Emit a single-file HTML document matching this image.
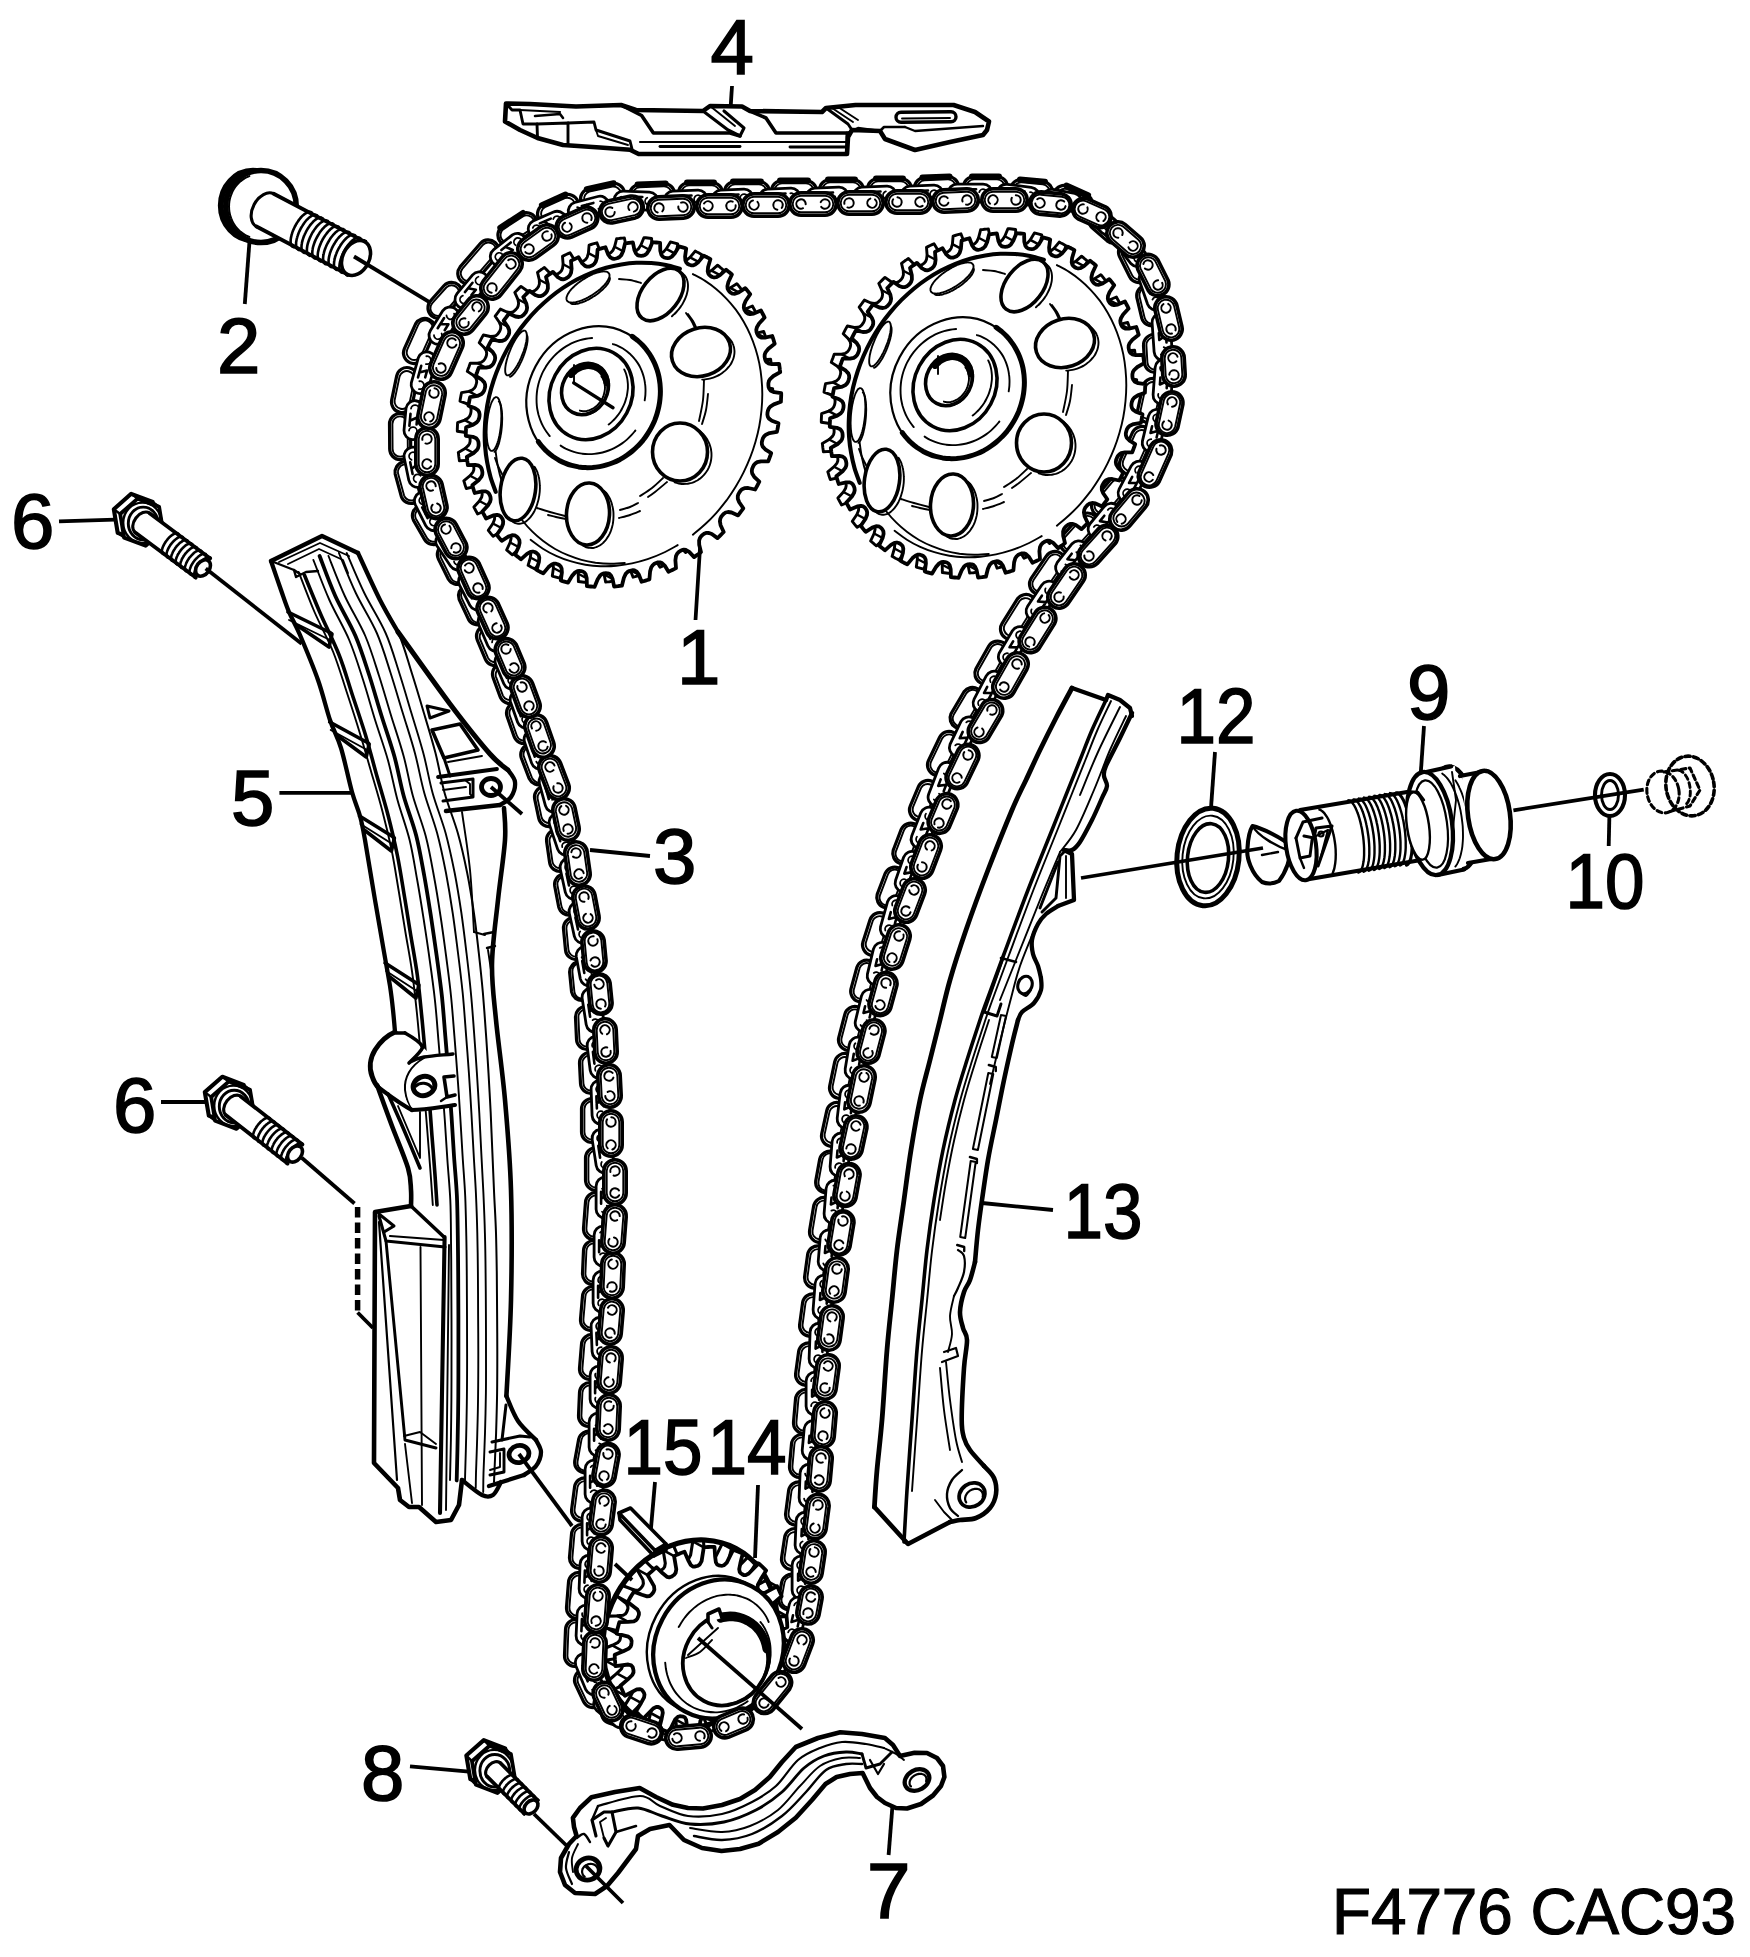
<!DOCTYPE html>
<html lang="en">
<head>
<meta charset="utf-8">
<title>F4776 CAC93</title>
<style>html,body{margin:0;padding:0;background:#fff}body{width:1750px;height:1957px;overflow:hidden}svg{display:block}</style>
</head>
<body>
<svg width="1750" height="1957" viewBox="0 0 1750 1957" fill="none" stroke="#000" stroke-linecap="round" stroke-linejoin="round">
<g id="chain-back">
<path d="M593.2 209.3 L616.2 204.3 A10.5 10.5 0 0 0 611.8 183.7 L588.8 188.7 A10.5 10.5 0 0 0 593.2 209.3Z" fill="#fff" stroke-width="3.2" />
<path d="M592.6 206.4 L615.6 201.4 A7.6 7.6 0 0 0 612.4 186.6 L589.4 191.6 A7.6 7.6 0 0 0 592.6 206.4Z" fill="none" stroke-width="1.9" />
<line x1="586.8" y1="189.2" x2="613.7" y2="183.3" stroke-width="6" />
<path d="M640.4 205.5 L664.4 204.5 A10.5 10.5 0 0 0 663.6 183.5 L639.6 184.5 A10.5 10.5 0 0 0 640.4 205.5Z" fill="#fff" stroke-width="3.2" />
<path d="M640.3 202.6 L664.3 201.6 A7.6 7.6 0 0 0 663.7 186.4 L639.7 187.4 A7.6 7.6 0 0 0 640.3 202.6Z" fill="none" stroke-width="1.9" />
<line x1="637.6" y1="184.6" x2="665.6" y2="183.4" stroke-width="6" />
<path d="M689 203.5 L712 203.5 A10.5 10.5 0 0 0 712 182.5 L689 182.5 A10.5 10.5 0 0 0 689 203.5Z" fill="#fff" stroke-width="3.2" />
<path d="M689 200.6 L712 200.6 A7.6 7.6 0 0 0 712 185.4 L689 185.4 A7.6 7.6 0 0 0 689 200.6Z" fill="none" stroke-width="1.9" />
<line x1="687" y1="182.5" x2="714" y2="182.5" stroke-width="6" />
<path d="M735 202.5 L759 202.5 A10.5 10.5 0 0 0 759 181.5 L735 181.5 A10.5 10.5 0 0 0 735 202.5Z" fill="#fff" stroke-width="3.2" />
<path d="M735 199.6 L759 199.6 A7.6 7.6 0 0 0 759 184.4 L735 184.4 A7.6 7.6 0 0 0 735 199.6Z" fill="none" stroke-width="1.9" />
<line x1="733" y1="181.5" x2="761" y2="181.5" stroke-width="6" />
<path d="M782 201.5 L806 201.5 A10.5 10.5 0 0 0 806 180.5 L782 180.5 A10.5 10.5 0 0 0 782 201.5Z" fill="#fff" stroke-width="3.2" />
<path d="M782 198.6 L806 198.6 A7.6 7.6 0 0 0 806 183.4 L782 183.4 A7.6 7.6 0 0 0 782 198.6Z" fill="none" stroke-width="1.9" />
<line x1="780" y1="180.5" x2="808" y2="180.5" stroke-width="6" />
<path d="M830 200.5 L853 200.5 A10.5 10.5 0 0 0 853 179.5 L830 179.5 A10.5 10.5 0 0 0 830 200.5Z" fill="#fff" stroke-width="3.2" />
<path d="M830 197.6 L853 197.6 A7.6 7.6 0 0 0 853 182.4 L830 182.4 A7.6 7.6 0 0 0 830 197.6Z" fill="none" stroke-width="1.9" />
<line x1="828" y1="179.5" x2="855" y2="179.5" stroke-width="6" />
<path d="M878 199.5 L901 199.5 A10.5 10.5 0 0 0 901 178.5 L878 178.5 A10.5 10.5 0 0 0 878 199.5Z" fill="#fff" stroke-width="3.2" />
<path d="M878 196.6 L901 196.6 A7.6 7.6 0 0 0 901 181.4 L878 181.4 A7.6 7.6 0 0 0 878 196.6Z" fill="none" stroke-width="1.9" />
<line x1="876" y1="178.5" x2="903" y2="178.5" stroke-width="6" />
<path d="M925.5 198.5 L948.5 197.5 A10.5 10.5 0 0 0 947.5 176.5 L924.5 177.5 A10.5 10.5 0 0 0 925.5 198.5Z" fill="#fff" stroke-width="3.2" />
<path d="M925.3 195.6 L948.3 194.6 A7.6 7.6 0 0 0 947.7 179.4 L924.7 180.4 A7.6 7.6 0 0 0 925.3 195.6Z" fill="none" stroke-width="1.9" />
<line x1="922.5" y1="177.6" x2="949.5" y2="176.4" stroke-width="6" />
<path d="M974 197.5 L997 197.5 A10.5 10.5 0 0 0 997 176.5 L974 176.5 A10.5 10.5 0 0 0 974 197.5Z" fill="#fff" stroke-width="3.2" />
<path d="M974 194.6 L997 194.6 A7.6 7.6 0 0 0 997 179.4 L974 179.4 A7.6 7.6 0 0 0 974 194.6Z" fill="none" stroke-width="1.9" />
<line x1="972" y1="176.5" x2="999" y2="176.5" stroke-width="6" />
<path d="M1020 200.5 L1041 202.5 A10.5 10.5 0 0 0 1043 181.5 L1022 179.5 A10.5 10.5 0 0 0 1020 200.5Z" fill="#fff" stroke-width="3.2" />
<path d="M1020.3 197.6 L1041.3 199.6 A7.6 7.6 0 0 0 1042.7 184.4 L1021.7 182.4 A7.6 7.6 0 0 0 1020.3 197.6Z" fill="none" stroke-width="1.9" />
<line x1="1020" y1="179.4" x2="1045" y2="181.7" stroke-width="6" />
<path d="M1059.7 205.6 L1077.7 213.6 A10.5 10.5 0 0 0 1086.3 194.4 L1068.3 186.4 A10.5 10.5 0 0 0 1059.7 205.6Z" fill="#fff" stroke-width="3.2" />
<path d="M1060.9 202.9 L1078.9 210.9 A7.6 7.6 0 0 0 1085.1 197.1 L1067.1 189.1 A7.6 7.6 0 0 0 1060.9 202.9Z" fill="none" stroke-width="1.9" />
<line x1="1066.4" y1="185.6" x2="1088.1" y2="195.2" stroke-width="6" />
<path d="M1092.1 227.9 L1107.1 240.9 A10.5 10.5 0 0 0 1120.9 225.1 L1105.9 212.1 A10.5 10.5 0 0 0 1092.1 227.9Z" fill="#fff" stroke-width="3.2" />
<path d="M1094 225.7 L1109 238.7 A7.6 7.6 0 0 0 1119 227.3 L1104 214.3 A7.6 7.6 0 0 0 1094 225.7Z" fill="none" stroke-width="1.9" />
<path d="M1119.6 256.7 L1129.6 276.7 A10.5 10.5 0 0 0 1148.4 267.3 L1138.4 247.3 A10.5 10.5 0 0 0 1119.6 256.7Z" fill="#fff" stroke-width="3.2" />
<path d="M1122.2 255.4 L1132.2 275.4 A7.6 7.6 0 0 0 1145.8 268.6 L1135.8 248.6 A7.6 7.6 0 0 0 1122.2 255.4Z" fill="none" stroke-width="1.9" />
<path d="M1136.8 297.4 L1141.8 318.4 A10.5 10.5 0 0 0 1162.2 313.6 L1157.2 292.6 A10.5 10.5 0 0 0 1136.8 297.4Z" fill="#fff" stroke-width="3.2" />
<path d="M1139.6 296.8 L1144.6 317.8 A7.6 7.6 0 0 0 1159.4 314.2 L1154.4 293.2 A7.6 7.6 0 0 0 1139.6 296.8Z" fill="none" stroke-width="1.9" />
<path d="M1143.5 345.6 L1144.5 362.6 A10.5 10.5 0 0 0 1165.5 361.4 L1164.5 344.4 A10.5 10.5 0 0 0 1143.5 345.6Z" fill="#fff" stroke-width="3.2" />
<path d="M1146.4 345.4 L1147.4 362.4 A7.6 7.6 0 0 0 1162.6 361.6 L1161.6 344.6 A7.6 7.6 0 0 0 1146.4 345.4Z" fill="none" stroke-width="1.9" />
<path d="M1142.7 386.8 L1137.7 409.8 A10.5 10.5 0 0 0 1158.3 414.2 L1163.3 391.2 A10.5 10.5 0 0 0 1142.7 386.8Z" fill="#fff" stroke-width="3.2" />
<path d="M1145.6 387.4 L1140.6 410.4 A7.6 7.6 0 0 0 1155.4 413.6 L1160.4 390.6 A7.6 7.6 0 0 0 1145.6 387.4Z" fill="none" stroke-width="1.9" />
<path d="M1132.4 432.7 L1120.4 459.7 A10.5 10.5 0 0 0 1139.6 468.3 L1151.6 441.3 A10.5 10.5 0 0 0 1132.4 432.7Z" fill="#fff" stroke-width="3.2" />
<path d="M1135.1 433.9 L1123.1 460.9 A7.6 7.6 0 0 0 1136.9 467.1 L1148.9 440.1 A7.6 7.6 0 0 0 1135.1 433.9Z" fill="none" stroke-width="1.9" />
<path d="M1110 480.2 L1094 499.2 A10.5 10.5 0 0 0 1110 512.8 L1126 493.8 A10.5 10.5 0 0 0 1110 480.2Z" fill="#fff" stroke-width="3.2" />
<path d="M1112.2 482.1 L1096.2 501.1 A7.6 7.6 0 0 0 1107.8 510.9 L1123.8 491.9 A7.6 7.6 0 0 0 1112.2 482.1Z" fill="none" stroke-width="1.9" />
<path d="M1080.2 516 L1062.2 536 A10.5 10.5 0 0 0 1077.8 550 L1095.8 530 A10.5 10.5 0 0 0 1080.2 516Z" fill="#fff" stroke-width="3.2" />
<path d="M1082.4 517.9 L1064.4 537.9 A7.6 7.6 0 0 0 1075.6 548.1 L1093.6 528.1 A7.6 7.6 0 0 0 1082.4 517.9Z" fill="none" stroke-width="1.9" />
<path d="M1046.3 556.1 L1031.3 578.1 A10.5 10.5 0 0 0 1048.7 589.9 L1063.7 567.9 A10.5 10.5 0 0 0 1046.3 556.1Z" fill="#fff" stroke-width="3.2" />
<path d="M1048.7 557.7 L1033.7 579.7 A7.6 7.6 0 0 0 1046.3 588.3 L1061.3 566.3 A7.6 7.6 0 0 0 1048.7 557.7Z" fill="none" stroke-width="1.9" />
<path d="M1017.1 599.4 L1002.1 623.4 A10.5 10.5 0 0 0 1019.9 634.6 L1034.9 610.6 A10.5 10.5 0 0 0 1017.1 599.4Z" fill="#fff" stroke-width="3.2" />
<path d="M1019.6 601 L1004.6 625 A7.6 7.6 0 0 0 1017.4 633 L1032.4 609 A7.6 7.6 0 0 0 1019.6 601Z" fill="none" stroke-width="1.9" />
<path d="M988.9 645.8 L975.9 668.8 A10.5 10.5 0 0 0 994.1 679.2 L1007.1 656.2 A10.5 10.5 0 0 0 988.9 645.8Z" fill="#fff" stroke-width="3.2" />
<path d="M991.4 647.3 L978.4 670.3 A7.6 7.6 0 0 0 991.6 677.7 L1004.6 654.7 A7.6 7.6 0 0 0 991.4 647.3Z" fill="none" stroke-width="1.9" />
<path d="M964 691.7 L951 713.7 A10.5 10.5 0 0 0 969 724.3 L982 702.3 A10.5 10.5 0 0 0 964 691.7Z" fill="#fff" stroke-width="3.2" />
<path d="M966.5 693.1 L953.5 715.1 A7.6 7.6 0 0 0 966.5 722.9 L979.5 700.9 A7.6 7.6 0 0 0 966.5 693.1Z" fill="none" stroke-width="1.9" />
<path d="M939.5 737.5 L928.5 760.5 A10.5 10.5 0 0 0 947.5 769.5 L958.5 746.5 A10.5 10.5 0 0 0 939.5 737.5Z" fill="#fff" stroke-width="3.2" />
<path d="M942.1 738.7 L931.1 761.7 A7.6 7.6 0 0 0 944.9 768.3 L955.9 745.3 A7.6 7.6 0 0 0 942.1 738.7Z" fill="none" stroke-width="1.9" />
<path d="M918.3 786.9 L910.3 805.9 A10.5 10.5 0 0 0 929.7 814.1 L937.7 795.1 A10.5 10.5 0 0 0 918.3 786.9Z" fill="#fff" stroke-width="3.2" />
<path d="M921 788.1 L913 807.1 A7.6 7.6 0 0 0 927 812.9 L935 793.9 A7.6 7.6 0 0 0 921 788.1Z" fill="none" stroke-width="1.9" />
<path d="M901.2 829.3 L893.2 850.3 A10.5 10.5 0 0 0 912.8 857.7 L920.8 836.7 A10.5 10.5 0 0 0 901.2 829.3Z" fill="#fff" stroke-width="3.2" />
<path d="M903.9 830.3 L895.9 851.3 A7.6 7.6 0 0 0 910.1 856.7 L918.1 835.7 A7.6 7.6 0 0 0 903.9 830.3Z" fill="none" stroke-width="1.9" />
<path d="M885.2 873.3 L877.2 894.3 A10.5 10.5 0 0 0 896.8 901.7 L904.8 880.7 A10.5 10.5 0 0 0 885.2 873.3Z" fill="#fff" stroke-width="3.2" />
<path d="M887.9 874.3 L879.9 895.3 A7.6 7.6 0 0 0 894.1 900.7 L902.1 879.7 A7.6 7.6 0 0 0 887.9 874.3Z" fill="none" stroke-width="1.9" />
<path d="M870 919.8 L863 941.8 A10.5 10.5 0 0 0 883 948.2 L890 926.2 A10.5 10.5 0 0 0 870 919.8Z" fill="#fff" stroke-width="3.2" />
<path d="M872.8 920.7 L865.8 942.7 A7.6 7.6 0 0 0 880.2 947.3 L887.2 925.3 A7.6 7.6 0 0 0 872.8 920.7Z" fill="none" stroke-width="1.9" />
<path d="M856.9 967.2 L850.9 989.2 A10.5 10.5 0 0 0 871.1 994.8 L877.1 972.8 A10.5 10.5 0 0 0 856.9 967.2Z" fill="#fff" stroke-width="3.2" />
<path d="M859.7 968 L853.7 990 A7.6 7.6 0 0 0 868.3 994 L874.3 972 A7.6 7.6 0 0 0 859.7 968Z" fill="none" stroke-width="1.9" />
<path d="M844.8 1014.3 L838.8 1037.3 A10.5 10.5 0 0 0 859.2 1042.7 L865.2 1019.7 A10.5 10.5 0 0 0 844.8 1014.3Z" fill="#fff" stroke-width="3.2" />
<path d="M847.6 1015.1 L841.6 1038.1 A7.6 7.6 0 0 0 856.4 1041.9 L862.4 1018.9 A7.6 7.6 0 0 0 847.6 1015.1Z" fill="none" stroke-width="1.9" />
<path d="M834.7 1061.9 L829.7 1085.9 A10.5 10.5 0 0 0 850.3 1090.1 L855.3 1066.1 A10.5 10.5 0 0 0 834.7 1061.9Z" fill="#fff" stroke-width="3.2" />
<path d="M837.6 1062.4 L832.6 1086.4 A7.6 7.6 0 0 0 847.4 1089.6 L852.4 1065.6 A7.6 7.6 0 0 0 837.6 1062.4Z" fill="none" stroke-width="1.9" />
<path d="M826.7 1110.8 L821.7 1133.8 A10.5 10.5 0 0 0 842.3 1138.2 L847.3 1115.2 A10.5 10.5 0 0 0 826.7 1110.8Z" fill="#fff" stroke-width="3.2" />
<path d="M829.6 1111.4 L824.6 1134.4 A7.6 7.6 0 0 0 839.4 1137.6 L844.4 1114.6 A7.6 7.6 0 0 0 829.6 1111.4Z" fill="none" stroke-width="1.9" />
<path d="M819.7 1159.1 L815.7 1181.1 A10.5 10.5 0 0 0 836.3 1184.9 L840.3 1162.9 A10.5 10.5 0 0 0 819.7 1159.1Z" fill="#fff" stroke-width="3.2" />
<path d="M822.5 1159.6 L818.5 1181.6 A7.6 7.6 0 0 0 833.5 1184.4 L837.5 1162.4 A7.6 7.6 0 0 0 822.5 1159.6Z" fill="none" stroke-width="1.9" />
<path d="M813.6 1206.3 L809.6 1230.3 A10.5 10.5 0 0 0 830.4 1233.7 L834.4 1209.7 A10.5 10.5 0 0 0 813.6 1206.3Z" fill="#fff" stroke-width="3.2" />
<path d="M816.5 1206.8 L812.5 1230.8 A7.6 7.6 0 0 0 827.5 1233.2 L831.5 1209.2 A7.6 7.6 0 0 0 816.5 1206.8Z" fill="none" stroke-width="1.9" />
<path d="M807.6 1254.6 L804.6 1276.6 A10.5 10.5 0 0 0 825.4 1279.4 L828.4 1257.4 A10.5 10.5 0 0 0 807.6 1254.6Z" fill="#fff" stroke-width="3.2" />
<path d="M810.5 1255 L807.5 1277 A7.6 7.6 0 0 0 822.5 1279 L825.5 1257 A7.6 7.6 0 0 0 810.5 1255Z" fill="none" stroke-width="1.9" />
<path d="M802.6 1302.6 L799.6 1324.6 A10.5 10.5 0 0 0 820.4 1327.4 L823.4 1305.4 A10.5 10.5 0 0 0 802.6 1302.6Z" fill="#fff" stroke-width="3.2" />
<path d="M805.5 1303 L802.5 1325 A7.6 7.6 0 0 0 817.5 1327 L820.5 1305 A7.6 7.6 0 0 0 805.5 1303Z" fill="none" stroke-width="1.9" />
<path d="M798.6 1351.6 L795.6 1373.6 A10.5 10.5 0 0 0 816.4 1376.4 L819.4 1354.4 A10.5 10.5 0 0 0 798.6 1351.6Z" fill="#fff" stroke-width="3.2" />
<path d="M801.5 1352 L798.5 1374 A7.6 7.6 0 0 0 813.5 1376 L816.5 1354 A7.6 7.6 0 0 0 801.5 1352Z" fill="none" stroke-width="1.9" />
<path d="M795.5 1399.1 L793.5 1422.1 A10.5 10.5 0 0 0 814.5 1423.9 L816.5 1400.9 A10.5 10.5 0 0 0 795.5 1399.1Z" fill="#fff" stroke-width="3.2" />
<path d="M798.4 1399.3 L796.4 1422.3 A7.6 7.6 0 0 0 811.6 1423.7 L813.6 1400.7 A7.6 7.6 0 0 0 798.4 1399.3Z" fill="none" stroke-width="1.9" />
<path d="M791.5 1444 L789.5 1466 A10.5 10.5 0 0 0 810.5 1468 L812.5 1446 A10.5 10.5 0 0 0 791.5 1444Z" fill="#fff" stroke-width="3.2" />
<path d="M794.4 1444.3 L792.4 1466.3 A7.6 7.6 0 0 0 807.6 1467.7 L809.6 1445.7 A7.6 7.6 0 0 0 794.4 1444.3Z" fill="none" stroke-width="1.9" />
<path d="M788.6 1490.6 L785.6 1513.6 A10.5 10.5 0 0 0 806.4 1516.4 L809.4 1493.4 A10.5 10.5 0 0 0 788.6 1490.6Z" fill="#fff" stroke-width="3.2" />
<path d="M791.5 1491 L788.5 1514 A7.6 7.6 0 0 0 803.5 1516 L806.5 1493 A7.6 7.6 0 0 0 791.5 1491Z" fill="none" stroke-width="1.9" />
<path d="M784.6 1537.4 L781.6 1557.4 A10.5 10.5 0 0 0 802.4 1560.6 L805.4 1540.6 A10.5 10.5 0 0 0 784.6 1537.4Z" fill="#fff" stroke-width="3.2" />
<path d="M787.5 1537.9 L784.5 1557.9 A7.6 7.6 0 0 0 799.5 1560.1 L802.5 1540.1 A7.6 7.6 0 0 0 787.5 1537.9Z" fill="none" stroke-width="1.9" />
<path d="M781.7 1582.1 L778.7 1598.1 A10.5 10.5 0 0 0 799.3 1601.9 L802.3 1585.9 A10.5 10.5 0 0 0 781.7 1582.1Z" fill="#fff" stroke-width="3.2" />
<path d="M784.5 1582.6 L781.5 1598.6 A7.6 7.6 0 0 0 796.5 1601.4 L799.5 1585.4 A7.6 7.6 0 0 0 784.5 1582.6Z" fill="none" stroke-width="1.9" />
<path d="M773.2 1623.3 L765.2 1644.3 A10.5 10.5 0 0 0 784.8 1651.7 L792.8 1630.7 A10.5 10.5 0 0 0 773.2 1623.3Z" fill="#fff" stroke-width="3.2" />
<path d="M775.9 1624.3 L767.9 1645.3 A7.6 7.6 0 0 0 782.1 1650.7 L790.1 1629.7 A7.6 7.6 0 0 0 775.9 1624.3Z" fill="none" stroke-width="1.9" />
<path d="M753.8 1662.4 L736.8 1683.4 A10.5 10.5 0 0 0 753.2 1696.6 L770.2 1675.6 A10.5 10.5 0 0 0 753.8 1662.4Z" fill="#fff" stroke-width="3.2" />
<path d="M756.1 1664.2 L739.1 1685.2 A7.6 7.6 0 0 0 750.9 1694.8 L767.9 1673.8 A7.6 7.6 0 0 0 756.1 1664.2Z" fill="none" stroke-width="1.9" />
<path d="M719.9 1696.3 L700.9 1704.3 A10.5 10.5 0 0 0 709.1 1723.7 L728.1 1715.7 A10.5 10.5 0 0 0 719.9 1696.3Z" fill="#fff" stroke-width="3.2" />
<path d="M721.1 1699 L702.1 1707 A7.6 7.6 0 0 0 707.9 1721 L726.9 1713 A7.6 7.6 0 0 0 721.1 1699Z" fill="none" stroke-width="1.9" />
<path d="M680.1 1712.5 L657.1 1714.5 A10.5 10.5 0 0 0 658.9 1735.5 L681.9 1733.5 A10.5 10.5 0 0 0 680.1 1712.5Z" fill="#fff" stroke-width="3.2" />
<path d="M680.3 1715.4 L657.3 1717.4 A7.6 7.6 0 0 0 658.7 1732.6 L681.7 1730.6 A7.6 7.6 0 0 0 680.3 1715.4Z" fill="none" stroke-width="1.9" />
<path d="M636.3 1710 L615.3 1703 A10.5 10.5 0 0 0 608.7 1723 L629.7 1730 A10.5 10.5 0 0 0 636.3 1710Z" fill="#fff" stroke-width="3.2" />
<path d="M635.4 1712.8 L614.4 1705.8 A7.6 7.6 0 0 0 609.6 1720.2 L630.6 1727.2 A7.6 7.6 0 0 0 635.4 1712.8Z" fill="none" stroke-width="1.9" />
<path d="M602.5 1692.5 L594.5 1675.5 A10.5 10.5 0 0 0 575.5 1684.5 L583.5 1701.5 A10.5 10.5 0 0 0 602.5 1692.5Z" fill="#fff" stroke-width="3.2" />
<path d="M599.9 1693.8 L591.9 1676.8 A7.6 7.6 0 0 0 578.1 1683.2 L586.1 1700.2 A7.6 7.6 0 0 0 599.9 1693.8Z" fill="none" stroke-width="1.9" />
<path d="M585.5 1656.4 L586.5 1630.4 A10.5 10.5 0 0 0 565.5 1629.6 L564.5 1655.6 A10.5 10.5 0 0 0 585.5 1656.4Z" fill="#fff" stroke-width="3.2" />
<path d="M582.6 1656.3 L583.6 1630.3 A7.6 7.6 0 0 0 568.4 1629.7 L567.4 1655.7 A7.6 7.6 0 0 0 582.6 1656.3Z" fill="none" stroke-width="1.9" />
<path d="M587.5 1608.8 L589.5 1583.8 A10.5 10.5 0 0 0 568.5 1582.2 L566.5 1607.2 A10.5 10.5 0 0 0 587.5 1608.8Z" fill="#fff" stroke-width="3.2" />
<path d="M584.6 1608.6 L586.6 1583.6 A7.6 7.6 0 0 0 571.4 1582.4 L569.4 1607.4 A7.6 7.6 0 0 0 584.6 1608.6Z" fill="none" stroke-width="1.9" />
<path d="M590.5 1558.9 L592.5 1535.9 A10.5 10.5 0 0 0 571.5 1534.1 L569.5 1557.1 A10.5 10.5 0 0 0 590.5 1558.9Z" fill="#fff" stroke-width="3.2" />
<path d="M587.6 1558.7 L589.6 1535.7 A7.6 7.6 0 0 0 574.4 1534.3 L572.4 1557.3 A7.6 7.6 0 0 0 587.6 1558.7Z" fill="none" stroke-width="1.9" />
<path d="M592.4 1512.4 L595.4 1489.4 A10.5 10.5 0 0 0 574.6 1486.6 L571.6 1509.6 A10.5 10.5 0 0 0 592.4 1512.4Z" fill="#fff" stroke-width="3.2" />
<path d="M589.5 1512 L592.5 1489 A7.6 7.6 0 0 0 577.5 1487 L574.5 1510 A7.6 7.6 0 0 0 589.5 1512Z" fill="none" stroke-width="1.9" />
<path d="M595.3 1464.9 L599.3 1442.9 A10.5 10.5 0 0 0 578.7 1439.1 L574.7 1461.1 A10.5 10.5 0 0 0 595.3 1464.9Z" fill="#fff" stroke-width="3.2" />
<path d="M592.5 1464.4 L596.5 1442.4 A7.6 7.6 0 0 0 581.5 1439.6 L577.5 1461.6 A7.6 7.6 0 0 0 592.5 1464.4Z" fill="none" stroke-width="1.9" />
<path d="M599.5 1416.5 L600.5 1393.5 A10.5 10.5 0 0 0 579.5 1392.5 L578.5 1415.5 A10.5 10.5 0 0 0 599.5 1416.5Z" fill="#fff" stroke-width="3.2" />
<path d="M596.6 1416.3 L597.6 1393.3 A7.6 7.6 0 0 0 582.4 1392.7 L581.4 1415.7 A7.6 7.6 0 0 0 596.6 1416.3Z" fill="none" stroke-width="1.9" />
<path d="M600.5 1369.9 L602.5 1345.9 A10.5 10.5 0 0 0 581.5 1344.1 L579.5 1368.1 A10.5 10.5 0 0 0 600.5 1369.9Z" fill="#fff" stroke-width="3.2" />
<path d="M597.6 1369.6 L599.6 1345.6 A7.6 7.6 0 0 0 584.4 1344.4 L582.4 1368.4 A7.6 7.6 0 0 0 597.6 1369.6Z" fill="none" stroke-width="1.9" />
<path d="M601.5 1320.9 L603.5 1297.9 A10.5 10.5 0 0 0 582.5 1296.1 L580.5 1319.1 A10.5 10.5 0 0 0 601.5 1320.9Z" fill="#fff" stroke-width="3.2" />
<path d="M598.6 1320.7 L600.6 1297.7 A7.6 7.6 0 0 0 585.4 1296.3 L583.4 1319.3 A7.6 7.6 0 0 0 598.6 1320.7Z" fill="none" stroke-width="1.9" />
<path d="M603.5 1274.5 L604.5 1251.5 A10.5 10.5 0 0 0 583.5 1250.5 L582.5 1273.5 A10.5 10.5 0 0 0 603.5 1274.5Z" fill="#fff" stroke-width="3.2" />
<path d="M600.6 1274.3 L601.6 1251.3 A7.6 7.6 0 0 0 586.4 1250.7 L585.4 1273.7 A7.6 7.6 0 0 0 600.6 1274.3Z" fill="none" stroke-width="1.9" />
<path d="M604.5 1229.8 L606.5 1203.8 A10.5 10.5 0 0 0 585.5 1202.2 L583.5 1228.2 A10.5 10.5 0 0 0 604.5 1229.8Z" fill="#fff" stroke-width="3.2" />
<path d="M601.6 1229.6 L603.6 1203.6 A7.6 7.6 0 0 0 588.4 1202.4 L586.4 1228.4 A7.6 7.6 0 0 0 601.6 1229.6Z" fill="none" stroke-width="1.9" />
<path d="M606.5 1180 L606.5 1158 A10.5 10.5 0 0 0 585.5 1158 L585.5 1180 A10.5 10.5 0 0 0 606.5 1180Z" fill="#fff" stroke-width="3.2" />
<path d="M603.6 1180 L603.6 1158 A7.6 7.6 0 0 0 588.4 1158 L588.4 1180 A7.6 7.6 0 0 0 603.6 1180Z" fill="none" stroke-width="1.9" />
<path d="M602.5 1132 L602.5 1109 A10.5 10.5 0 0 0 581.5 1109 L581.5 1132 A10.5 10.5 0 0 0 602.5 1132Z" fill="#fff" stroke-width="3.2" />
<path d="M599.6 1132 L599.6 1109 A7.6 7.6 0 0 0 584.4 1109 L584.4 1132 A7.6 7.6 0 0 0 599.6 1132Z" fill="none" stroke-width="1.9" />
<path d="M601.5 1082.5 L600.5 1062.5 A10.5 10.5 0 0 0 579.5 1063.5 L580.5 1083.5 A10.5 10.5 0 0 0 601.5 1082.5Z" fill="#fff" stroke-width="3.2" />
<path d="M598.6 1082.6 L597.6 1062.6 A7.6 7.6 0 0 0 582.4 1063.4 L583.4 1083.4 A7.6 7.6 0 0 0 598.6 1082.6Z" fill="none" stroke-width="1.9" />
<path d="M597.5 1038.5 L596.5 1016.5 A10.5 10.5 0 0 0 575.5 1017.5 L576.5 1039.5 A10.5 10.5 0 0 0 597.5 1038.5Z" fill="#fff" stroke-width="3.2" />
<path d="M594.6 1038.7 L593.6 1016.7 A7.6 7.6 0 0 0 578.4 1017.3 L579.4 1039.3 A7.6 7.6 0 0 0 594.6 1038.7Z" fill="none" stroke-width="1.9" />
<path d="M592.4 990 L590.4 970 A10.5 10.5 0 0 0 569.6 972 L571.6 992 A10.5 10.5 0 0 0 592.4 990Z" fill="#fff" stroke-width="3.2" />
<path d="M589.6 990.2 L587.6 970.2 A7.6 7.6 0 0 0 572.4 971.8 L574.4 991.8 A7.6 7.6 0 0 0 589.6 990.2Z" fill="none" stroke-width="1.9" />
<path d="M586.5 948 L584.5 927 A10.5 10.5 0 0 0 563.5 929 L565.5 950 A10.5 10.5 0 0 0 586.5 948Z" fill="#fff" stroke-width="3.2" />
<path d="M583.6 948.3 L581.6 927.3 A7.6 7.6 0 0 0 566.4 928.7 L568.4 949.7 A7.6 7.6 0 0 0 583.6 948.3Z" fill="none" stroke-width="1.9" />
<path d="M579.3 903 L575.3 882 A10.5 10.5 0 0 0 554.7 886 L558.7 907 A10.5 10.5 0 0 0 579.3 903Z" fill="#fff" stroke-width="3.2" />
<path d="M576.5 903.6 L572.5 882.6 A7.6 7.6 0 0 0 557.5 885.4 L561.5 906.4 A7.6 7.6 0 0 0 576.5 903.6Z" fill="none" stroke-width="1.9" />
<path d="M570.4 859.5 L567.4 838.5 A10.5 10.5 0 0 0 546.6 841.5 L549.6 862.5 A10.5 10.5 0 0 0 570.4 859.5Z" fill="#fff" stroke-width="3.2" />
<path d="M567.5 859.9 L564.5 838.9 A7.6 7.6 0 0 0 549.5 841.1 L552.5 862.1 A7.6 7.6 0 0 0 567.5 859.9Z" fill="none" stroke-width="1.9" />
<path d="M559.3 813.8 L555.3 794.8 A10.5 10.5 0 0 0 534.7 799.2 L538.7 818.2 A10.5 10.5 0 0 0 559.3 813.8Z" fill="#fff" stroke-width="3.2" />
<path d="M556.4 814.4 L552.4 795.4 A7.6 7.6 0 0 0 537.6 798.6 L541.6 817.6 A7.6 7.6 0 0 0 556.4 814.4Z" fill="none" stroke-width="1.9" />
<path d="M548.8 771.3 L540.8 750.3 A10.5 10.5 0 0 0 521.2 757.7 L529.2 778.7 A10.5 10.5 0 0 0 548.8 771.3Z" fill="#fff" stroke-width="3.2" />
<path d="M546.1 772.3 L538.1 751.3 A7.6 7.6 0 0 0 523.9 756.7 L531.9 777.7 A7.6 7.6 0 0 0 546.1 772.3Z" fill="none" stroke-width="1.9" />
<path d="M533.9 729.5 L526.9 709.5 A10.5 10.5 0 0 0 507.1 716.5 L514.1 736.5 A10.5 10.5 0 0 0 533.9 729.5Z" fill="#fff" stroke-width="3.2" />
<path d="M531.2 730.5 L524.2 710.5 A7.6 7.6 0 0 0 509.8 715.5 L516.8 735.5 A7.6 7.6 0 0 0 531.2 730.5Z" fill="none" stroke-width="1.9" />
<path d="M519.9 689.4 L512.9 670.4 A10.5 10.5 0 0 0 493.1 677.6 L500.1 696.6 A10.5 10.5 0 0 0 519.9 689.4Z" fill="#fff" stroke-width="3.2" />
<path d="M517.1 690.4 L510.1 671.4 A7.6 7.6 0 0 0 495.9 676.6 L502.9 695.6 A7.6 7.6 0 0 0 517.1 690.4Z" fill="none" stroke-width="1.9" />
<path d="M504.7 650.9 L496.7 631.9 A10.5 10.5 0 0 0 477.3 640.1 L485.3 659.1 A10.5 10.5 0 0 0 504.7 650.9Z" fill="#fff" stroke-width="3.2" />
<path d="M502 652.1 L494 633.1 A7.6 7.6 0 0 0 480 638.9 L488 657.9 A7.6 7.6 0 0 0 502 652.1Z" fill="none" stroke-width="1.9" />
<path d="M487.5 610.6 L478.1 590.5 A10.5 10.5 0 0 0 459.1 599.3 L468.5 619.4 A10.5 10.5 0 0 0 487.5 610.6Z" fill="#fff" stroke-width="3.2" />
<path d="M484.9 611.8 L475.5 591.7 A7.6 7.6 0 0 0 461.7 598.1 L471.1 618.2 A7.6 7.6 0 0 0 484.9 611.8Z" fill="none" stroke-width="1.9" />
<path d="M467.2 570.1 L457.3 549.8 A10.5 10.5 0 0 0 438.4 559.1 L448.4 579.3 A10.5 10.5 0 0 0 467.2 570.1Z" fill="#fff" stroke-width="3.2" />
<path d="M464.6 571.3 L454.7 551.1 A7.6 7.6 0 0 0 441 557.8 L451 578.1 A7.6 7.6 0 0 0 464.6 571.3Z" fill="none" stroke-width="1.9" />
<path d="M442.7 528.9 L431.5 509.6 A10.5 10.5 0 0 0 413.4 520.1 L424.5 539.4 A10.5 10.5 0 0 0 442.7 528.9Z" fill="#fff" stroke-width="3.2" />
<path d="M440.2 530.3 L429 511.1 A7.6 7.6 0 0 0 415.9 518.7 L427 538 A7.6 7.6 0 0 0 440.2 530.3Z" fill="none" stroke-width="1.9" />
<path d="M421.5 490.8 L415.4 468.6 A10.5 10.5 0 0 0 395.2 474.1 L401.3 496.4 A10.5 10.5 0 0 0 421.5 490.8Z" fill="#fff" stroke-width="3.2" />
<path d="M418.7 491.6 L412.6 469.3 A7.6 7.6 0 0 0 398 473.3 L404.1 495.6 A7.6 7.6 0 0 0 418.7 491.6Z" fill="none" stroke-width="1.9" />
<path d="M410.7 449 L410.5 423.9 A10.5 10.5 0 0 0 389.5 424.1 L389.7 449.1 A10.5 10.5 0 0 0 410.7 449Z" fill="#fff" stroke-width="3.2" />
<path d="M407.8 449 L407.6 423.9 A7.6 7.6 0 0 0 392.4 424.1 L392.6 449.1 A7.6 7.6 0 0 0 407.8 449Z" fill="none" stroke-width="1.9" />
<path d="M412.3 404.1 L417.3 380.1 A10.5 10.5 0 0 0 396.7 375.9 L391.7 399.9 A10.5 10.5 0 0 0 412.3 404.1Z" fill="#fff" stroke-width="3.2" />
<path d="M409.4 403.6 L414.4 379.6 A7.6 7.6 0 0 0 399.6 376.4 L394.6 400.4 A7.6 7.6 0 0 0 409.4 403.6Z" fill="none" stroke-width="1.9" />
<path d="M423.6 357.3 L434.7 332.3 A10.5 10.5 0 0 0 415.6 323.8 L404.4 348.7 A10.5 10.5 0 0 0 423.6 357.3Z" fill="#fff" stroke-width="3.2" />
<path d="M420.9 356.1 L432.1 331.1 A7.6 7.6 0 0 0 418.2 324.9 L407.1 349.9 A7.6 7.6 0 0 0 420.9 356.1Z" fill="none" stroke-width="1.9" />
<path d="M445.9 315.2 L459.8 299.4 A10.5 10.5 0 0 0 444.1 285.5 L430.2 301.3 A10.5 10.5 0 0 0 445.9 315.2Z" fill="#fff" stroke-width="3.2" />
<path d="M443.7 313.3 L457.7 297.5 A7.6 7.6 0 0 0 446.3 287.5 L432.3 303.2 A7.6 7.6 0 0 0 443.7 313.3Z" fill="none" stroke-width="1.9" />
<path d="M476 280.6 L496.4 257 A10.5 10.5 0 0 0 480.5 243.3 L460.1 266.9 A10.5 10.5 0 0 0 476 280.6Z" fill="#fff" stroke-width="3.2" />
<path d="M473.8 278.7 L494.2 255.1 A7.6 7.6 0 0 0 482.7 245.1 L462.3 268.8 A7.6 7.6 0 0 0 473.8 278.7Z" fill="none" stroke-width="1.9" />
<path d="M513.5 244.2 L532.8 231.5 A10.5 10.5 0 0 0 521.3 214 L502 226.7 A10.5 10.5 0 0 0 513.5 244.2Z" fill="#fff" stroke-width="3.2" />
<path d="M511.9 241.8 L531.2 229.1 A7.6 7.6 0 0 0 522.9 216.4 L503.6 229.1 A7.6 7.6 0 0 0 511.9 241.8Z" fill="none" stroke-width="1.9" />
<line x1="500.3" y1="227.8" x2="523" y2="212.9" stroke-width="6" />
<path d="M552.3 223.6 L572.3 214.6 A10.5 10.5 0 0 0 563.7 195.4 L543.7 204.4 A10.5 10.5 0 0 0 552.3 223.6Z" fill="#fff" stroke-width="3.2" />
<path d="M551.1 220.9 L571.1 211.9 A7.6 7.6 0 0 0 564.9 198.1 L544.9 207.1 A7.6 7.6 0 0 0 551.1 220.9Z" fill="none" stroke-width="1.9" />
<line x1="541.9" y1="205.2" x2="565.5" y2="194.6" stroke-width="6" />
</g>
<g id="chain-mid">
<path d="M622.8 209.2 L648.8 210.2 A9 9 0 0 0 649.5 192.2 L623.5 191.2 A9 9 0 0 0 622.8 209.2Z" fill="#fff" stroke-width="2.8" />
<path d="M630.3 196.5 l12 0.5 M635.3 196.7 l3.7 7.1 l-7 -0.3" fill="none" stroke-width="2.6" />
<circle cx="623.1" cy="200.2" r="4" fill="none" stroke-width="1.8" stroke-dasharray="14 11" transform="rotate(37 623.1 200.2)"/>
<circle cx="649.1" cy="201.2" r="4" fill="none" stroke-width="1.8" stroke-dasharray="14 11" transform="rotate(37 649.1 201.2)"/>
<path d="M673.5 209.2 L698.5 208.2 A9 9 0 0 0 697.8 190.2 L672.8 191.2 A9 9 0 0 0 673.5 209.2Z" fill="#fff" stroke-width="2.8" />
<path d="M679.5 196 l12 -0.5 M684.5 195.8 l4.3 6.8 l-7 0.3" fill="none" stroke-width="2.6" />
<circle cx="673.1" cy="200.2" r="4" fill="none" stroke-width="1.8" stroke-dasharray="14 11" transform="rotate(111 673.1 200.2)"/>
<circle cx="698.1" cy="199.2" r="4" fill="none" stroke-width="1.8" stroke-dasharray="14 11" transform="rotate(111 698.1 199.2)"/>
<path d="M721.5 208.2 L744.5 207.2 A9 9 0 0 0 743.7 189.2 L720.7 190.2 A9 9 0 0 0 721.5 208.2Z" fill="#fff" stroke-width="2.8" />
<path d="M726.5 195 l12 -0.5 M731.4 194.8 l4.3 6.8 l-7 0.3" fill="none" stroke-width="2.6" />
<circle cx="721.1" cy="199.2" r="4" fill="none" stroke-width="1.8" stroke-dasharray="14 11" transform="rotate(185 721.1 199.2)"/>
<circle cx="744.1" cy="198.2" r="4" fill="none" stroke-width="1.8" stroke-dasharray="14 11" transform="rotate(185 744.1 198.2)"/>
<path d="M768.5 207.2 L791.5 206.2 A9 9 0 0 0 790.7 188.2 L767.7 189.2 A9 9 0 0 0 768.5 207.2Z" fill="#fff" stroke-width="2.8" />
<path d="M773.5 194 l12 -0.5 M778.4 193.8 l4.3 6.8 l-7 0.3" fill="none" stroke-width="2.6" />
<circle cx="768.1" cy="198.2" r="4" fill="none" stroke-width="1.8" stroke-dasharray="14 11" transform="rotate(259 768.1 198.2)"/>
<circle cx="791.1" cy="197.2" r="4" fill="none" stroke-width="1.8" stroke-dasharray="14 11" transform="rotate(259 791.1 197.2)"/>
<path d="M815.5 206.2 L839.5 205.2 A9 9 0 0 0 838.7 187.2 L814.7 188.2 A9 9 0 0 0 815.5 206.2Z" fill="#fff" stroke-width="2.8" />
<path d="M821 193 l12 -0.5 M826 192.8 l4.3 6.8 l-7 0.3" fill="none" stroke-width="2.6" />
<circle cx="815.1" cy="197.2" r="4" fill="none" stroke-width="1.8" stroke-dasharray="14 11" transform="rotate(333 815.1 197.2)"/>
<circle cx="839.1" cy="196.2" r="4" fill="none" stroke-width="1.8" stroke-dasharray="14 11" transform="rotate(333 839.1 196.2)"/>
<path d="M862.5 205.2 L887.5 204.2 A9 9 0 0 0 886.8 186.2 L861.8 187.2 A9 9 0 0 0 862.5 205.2Z" fill="#fff" stroke-width="2.8" />
<path d="M868.5 192 l12 -0.5 M873.5 191.8 l4.3 6.8 l-7 0.3" fill="none" stroke-width="2.6" />
<circle cx="862.1" cy="196.2" r="4" fill="none" stroke-width="1.8" stroke-dasharray="14 11" transform="rotate(47 862.1 196.2)"/>
<circle cx="887.1" cy="195.2" r="4" fill="none" stroke-width="1.8" stroke-dasharray="14 11" transform="rotate(47 887.1 195.2)"/>
<path d="M910.5 204.2 L934.5 203.2 A9 9 0 0 0 933.7 185.2 L909.7 186.2 A9 9 0 0 0 910.5 204.2Z" fill="#fff" stroke-width="2.8" />
<path d="M916 191 l12 -0.5 M921 190.8 l4.3 6.8 l-7 0.3" fill="none" stroke-width="2.6" />
<circle cx="910.1" cy="195.2" r="4" fill="none" stroke-width="1.8" stroke-dasharray="14 11" transform="rotate(121 910.1 195.2)"/>
<circle cx="934.1" cy="194.2" r="4" fill="none" stroke-width="1.8" stroke-dasharray="14 11" transform="rotate(121 934.1 194.2)"/>
<path d="M957.1 202.2 L983.1 202.2 A9 9 0 0 0 983.1 184.2 L957.1 184.2 A9 9 0 0 0 957.1 202.2Z" fill="#fff" stroke-width="2.8" />
<path d="M964.1 189.2 l12 0 M969.1 189.2 l4 7 l-7 -0" fill="none" stroke-width="2.6" />
<circle cx="957.1" cy="193.2" r="4" fill="none" stroke-width="1.8" stroke-dasharray="14 11" transform="rotate(195 957.1 193.2)"/>
<circle cx="983.1" cy="193.2" r="4" fill="none" stroke-width="1.8" stroke-dasharray="14 11" transform="rotate(195 983.1 193.2)"/>
<path d="M1005 202.2 L1029 205.2 A9 9 0 0 0 1031.2 187.3 L1007.2 184.3 A9 9 0 0 0 1005 202.2Z" fill="#fff" stroke-width="2.8" />
<path d="M1012.7 190 l11.9 1.5 M1017.6 190.6 l3.1 7.4 l-6.9 -0.9" fill="none" stroke-width="2.6" />
<circle cx="1006.1" cy="193.2" r="4" fill="none" stroke-width="1.8" stroke-dasharray="14 11" transform="rotate(269 1006.1 193.2)"/>
<circle cx="1030.1" cy="196.2" r="4" fill="none" stroke-width="1.8" stroke-dasharray="14 11" transform="rotate(269 1030.1 196.2)"/>
<path d="M1049.5 207.1 L1071.5 211.1 A9 9 0 0 0 1074.7 193.4 L1052.7 189.4 A9 9 0 0 0 1049.5 207.1Z" fill="#fff" stroke-width="2.8" />
<path d="M1056.9 195.2 l11.8 2.1 M1061.9 196.1 l2.7 7.6 l-6.9 -1.3" fill="none" stroke-width="2.6" />
<circle cx="1051.1" cy="198.2" r="4" fill="none" stroke-width="1.8" stroke-dasharray="14 11" transform="rotate(343 1051.1 198.2)"/>
<circle cx="1073.1" cy="202.2" r="4" fill="none" stroke-width="1.8" stroke-dasharray="14 11" transform="rotate(343 1073.1 202.2)"/>
<path d="M1085 216.8 L1102 232.8 A9 9 0 0 0 1114.3 219.7 L1097.3 203.7 A9 9 0 0 0 1085 216.8Z" fill="#fff" stroke-width="2.8" />
<path d="M1098 211.2 l8.7 8.2 M1101.6 214.6 l-1.9 7.8 l-5.1 -4.8" fill="none" stroke-width="2.6" />
<circle cx="1091.1" cy="210.2" r="4" fill="none" stroke-width="1.8" stroke-dasharray="14 11" transform="rotate(57 1091.1 210.2)"/>
<circle cx="1108.1" cy="226.2" r="4" fill="none" stroke-width="1.8" stroke-dasharray="14 11" transform="rotate(57 1108.1 226.2)"/>
<path d="M1116.1 244.8 L1131.1 263.8 A9 9 0 0 0 1145.2 252.7 L1130.2 233.7 A9 9 0 0 0 1116.1 244.8Z" fill="#fff" stroke-width="2.8" />
<path d="M1130 241.6 l7.4 9.4 M1133.1 245.5 l-3 7.5 l-4.3 -5.5" fill="none" stroke-width="2.6" />
<circle cx="1123.1" cy="239.2" r="4" fill="none" stroke-width="1.8" stroke-dasharray="14 11" transform="rotate(131 1123.1 239.2)"/>
<circle cx="1138.1" cy="258.2" r="4" fill="none" stroke-width="1.8" stroke-dasharray="14 11" transform="rotate(131 1138.1 258.2)"/>
<path d="M1139.6 281.2 L1147.6 304.2 A9 9 0 0 0 1164.6 298.3 L1156.6 275.3 A9 9 0 0 0 1139.6 281.2Z" fill="#fff" stroke-width="2.8" />
<path d="M1153.9 282.8 l3.9 11.3 M1155.6 287.5 l-5.3 6.1 l-2.3 -6.6" fill="none" stroke-width="2.6" />
<circle cx="1148.1" cy="278.2" r="4" fill="none" stroke-width="1.8" stroke-dasharray="14 11" transform="rotate(205 1148.1 278.2)"/>
<circle cx="1156.1" cy="301.2" r="4" fill="none" stroke-width="1.8" stroke-dasharray="14 11" transform="rotate(205 1156.1 301.2)"/>
<path d="M1152.1 322.9 L1154.1 351.9 A9 9 0 0 0 1172.1 350.6 L1170.1 321.6 A9 9 0 0 0 1152.1 322.9Z" fill="#fff" stroke-width="2.8" />
<path d="M1165.7 330.5 l0.8 12 M1166 335.5 l-6.7 4.5 l-0.5 -7" fill="none" stroke-width="2.6" />
<circle cx="1161.1" cy="322.2" r="4" fill="none" stroke-width="1.8" stroke-dasharray="14 11" transform="rotate(279 1161.1 322.2)"/>
<circle cx="1163.1" cy="351.2" r="4" fill="none" stroke-width="1.8" stroke-dasharray="14 11" transform="rotate(279 1163.1 351.2)"/>
<path d="M1155.1 367.6 L1153.1 394.6 A9 9 0 0 0 1171.1 395.9 L1173.1 368.9 A9 9 0 0 0 1155.1 367.6Z" fill="#fff" stroke-width="2.8" />
<path d="M1167.6 376.1 l-0.9 12 M1167.2 381 l-7.3 3.5 l0.5 -7" fill="none" stroke-width="2.6" />
<circle cx="1164.1" cy="368.2" r="4" fill="none" stroke-width="1.8" stroke-dasharray="14 11" transform="rotate(353 1164.1 368.2)"/>
<circle cx="1162.1" cy="395.2" r="4" fill="none" stroke-width="1.8" stroke-dasharray="14 11" transform="rotate(353 1162.1 395.2)"/>
<path d="M1148.4 416.1 L1142.4 441.1 A9 9 0 0 0 1159.9 445.3 L1165.9 420.3 A9 9 0 0 0 1148.4 416.1Z" fill="#fff" stroke-width="2.8" />
<path d="M1159.4 425.8 l-2.8 11.7 M1158.2 430.7 l-7.7 2.3 l1.6 -6.8" fill="none" stroke-width="2.6" />
<circle cx="1157.1" cy="418.2" r="4" fill="none" stroke-width="1.8" stroke-dasharray="14 11" transform="rotate(67 1157.1 418.2)"/>
<circle cx="1151.1" cy="443.2" r="4" fill="none" stroke-width="1.8" stroke-dasharray="14 11" transform="rotate(67 1151.1 443.2)"/>
<path d="M1131.1 466.1 L1119.1 489.1 A9 9 0 0 0 1135.1 497.4 L1147.1 474.4 A9 9 0 0 0 1131.1 466.1Z" fill="#fff" stroke-width="2.8" />
<path d="M1139.4 478.3 l-5.6 10.6 M1137.1 482.7 l-8.1 0.3 l3.2 -6.2" fill="none" stroke-width="2.6" />
<circle cx="1139.1" cy="470.2" r="4" fill="none" stroke-width="1.8" stroke-dasharray="14 11" transform="rotate(141 1139.1 470.2)"/>
<circle cx="1127.1" cy="493.2" r="4" fill="none" stroke-width="1.8" stroke-dasharray="14 11" transform="rotate(141 1127.1 493.2)"/>
<path d="M1104.2 506.5 L1090.2 523.5 A9 9 0 0 0 1104.1 535 L1118.1 518 A9 9 0 0 0 1104.2 506.5Z" fill="#fff" stroke-width="2.8" />
<path d="M1111 518.7 l-7.6 9.3 M1107.8 522.5 l-7.9 -1.4 l4.4 -5.4" fill="none" stroke-width="2.6" />
<circle cx="1111.1" cy="512.2" r="4" fill="none" stroke-width="1.8" stroke-dasharray="14 11" transform="rotate(215 1111.1 512.2)"/>
<circle cx="1097.1" cy="529.2" r="4" fill="none" stroke-width="1.8" stroke-dasharray="14 11" transform="rotate(215 1097.1 529.2)"/>
<path d="M1072.1 543.7 L1057.1 562.7 A9 9 0 0 0 1071.2 573.8 L1086.2 554.8 A9 9 0 0 0 1072.1 543.7Z" fill="#fff" stroke-width="2.8" />
<path d="M1078.5 556.5 l-7.4 9.4 M1075.4 560.4 l-8 -1.2 l4.3 -5.5" fill="none" stroke-width="2.6" />
<circle cx="1079.1" cy="549.2" r="4" fill="none" stroke-width="1.8" stroke-dasharray="14 11" transform="rotate(289 1079.1 549.2)"/>
<circle cx="1064.1" cy="568.2" r="4" fill="none" stroke-width="1.8" stroke-dasharray="14 11" transform="rotate(289 1064.1 568.2)"/>
<path d="M1041.6 585.2 L1027.6 606.2 A9 9 0 0 0 1042.6 616.2 L1056.6 595.2 A9 9 0 0 0 1041.6 585.2Z" fill="#fff" stroke-width="2.8" />
<path d="M1048.8 598 l-6.7 10 M1046 602.1 l-8 -0.6 l3.9 -5.8" fill="none" stroke-width="2.6" />
<circle cx="1049.1" cy="590.2" r="4" fill="none" stroke-width="1.8" stroke-dasharray="14 11" transform="rotate(3 1049.1 590.2)"/>
<circle cx="1035.1" cy="611.2" r="4" fill="none" stroke-width="1.8" stroke-dasharray="14 11" transform="rotate(3 1035.1 611.2)"/>
<path d="M1012.4 630.7 L999.4 652.7 A9 9 0 0 0 1014.9 661.8 L1027.9 639.8 A9 9 0 0 0 1012.4 630.7Z" fill="#fff" stroke-width="2.8" />
<path d="M1020.1 643.1 l-6.1 10.3 M1017.6 647.4 l-8.1 -0.1 l3.6 -6" fill="none" stroke-width="2.6" />
<circle cx="1020.1" cy="635.2" r="4" fill="none" stroke-width="1.8" stroke-dasharray="14 11" transform="rotate(77 1020.1 635.2)"/>
<circle cx="1007.1" cy="657.2" r="4" fill="none" stroke-width="1.8" stroke-dasharray="14 11" transform="rotate(77 1007.1 657.2)"/>
<path d="M986.1 676.1 L974.1 699.1 A9 9 0 0 0 990.1 707.4 L1002.1 684.4 A9 9 0 0 0 986.1 676.1Z" fill="#fff" stroke-width="2.8" />
<path d="M994.4 688.3 l-5.6 10.6 M992.1 692.7 l-8.1 0.3 l3.2 -6.2" fill="none" stroke-width="2.6" />
<circle cx="994.1" cy="680.2" r="4" fill="none" stroke-width="1.8" stroke-dasharray="14 11" transform="rotate(151 994.1 680.2)"/>
<circle cx="982.1" cy="703.2" r="4" fill="none" stroke-width="1.8" stroke-dasharray="14 11" transform="rotate(151 982.1 703.2)"/>
<path d="M961 721.4 L950 744.4 A9 9 0 0 0 966.2 752.1 L977.2 729.1 A9 9 0 0 0 961 721.4Z" fill="#fff" stroke-width="2.8" />
<path d="M969.8 733.1 l-5.2 10.8 M967.7 737.6 l-8 0.6 l3 -6.3" fill="none" stroke-width="2.6" />
<circle cx="969.1" cy="725.2" r="4" fill="none" stroke-width="1.8" stroke-dasharray="14 11" transform="rotate(225 969.1 725.2)"/>
<circle cx="958.1" cy="748.2" r="4" fill="none" stroke-width="1.8" stroke-dasharray="14 11" transform="rotate(225 958.1 748.2)"/>
<path d="M938.7 768 L928.7 794 A9 9 0 0 0 945.5 800.5 L955.5 774.5 A9 9 0 0 0 938.7 768Z" fill="#fff" stroke-width="2.8" />
<path d="M948 780.1 l-4.3 11.2 M946.2 784.7 l-8 1.2 l2.5 -6.5" fill="none" stroke-width="2.6" />
<circle cx="947.1" cy="771.2" r="4" fill="none" stroke-width="1.8" stroke-dasharray="14 11" transform="rotate(299 947.1 771.2)"/>
<circle cx="937.1" cy="797.2" r="4" fill="none" stroke-width="1.8" stroke-dasharray="14 11" transform="rotate(299 937.1 797.2)"/>
<path d="M920.7 813 L911.7 836 A9 9 0 0 0 928.5 842.5 L937.5 819.5 A9 9 0 0 0 920.7 813Z" fill="#fff" stroke-width="2.8" />
<path d="M930.5 823.6 l-4.4 11.2 M928.7 828.3 l-8 1.2 l2.6 -6.5" fill="none" stroke-width="2.6" />
<circle cx="929.1" cy="816.2" r="4" fill="none" stroke-width="1.8" stroke-dasharray="14 11" transform="rotate(13 929.1 816.2)"/>
<circle cx="920.1" cy="839.2" r="4" fill="none" stroke-width="1.8" stroke-dasharray="14 11" transform="rotate(13 920.1 839.2)"/>
<path d="M903.6 857.3 L895.6 880.3 A9 9 0 0 0 912.6 886.2 L920.6 863.2 A9 9 0 0 0 903.6 857.3Z" fill="#fff" stroke-width="2.8" />
<path d="M913.9 867.4 l-3.9 11.3 M912.2 872.1 l-7.9 1.5 l2.3 -6.6" fill="none" stroke-width="2.6" />
<circle cx="912.1" cy="860.2" r="4" fill="none" stroke-width="1.8" stroke-dasharray="14 11" transform="rotate(87 912.1 860.2)"/>
<circle cx="904.1" cy="883.2" r="4" fill="none" stroke-width="1.8" stroke-dasharray="14 11" transform="rotate(87 904.1 883.2)"/>
<path d="M887.5 901.8 L880.5 926.8 A9 9 0 0 0 897.8 931.7 L904.8 906.7 A9 9 0 0 0 887.5 901.8Z" fill="#fff" stroke-width="2.8" />
<path d="M898.1 912 l-3.2 11.6 M896.7 916.9 l-7.8 2 l1.9 -6.7" fill="none" stroke-width="2.6" />
<circle cx="896.1" cy="904.2" r="4" fill="none" stroke-width="1.8" stroke-dasharray="14 11" transform="rotate(161 896.1 904.2)"/>
<circle cx="889.1" cy="929.2" r="4" fill="none" stroke-width="1.8" stroke-dasharray="14 11" transform="rotate(161 889.1 929.2)"/>
<path d="M873.4 949.1 L867.4 974.1 A9 9 0 0 0 884.9 978.3 L890.9 953.3 A9 9 0 0 0 873.4 949.1Z" fill="#fff" stroke-width="2.8" />
<path d="M884.4 958.8 l-2.8 11.7 M883.2 963.7 l-7.7 2.3 l1.6 -6.8" fill="none" stroke-width="2.6" />
<circle cx="882.1" cy="951.2" r="4" fill="none" stroke-width="1.8" stroke-dasharray="14 11" transform="rotate(235 882.1 951.2)"/>
<circle cx="876.1" cy="976.2" r="4" fill="none" stroke-width="1.8" stroke-dasharray="14 11" transform="rotate(235 876.1 976.2)"/>
<path d="M861.4 996.1 L855.4 1021.1 A9 9 0 0 0 872.9 1025.3 L878.9 1000.3 A9 9 0 0 0 861.4 996.1Z" fill="#fff" stroke-width="2.8" />
<path d="M872.4 1005.8 l-2.8 11.7 M871.2 1010.7 l-7.7 2.3 l1.6 -6.8" fill="none" stroke-width="2.6" />
<circle cx="870.1" cy="998.2" r="4" fill="none" stroke-width="1.8" stroke-dasharray="14 11" transform="rotate(309 870.1 998.2)"/>
<circle cx="864.1" cy="1023.2" r="4" fill="none" stroke-width="1.8" stroke-dasharray="14 11" transform="rotate(309 864.1 1023.2)"/>
<path d="M849.2 1044.8 L845.2 1068.8 A9 9 0 0 0 863 1071.7 L867 1047.7 A9 9 0 0 0 849.2 1044.8Z" fill="#fff" stroke-width="2.8" />
<path d="M861.1 1053 l-2 11.8 M860.2 1057.9 l-7.6 2.8 l1.2 -6.9" fill="none" stroke-width="2.6" />
<circle cx="858.1" cy="1046.2" r="4" fill="none" stroke-width="1.8" stroke-dasharray="14 11" transform="rotate(23 858.1 1046.2)"/>
<circle cx="854.1" cy="1070.2" r="4" fill="none" stroke-width="1.8" stroke-dasharray="14 11" transform="rotate(23 854.1 1070.2)"/>
<path d="M840.2 1093.2 L837.2 1118.2 A9 9 0 0 0 855.1 1120.3 L858.1 1095.3 A9 9 0 0 0 840.2 1093.2Z" fill="#fff" stroke-width="2.8" />
<path d="M852.3 1101.3 l-1.4 11.9 M851.7 1106.2 l-7.4 3.1 l0.8 -7" fill="none" stroke-width="2.6" />
<circle cx="849.1" cy="1094.2" r="4" fill="none" stroke-width="1.8" stroke-dasharray="14 11" transform="rotate(97 849.1 1094.2)"/>
<circle cx="846.1" cy="1119.2" r="4" fill="none" stroke-width="1.8" stroke-dasharray="14 11" transform="rotate(97 846.1 1119.2)"/>
<path d="M832.1 1141.5 L830.1 1166.5 A9 9 0 0 0 848.1 1168 L850.1 1143 A9 9 0 0 0 832.1 1141.5Z" fill="#fff" stroke-width="2.8" />
<path d="M844.6 1149.1 l-1 12 M844.2 1154.1 l-7.3 3.4 l0.6 -7" fill="none" stroke-width="2.6" />
<circle cx="841.1" cy="1142.2" r="4" fill="none" stroke-width="1.8" stroke-dasharray="14 11" transform="rotate(171 841.1 1142.2)"/>
<circle cx="839.1" cy="1167.2" r="4" fill="none" stroke-width="1.8" stroke-dasharray="14 11" transform="rotate(171 839.1 1167.2)"/>
<path d="M826.1 1188.5 L824.1 1213.5 A9 9 0 0 0 842.1 1215 L844.1 1190 A9 9 0 0 0 826.1 1188.5Z" fill="#fff" stroke-width="2.8" />
<path d="M838.6 1196.1 l-1 12 M838.2 1201.1 l-7.3 3.4 l0.6 -7" fill="none" stroke-width="2.6" />
<circle cx="835.1" cy="1189.2" r="4" fill="none" stroke-width="1.8" stroke-dasharray="14 11" transform="rotate(245 835.1 1189.2)"/>
<circle cx="833.1" cy="1214.2" r="4" fill="none" stroke-width="1.8" stroke-dasharray="14 11" transform="rotate(245 833.1 1214.2)"/>
<path d="M820.2 1237.5 L818.2 1261.5 A9 9 0 0 0 836.1 1263 L838.1 1239 A9 9 0 0 0 820.2 1237.5Z" fill="#fff" stroke-width="2.8" />
<path d="M832.6 1244.6 l-1 12 M832.2 1249.6 l-7.3 3.4 l0.6 -7" fill="none" stroke-width="2.6" />
<circle cx="829.1" cy="1238.2" r="4" fill="none" stroke-width="1.8" stroke-dasharray="14 11" transform="rotate(319 829.1 1238.2)"/>
<circle cx="827.1" cy="1262.2" r="4" fill="none" stroke-width="1.8" stroke-dasharray="14 11" transform="rotate(319 827.1 1262.2)"/>
<path d="M815.1 1283.5 L813.1 1309.5 A9 9 0 0 0 831.1 1310.9 L833.1 1284.9 A9 9 0 0 0 815.1 1283.5Z" fill="#fff" stroke-width="2.8" />
<path d="M827.6 1291.6 l-0.9 12 M827.2 1296.5 l-7.3 3.5 l0.5 -7" fill="none" stroke-width="2.6" />
<circle cx="824.1" cy="1284.2" r="4" fill="none" stroke-width="1.8" stroke-dasharray="14 11" transform="rotate(33 824.1 1284.2)"/>
<circle cx="822.1" cy="1310.2" r="4" fill="none" stroke-width="1.8" stroke-dasharray="14 11" transform="rotate(33 822.1 1310.2)"/>
<path d="M810.1 1331.9 L809.1 1358.9 A9 9 0 0 0 827.1 1359.6 L828.1 1332.6 A9 9 0 0 0 810.1 1331.9Z" fill="#fff" stroke-width="2.8" />
<path d="M822.8 1339.9 l-0.4 12 M822.7 1344.9 l-7.1 3.7 l0.3 -7" fill="none" stroke-width="2.6" />
<circle cx="819.1" cy="1332.2" r="4" fill="none" stroke-width="1.8" stroke-dasharray="14 11" transform="rotate(107 819.1 1332.2)"/>
<circle cx="818.1" cy="1359.2" r="4" fill="none" stroke-width="1.8" stroke-dasharray="14 11" transform="rotate(107 818.1 1359.2)"/>
<path d="M806.1 1381.2 L806.1 1406.2 A9 9 0 0 0 824.1 1406.2 L824.1 1381.2 A9 9 0 0 0 806.1 1381.2Z" fill="#fff" stroke-width="2.8" />
<path d="M819.1 1387.7 l0 12 M819.1 1392.7 l-7 4 l-0 -7" fill="none" stroke-width="2.6" />
<circle cx="815.1" cy="1381.2" r="4" fill="none" stroke-width="1.8" stroke-dasharray="14 11" transform="rotate(181 815.1 1381.2)"/>
<circle cx="815.1" cy="1406.2" r="4" fill="none" stroke-width="1.8" stroke-dasharray="14 11" transform="rotate(181 815.1 1406.2)"/>
<path d="M804.2 1428.4 L802.2 1450.4 A9 9 0 0 0 820.1 1452.1 L822.1 1430.1 A9 9 0 0 0 804.2 1428.4Z" fill="#fff" stroke-width="2.8" />
<path d="M816.6 1434.6 l-1.1 12 M816.2 1439.6 l-7.3 3.3 l0.6 -7" fill="none" stroke-width="2.6" />
<circle cx="813.1" cy="1429.2" r="4" fill="none" stroke-width="1.8" stroke-dasharray="14 11" transform="rotate(255 813.1 1429.2)"/>
<circle cx="811.1" cy="1451.2" r="4" fill="none" stroke-width="1.8" stroke-dasharray="14 11" transform="rotate(255 811.1 1451.2)"/>
<path d="M800.1 1472.9 L799.1 1497.9 A9 9 0 0 0 817.1 1498.6 L818.1 1473.6 A9 9 0 0 0 800.1 1472.9Z" fill="#fff" stroke-width="2.8" />
<path d="M812.9 1479.9 l-0.5 12 M812.7 1484.9 l-7.2 3.7 l0.3 -7" fill="none" stroke-width="2.6" />
<circle cx="809.1" cy="1473.2" r="4" fill="none" stroke-width="1.8" stroke-dasharray="14 11" transform="rotate(329 809.1 1473.2)"/>
<circle cx="808.1" cy="1498.2" r="4" fill="none" stroke-width="1.8" stroke-dasharray="14 11" transform="rotate(329 808.1 1498.2)"/>
<path d="M796.1 1520.9 L795.1 1544.9 A9 9 0 0 0 813.1 1545.6 L814.1 1521.6 A9 9 0 0 0 796.1 1520.9Z" fill="#fff" stroke-width="2.8" />
<path d="M808.9 1527.4 l-0.5 12 M808.7 1532.4 l-7.2 3.7 l0.3 -7" fill="none" stroke-width="2.6" />
<circle cx="805.1" cy="1521.2" r="4" fill="none" stroke-width="1.8" stroke-dasharray="14 11" transform="rotate(43 805.1 1521.2)"/>
<circle cx="804.1" cy="1545.2" r="4" fill="none" stroke-width="1.8" stroke-dasharray="14 11" transform="rotate(43 804.1 1545.2)"/>
<path d="M792.1 1565.2 L792.1 1590.2 A9 9 0 0 0 810.1 1590.2 L810.1 1565.2 A9 9 0 0 0 792.1 1565.2Z" fill="#fff" stroke-width="2.8" />
<path d="M805.1 1571.7 l0 12 M805.1 1576.7 l-7 4 l-0 -7" fill="none" stroke-width="2.6" />
<circle cx="801.1" cy="1565.2" r="4" fill="none" stroke-width="1.8" stroke-dasharray="14 11" transform="rotate(117 801.1 1565.2)"/>
<circle cx="801.1" cy="1590.2" r="4" fill="none" stroke-width="1.8" stroke-dasharray="14 11" transform="rotate(117 801.1 1590.2)"/>
<path d="M789.3 1604.3 L783.3 1631.3 A9 9 0 0 0 800.9 1635.2 L806.9 1608.2 A9 9 0 0 0 789.3 1604.3Z" fill="#fff" stroke-width="2.8" />
<path d="M800.3 1614.8 l-2.6 11.7 M799.2 1619.6 l-7.7 2.4 l1.5 -6.8" fill="none" stroke-width="2.6" />
<circle cx="798.1" cy="1606.2" r="4" fill="none" stroke-width="1.8" stroke-dasharray="14 11" transform="rotate(191 798.1 1606.2)"/>
<circle cx="792.1" cy="1633.2" r="4" fill="none" stroke-width="1.8" stroke-dasharray="14 11" transform="rotate(191 792.1 1633.2)"/>
<path d="M776.5 1649.5 L763.5 1670.5 A9 9 0 0 0 778.8 1680 L791.8 1659 A9 9 0 0 0 776.5 1649.5Z" fill="#fff" stroke-width="2.8" />
<path d="M784.2 1661.7 l-6.3 10.2 M781.5 1666 l-8.1 -0.3 l3.7 -6" fill="none" stroke-width="2.6" />
<circle cx="784.1" cy="1654.2" r="4" fill="none" stroke-width="1.8" stroke-dasharray="14 11" transform="rotate(265 784.1 1654.2)"/>
<circle cx="771.1" cy="1675.2" r="4" fill="none" stroke-width="1.8" stroke-dasharray="14 11" transform="rotate(265 771.1 1675.2)"/>
<path d="M748.7 1689.1 L727.7 1705.1 A9 9 0 0 0 738.6 1719.4 L759.6 1703.4 A9 9 0 0 0 748.7 1689.1Z" fill="#fff" stroke-width="2.8" />
<path d="M750.8 1703.8 l-9.5 7.3 M746.8 1706.8 l-7.4 -3.1 l5.6 -4.2" fill="none" stroke-width="2.6" />
<circle cx="754.1" cy="1696.2" r="4" fill="none" stroke-width="1.8" stroke-dasharray="14 11" transform="rotate(339 754.1 1696.2)"/>
<circle cx="733.1" cy="1712.2" r="4" fill="none" stroke-width="1.8" stroke-dasharray="14 11" transform="rotate(339 733.1 1712.2)"/>
<path d="M711 1711.8 L687 1720.8 A9 9 0 0 0 693.3 1737.7 L717.3 1728.7 A9 9 0 0 0 711 1711.8Z" fill="#fff" stroke-width="2.8" />
<path d="M709.1 1726.4 l-11.2 4.2 M704.5 1728.1 l-6.2 -5.1 l6.6 -2.5" fill="none" stroke-width="2.6" />
<circle cx="714.1" cy="1720.2" r="4" fill="none" stroke-width="1.8" stroke-dasharray="14 11" transform="rotate(53 714.1 1720.2)"/>
<circle cx="690.1" cy="1729.2" r="4" fill="none" stroke-width="1.8" stroke-dasharray="14 11" transform="rotate(53 690.1 1729.2)"/>
<path d="M668.9 1722.4 L643.9 1717.4 A9 9 0 0 0 640.4 1735.1 L665.4 1740.1 A9 9 0 0 0 668.9 1722.4Z" fill="#fff" stroke-width="2.8" />
<path d="M659.7 1733.8 l-11.8 -2.4 M654.8 1732.9 l-2.5 -7.6 l6.9 1.4" fill="none" stroke-width="2.6" />
<circle cx="667.1" cy="1731.2" r="4" fill="none" stroke-width="1.8" stroke-dasharray="14 11" transform="rotate(127 667.1 1731.2)"/>
<circle cx="642.1" cy="1726.2" r="4" fill="none" stroke-width="1.8" stroke-dasharray="14 11" transform="rotate(127 642.1 1726.2)"/>
<path d="M626.9 1712.4 L607.9 1696.4 A9 9 0 0 0 596.3 1710.1 L615.3 1726.1 A9 9 0 0 0 626.9 1712.4Z" fill="#fff" stroke-width="2.8" />
<path d="M613.6 1718.2 l-9.2 -7.7 M609.8 1714.9 l1.4 -7.9 l5.4 4.5" fill="none" stroke-width="2.6" />
<circle cx="621.1" cy="1719.2" r="4" fill="none" stroke-width="1.8" stroke-dasharray="14 11" transform="rotate(201 621.1 1719.2)"/>
<circle cx="602.1" cy="1703.2" r="4" fill="none" stroke-width="1.8" stroke-dasharray="14 11" transform="rotate(201 602.1 1703.2)"/>
<path d="M602.4 1682.8 L592.4 1658.8 A9 9 0 0 0 575.8 1665.7 L585.8 1689.7 A9 9 0 0 0 602.4 1682.8Z" fill="#fff" stroke-width="2.8" />
<path d="M587.7 1681.3 l-4.6 -11.1 M585.8 1676.7 l4.9 -6.4 l2.7 6.5" fill="none" stroke-width="2.6" />
<circle cx="594.1" cy="1686.2" r="4" fill="none" stroke-width="1.8" stroke-dasharray="14 11" transform="rotate(275 594.1 1686.2)"/>
<circle cx="584.1" cy="1662.2" r="4" fill="none" stroke-width="1.8" stroke-dasharray="14 11" transform="rotate(275 584.1 1662.2)"/>
<path d="M594.1 1636.6 L595.1 1614.6 A9 9 0 0 0 577.1 1613.8 L576.1 1635.8 A9 9 0 0 0 594.1 1636.6Z" fill="#fff" stroke-width="2.8" />
<path d="M581.4 1631.1 l0.5 -12 M581.6 1626.1 l7.2 -3.7 l-0.3 7" fill="none" stroke-width="2.6" />
<circle cx="585.1" cy="1636.2" r="4" fill="none" stroke-width="1.8" stroke-dasharray="14 11" transform="rotate(349 585.1 1636.2)"/>
<circle cx="586.1" cy="1614.2" r="4" fill="none" stroke-width="1.8" stroke-dasharray="14 11" transform="rotate(349 586.1 1614.2)"/>
<path d="M597.1 1589.6 L598.1 1564.6 A9 9 0 0 0 580.1 1563.9 L579.1 1588.9 A9 9 0 0 0 597.1 1589.6Z" fill="#fff" stroke-width="2.8" />
<path d="M584.4 1582.6 l0.5 -12 M584.6 1577.6 l7.2 -3.7 l-0.3 7" fill="none" stroke-width="2.6" />
<circle cx="588.1" cy="1589.2" r="4" fill="none" stroke-width="1.8" stroke-dasharray="14 11" transform="rotate(63 588.1 1589.2)"/>
<circle cx="589.1" cy="1564.2" r="4" fill="none" stroke-width="1.8" stroke-dasharray="14 11" transform="rotate(63 589.1 1564.2)"/>
<path d="M600.1 1541.2 L600.1 1517.2 A9 9 0 0 0 582.1 1517.2 L582.1 1541.2 A9 9 0 0 0 600.1 1541.2Z" fill="#fff" stroke-width="2.8" />
<path d="M587.1 1535.2 l0 -12 M587.1 1530.2 l7 -4 l-0 7" fill="none" stroke-width="2.6" />
<circle cx="591.1" cy="1541.2" r="4" fill="none" stroke-width="1.8" stroke-dasharray="14 11" transform="rotate(137 591.1 1541.2)"/>
<circle cx="591.1" cy="1517.2" r="4" fill="none" stroke-width="1.8" stroke-dasharray="14 11" transform="rotate(137 591.1 1517.2)"/>
<path d="M603.1 1494.2 L603.1 1469.2 A9 9 0 0 0 585.1 1469.2 L585.1 1494.2 A9 9 0 0 0 603.1 1494.2Z" fill="#fff" stroke-width="2.8" />
<path d="M590.1 1487.7 l0 -12 M590.1 1482.7 l7 -4 l-0 7" fill="none" stroke-width="2.6" />
<circle cx="594.1" cy="1494.2" r="4" fill="none" stroke-width="1.8" stroke-dasharray="14 11" transform="rotate(211 594.1 1494.2)"/>
<circle cx="594.1" cy="1469.2" r="4" fill="none" stroke-width="1.8" stroke-dasharray="14 11" transform="rotate(211 594.1 1469.2)"/>
<path d="M607.1 1447.2 L607.1 1422.2 A9 9 0 0 0 589.1 1422.2 L589.1 1447.2 A9 9 0 0 0 607.1 1447.2Z" fill="#fff" stroke-width="2.8" />
<path d="M594.1 1440.7 l0 -12 M594.1 1435.7 l7 -4 l-0 7" fill="none" stroke-width="2.6" />
<circle cx="598.1" cy="1447.2" r="4" fill="none" stroke-width="1.8" stroke-dasharray="14 11" transform="rotate(285 598.1 1447.2)"/>
<circle cx="598.1" cy="1422.2" r="4" fill="none" stroke-width="1.8" stroke-dasharray="14 11" transform="rotate(285 598.1 1422.2)"/>
<path d="M608.1 1399.2 L608.1 1375.2 A9 9 0 0 0 590.1 1375.2 L590.1 1399.2 A9 9 0 0 0 608.1 1399.2Z" fill="#fff" stroke-width="2.8" />
<path d="M595.1 1393.2 l0 -12 M595.1 1388.2 l7 -4 l-0 7" fill="none" stroke-width="2.6" />
<circle cx="599.1" cy="1399.2" r="4" fill="none" stroke-width="1.8" stroke-dasharray="14 11" transform="rotate(359 599.1 1399.2)"/>
<circle cx="599.1" cy="1375.2" r="4" fill="none" stroke-width="1.8" stroke-dasharray="14 11" transform="rotate(359 599.1 1375.2)"/>
<path d="M610.1 1350.9 L609.1 1325.9 A9 9 0 0 0 591.1 1326.6 L592.1 1351.6 A9 9 0 0 0 610.1 1350.9Z" fill="#fff" stroke-width="2.8" />
<path d="M596.9 1344.9 l-0.5 -12 M596.7 1339.9 l6.8 -4.3 l0.3 7" fill="none" stroke-width="2.6" />
<circle cx="601.1" cy="1351.2" r="4" fill="none" stroke-width="1.8" stroke-dasharray="14 11" transform="rotate(73 601.1 1351.2)"/>
<circle cx="600.1" cy="1326.2" r="4" fill="none" stroke-width="1.8" stroke-dasharray="14 11" transform="rotate(73 600.1 1326.2)"/>
<path d="M611.1 1303.2 L611.1 1280.2 A9 9 0 0 0 593.1 1280.2 L593.1 1303.2 A9 9 0 0 0 611.1 1303.2Z" fill="#fff" stroke-width="2.8" />
<path d="M598.1 1297.7 l0 -12 M598.1 1292.7 l7 -4 l-0 7" fill="none" stroke-width="2.6" />
<circle cx="602.1" cy="1303.2" r="4" fill="none" stroke-width="1.8" stroke-dasharray="14 11" transform="rotate(147 602.1 1303.2)"/>
<circle cx="602.1" cy="1280.2" r="4" fill="none" stroke-width="1.8" stroke-dasharray="14 11" transform="rotate(147 602.1 1280.2)"/>
<path d="M612.1 1257.2 L612.1 1235.2 A9 9 0 0 0 594.1 1235.2 L594.1 1257.2 A9 9 0 0 0 612.1 1257.2Z" fill="#fff" stroke-width="2.8" />
<path d="M599.1 1252.2 l0 -12 M599.1 1247.2 l7 -4 l-0 7" fill="none" stroke-width="2.6" />
<circle cx="603.1" cy="1257.2" r="4" fill="none" stroke-width="1.8" stroke-dasharray="14 11" transform="rotate(221 603.1 1257.2)"/>
<circle cx="603.1" cy="1235.2" r="4" fill="none" stroke-width="1.8" stroke-dasharray="14 11" transform="rotate(221 603.1 1235.2)"/>
<path d="M614.1 1209.2 L614.1 1186.2 A9 9 0 0 0 596.1 1186.2 L596.1 1209.2 A9 9 0 0 0 614.1 1209.2Z" fill="#fff" stroke-width="2.8" />
<path d="M601.1 1203.7 l0 -12 M601.1 1198.7 l7 -4 l-0 7" fill="none" stroke-width="2.6" />
<circle cx="605.1" cy="1209.2" r="4" fill="none" stroke-width="1.8" stroke-dasharray="14 11" transform="rotate(295 605.1 1209.2)"/>
<circle cx="605.1" cy="1186.2" r="4" fill="none" stroke-width="1.8" stroke-dasharray="14 11" transform="rotate(295 605.1 1186.2)"/>
<path d="M614 1162.9 L610 1136.9 A9 9 0 0 0 592.2 1139.6 L596.2 1165.6 A9 9 0 0 0 614 1162.9Z" fill="#fff" stroke-width="2.8" />
<path d="M600.1 1157.8 l-1.8 -11.9 M599.3 1152.8 l6.3 -5 l1.1 6.9" fill="none" stroke-width="2.6" />
<circle cx="605.1" cy="1164.2" r="4" fill="none" stroke-width="1.8" stroke-dasharray="14 11" transform="rotate(9 605.1 1164.2)"/>
<circle cx="601.1" cy="1138.2" r="4" fill="none" stroke-width="1.8" stroke-dasharray="14 11" transform="rotate(9 601.1 1138.2)"/>
<path d="M610.1 1114.9 L609.1 1088.9 A9 9 0 0 0 591.1 1089.6 L592.1 1115.6 A9 9 0 0 0 610.1 1114.9Z" fill="#fff" stroke-width="2.8" />
<path d="M596.9 1108.4 l-0.5 -12 M596.7 1103.4 l6.8 -4.3 l0.3 7" fill="none" stroke-width="2.6" />
<circle cx="601.1" cy="1115.2" r="4" fill="none" stroke-width="1.8" stroke-dasharray="14 11" transform="rotate(83 601.1 1115.2)"/>
<circle cx="600.1" cy="1089.2" r="4" fill="none" stroke-width="1.8" stroke-dasharray="14 11" transform="rotate(83 600.1 1089.2)"/>
<path d="M608.1 1068.1 L605.1 1044.1 A9 9 0 0 0 587.2 1046.4 L590.2 1070.4 A9 9 0 0 0 608.1 1068.1Z" fill="#fff" stroke-width="2.8" />
<path d="M594.4 1063.7 l-1.5 -11.9 M593.8 1058.7 l6.4 -4.8 l0.9 6.9" fill="none" stroke-width="2.6" />
<circle cx="599.1" cy="1069.2" r="4" fill="none" stroke-width="1.8" stroke-dasharray="14 11" transform="rotate(157 599.1 1069.2)"/>
<circle cx="596.1" cy="1045.2" r="4" fill="none" stroke-width="1.8" stroke-dasharray="14 11" transform="rotate(157 596.1 1045.2)"/>
<path d="M604 1021.9 L600 995.9 A9 9 0 0 0 582.2 998.6 L586.2 1024.6 A9 9 0 0 0 604 1021.9Z" fill="#fff" stroke-width="2.8" />
<path d="M590.1 1016.8 l-1.8 -11.9 M589.3 1011.8 l6.3 -5 l1.1 6.9" fill="none" stroke-width="2.6" />
<circle cx="595.1" cy="1023.2" r="4" fill="none" stroke-width="1.8" stroke-dasharray="14 11" transform="rotate(231 595.1 1023.2)"/>
<circle cx="591.1" cy="997.2" r="4" fill="none" stroke-width="1.8" stroke-dasharray="14 11" transform="rotate(231 591.1 997.2)"/>
<path d="M598 975.6 L594 953.6 A9 9 0 0 0 576.3 956.8 L580.3 978.8 A9 9 0 0 0 598 975.6Z" fill="#fff" stroke-width="2.8" />
<path d="M584.3 972.9 l-2.1 -11.8 M583.4 967.9 l6.2 -5.2 l1.3 6.9" fill="none" stroke-width="2.6" />
<circle cx="589.1" cy="977.2" r="4" fill="none" stroke-width="1.8" stroke-dasharray="14 11" transform="rotate(305 589.1 977.2)"/>
<circle cx="585.1" cy="955.2" r="4" fill="none" stroke-width="1.8" stroke-dasharray="14 11" transform="rotate(305 585.1 955.2)"/>
<path d="M591.9 932.3 L586.9 909.3 A9 9 0 0 0 569.3 913.2 L574.3 936.2 A9 9 0 0 0 591.9 932.3Z" fill="#fff" stroke-width="2.8" />
<path d="M578 929.5 l-2.5 -11.7 M576.9 924.6 l6 -5.4 l1.5 6.8" fill="none" stroke-width="2.6" />
<circle cx="583.1" cy="934.2" r="4" fill="none" stroke-width="1.8" stroke-dasharray="14 11" transform="rotate(19 583.1 934.2)"/>
<circle cx="578.1" cy="911.2" r="4" fill="none" stroke-width="1.8" stroke-dasharray="14 11" transform="rotate(19 578.1 911.2)"/>
<path d="M582.9 888.3 L577.9 865.3 A9 9 0 0 0 560.3 869.2 L565.3 892.2 A9 9 0 0 0 582.9 888.3Z" fill="#fff" stroke-width="2.8" />
<path d="M569 885.5 l-2.5 -11.7 M567.9 880.6 l6 -5.4 l1.5 6.8" fill="none" stroke-width="2.6" />
<circle cx="574.1" cy="890.2" r="4" fill="none" stroke-width="1.8" stroke-dasharray="14 11" transform="rotate(93 574.1 890.2)"/>
<circle cx="569.1" cy="867.2" r="4" fill="none" stroke-width="1.8" stroke-dasharray="14 11" transform="rotate(93 569.1 867.2)"/>
<path d="M574.7 843.4 L566.7 819.4 A9 9 0 0 0 549.6 825.1 L557.6 849.1 A9 9 0 0 0 574.7 843.4Z" fill="#fff" stroke-width="2.8" />
<path d="M560.2 841.2 l-3.8 -11.4 M558.6 836.5 l5.4 -6 l2.2 6.6" fill="none" stroke-width="2.6" />
<circle cx="566.1" cy="846.2" r="4" fill="none" stroke-width="1.8" stroke-dasharray="14 11" transform="rotate(167 566.1 846.2)"/>
<circle cx="558.1" cy="822.2" r="4" fill="none" stroke-width="1.8" stroke-dasharray="14 11" transform="rotate(167 558.1 822.2)"/>
<path d="M562.8 800.9 L556.8 778.9 A9 9 0 0 0 539.4 783.6 L545.4 805.6 A9 9 0 0 0 562.8 800.9Z" fill="#fff" stroke-width="2.8" />
<path d="M548.8 799.1 l-3.2 -11.6 M547.5 794.3 l5.7 -5.7 l1.8 6.8" fill="none" stroke-width="2.6" />
<circle cx="554.1" cy="803.2" r="4" fill="none" stroke-width="1.8" stroke-dasharray="14 11" transform="rotate(241 554.1 803.2)"/>
<circle cx="548.1" cy="781.2" r="4" fill="none" stroke-width="1.8" stroke-dasharray="14 11" transform="rotate(241 548.1 781.2)"/>
<path d="M548.7 757.4 L541.7 736.4 A9 9 0 0 0 524.6 742.1 L531.6 763.1 A9 9 0 0 0 548.7 757.4Z" fill="#fff" stroke-width="2.8" />
<path d="M534.7 756.7 l-3.8 -11.4 M533.1 752 l5.4 -6 l2.2 6.6" fill="none" stroke-width="2.6" />
<circle cx="540.1" cy="760.2" r="4" fill="none" stroke-width="1.8" stroke-dasharray="14 11" transform="rotate(315 540.1 760.2)"/>
<circle cx="533.1" cy="739.2" r="4" fill="none" stroke-width="1.8" stroke-dasharray="14 11" transform="rotate(315 533.1 739.2)"/>
<path d="M534.6 716.3 L527.6 696.3 A9 9 0 0 0 510.6 702.2 L517.6 722.2 A9 9 0 0 0 534.6 716.3Z" fill="#fff" stroke-width="2.8" />
<path d="M520.8 716.2 l-4 -11.3 M519.2 711.5 l5.3 -6.1 l2.3 6.6" fill="none" stroke-width="2.6" />
<circle cx="526.1" cy="719.2" r="4" fill="none" stroke-width="1.8" stroke-dasharray="14 11" transform="rotate(29 526.1 719.2)"/>
<circle cx="519.1" cy="699.2" r="4" fill="none" stroke-width="1.8" stroke-dasharray="14 11" transform="rotate(29 519.1 699.2)"/>
<path d="M520.4 676.7 L512.4 657.7 A9 9 0 0 0 495.8 664.7 L503.8 683.7 A9 9 0 0 0 520.4 676.7Z" fill="#fff" stroke-width="2.8" />
<path d="M506.8 677.8 l-4.7 -11.1 M504.8 673.2 l4.9 -6.4 l2.7 6.5" fill="none" stroke-width="2.6" />
<circle cx="512.1" cy="680.2" r="4" fill="none" stroke-width="1.8" stroke-dasharray="14 11" transform="rotate(103 512.1 680.2)"/>
<circle cx="504.1" cy="661.2" r="4" fill="none" stroke-width="1.8" stroke-dasharray="14 11" transform="rotate(103 504.1 661.2)"/>
<path d="M504.4 638.7 L495.4 617.7 A9 9 0 0 0 478.8 624.8 L487.8 645.8 A9 9 0 0 0 504.4 638.7Z" fill="#fff" stroke-width="2.8" />
<path d="M490.3 638.8 l-4.7 -11 M488.3 634.2 l4.9 -6.4 l2.8 6.4" fill="none" stroke-width="2.6" />
<circle cx="496.1" cy="642.2" r="4" fill="none" stroke-width="1.8" stroke-dasharray="14 11" transform="rotate(177 496.1 642.2)"/>
<circle cx="487.1" cy="621.2" r="4" fill="none" stroke-width="1.8" stroke-dasharray="14 11" transform="rotate(177 487.1 621.2)"/>
<path d="M485.9 597 L475.5 576.9 A9 9 0 0 0 459.5 585.2 L469.9 605.3 A9 9 0 0 0 485.9 597Z" fill="#fff" stroke-width="2.8" />
<path d="M471.9 598.3 l-5.5 -10.7 M469.6 593.9 l4.4 -6.8 l3.2 6.2" fill="none" stroke-width="2.6" />
<circle cx="477.9" cy="601.2" r="4" fill="none" stroke-width="1.8" stroke-dasharray="14 11" transform="rotate(251 477.9 601.2)"/>
<circle cx="467.5" cy="581.1" r="4" fill="none" stroke-width="1.8" stroke-dasharray="14 11" transform="rotate(251 467.5 581.1)"/>
<path d="M465.5 555.9 L451.8 535.8 A9 9 0 0 0 436.9 545.8 L450.5 566 A9 9 0 0 0 465.5 555.9Z" fill="#fff" stroke-width="2.8" />
<path d="M451.2 558.1 l-6.7 -9.9 M448.4 553.9 l3.6 -7.2 l3.9 5.8" fill="none" stroke-width="2.6" />
<circle cx="458" cy="561" r="4" fill="none" stroke-width="1.8" stroke-dasharray="14 11" transform="rotate(325 458 561)"/>
<circle cx="444.4" cy="540.8" r="4" fill="none" stroke-width="1.8" stroke-dasharray="14 11" transform="rotate(325 444.4 540.8)"/>
<path d="M441.8 517.6 L431.3 496.5 A9 9 0 0 0 415.2 504.5 L425.7 525.7 A9 9 0 0 0 441.8 517.6Z" fill="#fff" stroke-width="2.8" />
<path d="M427.6 518.2 l-5.4 -10.7 M425.3 513.8 l4.5 -6.7 l3.1 6.3" fill="none" stroke-width="2.6" />
<circle cx="433.8" cy="521.6" r="4" fill="none" stroke-width="1.8" stroke-dasharray="14 11" transform="rotate(39 433.8 521.6)"/>
<circle cx="423.2" cy="500.5" r="4" fill="none" stroke-width="1.8" stroke-dasharray="14 11" transform="rotate(39 423.2 500.5)"/>
<path d="M426.5 476.5 L421.9 454.4 A9 9 0 0 0 404.2 458 L408.8 480.2 A9 9 0 0 0 426.5 476.5Z" fill="#fff" stroke-width="2.8" />
<path d="M412.6 474 l-2.4 -11.8 M411.6 469.1 l6 -5.3 l1.4 6.9" fill="none" stroke-width="2.6" />
<circle cx="417.6" cy="478.4" r="4" fill="none" stroke-width="1.8" stroke-dasharray="14 11" transform="rotate(113 417.6 478.4)"/>
<circle cx="413.1" cy="456.2" r="4" fill="none" stroke-width="1.8" stroke-dasharray="14 11" transform="rotate(113 413.1 456.2)"/>
<path d="M421.9 432 L423.9 410 A9 9 0 0 0 406 408.4 L404 430.4 A9 9 0 0 0 421.9 432Z" fill="#fff" stroke-width="2.8" />
<path d="M409.4 425.8 l1.1 -12 M409.9 420.8 l7.3 -3.3 l-0.6 7" fill="none" stroke-width="2.6" />
<circle cx="413" cy="431.2" r="4" fill="none" stroke-width="1.8" stroke-dasharray="14 11" transform="rotate(187 413 431.2)"/>
<circle cx="415" cy="409.2" r="4" fill="none" stroke-width="1.8" stroke-dasharray="14 11" transform="rotate(187 415 409.2)"/>
<path d="M428.6 387.6 L435.6 362.6 A9 9 0 0 0 418.3 357.8 L411.3 382.8 A9 9 0 0 0 428.6 387.6Z" fill="#fff" stroke-width="2.8" />
<path d="M418 377.4 l3.2 -11.6 M419.3 372.6 l7.8 -2 l-1.9 6.7" fill="none" stroke-width="2.6" />
<circle cx="420" cy="385.2" r="4" fill="none" stroke-width="1.8" stroke-dasharray="14 11" transform="rotate(261 420 385.2)"/>
<circle cx="427" cy="360.2" r="4" fill="none" stroke-width="1.8" stroke-dasharray="14 11" transform="rotate(261 427 360.2)"/>
<path d="M445.7 340 L458.1 320.1 A9 9 0 0 0 442.9 310.6 L430.4 330.4 A9 9 0 0 0 445.7 340Z" fill="#fff" stroke-width="2.8" />
<path d="M437.7 328.2 l6.4 -10.2 M440.3 324 l8.1 0.3 l-3.7 5.9" fill="none" stroke-width="2.6" />
<circle cx="438" cy="335.2" r="4" fill="none" stroke-width="1.8" stroke-dasharray="14 11" transform="rotate(335 438 335.2)"/>
<circle cx="450.5" cy="315.3" r="4" fill="none" stroke-width="1.8" stroke-dasharray="14 11" transform="rotate(335 450.5 315.3)"/>
<path d="M470.9 305.2 L486.5 286.3 A9 9 0 0 0 472.6 274.9 L457 293.7 A9 9 0 0 0 470.9 305.2Z" fill="#fff" stroke-width="2.8" />
<path d="M464.9 292.1 l7.6 -9.3 M468 288.3 l7.9 1.4 l-4.5 5.4" fill="none" stroke-width="2.6" />
<circle cx="464" cy="299.5" r="4" fill="none" stroke-width="1.8" stroke-dasharray="14 11" transform="rotate(49 464 299.5)"/>
<circle cx="479.5" cy="280.6" r="4" fill="none" stroke-width="1.8" stroke-dasharray="14 11" transform="rotate(49 479.5 280.6)"/>
<path d="M504.9 263.8 L523.5 249 A9 9 0 0 0 512.4 234.9 L493.7 249.7 A9 9 0 0 0 504.9 263.8Z" fill="#fff" stroke-width="2.8" />
<path d="M501.4 250 l9.4 -7.5 M505.3 246.9 l7.5 3 l-5.5 4.4" fill="none" stroke-width="2.6" />
<circle cx="499.3" cy="256.8" r="4" fill="none" stroke-width="1.8" stroke-dasharray="14 11" transform="rotate(123 499.3 256.8)"/>
<circle cx="517.9" cy="241.9" r="4" fill="none" stroke-width="1.8" stroke-dasharray="14 11" transform="rotate(123 517.9 241.9)"/>
<path d="M540.2 237.4 L560.7 228.5 A9 9 0 0 0 553.5 212 L533.1 220.9 A9 9 0 0 0 540.2 237.4Z" fill="#fff" stroke-width="2.8" />
<path d="M539.8 223.4 l11 -4.8 M544.4 221.4 l6.5 4.8 l-6.4 2.8" fill="none" stroke-width="2.6" />
<circle cx="536.6" cy="229.1" r="4" fill="none" stroke-width="1.8" stroke-dasharray="14 11" transform="rotate(197 536.6 229.1)"/>
<circle cx="557.1" cy="220.2" r="4" fill="none" stroke-width="1.8" stroke-dasharray="14 11" transform="rotate(197 557.1 220.2)"/>
<path d="M579.4 219.9 L602.4 213.9 A9 9 0 0 0 597.8 196.5 L574.8 202.5 A9 9 0 0 0 579.4 219.9Z" fill="#fff" stroke-width="2.8" />
<path d="M581.8 205.9 l11.6 -3 M586.6 204.6 l5.6 5.8 l-6.8 1.8" fill="none" stroke-width="2.6" />
<circle cx="577.1" cy="211.2" r="4" fill="none" stroke-width="1.8" stroke-dasharray="14 11" transform="rotate(271 577.1 211.2)"/>
<circle cx="600.1" cy="205.2" r="4" fill="none" stroke-width="1.8" stroke-dasharray="14 11" transform="rotate(271 600.1 205.2)"/>
</g>
<g transform="translate(0 0)">
<path d="M698.6 252.8 L700.2 253.7 L701.9 254.7 L699.6 262.5 L699.2 266.7 L699.8 269.1 L700.9 270.6 L702.3 271.7 L703.8 272.5 L705.6 273 L708 272.6 L711.5 270.6 L717.6 265.2 L719.1 266.4 L720.5 267.6 L722 268.8 L723.4 270 L719.9 277.5 L718.9 281.6 L719.1 284.2 L720 285.9 L721.1 287.3 L722.4 288.4 L724.1 289.2 L726.4 289.3 L730.2 287.9 L736.8 283.7 L738.1 285.1 L739.3 286.6 L740.5 288.2 L741.7 289.7 L737.1 296.5 L735.5 300.5 L735.3 303.1 L735.8 305 L736.7 306.6 L737.8 308 L739.2 309.1 L741.5 309.6 L745.3 309 L752.4 306 L753.3 307.7 L754.3 309.5 L755.2 311.2 L756.1 313 L750.6 319 L748.4 322.7 L747.8 325.3 L748 327.3 L748.6 329.1 L749.4 330.7 L750.6 332.1 L752.7 333.1 L756.4 333.2 L763.7 331.5 L764.4 333.4 L765 335.3 L765.6 337.3 L766.2 339.2 L759.9 344.3 L757.2 347.6 L756.2 350 L756.1 352.1 L756.4 354 L756.9 355.8 L757.9 357.5 L759.7 358.8 L763.3 359.6 L770.6 359.3 L770.9 361.4 L771.2 363.5 L771.4 365.5 L771.7 367.6 L764.9 371.5 L761.8 374.3 L760.4 376.6 L759.9 378.7 L759.9 380.7 L760.1 382.6 L760.8 384.4 L762.3 386.2 L765.7 387.7 L772.7 388.7 L772.7 390.9 L772.6 393 L772.5 395.2 L772.4 397.3 L765.3 399.9 L761.8 402.1 L760.2 404.2 L759.4 406.2 L759 408.2 L758.9 410.2 L759.3 412.2 L760.5 414.2 L763.4 416.3 L770 418.8 L769.7 420.9 L769.3 423.1 L768.9 425.2 L768.4 427.4 L761.1 428.6 L757.4 430.2 L755.5 432 L754.4 433.8 L753.8 435.8 L753.3 437.8 L753.4 439.8 L754.2 442.1 L756.7 444.8 L762.7 448.6 L762 450.7 L761.2 452.8 L760.5 454.8 L759.7 456.9 L752.5 456.8 L748.7 457.7 L746.6 459.1 L745.2 460.8 L744.3 462.6 L743.6 464.5 L743.3 466.6 L743.7 469 L745.7 472.3 L750.8 477.2 L749.8 479.2 L748.8 481.1 L747.7 483.1 L746.6 485 L739.7 483.5 L735.9 483.7 L733.6 484.7 L732.1 486.1 L730.9 487.8 L729.9 489.6 L729.3 491.6 L729.3 494.2 L730.7 497.8 L734.8 503.8 L733.5 505.6 L732.2 507.3 L730.9 509.1 L729.6 510.9 L723.1 508 L719.5 507.5 L717.1 508 L715.4 509.2 L714 510.6 L712.7 512.2 L711.8 514.2 L711.4 516.8 L712.1 520.7 L715.2 527.5 L713.7 529 L712.1 530.6 L710.6 532.1 L709 533.6 L703.3 529.5 L699.8 528.3 L697.5 528.4 L695.6 529.2 L694 530.4 L692.6 531.8 L691.4 533.6 L690.6 536.1 L690.7 540.2 L692.5 547.6 L690.8 548.9 L689.1 550.2 L687.3 551.4 L685.6 552.6 L680.7 547.4 L677.6 545.5 L675.3 545.2 L673.4 545.6 L671.7 546.5 L670.1 547.6 L668.6 549.2 L667.5 551.6 L666.9 555.8 L667.5 563.6 L665.6 564.6 L663.8 565.5 L661.9 566.4 L660 567.3 L656.2 561.1 L653.5 558.6 L651.4 557.8 L649.4 557.9 L647.7 558.5 L645.9 559.3 L644.3 560.6 L642.8 562.8 L641.6 566.9 L640.9 574.9 L638.9 575.5 L637 576.1 L635 576.7 L633.1 577.2 L630.4 570.2 L628.2 567.2 L626.3 566 L624.4 565.7 L622.6 566 L620.8 566.5 L619 567.5 L617.2 569.4 L615.4 573.3 L613.4 581.2 L611.5 581.4 L609.5 581.7 L607.5 581.9 L605.6 582 L604.1 574.5 L602.5 571 L600.9 569.4 L599.1 568.8 L597.3 568.7 L595.5 568.8 L593.6 569.5 L591.6 571.1 L589.2 574.7 L586.1 582.3 L584.2 582.2 L582.2 582 L580.3 581.8 L578.4 581.6 L578.2 573.7 L577.2 569.9 L575.9 568 L574.3 567 L572.6 566.6 L570.8 566.4 L568.9 566.7 L566.7 567.9 L563.8 571.1 L559.6 578.1 L557.8 577.6 L555.9 577.1 L554.1 576.6 L552.3 576 L553.4 568 L553.1 564 L552.1 561.8 L550.7 560.5 L549.1 559.7 L547.5 559.2 L545.6 559.1 L543.3 560 L540 562.6 L534.8 568.9 L533.1 568 L531.4 567.2 L529.8 566.3 L528.1 565.3 L530.4 557.5 L530.8 553.3 L530.2 550.9 L529.1 549.4 L527.7 548.3 L526.2 547.5 L524.4 547 L522 547.4 L518.5 549.4 L512.4 554.8 L510.9 553.6 L509.5 552.4 L508 551.2 L506.6 550 L510.1 542.5 L511.1 538.4 L510.9 535.8 L510 534.1 L508.9 532.7 L507.6 531.6 L505.9 530.8 L503.6 530.7 L499.8 532.1 L493.2 536.3 L491.9 534.9 L490.7 533.4 L489.5 531.8 L488.3 530.3 L492.9 523.5 L494.5 519.5 L494.7 516.9 L494.2 515 L493.3 513.4 L492.2 512 L490.8 510.9 L488.5 510.4 L484.7 511 L477.6 514 L476.7 512.3 L475.7 510.5 L474.8 508.8 L473.9 507 L479.4 501 L481.6 497.3 L482.2 494.7 L482 492.7 L481.4 490.9 L480.6 489.3 L479.4 487.9 L477.3 486.9 L473.6 486.8 L466.3 488.5 L465.6 486.6 L465 484.7 L464.4 482.7 L463.8 480.8 L470.1 475.7 L472.8 472.4 L473.8 470 L473.9 467.9 L473.6 466 L473.1 464.2 L472.1 462.5 L470.3 461.2 L466.7 460.4 L459.4 460.7 L459.1 458.6 L458.8 456.5 L458.6 454.5 L458.3 452.4 L465.1 448.5 L468.2 445.7 L469.6 443.4 L470.1 441.3 L470.1 439.3 L469.9 437.4 L469.2 435.6 L467.7 433.8 L464.3 432.3 L457.3 431.3 L457.3 429.1 L457.4 427 L457.5 424.8 L457.6 422.7 L464.7 420.1 L468.2 417.9 L469.8 415.8 L470.6 413.8 L471 411.8 L471.1 409.8 L470.7 407.8 L469.5 405.8 L466.6 403.7 L460 401.2 L460.3 399.1 L460.7 396.9 L461.1 394.8 L461.6 392.6 L468.9 391.4 L472.6 389.8 L474.5 388 L475.6 386.2 L476.2 384.2 L476.7 382.2 L476.6 380.2 L475.8 377.9 L473.3 375.2 L467.3 371.4 L468 369.3 L468.8 367.2 L469.5 365.2 L470.3 363.1 L477.5 363.2 L481.3 362.3 L483.4 360.9 L484.8 359.2 L485.7 357.4 L486.4 355.5 L486.7 353.4 L486.3 351 L484.3 347.7 L479.2 342.8 L480.2 340.8 L481.2 338.9 L482.3 336.9 L483.4 335 L490.3 336.5 L494.1 336.3 L496.4 335.3 L497.9 333.9 L499.1 332.2 L500.1 330.4 L500.7 328.4 L500.7 325.8 L499.3 322.2 L495.2 316.2 L496.5 314.4 L497.8 312.7 L499.1 310.9 L500.4 309.1 L506.9 312 L510.5 312.5 L512.9 312 L514.6 310.8 L516 309.4 L517.3 307.8 L518.2 305.8 L518.6 303.2 L517.9 299.3 L514.8 292.5 L516.3 291 L517.9 289.4 L519.4 287.9 L521 286.4 L526.7 290.5 L530.2 291.7 L532.5 291.6 L534.4 290.8 L536 289.6 L537.4 288.2 L538.6 286.4 L539.4 283.9 L539.3 279.8 L537.5 272.4 L539.2 271.1 L540.9 269.8 L542.7 268.6 L544.4 267.4 L549.3 272.6 L552.4 274.5 L554.7 274.8 L556.6 274.4 L558.3 273.5 L559.9 272.4 L561.4 270.8 L562.5 268.4 L563.1 264.2 L562.5 256.4 L564.4 255.4 L566.2 254.5 L568.1 253.6 L570 252.7 L573.8 258.9 L576.5 261.4 L578.6 262.2 L580.6 262.1 L582.3 261.5 L584.1 260.7 L585.7 259.4 L587.2 257.2 L588.4 253.1 L589.1 245.1 L591.1 244.5 L593 243.9 L595 243.3 L596.9 242.8 L599.6 249.8 L601.8 252.8 L603.7 254 L605.6 254.3 L607.4 254 L609.2 253.5 L611 252.5 L612.8 250.6 L614.6 246.7 L616.6 238.8 L618.5 238.6 L620.5 238.3 L622.5 238.1 L624.4 238 L625.9 245.5 L627.5 249 L629.1 250.6 L630.9 251.2 L632.7 251.3 L634.5 251.2 L636.4 250.5 L638.4 248.9 L640.8 245.3 L643.9 237.7 L645.8 237.8 L647.8 238 L649.7 238.2 L651.6 238.4 L651.8 246.3 L652.8 250.1 L654.1 252 L655.7 253 L657.4 253.4 L659.2 253.6 L661.1 253.3 L663.3 252.1 L666.2 248.9 L670.4 241.9 L672.2 242.4 L674.1 242.9 L675.9 243.4 L677.7 244 L676.6 252 L676.9 256 L677.9 258.2 L679.3 259.5 L680.9 260.3 L682.5 260.8 L684.4 260.9 L686.7 260 L690 257.4 L695.2 251.1 L696.9 252Z" fill="#fff" stroke-width="2.9" />
<line x1="708.1" y1="267" x2="699.6" y2="262.5" stroke-width="2.4" />
<line x1="720" y1="275.1" x2="711.5" y2="270.6" stroke-width="2.4" />
<line x1="728.4" y1="282" x2="719.9" y2="277.5" stroke-width="2.4" />
<line x1="738.7" y1="292.4" x2="730.2" y2="287.9" stroke-width="2.4" />
<line x1="745.6" y1="301" x2="737.1" y2="296.5" stroke-width="2.4" />
<line x1="753.8" y1="313.5" x2="745.3" y2="309" stroke-width="2.4" />
<line x1="759.1" y1="323.5" x2="750.6" y2="319" stroke-width="2.4" />
<line x1="764.9" y1="337.7" x2="756.4" y2="333.2" stroke-width="2.4" />
<line x1="768.4" y1="348.8" x2="759.9" y2="344.3" stroke-width="2.4" />
<line x1="771.8" y1="364.1" x2="763.3" y2="359.6" stroke-width="2.4" />
<line x1="773.4" y1="376" x2="764.9" y2="371.5" stroke-width="2.4" />
<line x1="774.2" y1="392.2" x2="765.7" y2="387.7" stroke-width="2.4" />
<line x1="773.8" y1="404.4" x2="765.3" y2="399.9" stroke-width="2.4" />
<line x1="771.9" y1="420.8" x2="763.4" y2="416.3" stroke-width="2.4" />
<line x1="769.6" y1="433.1" x2="761.1" y2="428.6" stroke-width="2.4" />
<line x1="765.2" y1="449.3" x2="756.7" y2="444.8" stroke-width="2.4" />
<line x1="761" y1="461.3" x2="752.5" y2="456.8" stroke-width="2.4" />
<line x1="754.2" y1="476.8" x2="745.7" y2="472.3" stroke-width="2.4" />
<line x1="748.2" y1="488" x2="739.7" y2="483.5" stroke-width="2.4" />
<line x1="739.2" y1="502.3" x2="730.7" y2="497.8" stroke-width="2.4" />
<line x1="731.6" y1="512.5" x2="723.1" y2="508" stroke-width="2.4" />
<line x1="720.6" y1="525.2" x2="712.1" y2="520.7" stroke-width="2.4" />
<line x1="711.8" y1="534" x2="703.3" y2="529.5" stroke-width="2.4" />
<line x1="699.2" y1="544.7" x2="690.7" y2="540.2" stroke-width="2.4" />
<line x1="689.2" y1="551.9" x2="680.7" y2="547.4" stroke-width="2.4" />
<line x1="675.4" y1="560.3" x2="666.9" y2="555.8" stroke-width="2.4" />
<line x1="664.7" y1="565.6" x2="656.2" y2="561.1" stroke-width="2.4" />
<line x1="650.1" y1="571.4" x2="641.6" y2="566.9" stroke-width="2.4" />
<line x1="638.9" y1="574.7" x2="630.4" y2="570.2" stroke-width="2.4" />
<line x1="623.9" y1="577.8" x2="615.4" y2="573.3" stroke-width="2.4" />
<line x1="612.6" y1="579" x2="604.1" y2="574.5" stroke-width="2.4" />
<line x1="597.7" y1="579.2" x2="589.2" y2="574.7" stroke-width="2.4" />
<line x1="586.7" y1="578.2" x2="578.2" y2="573.7" stroke-width="2.4" />
<line x1="572.3" y1="575.6" x2="563.8" y2="571.1" stroke-width="2.4" />
<line x1="561.9" y1="572.5" x2="553.4" y2="568" stroke-width="2.4" />
<line x1="548.5" y1="567.1" x2="540" y2="562.6" stroke-width="2.4" />
<line x1="538.9" y1="562" x2="530.4" y2="557.5" stroke-width="2.4" />
<line x1="527" y1="553.9" x2="518.5" y2="549.4" stroke-width="2.4" />
<line x1="518.6" y1="547" x2="510.1" y2="542.5" stroke-width="2.4" />
<line x1="508.3" y1="536.6" x2="499.8" y2="532.1" stroke-width="2.4" />
<line x1="501.4" y1="528" x2="492.9" y2="523.5" stroke-width="2.4" />
<line x1="493.2" y1="515.5" x2="484.7" y2="511" stroke-width="2.4" />
<line x1="487.9" y1="505.5" x2="479.4" y2="501" stroke-width="2.4" />
<line x1="482.1" y1="491.3" x2="473.6" y2="486.8" stroke-width="2.4" />
<line x1="478.6" y1="480.2" x2="470.1" y2="475.7" stroke-width="2.4" />
<line x1="475.2" y1="464.9" x2="466.7" y2="460.4" stroke-width="2.4" />
<line x1="473.6" y1="453" x2="465.1" y2="448.5" stroke-width="2.4" />
<line x1="472.8" y1="436.8" x2="464.3" y2="432.3" stroke-width="2.4" />
<line x1="473.2" y1="424.6" x2="464.7" y2="420.1" stroke-width="2.4" />
<line x1="475.1" y1="408.2" x2="466.6" y2="403.7" stroke-width="2.4" />
<line x1="477.4" y1="395.9" x2="468.9" y2="391.4" stroke-width="2.4" />
<line x1="481.8" y1="379.7" x2="473.3" y2="375.2" stroke-width="2.4" />
<line x1="486" y1="367.7" x2="477.5" y2="363.2" stroke-width="2.4" />
<line x1="492.8" y1="352.2" x2="484.3" y2="347.7" stroke-width="2.4" />
<line x1="498.8" y1="341" x2="490.3" y2="336.5" stroke-width="2.4" />
<line x1="507.8" y1="326.7" x2="499.3" y2="322.2" stroke-width="2.4" />
<line x1="515.4" y1="316.5" x2="506.9" y2="312" stroke-width="2.4" />
<line x1="526.4" y1="303.8" x2="517.9" y2="299.3" stroke-width="2.4" />
<line x1="535.2" y1="295" x2="526.7" y2="290.5" stroke-width="2.4" />
<line x1="547.8" y1="284.3" x2="539.3" y2="279.8" stroke-width="2.4" />
<line x1="557.8" y1="277.1" x2="549.3" y2="272.6" stroke-width="2.4" />
<line x1="571.6" y1="268.7" x2="563.1" y2="264.2" stroke-width="2.4" />
<line x1="582.3" y1="263.4" x2="573.8" y2="258.9" stroke-width="2.4" />
<line x1="596.9" y1="257.6" x2="588.4" y2="253.1" stroke-width="2.4" />
<line x1="608.1" y1="254.3" x2="599.6" y2="249.8" stroke-width="2.4" />
<line x1="623.1" y1="251.2" x2="614.6" y2="246.7" stroke-width="2.4" />
<line x1="634.4" y1="250" x2="625.9" y2="245.5" stroke-width="2.4" />
<line x1="649.3" y1="249.8" x2="640.8" y2="245.3" stroke-width="2.4" />
<line x1="660.3" y1="250.8" x2="651.8" y2="246.3" stroke-width="2.4" />
<line x1="674.7" y1="253.4" x2="666.2" y2="248.9" stroke-width="2.4" />
<line x1="685.1" y1="256.5" x2="676.6" y2="252" stroke-width="2.4" />
<line x1="698.5" y1="261.9" x2="690" y2="257.4" stroke-width="2.4" />
<path d="M707.1 257.3 L708.7 258.2 L710.4 259.2 L708.1 267 L707.7 271.2 L708.3 273.6 L709.4 275.1 L710.8 276.2 L712.3 277 L714.1 277.5 L716.5 277.1 L720 275.1 L726.1 269.7 L727.6 270.9 L729 272.1 L730.5 273.3 L731.9 274.5 L728.4 282 L727.4 286.1 L727.6 288.7 L728.5 290.4 L729.6 291.8 L730.9 292.9 L732.6 293.7 L734.9 293.8 L738.7 292.4 L745.3 288.2 L746.6 289.6 L747.8 291.1 L749 292.7 L750.2 294.2 L745.6 301 L744 305 L743.8 307.6 L744.3 309.5 L745.2 311.1 L746.3 312.5 L747.7 313.6 L750 314.1 L753.8 313.5 L760.9 310.5 L761.8 312.2 L762.8 314 L763.7 315.7 L764.6 317.5 L759.1 323.5 L756.9 327.2 L756.3 329.8 L756.5 331.8 L757.1 333.6 L757.9 335.2 L759.1 336.6 L761.2 337.6 L764.9 337.7 L772.2 336 L772.9 337.9 L773.5 339.8 L774.1 341.8 L774.7 343.7 L768.4 348.8 L765.7 352.1 L764.7 354.5 L764.6 356.6 L764.9 358.5 L765.4 360.3 L766.4 362 L768.2 363.3 L771.8 364.1 L779.1 363.8 L779.4 365.9 L779.7 368 L779.9 370 L780.2 372.1 L773.4 376 L770.3 378.8 L768.9 381.1 L768.4 383.2 L768.4 385.2 L768.6 387.1 L769.3 388.9 L770.8 390.7 L774.2 392.2 L781.2 393.2 L781.2 395.4 L781.1 397.5 L781 399.7 L780.9 401.8 L773.8 404.4 L770.3 406.6 L768.7 408.7 L767.9 410.7 L767.5 412.7 L767.4 414.7 L767.8 416.7 L769 418.7 L771.9 420.8 L778.5 423.3 L778.2 425.4 L777.8 427.6 L777.4 429.7 L776.9 431.9 L769.6 433.1 L765.9 434.7 L764 436.5 L762.9 438.3 L762.3 440.3 L761.8 442.3 L761.9 444.3 L762.7 446.6 L765.2 449.3 L771.2 453.1 L770.5 455.2 L769.7 457.3 L769 459.3 L768.2 461.4 L761 461.3 L757.2 462.2 L755.1 463.6 L753.7 465.3 L752.8 467.1 L752.1 469 L751.8 471.1 L752.2 473.5 L754.2 476.8 L759.3 481.7 L758.3 483.7 L757.3 485.6 L756.2 487.6 L755.1 489.5 L748.2 488 L744.4 488.2 L742.1 489.2 L740.6 490.6 L739.4 492.3 L738.4 494.1 L737.8 496.1 L737.8 498.7 L739.2 502.3 L743.3 508.3 L742 510.1 L740.7 511.8 L739.4 513.6 L738.1 515.4 L731.6 512.5 L728 512 L725.6 512.5 L723.9 513.7 L722.5 515.1 L721.2 516.7 L720.3 518.7 L719.9 521.3 L720.6 525.2 L723.7 532 L722.2 533.5 L720.6 535.1 L719.1 536.6 L717.5 538.1 L711.8 534 L708.3 532.8 L706 532.9 L704.1 533.7 L702.5 534.9 L701.1 536.3 L699.9 538.1 L699.1 540.6 L699.2 544.7 L701 552.1 L699.3 553.4 L697.6 554.7 L695.8 555.9 L694.1 557.1 L689.2 551.9 L686.1 550 L683.8 549.7 L681.9 550.1 L680.2 551 L678.6 552.1 L677.1 553.7 L676 556.1 L675.4 560.3 L676 568.1 L674.1 569.1 L672.3 570 L670.4 570.9 L668.5 571.8 L664.7 565.6 L662 563.1 L659.9 562.3 L657.9 562.4 L656.2 563 L654.4 563.8 L652.8 565.1 L651.3 567.3 L650.1 571.4 L649.4 579.4 L647.4 580 L645.5 580.6 L643.5 581.2 L641.6 581.7 L638.9 574.7 L636.7 571.7 L634.8 570.5 L632.9 570.2 L631.1 570.5 L629.3 571 L627.5 572 L625.7 573.9 L623.9 577.8 L621.9 585.7 L620 585.9 L618 586.2 L616 586.4 L614.1 586.5 L612.6 579 L611 575.5 L609.4 573.9 L607.6 573.3 L605.8 573.2 L604 573.3 L602.1 574 L600.1 575.6 L597.7 579.2 L594.6 586.8 L592.7 586.7 L590.7 586.5 L588.8 586.3 L586.9 586.1 L586.7 578.2 L585.7 574.4 L584.4 572.5 L582.8 571.5 L581.1 571.1 L579.3 570.9 L577.4 571.2 L575.2 572.4 L572.3 575.6 L568.1 582.6 L566.3 582.1 L564.4 581.6 L562.6 581.1 L560.8 580.5 L561.9 572.5 L561.6 568.5 L560.6 566.3 L559.2 565 L557.6 564.2 L556 563.7 L554.1 563.6 L551.8 564.5 L548.5 567.1 L543.3 573.4 L541.6 572.5 L539.9 571.7 L538.3 570.8 L536.6 569.8 L538.9 562 L539.3 557.8 L538.7 555.4 L537.6 553.9 L536.2 552.8 L534.7 552 L532.9 551.5 L530.5 551.9 L527 553.9 L520.9 559.3 L519.4 558.1 L518 556.9 L516.5 555.7 L515.1 554.5 L518.6 547 L519.6 542.9 L519.4 540.3 L518.5 538.6 L517.4 537.2 L516.1 536.1 L514.4 535.3 L512.1 535.2 L508.3 536.6 L501.7 540.8 L500.4 539.4 L499.2 537.9 L498 536.3 L496.8 534.8 L501.4 528 L503 524 L503.2 521.4 L502.7 519.5 L501.8 517.9 L500.7 516.5 L499.3 515.4 L497 514.9 L493.2 515.5 L486.1 518.5 L485.2 516.8 L484.2 515 L483.3 513.3 L482.4 511.5 L487.9 505.5 L490.1 501.8 L490.7 499.2 L490.5 497.2 L489.9 495.4 L489.1 493.8 L487.9 492.4 L485.8 491.4 L482.1 491.3 L474.8 493 L474.1 491.1 L473.5 489.2 L472.9 487.2 L472.3 485.3 L478.6 480.2 L481.3 476.9 L482.3 474.5 L482.4 472.4 L482.1 470.5 L481.6 468.7 L480.6 467 L478.8 465.7 L475.2 464.9 L467.9 465.2 L467.6 463.1 L467.3 461 L467.1 459 L466.8 456.9 L473.6 453 L476.7 450.2 L478.1 447.9 L478.6 445.8 L478.6 443.8 L478.4 441.9 L477.7 440.1 L476.2 438.3 L472.8 436.8 L465.8 435.8 L465.8 433.6 L465.9 431.5 L466 429.3 L466.1 427.2 L473.2 424.6 L476.7 422.4 L478.3 420.3 L479.1 418.3 L479.5 416.3 L479.6 414.3 L479.2 412.3 L478 410.3 L475.1 408.2 L468.5 405.7 L468.8 403.6 L469.2 401.4 L469.6 399.3 L470.1 397.1 L477.4 395.9 L481.1 394.3 L483 392.5 L484.1 390.7 L484.7 388.7 L485.2 386.7 L485.1 384.7 L484.3 382.4 L481.8 379.7 L475.8 375.9 L476.5 373.8 L477.3 371.7 L478 369.7 L478.8 367.6 L486 367.7 L489.8 366.8 L491.9 365.4 L493.3 363.7 L494.2 361.9 L494.9 360 L495.2 357.9 L494.8 355.5 L492.8 352.2 L487.7 347.3 L488.7 345.3 L489.7 343.4 L490.8 341.4 L491.9 339.5 L498.8 341 L502.6 340.8 L504.9 339.8 L506.4 338.4 L507.6 336.7 L508.6 334.9 L509.2 332.9 L509.2 330.3 L507.8 326.7 L503.7 320.7 L505 318.9 L506.3 317.2 L507.6 315.4 L508.9 313.6 L515.4 316.5 L519 317 L521.4 316.5 L523.1 315.3 L524.5 313.9 L525.8 312.3 L526.7 310.3 L527.1 307.7 L526.4 303.8 L523.3 297 L524.8 295.5 L526.4 293.9 L527.9 292.4 L529.5 290.9 L535.2 295 L538.7 296.2 L541 296.1 L542.9 295.3 L544.5 294.1 L545.9 292.7 L547.1 290.9 L547.9 288.4 L547.8 284.3 L546 276.9 L547.7 275.6 L549.4 274.3 L551.2 273.1 L552.9 271.9 L557.8 277.1 L560.9 279 L563.2 279.3 L565.1 278.9 L566.8 278 L568.4 276.9 L569.9 275.3 L571 272.9 L571.6 268.7 L571 260.9 L572.9 259.9 L574.7 259 L576.6 258.1 L578.5 257.2 L582.3 263.4 L585 265.9 L587.1 266.7 L589.1 266.6 L590.8 266 L592.6 265.2 L594.2 263.9 L595.7 261.7 L596.9 257.6 L597.6 249.6 L599.6 249 L601.5 248.4 L603.5 247.8 L605.4 247.3 L608.1 254.3 L610.3 257.3 L612.2 258.5 L614.1 258.8 L615.9 258.5 L617.7 258 L619.5 257 L621.3 255.1 L623.1 251.2 L625.1 243.3 L627 243.1 L629 242.8 L631 242.6 L632.9 242.5 L634.4 250 L636 253.5 L637.6 255.1 L639.4 255.7 L641.2 255.8 L643 255.7 L644.9 255 L646.9 253.4 L649.3 249.8 L652.4 242.2 L654.3 242.3 L656.3 242.5 L658.2 242.7 L660.1 242.9 L660.3 250.8 L661.3 254.6 L662.6 256.5 L664.2 257.5 L665.9 257.9 L667.7 258.1 L669.6 257.8 L671.8 256.6 L674.7 253.4 L678.9 246.4 L680.7 246.9 L682.6 247.4 L684.4 247.9 L686.2 248.5 L685.1 256.5 L685.4 260.5 L686.4 262.7 L687.8 264 L689.4 264.8 L691 265.3 L692.9 265.4 L695.2 264.5 L698.5 261.9 L703.7 255.6 L705.4 256.5Z" fill="#fff" stroke-width="3.8" />
<path d="M495.7 491.9 C494.9 489.5 492.1 482.3 490.6 477.3 C489.2 472.3 488 467.1 487.1 461.9 C486.1 456.7 485.5 451.4 485.1 446 C484.7 440.6 484.6 435.1 484.8 429.7 C484.9 424.2 485.4 418.7 486.1 413.2 C486.8 407.7 487.8 402.2 489 396.8 C490.3 391.3 491.8 385.9 493.6 380.5 C495.3 375.2 497.4 369.8 499.6 364.7 C501.9 359.5 504.4 354.4 507.1 349.4 C509.9 344.4 512.9 339.6 516 334.9 C519.2 330.2 522.6 325.7 526.2 321.4 C529.8 317 533.6 312.8 537.5 308.9 C541.5 305 545.6 301.2 549.8 297.7 C554.1 294.2 558.5 290.9 563 287.9 C567.6 284.8 572.2 282 576.9 279.5 C581.7 277 586.5 274.8 591.4 272.8 C596.3 270.8 601.3 269.1 606.2 267.7 C611.2 266.3 616.3 265.2 621.3 264.4 C626.3 263.6 631.4 263 636.3 262.8 C641.3 262.6 646.3 262.7 651.3 263 C656.2 263.4 661.1 264.1 665.9 265.1 C670.6 266 677.6 268.2 679.9 268.8" fill="none" stroke-width="4.1" />
<path d="M692.9 274.1 C694.9 275.2 701.2 278.4 705.1 280.9 C709 283.4 712.8 286.2 716.4 289.2 C720 292.1 723.4 295.4 726.6 298.8 C729.9 302.2 732.9 305.9 735.8 309.7 C738.6 313.5 741.3 317.6 743.7 321.8 C746.1 326 748.3 330.3 750.3 334.8 C752.3 339.3 754 344 755.5 348.8 C757 353.6 758.3 358.5 759.3 363.4 C760.3 368.4 761 373.5 761.5 378.7 C762 383.8 762.3 389 762.3 394.3 C762.3 399.5 762 404.8 761.5 410.1 C761 415.4 760.3 420.7 759.3 426 C758.3 431.3 757 436.6 755.5 441.8 C754 447 752.3 452.2 750.3 457.2 C748.3 462.3 746.1 467.3 743.7 472.2 C741.3 477.1 738.6 481.9 735.8 486.6 C733 491.2 729.9 495.8 726.7 500.2 C723.4 504.5 720 508.8 716.4 512.8 C712.8 516.8 709 520.7 705.1 524.3 C701.2 528 694.9 533 692.9 534.7" fill="none" stroke-width="1.9" />
<path d="M677.7 545.1 C675.3 546.4 668 550.7 662.9 553 C657.9 555.4 652.8 557.4 647.6 559.2 C642.5 560.9 637.2 562.3 632 563.4 C626.8 564.6 621.5 565.3 616.3 565.8 C611 566.3 605.8 566.4 600.6 566.2 C595.4 566 590.3 565.5 585.3 564.7 C580.2 563.9 575.2 562.7 570.4 561.2 C565.6 559.8 560.8 558 556.2 555.9 C551.6 553.8 547.2 551.4 542.9 548.7 C538.6 546 532.7 541.3 530.6 539.8" fill="none" stroke-width="1.9" />
<path d="M624.8 563 C622.4 563.2 614.9 563.8 610.1 563.7 C605.2 563.7 600.3 563.3 595.5 562.7 C590.8 562 586 561.1 581.4 559.8 C576.8 558.6 572.3 557 567.9 555.2 C563.5 553.4 559.2 551.3 555.1 549 C551 546.6 547 544 543.2 541.1 C539.5 538.2 535.8 535.1 532.4 531.7 C529 528.4 525.8 524.8 522.8 521 C519.7 517.2 516.9 513.1 514.4 508.9 C511.8 504.7 509.5 500.3 507.4 495.8 C505.3 491.2 503.5 486.5 501.9 481.7 C500.3 476.8 499 471.8 498 466.8 C496.9 461.7 496 453.8 495.6 451.3" fill="none" stroke-width="1.9" />
<path d="M661.1 275.8 C661.5 275.6 662.8 274.8 663.6 274.4 C664.4 273.9 665.3 273.5 666.1 273.2 C666.9 272.8 667.7 272.5 668.6 272.3 C669.4 272 670.2 271.8 671 271.7 C671.8 271.5 672.6 271.4 673.3 271.3 C674.1 271.3 674.9 271.2 675.6 271.3 C676.3 271.3 677 271.4 677.7 271.5 C678.4 271.7 679.1 271.8 679.7 272.1 C680.3 272.3 681 272.6 681.5 272.9 C682.1 273.2 682.6 273.6 683.2 274 C683.7 274.4 684.1 274.9 684.6 275.4 C685 275.9 685.4 276.4 685.8 277 C686.1 277.6 686.4 278.2 686.7 278.8 C687 279.5 687.2 280.2 687.4 280.9 C687.6 281.6 687.7 282.4 687.8 283.1 C687.9 283.9 688 284.7 688 285.5 C688 286.4 688 287.2 687.9 288.1 C687.9 288.9 687.8 289.8 687.6 290.7 C687.4 291.6 687.2 292.5 687 293.4 C686.7 294.3 686.5 295.3 686.1 296.2 C685.8 297.1 685.4 298.1 685 299 C684.6 299.9 684.2 300.8 683.7 301.7 C683.2 302.7 682.7 303.6 682.2 304.5 C681.6 305.3 681 306.2 680.4 307.1 C679.8 308 679.2 308.8 678.5 309.6 C677.8 310.4 677.1 311.2 676.4 312 C675.7 312.8 675 313.5 674.2 314.2 C673.4 315 672.3 315.9 671.9 316.3" fill="none" stroke-width="1.9" />
<ellipse cx="660.5" cy="294.5" rx="30" ry="18.5" fill="#fff" stroke-width="3.6" transform="rotate(-52 660.5 294.5)" />
<path d="M712.8 330.6 C713.3 330.7 714.8 330.9 715.8 331.1 C716.8 331.3 717.7 331.6 718.6 331.9 C719.6 332.2 720.5 332.5 721.3 332.9 C722.2 333.3 723 333.7 723.8 334.1 C724.6 334.6 725.4 335.1 726.1 335.7 C726.9 336.2 727.5 336.8 728.2 337.4 C728.8 338 729.4 338.6 730 339.3 C730.5 340 731 340.7 731.5 341.4 C732 342.1 732.4 342.9 732.7 343.6 C733.1 344.4 733.4 345.2 733.6 346 C733.9 346.8 734.1 347.7 734.2 348.5 C734.3 349.3 734.4 350.2 734.5 351 C734.5 351.9 734.5 352.8 734.4 353.6 C734.3 354.5 734.2 355.4 734 356.2 C733.8 357.1 733.6 358 733.3 358.8 C733 359.7 732.6 360.6 732.2 361.4 C731.8 362.2 731.4 363.1 730.9 363.9 C730.4 364.7 729.8 365.5 729.2 366.3 C728.6 367 728 367.8 727.3 368.5 C726.6 369.2 725.9 369.9 725.2 370.6 C724.4 371.3 723.6 371.9 722.8 372.5 C721.9 373.2 721.1 373.7 720.2 374.3 C719.3 374.8 718.4 375.3 717.4 375.8 C716.5 376.3 715.5 376.7 714.5 377.1 C713.5 377.5 712.5 377.8 711.5 378.1 C710.5 378.4 709.5 378.7 708.4 378.9 C707.4 379.1 706.4 379.3 705.3 379.4 C704.3 379.5 702.7 379.6 702.2 379.6" fill="none" stroke-width="1.9" />
<ellipse cx="701" cy="352" rx="30" ry="24" fill="#fff" stroke-width="3.6" transform="rotate(-18 701 352)" />
<path d="M697.8 429.9 C698.2 430.2 699.4 431 700.2 431.6 C701 432.2 701.7 432.8 702.5 433.5 C703.2 434.2 703.9 434.9 704.5 435.7 C705.2 436.4 705.8 437.2 706.3 438.1 C706.9 438.9 707.4 439.8 707.9 440.7 C708.4 441.5 708.8 442.5 709.2 443.4 C709.6 444.3 709.9 445.3 710.2 446.3 C710.5 447.3 710.8 448.3 711 449.3 C711.1 450.3 711.3 451.3 711.4 452.3 C711.5 453.3 711.5 454.3 711.5 455.4 C711.5 456.4 711.4 457.4 711.3 458.4 C711.2 459.4 711 460.5 710.8 461.5 C710.6 462.4 710.3 463.4 710 464.4 C709.7 465.4 709.3 466.3 708.9 467.3 C708.5 468.2 708.1 469.1 707.6 470 C707.1 470.8 706.5 471.7 705.9 472.5 C705.3 473.3 704.7 474.1 704 474.9 C703.4 475.6 702.7 476.3 701.9 477 C701.2 477.6 700.4 478.3 699.6 478.9 C698.8 479.4 698 480 697.2 480.5 C696.3 481 695.4 481.4 694.5 481.8 C693.6 482.2 692.7 482.5 691.8 482.8 C690.8 483.1 689.9 483.3 688.9 483.5 C688 483.7 687 483.8 686.1 483.9 C685.1 484 684.1 484 683.1 484 C682.2 484 681.2 483.9 680.2 483.7 C679.3 483.6 678.3 483.4 677.4 483.1 C676.4 482.9 675.1 482.4 674.6 482.3" fill="none" stroke-width="1.9" />
<ellipse cx="680" cy="452" rx="27.5" ry="29" fill="#fff" stroke-width="3.6" />
<path d="M604.1 490.8 C604.4 491.1 605.4 492 606 492.6 C606.5 493.3 607.1 494 607.6 494.8 C608.1 495.6 608.6 496.4 609.1 497.2 C609.6 498.1 610 498.9 610.4 499.8 C610.8 500.8 611.1 501.7 611.5 502.7 C611.8 503.6 612.1 504.6 612.3 505.7 C612.6 506.7 612.8 507.7 613 508.8 C613.1 509.8 613.3 510.9 613.4 512 C613.5 513 613.5 514.1 613.5 515.2 C613.5 516.3 613.5 517.4 613.4 518.5 C613.4 519.6 613.3 520.7 613.1 521.8 C613 522.9 612.8 523.9 612.6 525 C612.3 526 612.1 527.1 611.8 528.1 C611.5 529.1 611.1 530.1 610.8 531.1 C610.4 532.1 610 533 609.6 533.9 C609.1 534.9 608.6 535.7 608.1 536.6 C607.6 537.4 607.1 538.2 606.5 539 C606 539.8 605.4 540.5 604.8 541.2 C604.2 541.9 603.5 542.5 602.9 543.1 C602.2 543.7 601.5 544.2 600.8 544.7 C600.2 545.2 599.4 545.7 598.7 546 C598 546.4 597.3 546.7 596.5 547 C595.8 547.3 595 547.5 594.3 547.7 C593.5 547.8 592.7 547.9 592 548 C591.2 548 590.5 548 589.7 547.9 C589 547.8 588.2 547.7 587.5 547.5 C586.7 547.3 586 547.1 585.3 546.8 C584.5 546.5 583.5 545.9 583.1 545.7" fill="none" stroke-width="1.9" />
<ellipse cx="588" cy="514" rx="21.5" ry="31" fill="#fff" stroke-width="3.6" transform="rotate(3 588 514)" />
<path d="M534.5 466.7 C534.7 467 535.3 468 535.7 468.7 C536.1 469.4 536.5 470.2 536.9 471 C537.2 471.8 537.6 472.7 537.8 473.5 C538.1 474.4 538.4 475.3 538.6 476.3 C538.9 477.2 539.1 478.2 539.2 479.2 C539.4 480.2 539.5 481.2 539.6 482.3 C539.7 483.3 539.8 484.4 539.8 485.4 C539.9 486.5 539.9 487.6 539.9 488.7 C539.8 489.8 539.8 490.9 539.7 492 C539.6 493.1 539.4 494.2 539.3 495.3 C539.1 496.4 538.9 497.5 538.7 498.6 C538.5 499.7 538.2 500.8 537.9 501.8 C537.6 502.9 537.3 503.9 537 504.9 C536.6 505.9 536.3 506.9 535.9 507.9 C535.5 508.9 535 509.8 534.6 510.7 C534.1 511.6 533.7 512.5 533.2 513.3 C532.7 514.1 532.2 514.9 531.6 515.6 C531.1 516.4 530.5 517.1 530 517.7 C529.4 518.4 528.8 519 528.2 519.5 C527.7 520.1 527 520.6 526.4 521.1 C525.8 521.5 525.2 521.9 524.6 522.3 C524 522.6 523.3 522.9 522.7 523.1 C522.1 523.3 521.4 523.5 520.8 523.6 C520.2 523.7 519.5 523.8 518.9 523.8 C518.3 523.8 517.7 523.7 517.1 523.6 C516.5 523.5 515.9 523.3 515.3 523.1 C514.7 522.8 514.1 522.5 513.6 522.2 C513 521.8 512.2 521.2 512 521" fill="none" stroke-width="1.9" />
<ellipse cx="518" cy="489.5" rx="17.5" ry="31.5" fill="#fff" stroke-width="3.6" transform="rotate(8 518 489.5)" />
<path d="M609 273.4 C609 273.5 609.3 273.9 609.4 274.2 C609.5 274.6 609.5 274.9 609.5 275.3 C609.5 275.6 609.5 276 609.5 276.4 C609.4 276.8 609.3 277.2 609.1 277.6 C609 278.1 608.8 278.5 608.6 279 C608.4 279.4 608.1 279.9 607.8 280.4 C607.6 280.9 607.2 281.4 606.9 281.9 C606.5 282.4 606.1 283 605.7 283.5 C605.2 284 604.8 284.6 604.3 285.1 C603.8 285.6 603.3 286.2 602.7 286.7 C602.2 287.3 601.6 287.8 601 288.4 C600.4 288.9 599.8 289.4 599.1 290 C598.5 290.5 597.8 291 597.2 291.6 C596.5 292.1 595.8 292.6 595.1 293.1 C594.4 293.6 593.6 294.1 592.9 294.5 C592.2 295 591.4 295.5 590.7 295.9 C589.9 296.4 589.2 296.8 588.4 297.2 C587.7 297.6 586.9 298 586.2 298.4 C585.4 298.8 584.7 299.1 584 299.4 C583.2 299.8 582.5 300.1 581.8 300.3 C581 300.6 580.3 300.9 579.6 301.1 C579 301.3 578.3 301.5 577.6 301.7 C577 301.9 576.3 302 575.7 302.2 C575.1 302.3 574.5 302.4 573.9 302.5 C573.4 302.5 572.8 302.6 572.3 302.6 C571.8 302.6 571.3 302.6 570.8 302.5 C570.4 302.5 570 302.4 569.6 302.3 C569.2 302.2 568.8 302 568.5 301.9 C568.2 301.7 567.9 301.5 567.7 301.3 C567.4 301.1 567.2 300.9 567 300.6 C566.9 300.4 566.7 300.1 566.6 299.8 C566.5 299.4 566.5 299.1 566.5 298.7 C566.5 298.4 566.5 298 566.5 297.6 C566.6 297.2 566.7 296.8 566.9 296.4 C567 295.9 567.2 295.5 567.4 295 C567.6 294.6 567.9 294.1 568.2 293.6 C568.4 293.1 568.8 292.6 569.1 292.1 C569.5 291.6 569.9 291 570.3 290.5 C570.8 290 571.2 289.4 571.7 288.9 C572.2 288.4 572.7 287.8 573.3 287.3 C573.8 286.7 574.4 286.2 575 285.6 C575.6 285.1 576.2 284.6 576.9 284 C577.5 283.5 578.2 283 578.8 282.4 C579.5 281.9 580.2 281.4 580.9 280.9 C581.6 280.4 582.4 279.9 583.1 279.5 C583.8 279 584.6 278.5 585.3 278.1 C586.1 277.6 586.8 277.2 587.6 276.8 C588.3 276.4 589.1 276 589.8 275.6 C590.6 275.2 591.3 274.9 592 274.6 C592.8 274.2 593.5 273.9 594.2 273.7 C595 273.4 595.7 273.1 596.4 272.9 C597 272.7 597.7 272.5 598.4 272.3 C599 272.1 599.7 272 600.3 271.8 C600.9 271.7 601.5 271.6 602.1 271.5 C602.6 271.5 603.2 271.4 603.7 271.4 C604.2 271.4 604.7 271.4 605.2 271.5 C605.6 271.5 606 271.6 606.4 271.7 C606.8 271.8 607.2 272 607.5 272.1 C607.8 272.3 608.1 272.5 608.3 272.7 C608.6 272.9 608.9 273.3 609 273.4" fill="#fff" stroke-width="1.9" />
<path d="M609.9 277.9 C609.9 278.1 609.9 278.6 609.9 279 C609.8 279.3 609.7 279.7 609.6 280.1 C609.5 280.5 609.3 280.9 609.1 281.4 C608.9 281.8 608.7 282.3 608.4 282.7 C608.1 283.2 607.8 283.7 607.5 284.1 C607.1 284.6 606.7 285.1 606.3 285.6 C605.9 286.1 605.5 286.6 605 287.2 C604.5 287.7 604 288.2 603.5 288.7 C602.9 289.2 602.4 289.8 601.8 290.3 C601.2 290.8 600.6 291.3 600 291.8 C599.4 292.4 598.7 292.9 598.1 293.4 C597.4 293.9 596.7 294.4 596 294.9 C595.3 295.4 594.6 295.8 593.9 296.3 C593.2 296.8 592.5 297.2 591.8 297.6 C591 298.1 590.3 298.5 589.6 298.9 C588.8 299.3 588.1 299.7 587.4 300 C586.7 300.4 585.9 300.7 585.2 301.1 C584.5 301.4 583.8 301.7 583.1 302 C582.4 302.2 581.7 302.5 581.1 302.7 C580.4 302.9 579.7 303.1 579.1 303.3 C578.5 303.5 577.9 303.6 577.3 303.7 C576.7 303.9 576.1 303.9 575.6 304 C575.1 304.1 574.6 304.1 574.1 304.1 C573.6 304.1 573.2 304.1 572.7 304 C572.3 304 571.9 303.9 571.6 303.8 C571.2 303.7 570.8 303.5 570.7 303.4" fill="none" stroke-width="1.9" />
<path d="M525 330.7 C525.1 330.8 525.4 331 525.6 331.1 C525.7 331.3 525.9 331.5 526 331.7 C526.2 332 526.3 332.3 526.4 332.6 C526.5 332.9 526.6 333.3 526.7 333.7 C526.7 334.1 526.8 334.5 526.8 334.9 C526.8 335.4 526.8 335.9 526.8 336.4 C526.8 337 526.8 337.5 526.7 338.1 C526.7 338.7 526.6 339.3 526.5 339.9 C526.4 340.6 526.3 341.2 526.2 341.9 C526 342.6 525.9 343.3 525.7 344 C525.5 344.7 525.4 345.4 525.2 346.2 C525 346.9 524.7 347.7 524.5 348.4 C524.3 349.2 524 350 523.8 350.8 C523.5 351.5 523.2 352.3 522.9 353.1 C522.6 353.9 522.3 354.7 522 355.4 C521.7 356.2 521.4 357 521.1 357.7 C520.7 358.5 520.4 359.3 520 360 C519.7 360.7 519.3 361.5 519 362.2 C518.6 362.9 518.2 363.6 517.8 364.3 C517.5 364.9 517.1 365.6 516.7 366.2 C516.3 366.9 516 367.5 515.6 368 C515.2 368.6 514.8 369.2 514.5 369.7 C514.1 370.2 513.7 370.7 513.4 371.2 C513 371.6 512.6 372 512.3 372.4 C511.9 372.8 511.6 373.2 511.2 373.5 C510.9 373.8 510.6 374.1 510.2 374.3 C509.9 374.6 509.6 374.8 509.3 374.9 C509 375.1 508.7 375.2 508.5 375.3 C508.2 375.4 507.9 375.4 507.7 375.4 C507.4 375.4 507.2 375.3 507 375.3 C506.8 375.2 506.6 375 506.4 374.9 C506.3 374.7 506.1 374.5 506 374.3 C505.8 374 505.7 373.7 505.6 373.4 C505.5 373.1 505.4 372.7 505.3 372.3 C505.3 371.9 505.2 371.5 505.2 371.1 C505.2 370.6 505.2 370.1 505.2 369.6 C505.2 369 505.2 368.5 505.3 367.9 C505.3 367.3 505.4 366.7 505.5 366.1 C505.6 365.4 505.7 364.8 505.8 364.1 C506 363.4 506.1 362.7 506.3 362 C506.5 361.3 506.6 360.6 506.8 359.8 C507 359.1 507.3 358.3 507.5 357.6 C507.7 356.8 508 356 508.2 355.2 C508.5 354.5 508.8 353.7 509.1 352.9 C509.4 352.1 509.7 351.3 510 350.6 C510.3 349.8 510.6 349 510.9 348.3 C511.3 347.5 511.6 346.7 512 346 C512.3 345.3 512.7 344.5 513 343.8 C513.4 343.1 513.8 342.4 514.2 341.7 C514.5 341.1 514.9 340.4 515.3 339.8 C515.7 339.1 516 338.5 516.4 338 C516.8 337.4 517.2 336.8 517.5 336.3 C517.9 335.8 518.3 335.3 518.6 334.8 C519 334.4 519.4 334 519.7 333.6 C520.1 333.2 520.4 332.8 520.8 332.5 C521.1 332.2 521.4 331.9 521.8 331.7 C522.1 331.4 522.4 331.2 522.7 331.1 C523 330.9 523.3 330.8 523.5 330.7 C523.8 330.6 524.1 330.6 524.3 330.6 C524.6 330.6 524.9 330.7 525 330.7" fill="#fff" stroke-width="1.9" />
<path d="M526.9 335.1 C526.9 335.2 527.1 335.5 527.2 335.8 C527.3 336.1 527.4 336.4 527.5 336.8 C527.5 337.1 527.6 337.5 527.6 338 C527.6 338.4 527.6 338.9 527.6 339.3 C527.6 339.8 527.6 340.4 527.5 340.9 C527.5 341.5 527.4 342.1 527.3 342.7 C527.2 343.3 527.1 343.9 527 344.6 C526.8 345.2 526.7 345.9 526.5 346.6 C526.4 347.3 526.2 348 526 348.7 C525.8 349.4 525.6 350.1 525.3 350.9 C525.1 351.6 524.9 352.4 524.6 353.1 C524.4 353.9 524.1 354.7 523.8 355.4 C523.5 356.2 523.2 356.9 522.9 357.7 C522.6 358.4 522.3 359.2 522 359.9 C521.7 360.7 521.3 361.4 521 362.1 C520.6 362.9 520.3 363.6 519.9 364.3 C519.6 365 519.2 365.6 518.9 366.3 C518.5 367 518.2 367.6 517.8 368.2 C517.4 368.8 517.1 369.4 516.7 370 C516.3 370.5 516 371 515.6 371.5 C515.3 372 514.9 372.5 514.6 372.9 C514.2 373.4 513.9 373.8 513.6 374.1 C513.2 374.5 512.9 374.8 512.6 375.1 C512.3 375.4 512 375.7 511.7 375.9 C511.4 376.1 511.1 376.3 510.8 376.4 C510.5 376.5 510.2 376.7 510 376.7" fill="none" stroke-width="1.9" />
<path d="M496.4 397.1 C496.5 397.1 496.8 397.2 497.1 397.3 C497.3 397.4 497.5 397.6 497.8 397.8 C498 398 498.2 398.3 498.4 398.6 C498.6 398.9 498.8 399.3 499 399.7 C499.2 400.1 499.4 400.5 499.5 401 C499.7 401.5 499.9 402 500 402.6 C500.2 403.2 500.3 403.8 500.4 404.4 C500.5 405.1 500.7 405.7 500.8 406.5 C500.9 407.2 500.9 407.9 501 408.7 C501.1 409.5 501.2 410.3 501.2 411.1 C501.3 411.9 501.3 412.8 501.3 413.6 C501.4 414.5 501.4 415.4 501.4 416.3 C501.4 417.2 501.3 418.1 501.3 419 C501.3 419.9 501.2 420.9 501.2 421.8 C501.1 422.7 501.1 423.7 501 424.6 C500.9 425.5 500.8 426.5 500.7 427.4 C500.6 428.3 500.5 429.3 500.3 430.2 C500.2 431.1 500.1 432 499.9 432.9 C499.8 433.8 499.6 434.6 499.4 435.5 C499.2 436.3 499.1 437.2 498.9 438 C498.7 438.8 498.5 439.6 498.3 440.3 C498 441 497.8 441.8 497.6 442.5 C497.4 443.1 497.2 443.8 496.9 444.4 C496.7 445 496.4 445.6 496.2 446.1 C496 446.7 495.7 447.1 495.4 447.6 C495.2 448 494.9 448.5 494.7 448.8 C494.4 449.2 494.2 449.5 493.9 449.8 C493.7 450 493.4 450.3 493.1 450.4 C492.9 450.6 492.6 450.7 492.4 450.8 C492.1 450.9 491.9 450.9 491.6 450.9 C491.4 450.9 491.2 450.8 490.9 450.7 C490.7 450.6 490.5 450.4 490.2 450.2 C490 450 489.8 449.7 489.6 449.4 C489.4 449.1 489.2 448.7 489 448.3 C488.8 447.9 488.6 447.5 488.5 447 C488.3 446.5 488.1 446 488 445.4 C487.8 444.8 487.7 444.2 487.6 443.6 C487.5 442.9 487.3 442.3 487.2 441.5 C487.1 440.8 487.1 440.1 487 439.3 C486.9 438.5 486.8 437.7 486.8 436.9 C486.7 436.1 486.7 435.2 486.7 434.4 C486.6 433.5 486.6 432.6 486.6 431.7 C486.6 430.8 486.7 429.9 486.7 429 C486.7 428.1 486.8 427.1 486.8 426.2 C486.9 425.3 486.9 424.3 487 423.4 C487.1 422.5 487.2 421.5 487.3 420.6 C487.4 419.7 487.5 418.7 487.7 417.8 C487.8 416.9 487.9 416 488.1 415.1 C488.2 414.2 488.4 413.4 488.6 412.5 C488.8 411.7 488.9 410.8 489.1 410 C489.3 409.2 489.5 408.4 489.7 407.7 C490 407 490.2 406.2 490.4 405.5 C490.6 404.9 490.8 404.2 491.1 403.6 C491.3 403 491.6 402.4 491.8 401.9 C492 401.3 492.3 400.9 492.6 400.4 C492.8 400 493.1 399.5 493.3 399.2 C493.6 398.8 493.8 398.5 494.1 398.2 C494.3 398 494.6 397.7 494.9 397.6 C495.1 397.4 495.4 397.3 495.6 397.2 C495.9 397.1 496.2 397.1 496.4 397.1" fill="#fff" stroke-width="1.9" />
<path d="M498.8 401.4 C498.9 401.5 499.2 401.8 499.4 402.1 C499.6 402.4 499.8 402.7 500 403.1 C500.1 403.4 500.3 403.8 500.5 404.3 C500.6 404.7 500.8 405.2 500.9 405.8 C501 406.3 501.2 406.9 501.3 407.5 C501.4 408.1 501.5 408.8 501.6 409.4 C501.7 410.1 501.8 410.8 501.9 411.6 C501.9 412.3 502 413.1 502 413.9 C502.1 414.7 502.1 415.5 502.1 416.4 C502.2 417.2 502.2 418.1 502.2 418.9 C502.2 419.8 502.1 420.7 502.1 421.6 C502.1 422.5 502 423.4 502 424.3 C501.9 425.2 501.9 426.1 501.8 427 C501.7 428 501.6 428.9 501.5 429.8 C501.4 430.7 501.3 431.6 501.2 432.5 C501 433.4 500.9 434.3 500.7 435.1 C500.6 436 500.4 436.8 500.3 437.6 C500.1 438.5 499.9 439.3 499.7 440 C499.6 440.8 499.4 441.6 499.2 442.3 C499 443 498.8 443.7 498.6 444.4 C498.3 445 498.1 445.6 497.9 446.2 C497.7 446.8 497.5 447.3 497.2 447.8 C497 448.3 496.8 448.8 496.5 449.2 C496.3 449.6 496.1 450 495.8 450.3 C495.6 450.7 495.3 451 495.1 451.2 C494.9 451.4 494.5 451.7 494.4 451.8" fill="none" stroke-width="1.9" />
<path d="M619 279 C620.8 279.2 626.3 279.3 630 280 C633.7 280.7 639.2 282.5 641 283" fill="none" stroke-width="1.9" />
<path d="M686 313 C686.8 314.2 689.5 317.5 691 320 C692.5 322.5 694.3 326.7 695 328" fill="none" stroke-width="1.9" />
<path d="M688 314 C688.8 315.2 691.7 318.8 693 321 C694.3 323.2 695.5 326 696 327" fill="none" stroke-width="1.9" />
<path d="M704 380 C703.8 383.3 703.8 393.2 703 400 C702.2 406.8 699.7 417.5 699 421" fill="none" stroke-width="1.9" />
<path d="M708 394 C707.7 396.7 707 405 706 410 C705 415 702.7 421.7 702 424" fill="none" stroke-width="1.9" />
<path d="M663 478 C661.2 479.7 655.8 485 652 488 C648.2 491 642 494.7 640 496" fill="none" stroke-width="1.9" />
<path d="M667 482 C665 483.7 658.2 489.5 655 492 C651.8 494.5 649.2 496.2 648 497" fill="none" stroke-width="1.9" />
<path d="M638 503 C636.7 503.7 633 505.8 630 507 C627 508.2 621.7 509.5 620 510" fill="none" stroke-width="1.9" />
<path d="M640 511 C638.3 511.7 633.5 513.8 630 515 C626.5 516.2 620.8 517.5 619 518" fill="none" stroke-width="1.9" />
<path d="M537 508 C539.2 508.7 545.3 510.7 550 512 C554.7 513.3 562.5 515.3 565 516" fill="none" stroke-width="1.9" />
<path d="M548 515 C549.3 515.3 553 516.3 556 517 C559 517.7 564.3 518.7 566 519" fill="none" stroke-width="1.9" />
<path d="M495 458 C495.5 459.3 496.8 463.3 498 466 C499.2 468.7 501.3 472.7 502 474" fill="none" stroke-width="1.9" />
<ellipse cx="593.4" cy="397" rx="72" ry="65.5" fill="#fff" stroke-width="2.2" transform="rotate(-62 593.4 397)" />
<path d="M632.1 336.3 C633 337 635.9 339 637.7 340.5 C639.4 342 641.1 343.6 642.7 345.3 C644.3 347 645.8 348.8 647.2 350.7 C648.6 352.5 650 354.5 651.1 356.6 C652.3 358.6 653.4 360.7 654.4 362.9 C655.4 365.1 656.2 367.3 657 369.6 C657.7 371.9 658.4 374.3 658.9 376.6 C659.4 379 659.7 381.4 660 383.9 C660.2 386.3 660.4 388.8 660.4 391.3 C660.4 393.8 660.3 396.3 660 398.7 C659.8 401.2 659.4 403.7 658.9 406.2 C658.4 408.7 657.8 411.1 657.1 413.5 C656.4 416 655.5 418.3 654.6 420.7 C653.6 423 652.5 425.3 651.3 427.6 C650.1 429.8 648.8 432 647.4 434.1 C646.1 436.2 644.6 438.3 643 440.3 C641.4 442.2 639.7 444.1 637.9 445.9 C636.2 447.7 634.3 449.4 632.4 451 C630.5 452.6 628.5 454.1 626.4 455.5 C624.4 456.9 622.3 458.2 620.1 459.4 C617.9 460.5 615.7 461.6 613.5 462.5 C611.2 463.4 608.9 464.3 606.6 464.9 C604.3 465.6 601.9 466.2 599.6 466.6 C597.2 467 594.9 467.3 592.5 467.5 C590.2 467.6 587.8 467.7 585.4 467.6 C583.1 467.5 580.8 467.2 578.5 466.9 C576.2 466.5 573.9 466 571.7 465.4 C569.4 464.8 567.2 464 565.1 463.1 C563 462.3 560.9 461.3 558.8 460.2 C556.8 459 554.9 457.8 553 456.5 C551.1 455.1 549.3 453.7 547.6 452.1 C545.8 450.6 544.2 448.9 542.7 447.1 C541.1 445.4 539 442.5 538.3 441.6" fill="none" stroke-width="5" />
<path d="M549.8 436.1 C549.2 435.3 547.2 433 546.1 431.3 C545 429.7 543.9 428 543 426.2 C542.1 424.4 541.2 422.5 540.5 420.6 C539.7 418.7 539.1 416.8 538.5 414.8 C538 412.8 537.6 410.8 537.2 408.8 C536.9 406.7 536.7 404.6 536.6 402.6 C536.5 400.5 536.5 398.4 536.6 396.3 C536.7 394.2 536.9 392.1 537.2 390 C537.5 388 538 385.9 538.5 383.8 C539 381.8 539.7 379.8 540.4 377.8 C541.2 375.8 542 373.8 542.9 371.9 C543.9 370 544.9 368.2 546 366.4 C547.2 364.6 548.4 362.8 549.7 361.1 C551 359.5 552.4 357.9 553.8 356.3 C555.3 354.8 556.8 353.3 558.4 352 C560 350.6 561.7 349.3 563.4 348.1 C565.1 346.9 566.9 345.8 568.7 344.9 C570.5 343.9 572.4 343 574.3 342.2 C576.2 341.4 578.2 340.7 580.1 340.1 C582.1 339.5 584.1 339.1 586.1 338.7 C588.1 338.4 591.1 338.1 592.1 338" fill="none" stroke-width="1.9" />
<path d="M635.4 430.5 C634.7 431.3 632.8 433.7 631.4 435.2 C630 436.7 628.5 438.2 626.9 439.6 C625.4 440.9 623.8 442.2 622.1 443.4 C620.4 444.6 618.7 445.7 616.9 446.7 C615.1 447.7 613.3 448.6 611.5 449.4 C609.6 450.2 607.7 450.9 605.8 451.5 C603.9 452.1 601.9 452.7 600 453 C598 453.4 596.1 453.7 594.1 453.9 C592.1 454.1 590.1 454.2 588.2 454.1 C586.2 454.1 584.2 454 582.3 453.7 C580.4 453.4 578.4 453.1 576.5 452.6 C574.6 452.2 572.8 451.6 571 450.9 C569.1 450.2 567.3 449.4 565.6 448.6 C563.9 447.7 561.4 446.1 560.6 445.6" fill="none" stroke-width="1.9" />
<path d="M612.9 344.1 C613.7 344.4 616.2 345.2 617.8 345.9 C619.4 346.6 621 347.4 622.5 348.3 C624 349.2 625.4 350.2 626.8 351.2 C628.2 352.3 629.6 353.4 630.8 354.7 C632.1 355.9 633.3 357.2 634.4 358.6 C635.6 359.9 636.6 361.4 637.6 362.9 C638.6 364.4 639.5 366 640.3 367.6 C641.1 369.2 641.8 370.9 642.4 372.6 C643 374.3 643.6 376.1 644 377.9 C644.4 379.7 644.8 381.5 645 383.4 C645.3 385.2 645.5 387.1 645.5 389 C645.6 390.8 645.5 392.7 645.4 394.6 C645.3 396.5 644.8 399.4 644.7 400.3" fill="none" stroke-width="1.9" />
<ellipse cx="591" cy="394" rx="47" ry="40.5" fill="#fff" stroke-width="3.6" transform="rotate(-62 591 394)" />
<path d="M624.2 369.4 C624.5 370 625.3 371.6 625.7 372.8 C626.1 374 626.5 375.2 626.8 376.5 C627.1 377.7 627.4 379 627.5 380.3 C627.7 381.6 627.8 382.9 627.9 384.3 C627.9 385.6 627.9 387 627.9 388.3 C627.8 389.7 627.6 391.1 627.4 392.4 C627.2 393.8 627 395.2 626.7 396.5 C626.3 397.9 625.9 399.3 625.5 400.6 C625.1 402 624.6 403.3 624 404.6 C623.4 405.9 622.8 407.2 622.1 408.5 C621.5 409.8 620.7 411 620 412.2 C619.2 413.4 618.4 414.6 617.5 415.7 C616.6 416.8 615.7 417.9 614.8 418.9 C613.8 420 612.8 420.9 611.8 421.9 C610.8 422.8 609.1 424.1 608.6 424.5" fill="none" stroke-width="1.9" />
<ellipse cx="585" cy="389" rx="26.5" ry="22.5" fill="#fff" stroke-width="3.6" transform="rotate(-62 585 389)" />
<path d="M571 374.6 C571.3 374.3 572.2 373.3 572.8 372.7 C573.4 372.1 574.1 371.5 574.8 371 C575.4 370.4 576.1 369.9 576.8 369.5 C577.6 369 578.3 368.6 579 368.2 C579.8 367.8 580.5 367.5 581.3 367.2 C582.1 366.9 582.8 366.7 583.6 366.5 C584.4 366.3 585.2 366.1 585.9 366 C586.7 365.9 587.5 365.8 588.3 365.8 C589 365.8 589.8 365.8 590.6 365.9 C591.3 366 592.1 366.1 592.8 366.3 C593.5 366.5 594.3 366.7 595 366.9 C595.7 367.2 596.3 367.5 597 367.9 C597.7 368.2 598.3 368.6 598.9 369 C599.5 369.5 600.1 370 600.6 370.5 C601.2 371 601.7 371.5 602.2 372.1 C602.7 372.7 603.2 373.3 603.6 374 C604 374.6 604.4 375.3 604.7 376 C605.1 376.7 605.4 377.4 605.6 378.2 C605.9 379 606.1 379.7 606.3 380.5 C606.5 381.3 606.7 382.6 606.8 383" fill="none" stroke-width="6.6" />
<path d="M601.4 376.3 C601.6 376.6 602.1 377.3 602.4 377.8 C602.8 378.4 603.1 378.9 603.3 379.5 C603.6 380.1 603.8 380.7 604 381.3 C604.2 381.9 604.4 382.6 604.5 383.2 C604.7 383.9 604.8 384.5 604.8 385.2 C604.9 385.9 604.9 386.6 605 387.2 C605 387.9 604.9 388.6 604.9 389.3 C604.8 390 604.7 390.8 604.6 391.5 C604.5 392.2 604.3 392.9 604.1 393.6 C604 394.3 603.7 395 603.5 395.6 C603.2 396.3 603 397 602.7 397.7 C602.4 398.3 602 399 601.7 399.6 C601.3 400.3 600.9 400.9 600.5 401.5 C600.1 402.1 599.6 402.7 599.2 403.2 C598.7 403.8 598.2 404.3 597.7 404.8 C597.2 405.4 596.7 405.8 596.2 406.3 C595.6 406.8 595.1 407.2 594.5 407.6 C593.9 408 593.4 408.4 592.8 408.7 C592.2 409 591.6 409.3 590.9 409.6 C590.3 409.9 589.7 410.1 589.1 410.3 C588.5 410.5 587.8 410.7 587.2 410.8 C586.6 411 586 411.1 585.3 411.1 C584.7 411.2 584.1 411.2 583.5 411.2 C582.9 411.2 582.3 411.1 581.7 411 C581.1 410.9 580.2 410.7 579.9 410.6" fill="none" stroke-width="1.9" />
<path d="M605.2 378.6 C605.3 378.9 605.8 379.9 606 380.6 C606.3 381.3 606.5 382 606.7 382.7 C606.9 383.4 607.1 384.2 607.2 384.9 C607.3 385.7 607.4 386.4 607.4 387.2 C607.5 388 607.5 388.8 607.4 389.6 C607.4 390.3 607.3 391.1 607.2 391.9 C607.1 392.7 607 393.5 606.8 394.3 C606.6 395.1 606.4 395.9 606.1 396.6 C605.9 397.4 605.6 398.2 605.3 398.9 C605 399.7 604.6 400.4 604.2 401.2 C603.8 401.9 603.4 402.6 603 403.3 C602.5 404 602 404.6 601.5 405.3 C601 405.9 600.5 406.5 600 407.1 C599.4 407.7 598.8 408.3 598.2 408.8 C597.6 409.3 597 409.8 596.4 410.3 C595.8 410.8 595.1 411.2 594.4 411.6 C593.8 412 593.1 412.4 592.4 412.7 C591.7 413 591 413.3 590.3 413.5 C589.6 413.8 588.9 414 588.2 414.2 C587.5 414.3 586.4 414.5 586.1 414.5" fill="none" stroke-width="1.9" />
<line x1="574" y1="365" x2="574" y2="383" stroke-width="1.9" />
</g>
<g transform="translate(364 -9)">
<path d="M698.6 252.8 L700.2 253.7 L701.9 254.7 L699.6 262.5 L699.2 266.7 L699.8 269.1 L700.9 270.6 L702.3 271.7 L703.8 272.5 L705.6 273 L708 272.6 L711.5 270.6 L717.6 265.2 L719.1 266.4 L720.5 267.6 L722 268.8 L723.4 270 L719.9 277.5 L718.9 281.6 L719.1 284.2 L720 285.9 L721.1 287.3 L722.4 288.4 L724.1 289.2 L726.4 289.3 L730.2 287.9 L736.8 283.7 L738.1 285.1 L739.3 286.6 L740.5 288.2 L741.7 289.7 L737.1 296.5 L735.5 300.5 L735.3 303.1 L735.8 305 L736.7 306.6 L737.8 308 L739.2 309.1 L741.5 309.6 L745.3 309 L752.4 306 L753.3 307.7 L754.3 309.5 L755.2 311.2 L756.1 313 L750.6 319 L748.4 322.7 L747.8 325.3 L748 327.3 L748.6 329.1 L749.4 330.7 L750.6 332.1 L752.7 333.1 L756.4 333.2 L763.7 331.5 L764.4 333.4 L765 335.3 L765.6 337.3 L766.2 339.2 L759.9 344.3 L757.2 347.6 L756.2 350 L756.1 352.1 L756.4 354 L756.9 355.8 L757.9 357.5 L759.7 358.8 L763.3 359.6 L770.6 359.3 L770.9 361.4 L771.2 363.5 L771.4 365.5 L771.7 367.6 L764.9 371.5 L761.8 374.3 L760.4 376.6 L759.9 378.7 L759.9 380.7 L760.1 382.6 L760.8 384.4 L762.3 386.2 L765.7 387.7 L772.7 388.7 L772.7 390.9 L772.6 393 L772.5 395.2 L772.4 397.3 L765.3 399.9 L761.8 402.1 L760.2 404.2 L759.4 406.2 L759 408.2 L758.9 410.2 L759.3 412.2 L760.5 414.2 L763.4 416.3 L770 418.8 L769.7 420.9 L769.3 423.1 L768.9 425.2 L768.4 427.4 L761.1 428.6 L757.4 430.2 L755.5 432 L754.4 433.8 L753.8 435.8 L753.3 437.8 L753.4 439.8 L754.2 442.1 L756.7 444.8 L762.7 448.6 L762 450.7 L761.2 452.8 L760.5 454.8 L759.7 456.9 L752.5 456.8 L748.7 457.7 L746.6 459.1 L745.2 460.8 L744.3 462.6 L743.6 464.5 L743.3 466.6 L743.7 469 L745.7 472.3 L750.8 477.2 L749.8 479.2 L748.8 481.1 L747.7 483.1 L746.6 485 L739.7 483.5 L735.9 483.7 L733.6 484.7 L732.1 486.1 L730.9 487.8 L729.9 489.6 L729.3 491.6 L729.3 494.2 L730.7 497.8 L734.8 503.8 L733.5 505.6 L732.2 507.3 L730.9 509.1 L729.6 510.9 L723.1 508 L719.5 507.5 L717.1 508 L715.4 509.2 L714 510.6 L712.7 512.2 L711.8 514.2 L711.4 516.8 L712.1 520.7 L715.2 527.5 L713.7 529 L712.1 530.6 L710.6 532.1 L709 533.6 L703.3 529.5 L699.8 528.3 L697.5 528.4 L695.6 529.2 L694 530.4 L692.6 531.8 L691.4 533.6 L690.6 536.1 L690.7 540.2 L692.5 547.6 L690.8 548.9 L689.1 550.2 L687.3 551.4 L685.6 552.6 L680.7 547.4 L677.6 545.5 L675.3 545.2 L673.4 545.6 L671.7 546.5 L670.1 547.6 L668.6 549.2 L667.5 551.6 L666.9 555.8 L667.5 563.6 L665.6 564.6 L663.8 565.5 L661.9 566.4 L660 567.3 L656.2 561.1 L653.5 558.6 L651.4 557.8 L649.4 557.9 L647.7 558.5 L645.9 559.3 L644.3 560.6 L642.8 562.8 L641.6 566.9 L640.9 574.9 L638.9 575.5 L637 576.1 L635 576.7 L633.1 577.2 L630.4 570.2 L628.2 567.2 L626.3 566 L624.4 565.7 L622.6 566 L620.8 566.5 L619 567.5 L617.2 569.4 L615.4 573.3 L613.4 581.2 L611.5 581.4 L609.5 581.7 L607.5 581.9 L605.6 582 L604.1 574.5 L602.5 571 L600.9 569.4 L599.1 568.8 L597.3 568.7 L595.5 568.8 L593.6 569.5 L591.6 571.1 L589.2 574.7 L586.1 582.3 L584.2 582.2 L582.2 582 L580.3 581.8 L578.4 581.6 L578.2 573.7 L577.2 569.9 L575.9 568 L574.3 567 L572.6 566.6 L570.8 566.4 L568.9 566.7 L566.7 567.9 L563.8 571.1 L559.6 578.1 L557.8 577.6 L555.9 577.1 L554.1 576.6 L552.3 576 L553.4 568 L553.1 564 L552.1 561.8 L550.7 560.5 L549.1 559.7 L547.5 559.2 L545.6 559.1 L543.3 560 L540 562.6 L534.8 568.9 L533.1 568 L531.4 567.2 L529.8 566.3 L528.1 565.3 L530.4 557.5 L530.8 553.3 L530.2 550.9 L529.1 549.4 L527.7 548.3 L526.2 547.5 L524.4 547 L522 547.4 L518.5 549.4 L512.4 554.8 L510.9 553.6 L509.5 552.4 L508 551.2 L506.6 550 L510.1 542.5 L511.1 538.4 L510.9 535.8 L510 534.1 L508.9 532.7 L507.6 531.6 L505.9 530.8 L503.6 530.7 L499.8 532.1 L493.2 536.3 L491.9 534.9 L490.7 533.4 L489.5 531.8 L488.3 530.3 L492.9 523.5 L494.5 519.5 L494.7 516.9 L494.2 515 L493.3 513.4 L492.2 512 L490.8 510.9 L488.5 510.4 L484.7 511 L477.6 514 L476.7 512.3 L475.7 510.5 L474.8 508.8 L473.9 507 L479.4 501 L481.6 497.3 L482.2 494.7 L482 492.7 L481.4 490.9 L480.6 489.3 L479.4 487.9 L477.3 486.9 L473.6 486.8 L466.3 488.5 L465.6 486.6 L465 484.7 L464.4 482.7 L463.8 480.8 L470.1 475.7 L472.8 472.4 L473.8 470 L473.9 467.9 L473.6 466 L473.1 464.2 L472.1 462.5 L470.3 461.2 L466.7 460.4 L459.4 460.7 L459.1 458.6 L458.8 456.5 L458.6 454.5 L458.3 452.4 L465.1 448.5 L468.2 445.7 L469.6 443.4 L470.1 441.3 L470.1 439.3 L469.9 437.4 L469.2 435.6 L467.7 433.8 L464.3 432.3 L457.3 431.3 L457.3 429.1 L457.4 427 L457.5 424.8 L457.6 422.7 L464.7 420.1 L468.2 417.9 L469.8 415.8 L470.6 413.8 L471 411.8 L471.1 409.8 L470.7 407.8 L469.5 405.8 L466.6 403.7 L460 401.2 L460.3 399.1 L460.7 396.9 L461.1 394.8 L461.6 392.6 L468.9 391.4 L472.6 389.8 L474.5 388 L475.6 386.2 L476.2 384.2 L476.7 382.2 L476.6 380.2 L475.8 377.9 L473.3 375.2 L467.3 371.4 L468 369.3 L468.8 367.2 L469.5 365.2 L470.3 363.1 L477.5 363.2 L481.3 362.3 L483.4 360.9 L484.8 359.2 L485.7 357.4 L486.4 355.5 L486.7 353.4 L486.3 351 L484.3 347.7 L479.2 342.8 L480.2 340.8 L481.2 338.9 L482.3 336.9 L483.4 335 L490.3 336.5 L494.1 336.3 L496.4 335.3 L497.9 333.9 L499.1 332.2 L500.1 330.4 L500.7 328.4 L500.7 325.8 L499.3 322.2 L495.2 316.2 L496.5 314.4 L497.8 312.7 L499.1 310.9 L500.4 309.1 L506.9 312 L510.5 312.5 L512.9 312 L514.6 310.8 L516 309.4 L517.3 307.8 L518.2 305.8 L518.6 303.2 L517.9 299.3 L514.8 292.5 L516.3 291 L517.9 289.4 L519.4 287.9 L521 286.4 L526.7 290.5 L530.2 291.7 L532.5 291.6 L534.4 290.8 L536 289.6 L537.4 288.2 L538.6 286.4 L539.4 283.9 L539.3 279.8 L537.5 272.4 L539.2 271.1 L540.9 269.8 L542.7 268.6 L544.4 267.4 L549.3 272.6 L552.4 274.5 L554.7 274.8 L556.6 274.4 L558.3 273.5 L559.9 272.4 L561.4 270.8 L562.5 268.4 L563.1 264.2 L562.5 256.4 L564.4 255.4 L566.2 254.5 L568.1 253.6 L570 252.7 L573.8 258.9 L576.5 261.4 L578.6 262.2 L580.6 262.1 L582.3 261.5 L584.1 260.7 L585.7 259.4 L587.2 257.2 L588.4 253.1 L589.1 245.1 L591.1 244.5 L593 243.9 L595 243.3 L596.9 242.8 L599.6 249.8 L601.8 252.8 L603.7 254 L605.6 254.3 L607.4 254 L609.2 253.5 L611 252.5 L612.8 250.6 L614.6 246.7 L616.6 238.8 L618.5 238.6 L620.5 238.3 L622.5 238.1 L624.4 238 L625.9 245.5 L627.5 249 L629.1 250.6 L630.9 251.2 L632.7 251.3 L634.5 251.2 L636.4 250.5 L638.4 248.9 L640.8 245.3 L643.9 237.7 L645.8 237.8 L647.8 238 L649.7 238.2 L651.6 238.4 L651.8 246.3 L652.8 250.1 L654.1 252 L655.7 253 L657.4 253.4 L659.2 253.6 L661.1 253.3 L663.3 252.1 L666.2 248.9 L670.4 241.9 L672.2 242.4 L674.1 242.9 L675.9 243.4 L677.7 244 L676.6 252 L676.9 256 L677.9 258.2 L679.3 259.5 L680.9 260.3 L682.5 260.8 L684.4 260.9 L686.7 260 L690 257.4 L695.2 251.1 L696.9 252Z" fill="#fff" stroke-width="2.9" />
<line x1="708.1" y1="267" x2="699.6" y2="262.5" stroke-width="2.4" />
<line x1="720" y1="275.1" x2="711.5" y2="270.6" stroke-width="2.4" />
<line x1="728.4" y1="282" x2="719.9" y2="277.5" stroke-width="2.4" />
<line x1="738.7" y1="292.4" x2="730.2" y2="287.9" stroke-width="2.4" />
<line x1="745.6" y1="301" x2="737.1" y2="296.5" stroke-width="2.4" />
<line x1="753.8" y1="313.5" x2="745.3" y2="309" stroke-width="2.4" />
<line x1="759.1" y1="323.5" x2="750.6" y2="319" stroke-width="2.4" />
<line x1="764.9" y1="337.7" x2="756.4" y2="333.2" stroke-width="2.4" />
<line x1="768.4" y1="348.8" x2="759.9" y2="344.3" stroke-width="2.4" />
<line x1="771.8" y1="364.1" x2="763.3" y2="359.6" stroke-width="2.4" />
<line x1="773.4" y1="376" x2="764.9" y2="371.5" stroke-width="2.4" />
<line x1="774.2" y1="392.2" x2="765.7" y2="387.7" stroke-width="2.4" />
<line x1="773.8" y1="404.4" x2="765.3" y2="399.9" stroke-width="2.4" />
<line x1="771.9" y1="420.8" x2="763.4" y2="416.3" stroke-width="2.4" />
<line x1="769.6" y1="433.1" x2="761.1" y2="428.6" stroke-width="2.4" />
<line x1="765.2" y1="449.3" x2="756.7" y2="444.8" stroke-width="2.4" />
<line x1="761" y1="461.3" x2="752.5" y2="456.8" stroke-width="2.4" />
<line x1="754.2" y1="476.8" x2="745.7" y2="472.3" stroke-width="2.4" />
<line x1="748.2" y1="488" x2="739.7" y2="483.5" stroke-width="2.4" />
<line x1="739.2" y1="502.3" x2="730.7" y2="497.8" stroke-width="2.4" />
<line x1="731.6" y1="512.5" x2="723.1" y2="508" stroke-width="2.4" />
<line x1="720.6" y1="525.2" x2="712.1" y2="520.7" stroke-width="2.4" />
<line x1="711.8" y1="534" x2="703.3" y2="529.5" stroke-width="2.4" />
<line x1="699.2" y1="544.7" x2="690.7" y2="540.2" stroke-width="2.4" />
<line x1="689.2" y1="551.9" x2="680.7" y2="547.4" stroke-width="2.4" />
<line x1="675.4" y1="560.3" x2="666.9" y2="555.8" stroke-width="2.4" />
<line x1="664.7" y1="565.6" x2="656.2" y2="561.1" stroke-width="2.4" />
<line x1="650.1" y1="571.4" x2="641.6" y2="566.9" stroke-width="2.4" />
<line x1="638.9" y1="574.7" x2="630.4" y2="570.2" stroke-width="2.4" />
<line x1="623.9" y1="577.8" x2="615.4" y2="573.3" stroke-width="2.4" />
<line x1="612.6" y1="579" x2="604.1" y2="574.5" stroke-width="2.4" />
<line x1="597.7" y1="579.2" x2="589.2" y2="574.7" stroke-width="2.4" />
<line x1="586.7" y1="578.2" x2="578.2" y2="573.7" stroke-width="2.4" />
<line x1="572.3" y1="575.6" x2="563.8" y2="571.1" stroke-width="2.4" />
<line x1="561.9" y1="572.5" x2="553.4" y2="568" stroke-width="2.4" />
<line x1="548.5" y1="567.1" x2="540" y2="562.6" stroke-width="2.4" />
<line x1="538.9" y1="562" x2="530.4" y2="557.5" stroke-width="2.4" />
<line x1="527" y1="553.9" x2="518.5" y2="549.4" stroke-width="2.4" />
<line x1="518.6" y1="547" x2="510.1" y2="542.5" stroke-width="2.4" />
<line x1="508.3" y1="536.6" x2="499.8" y2="532.1" stroke-width="2.4" />
<line x1="501.4" y1="528" x2="492.9" y2="523.5" stroke-width="2.4" />
<line x1="493.2" y1="515.5" x2="484.7" y2="511" stroke-width="2.4" />
<line x1="487.9" y1="505.5" x2="479.4" y2="501" stroke-width="2.4" />
<line x1="482.1" y1="491.3" x2="473.6" y2="486.8" stroke-width="2.4" />
<line x1="478.6" y1="480.2" x2="470.1" y2="475.7" stroke-width="2.4" />
<line x1="475.2" y1="464.9" x2="466.7" y2="460.4" stroke-width="2.4" />
<line x1="473.6" y1="453" x2="465.1" y2="448.5" stroke-width="2.4" />
<line x1="472.8" y1="436.8" x2="464.3" y2="432.3" stroke-width="2.4" />
<line x1="473.2" y1="424.6" x2="464.7" y2="420.1" stroke-width="2.4" />
<line x1="475.1" y1="408.2" x2="466.6" y2="403.7" stroke-width="2.4" />
<line x1="477.4" y1="395.9" x2="468.9" y2="391.4" stroke-width="2.4" />
<line x1="481.8" y1="379.7" x2="473.3" y2="375.2" stroke-width="2.4" />
<line x1="486" y1="367.7" x2="477.5" y2="363.2" stroke-width="2.4" />
<line x1="492.8" y1="352.2" x2="484.3" y2="347.7" stroke-width="2.4" />
<line x1="498.8" y1="341" x2="490.3" y2="336.5" stroke-width="2.4" />
<line x1="507.8" y1="326.7" x2="499.3" y2="322.2" stroke-width="2.4" />
<line x1="515.4" y1="316.5" x2="506.9" y2="312" stroke-width="2.4" />
<line x1="526.4" y1="303.8" x2="517.9" y2="299.3" stroke-width="2.4" />
<line x1="535.2" y1="295" x2="526.7" y2="290.5" stroke-width="2.4" />
<line x1="547.8" y1="284.3" x2="539.3" y2="279.8" stroke-width="2.4" />
<line x1="557.8" y1="277.1" x2="549.3" y2="272.6" stroke-width="2.4" />
<line x1="571.6" y1="268.7" x2="563.1" y2="264.2" stroke-width="2.4" />
<line x1="582.3" y1="263.4" x2="573.8" y2="258.9" stroke-width="2.4" />
<line x1="596.9" y1="257.6" x2="588.4" y2="253.1" stroke-width="2.4" />
<line x1="608.1" y1="254.3" x2="599.6" y2="249.8" stroke-width="2.4" />
<line x1="623.1" y1="251.2" x2="614.6" y2="246.7" stroke-width="2.4" />
<line x1="634.4" y1="250" x2="625.9" y2="245.5" stroke-width="2.4" />
<line x1="649.3" y1="249.8" x2="640.8" y2="245.3" stroke-width="2.4" />
<line x1="660.3" y1="250.8" x2="651.8" y2="246.3" stroke-width="2.4" />
<line x1="674.7" y1="253.4" x2="666.2" y2="248.9" stroke-width="2.4" />
<line x1="685.1" y1="256.5" x2="676.6" y2="252" stroke-width="2.4" />
<line x1="698.5" y1="261.9" x2="690" y2="257.4" stroke-width="2.4" />
<path d="M707.1 257.3 L708.7 258.2 L710.4 259.2 L708.1 267 L707.7 271.2 L708.3 273.6 L709.4 275.1 L710.8 276.2 L712.3 277 L714.1 277.5 L716.5 277.1 L720 275.1 L726.1 269.7 L727.6 270.9 L729 272.1 L730.5 273.3 L731.9 274.5 L728.4 282 L727.4 286.1 L727.6 288.7 L728.5 290.4 L729.6 291.8 L730.9 292.9 L732.6 293.7 L734.9 293.8 L738.7 292.4 L745.3 288.2 L746.6 289.6 L747.8 291.1 L749 292.7 L750.2 294.2 L745.6 301 L744 305 L743.8 307.6 L744.3 309.5 L745.2 311.1 L746.3 312.5 L747.7 313.6 L750 314.1 L753.8 313.5 L760.9 310.5 L761.8 312.2 L762.8 314 L763.7 315.7 L764.6 317.5 L759.1 323.5 L756.9 327.2 L756.3 329.8 L756.5 331.8 L757.1 333.6 L757.9 335.2 L759.1 336.6 L761.2 337.6 L764.9 337.7 L772.2 336 L772.9 337.9 L773.5 339.8 L774.1 341.8 L774.7 343.7 L768.4 348.8 L765.7 352.1 L764.7 354.5 L764.6 356.6 L764.9 358.5 L765.4 360.3 L766.4 362 L768.2 363.3 L771.8 364.1 L779.1 363.8 L779.4 365.9 L779.7 368 L779.9 370 L780.2 372.1 L773.4 376 L770.3 378.8 L768.9 381.1 L768.4 383.2 L768.4 385.2 L768.6 387.1 L769.3 388.9 L770.8 390.7 L774.2 392.2 L781.2 393.2 L781.2 395.4 L781.1 397.5 L781 399.7 L780.9 401.8 L773.8 404.4 L770.3 406.6 L768.7 408.7 L767.9 410.7 L767.5 412.7 L767.4 414.7 L767.8 416.7 L769 418.7 L771.9 420.8 L778.5 423.3 L778.2 425.4 L777.8 427.6 L777.4 429.7 L776.9 431.9 L769.6 433.1 L765.9 434.7 L764 436.5 L762.9 438.3 L762.3 440.3 L761.8 442.3 L761.9 444.3 L762.7 446.6 L765.2 449.3 L771.2 453.1 L770.5 455.2 L769.7 457.3 L769 459.3 L768.2 461.4 L761 461.3 L757.2 462.2 L755.1 463.6 L753.7 465.3 L752.8 467.1 L752.1 469 L751.8 471.1 L752.2 473.5 L754.2 476.8 L759.3 481.7 L758.3 483.7 L757.3 485.6 L756.2 487.6 L755.1 489.5 L748.2 488 L744.4 488.2 L742.1 489.2 L740.6 490.6 L739.4 492.3 L738.4 494.1 L737.8 496.1 L737.8 498.7 L739.2 502.3 L743.3 508.3 L742 510.1 L740.7 511.8 L739.4 513.6 L738.1 515.4 L731.6 512.5 L728 512 L725.6 512.5 L723.9 513.7 L722.5 515.1 L721.2 516.7 L720.3 518.7 L719.9 521.3 L720.6 525.2 L723.7 532 L722.2 533.5 L720.6 535.1 L719.1 536.6 L717.5 538.1 L711.8 534 L708.3 532.8 L706 532.9 L704.1 533.7 L702.5 534.9 L701.1 536.3 L699.9 538.1 L699.1 540.6 L699.2 544.7 L701 552.1 L699.3 553.4 L697.6 554.7 L695.8 555.9 L694.1 557.1 L689.2 551.9 L686.1 550 L683.8 549.7 L681.9 550.1 L680.2 551 L678.6 552.1 L677.1 553.7 L676 556.1 L675.4 560.3 L676 568.1 L674.1 569.1 L672.3 570 L670.4 570.9 L668.5 571.8 L664.7 565.6 L662 563.1 L659.9 562.3 L657.9 562.4 L656.2 563 L654.4 563.8 L652.8 565.1 L651.3 567.3 L650.1 571.4 L649.4 579.4 L647.4 580 L645.5 580.6 L643.5 581.2 L641.6 581.7 L638.9 574.7 L636.7 571.7 L634.8 570.5 L632.9 570.2 L631.1 570.5 L629.3 571 L627.5 572 L625.7 573.9 L623.9 577.8 L621.9 585.7 L620 585.9 L618 586.2 L616 586.4 L614.1 586.5 L612.6 579 L611 575.5 L609.4 573.9 L607.6 573.3 L605.8 573.2 L604 573.3 L602.1 574 L600.1 575.6 L597.7 579.2 L594.6 586.8 L592.7 586.7 L590.7 586.5 L588.8 586.3 L586.9 586.1 L586.7 578.2 L585.7 574.4 L584.4 572.5 L582.8 571.5 L581.1 571.1 L579.3 570.9 L577.4 571.2 L575.2 572.4 L572.3 575.6 L568.1 582.6 L566.3 582.1 L564.4 581.6 L562.6 581.1 L560.8 580.5 L561.9 572.5 L561.6 568.5 L560.6 566.3 L559.2 565 L557.6 564.2 L556 563.7 L554.1 563.6 L551.8 564.5 L548.5 567.1 L543.3 573.4 L541.6 572.5 L539.9 571.7 L538.3 570.8 L536.6 569.8 L538.9 562 L539.3 557.8 L538.7 555.4 L537.6 553.9 L536.2 552.8 L534.7 552 L532.9 551.5 L530.5 551.9 L527 553.9 L520.9 559.3 L519.4 558.1 L518 556.9 L516.5 555.7 L515.1 554.5 L518.6 547 L519.6 542.9 L519.4 540.3 L518.5 538.6 L517.4 537.2 L516.1 536.1 L514.4 535.3 L512.1 535.2 L508.3 536.6 L501.7 540.8 L500.4 539.4 L499.2 537.9 L498 536.3 L496.8 534.8 L501.4 528 L503 524 L503.2 521.4 L502.7 519.5 L501.8 517.9 L500.7 516.5 L499.3 515.4 L497 514.9 L493.2 515.5 L486.1 518.5 L485.2 516.8 L484.2 515 L483.3 513.3 L482.4 511.5 L487.9 505.5 L490.1 501.8 L490.7 499.2 L490.5 497.2 L489.9 495.4 L489.1 493.8 L487.9 492.4 L485.8 491.4 L482.1 491.3 L474.8 493 L474.1 491.1 L473.5 489.2 L472.9 487.2 L472.3 485.3 L478.6 480.2 L481.3 476.9 L482.3 474.5 L482.4 472.4 L482.1 470.5 L481.6 468.7 L480.6 467 L478.8 465.7 L475.2 464.9 L467.9 465.2 L467.6 463.1 L467.3 461 L467.1 459 L466.8 456.9 L473.6 453 L476.7 450.2 L478.1 447.9 L478.6 445.8 L478.6 443.8 L478.4 441.9 L477.7 440.1 L476.2 438.3 L472.8 436.8 L465.8 435.8 L465.8 433.6 L465.9 431.5 L466 429.3 L466.1 427.2 L473.2 424.6 L476.7 422.4 L478.3 420.3 L479.1 418.3 L479.5 416.3 L479.6 414.3 L479.2 412.3 L478 410.3 L475.1 408.2 L468.5 405.7 L468.8 403.6 L469.2 401.4 L469.6 399.3 L470.1 397.1 L477.4 395.9 L481.1 394.3 L483 392.5 L484.1 390.7 L484.7 388.7 L485.2 386.7 L485.1 384.7 L484.3 382.4 L481.8 379.7 L475.8 375.9 L476.5 373.8 L477.3 371.7 L478 369.7 L478.8 367.6 L486 367.7 L489.8 366.8 L491.9 365.4 L493.3 363.7 L494.2 361.9 L494.9 360 L495.2 357.9 L494.8 355.5 L492.8 352.2 L487.7 347.3 L488.7 345.3 L489.7 343.4 L490.8 341.4 L491.9 339.5 L498.8 341 L502.6 340.8 L504.9 339.8 L506.4 338.4 L507.6 336.7 L508.6 334.9 L509.2 332.9 L509.2 330.3 L507.8 326.7 L503.7 320.7 L505 318.9 L506.3 317.2 L507.6 315.4 L508.9 313.6 L515.4 316.5 L519 317 L521.4 316.5 L523.1 315.3 L524.5 313.9 L525.8 312.3 L526.7 310.3 L527.1 307.7 L526.4 303.8 L523.3 297 L524.8 295.5 L526.4 293.9 L527.9 292.4 L529.5 290.9 L535.2 295 L538.7 296.2 L541 296.1 L542.9 295.3 L544.5 294.1 L545.9 292.7 L547.1 290.9 L547.9 288.4 L547.8 284.3 L546 276.9 L547.7 275.6 L549.4 274.3 L551.2 273.1 L552.9 271.9 L557.8 277.1 L560.9 279 L563.2 279.3 L565.1 278.9 L566.8 278 L568.4 276.9 L569.9 275.3 L571 272.9 L571.6 268.7 L571 260.9 L572.9 259.9 L574.7 259 L576.6 258.1 L578.5 257.2 L582.3 263.4 L585 265.9 L587.1 266.7 L589.1 266.6 L590.8 266 L592.6 265.2 L594.2 263.9 L595.7 261.7 L596.9 257.6 L597.6 249.6 L599.6 249 L601.5 248.4 L603.5 247.8 L605.4 247.3 L608.1 254.3 L610.3 257.3 L612.2 258.5 L614.1 258.8 L615.9 258.5 L617.7 258 L619.5 257 L621.3 255.1 L623.1 251.2 L625.1 243.3 L627 243.1 L629 242.8 L631 242.6 L632.9 242.5 L634.4 250 L636 253.5 L637.6 255.1 L639.4 255.7 L641.2 255.8 L643 255.7 L644.9 255 L646.9 253.4 L649.3 249.8 L652.4 242.2 L654.3 242.3 L656.3 242.5 L658.2 242.7 L660.1 242.9 L660.3 250.8 L661.3 254.6 L662.6 256.5 L664.2 257.5 L665.9 257.9 L667.7 258.1 L669.6 257.8 L671.8 256.6 L674.7 253.4 L678.9 246.4 L680.7 246.9 L682.6 247.4 L684.4 247.9 L686.2 248.5 L685.1 256.5 L685.4 260.5 L686.4 262.7 L687.8 264 L689.4 264.8 L691 265.3 L692.9 265.4 L695.2 264.5 L698.5 261.9 L703.7 255.6 L705.4 256.5Z" fill="#fff" stroke-width="3.8" />
<path d="M495.7 491.9 C494.9 489.5 492.1 482.3 490.6 477.3 C489.2 472.3 488 467.1 487.1 461.9 C486.1 456.7 485.5 451.4 485.1 446 C484.7 440.6 484.6 435.1 484.8 429.7 C484.9 424.2 485.4 418.7 486.1 413.2 C486.8 407.7 487.8 402.2 489 396.8 C490.3 391.3 491.8 385.9 493.6 380.5 C495.3 375.2 497.4 369.8 499.6 364.7 C501.9 359.5 504.4 354.4 507.1 349.4 C509.9 344.4 512.9 339.6 516 334.9 C519.2 330.2 522.6 325.7 526.2 321.4 C529.8 317 533.6 312.8 537.5 308.9 C541.5 305 545.6 301.2 549.8 297.7 C554.1 294.2 558.5 290.9 563 287.9 C567.6 284.8 572.2 282 576.9 279.5 C581.7 277 586.5 274.8 591.4 272.8 C596.3 270.8 601.3 269.1 606.2 267.7 C611.2 266.3 616.3 265.2 621.3 264.4 C626.3 263.6 631.4 263 636.3 262.8 C641.3 262.6 646.3 262.7 651.3 263 C656.2 263.4 661.1 264.1 665.9 265.1 C670.6 266 677.6 268.2 679.9 268.8" fill="none" stroke-width="4.1" />
<path d="M692.9 274.1 C694.9 275.2 701.2 278.4 705.1 280.9 C709 283.4 712.8 286.2 716.4 289.2 C720 292.1 723.4 295.4 726.6 298.8 C729.9 302.2 732.9 305.9 735.8 309.7 C738.6 313.5 741.3 317.6 743.7 321.8 C746.1 326 748.3 330.3 750.3 334.8 C752.3 339.3 754 344 755.5 348.8 C757 353.6 758.3 358.5 759.3 363.4 C760.3 368.4 761 373.5 761.5 378.7 C762 383.8 762.3 389 762.3 394.3 C762.3 399.5 762 404.8 761.5 410.1 C761 415.4 760.3 420.7 759.3 426 C758.3 431.3 757 436.6 755.5 441.8 C754 447 752.3 452.2 750.3 457.2 C748.3 462.3 746.1 467.3 743.7 472.2 C741.3 477.1 738.6 481.9 735.8 486.6 C733 491.2 729.9 495.8 726.7 500.2 C723.4 504.5 720 508.8 716.4 512.8 C712.8 516.8 709 520.7 705.1 524.3 C701.2 528 694.9 533 692.9 534.7" fill="none" stroke-width="1.9" />
<path d="M677.7 545.1 C675.3 546.4 668 550.7 662.9 553 C657.9 555.4 652.8 557.4 647.6 559.2 C642.5 560.9 637.2 562.3 632 563.4 C626.8 564.6 621.5 565.3 616.3 565.8 C611 566.3 605.8 566.4 600.6 566.2 C595.4 566 590.3 565.5 585.3 564.7 C580.2 563.9 575.2 562.7 570.4 561.2 C565.6 559.8 560.8 558 556.2 555.9 C551.6 553.8 547.2 551.4 542.9 548.7 C538.6 546 532.7 541.3 530.6 539.8" fill="none" stroke-width="1.9" />
<path d="M624.8 563 C622.4 563.2 614.9 563.8 610.1 563.7 C605.2 563.7 600.3 563.3 595.5 562.7 C590.8 562 586 561.1 581.4 559.8 C576.8 558.6 572.3 557 567.9 555.2 C563.5 553.4 559.2 551.3 555.1 549 C551 546.6 547 544 543.2 541.1 C539.5 538.2 535.8 535.1 532.4 531.7 C529 528.4 525.8 524.8 522.8 521 C519.7 517.2 516.9 513.1 514.4 508.9 C511.8 504.7 509.5 500.3 507.4 495.8 C505.3 491.2 503.5 486.5 501.9 481.7 C500.3 476.8 499 471.8 498 466.8 C496.9 461.7 496 453.8 495.6 451.3" fill="none" stroke-width="1.9" />
<path d="M661.1 275.8 C661.5 275.6 662.8 274.8 663.6 274.4 C664.4 273.9 665.3 273.5 666.1 273.2 C666.9 272.8 667.7 272.5 668.6 272.3 C669.4 272 670.2 271.8 671 271.7 C671.8 271.5 672.6 271.4 673.3 271.3 C674.1 271.3 674.9 271.2 675.6 271.3 C676.3 271.3 677 271.4 677.7 271.5 C678.4 271.7 679.1 271.8 679.7 272.1 C680.3 272.3 681 272.6 681.5 272.9 C682.1 273.2 682.6 273.6 683.2 274 C683.7 274.4 684.1 274.9 684.6 275.4 C685 275.9 685.4 276.4 685.8 277 C686.1 277.6 686.4 278.2 686.7 278.8 C687 279.5 687.2 280.2 687.4 280.9 C687.6 281.6 687.7 282.4 687.8 283.1 C687.9 283.9 688 284.7 688 285.5 C688 286.4 688 287.2 687.9 288.1 C687.9 288.9 687.8 289.8 687.6 290.7 C687.4 291.6 687.2 292.5 687 293.4 C686.7 294.3 686.5 295.3 686.1 296.2 C685.8 297.1 685.4 298.1 685 299 C684.6 299.9 684.2 300.8 683.7 301.7 C683.2 302.7 682.7 303.6 682.2 304.5 C681.6 305.3 681 306.2 680.4 307.1 C679.8 308 679.2 308.8 678.5 309.6 C677.8 310.4 677.1 311.2 676.4 312 C675.7 312.8 675 313.5 674.2 314.2 C673.4 315 672.3 315.9 671.9 316.3" fill="none" stroke-width="1.9" />
<ellipse cx="660.5" cy="294.5" rx="30" ry="18.5" fill="#fff" stroke-width="3.6" transform="rotate(-52 660.5 294.5)" />
<path d="M712.8 330.6 C713.3 330.7 714.8 330.9 715.8 331.1 C716.8 331.3 717.7 331.6 718.6 331.9 C719.6 332.2 720.5 332.5 721.3 332.9 C722.2 333.3 723 333.7 723.8 334.1 C724.6 334.6 725.4 335.1 726.1 335.7 C726.9 336.2 727.5 336.8 728.2 337.4 C728.8 338 729.4 338.6 730 339.3 C730.5 340 731 340.7 731.5 341.4 C732 342.1 732.4 342.9 732.7 343.6 C733.1 344.4 733.4 345.2 733.6 346 C733.9 346.8 734.1 347.7 734.2 348.5 C734.3 349.3 734.4 350.2 734.5 351 C734.5 351.9 734.5 352.8 734.4 353.6 C734.3 354.5 734.2 355.4 734 356.2 C733.8 357.1 733.6 358 733.3 358.8 C733 359.7 732.6 360.6 732.2 361.4 C731.8 362.2 731.4 363.1 730.9 363.9 C730.4 364.7 729.8 365.5 729.2 366.3 C728.6 367 728 367.8 727.3 368.5 C726.6 369.2 725.9 369.9 725.2 370.6 C724.4 371.3 723.6 371.9 722.8 372.5 C721.9 373.2 721.1 373.7 720.2 374.3 C719.3 374.8 718.4 375.3 717.4 375.8 C716.5 376.3 715.5 376.7 714.5 377.1 C713.5 377.5 712.5 377.8 711.5 378.1 C710.5 378.4 709.5 378.7 708.4 378.9 C707.4 379.1 706.4 379.3 705.3 379.4 C704.3 379.5 702.7 379.6 702.2 379.6" fill="none" stroke-width="1.9" />
<ellipse cx="701" cy="352" rx="30" ry="24" fill="#fff" stroke-width="3.6" transform="rotate(-18 701 352)" />
<path d="M697.8 429.9 C698.2 430.2 699.4 431 700.2 431.6 C701 432.2 701.7 432.8 702.5 433.5 C703.2 434.2 703.9 434.9 704.5 435.7 C705.2 436.4 705.8 437.2 706.3 438.1 C706.9 438.9 707.4 439.8 707.9 440.7 C708.4 441.5 708.8 442.5 709.2 443.4 C709.6 444.3 709.9 445.3 710.2 446.3 C710.5 447.3 710.8 448.3 711 449.3 C711.1 450.3 711.3 451.3 711.4 452.3 C711.5 453.3 711.5 454.3 711.5 455.4 C711.5 456.4 711.4 457.4 711.3 458.4 C711.2 459.4 711 460.5 710.8 461.5 C710.6 462.4 710.3 463.4 710 464.4 C709.7 465.4 709.3 466.3 708.9 467.3 C708.5 468.2 708.1 469.1 707.6 470 C707.1 470.8 706.5 471.7 705.9 472.5 C705.3 473.3 704.7 474.1 704 474.9 C703.4 475.6 702.7 476.3 701.9 477 C701.2 477.6 700.4 478.3 699.6 478.9 C698.8 479.4 698 480 697.2 480.5 C696.3 481 695.4 481.4 694.5 481.8 C693.6 482.2 692.7 482.5 691.8 482.8 C690.8 483.1 689.9 483.3 688.9 483.5 C688 483.7 687 483.8 686.1 483.9 C685.1 484 684.1 484 683.1 484 C682.2 484 681.2 483.9 680.2 483.7 C679.3 483.6 678.3 483.4 677.4 483.1 C676.4 482.9 675.1 482.4 674.6 482.3" fill="none" stroke-width="1.9" />
<ellipse cx="680" cy="452" rx="27.5" ry="29" fill="#fff" stroke-width="3.6" />
<path d="M604.1 490.8 C604.4 491.1 605.4 492 606 492.6 C606.5 493.3 607.1 494 607.6 494.8 C608.1 495.6 608.6 496.4 609.1 497.2 C609.6 498.1 610 498.9 610.4 499.8 C610.8 500.8 611.1 501.7 611.5 502.7 C611.8 503.6 612.1 504.6 612.3 505.7 C612.6 506.7 612.8 507.7 613 508.8 C613.1 509.8 613.3 510.9 613.4 512 C613.5 513 613.5 514.1 613.5 515.2 C613.5 516.3 613.5 517.4 613.4 518.5 C613.4 519.6 613.3 520.7 613.1 521.8 C613 522.9 612.8 523.9 612.6 525 C612.3 526 612.1 527.1 611.8 528.1 C611.5 529.1 611.1 530.1 610.8 531.1 C610.4 532.1 610 533 609.6 533.9 C609.1 534.9 608.6 535.7 608.1 536.6 C607.6 537.4 607.1 538.2 606.5 539 C606 539.8 605.4 540.5 604.8 541.2 C604.2 541.9 603.5 542.5 602.9 543.1 C602.2 543.7 601.5 544.2 600.8 544.7 C600.2 545.2 599.4 545.7 598.7 546 C598 546.4 597.3 546.7 596.5 547 C595.8 547.3 595 547.5 594.3 547.7 C593.5 547.8 592.7 547.9 592 548 C591.2 548 590.5 548 589.7 547.9 C589 547.8 588.2 547.7 587.5 547.5 C586.7 547.3 586 547.1 585.3 546.8 C584.5 546.5 583.5 545.9 583.1 545.7" fill="none" stroke-width="1.9" />
<ellipse cx="588" cy="514" rx="21.5" ry="31" fill="#fff" stroke-width="3.6" transform="rotate(3 588 514)" />
<path d="M534.5 466.7 C534.7 467 535.3 468 535.7 468.7 C536.1 469.4 536.5 470.2 536.9 471 C537.2 471.8 537.6 472.7 537.8 473.5 C538.1 474.4 538.4 475.3 538.6 476.3 C538.9 477.2 539.1 478.2 539.2 479.2 C539.4 480.2 539.5 481.2 539.6 482.3 C539.7 483.3 539.8 484.4 539.8 485.4 C539.9 486.5 539.9 487.6 539.9 488.7 C539.8 489.8 539.8 490.9 539.7 492 C539.6 493.1 539.4 494.2 539.3 495.3 C539.1 496.4 538.9 497.5 538.7 498.6 C538.5 499.7 538.2 500.8 537.9 501.8 C537.6 502.9 537.3 503.9 537 504.9 C536.6 505.9 536.3 506.9 535.9 507.9 C535.5 508.9 535 509.8 534.6 510.7 C534.1 511.6 533.7 512.5 533.2 513.3 C532.7 514.1 532.2 514.9 531.6 515.6 C531.1 516.4 530.5 517.1 530 517.7 C529.4 518.4 528.8 519 528.2 519.5 C527.7 520.1 527 520.6 526.4 521.1 C525.8 521.5 525.2 521.9 524.6 522.3 C524 522.6 523.3 522.9 522.7 523.1 C522.1 523.3 521.4 523.5 520.8 523.6 C520.2 523.7 519.5 523.8 518.9 523.8 C518.3 523.8 517.7 523.7 517.1 523.6 C516.5 523.5 515.9 523.3 515.3 523.1 C514.7 522.8 514.1 522.5 513.6 522.2 C513 521.8 512.2 521.2 512 521" fill="none" stroke-width="1.9" />
<ellipse cx="518" cy="489.5" rx="17.5" ry="31.5" fill="#fff" stroke-width="3.6" transform="rotate(8 518 489.5)" />
<path d="M609 273.4 C609 273.5 609.3 273.9 609.4 274.2 C609.5 274.6 609.5 274.9 609.5 275.3 C609.5 275.6 609.5 276 609.5 276.4 C609.4 276.8 609.3 277.2 609.1 277.6 C609 278.1 608.8 278.5 608.6 279 C608.4 279.4 608.1 279.9 607.8 280.4 C607.6 280.9 607.2 281.4 606.9 281.9 C606.5 282.4 606.1 283 605.7 283.5 C605.2 284 604.8 284.6 604.3 285.1 C603.8 285.6 603.3 286.2 602.7 286.7 C602.2 287.3 601.6 287.8 601 288.4 C600.4 288.9 599.8 289.4 599.1 290 C598.5 290.5 597.8 291 597.2 291.6 C596.5 292.1 595.8 292.6 595.1 293.1 C594.4 293.6 593.6 294.1 592.9 294.5 C592.2 295 591.4 295.5 590.7 295.9 C589.9 296.4 589.2 296.8 588.4 297.2 C587.7 297.6 586.9 298 586.2 298.4 C585.4 298.8 584.7 299.1 584 299.4 C583.2 299.8 582.5 300.1 581.8 300.3 C581 300.6 580.3 300.9 579.6 301.1 C579 301.3 578.3 301.5 577.6 301.7 C577 301.9 576.3 302 575.7 302.2 C575.1 302.3 574.5 302.4 573.9 302.5 C573.4 302.5 572.8 302.6 572.3 302.6 C571.8 302.6 571.3 302.6 570.8 302.5 C570.4 302.5 570 302.4 569.6 302.3 C569.2 302.2 568.8 302 568.5 301.9 C568.2 301.7 567.9 301.5 567.7 301.3 C567.4 301.1 567.2 300.9 567 300.6 C566.9 300.4 566.7 300.1 566.6 299.8 C566.5 299.4 566.5 299.1 566.5 298.7 C566.5 298.4 566.5 298 566.5 297.6 C566.6 297.2 566.7 296.8 566.9 296.4 C567 295.9 567.2 295.5 567.4 295 C567.6 294.6 567.9 294.1 568.2 293.6 C568.4 293.1 568.8 292.6 569.1 292.1 C569.5 291.6 569.9 291 570.3 290.5 C570.8 290 571.2 289.4 571.7 288.9 C572.2 288.4 572.7 287.8 573.3 287.3 C573.8 286.7 574.4 286.2 575 285.6 C575.6 285.1 576.2 284.6 576.9 284 C577.5 283.5 578.2 283 578.8 282.4 C579.5 281.9 580.2 281.4 580.9 280.9 C581.6 280.4 582.4 279.9 583.1 279.5 C583.8 279 584.6 278.5 585.3 278.1 C586.1 277.6 586.8 277.2 587.6 276.8 C588.3 276.4 589.1 276 589.8 275.6 C590.6 275.2 591.3 274.9 592 274.6 C592.8 274.2 593.5 273.9 594.2 273.7 C595 273.4 595.7 273.1 596.4 272.9 C597 272.7 597.7 272.5 598.4 272.3 C599 272.1 599.7 272 600.3 271.8 C600.9 271.7 601.5 271.6 602.1 271.5 C602.6 271.5 603.2 271.4 603.7 271.4 C604.2 271.4 604.7 271.4 605.2 271.5 C605.6 271.5 606 271.6 606.4 271.7 C606.8 271.8 607.2 272 607.5 272.1 C607.8 272.3 608.1 272.5 608.3 272.7 C608.6 272.9 608.9 273.3 609 273.4" fill="#fff" stroke-width="1.9" />
<path d="M609.9 277.9 C609.9 278.1 609.9 278.6 609.9 279 C609.8 279.3 609.7 279.7 609.6 280.1 C609.5 280.5 609.3 280.9 609.1 281.4 C608.9 281.8 608.7 282.3 608.4 282.7 C608.1 283.2 607.8 283.7 607.5 284.1 C607.1 284.6 606.7 285.1 606.3 285.6 C605.9 286.1 605.5 286.6 605 287.2 C604.5 287.7 604 288.2 603.5 288.7 C602.9 289.2 602.4 289.8 601.8 290.3 C601.2 290.8 600.6 291.3 600 291.8 C599.4 292.4 598.7 292.9 598.1 293.4 C597.4 293.9 596.7 294.4 596 294.9 C595.3 295.4 594.6 295.8 593.9 296.3 C593.2 296.8 592.5 297.2 591.8 297.6 C591 298.1 590.3 298.5 589.6 298.9 C588.8 299.3 588.1 299.7 587.4 300 C586.7 300.4 585.9 300.7 585.2 301.1 C584.5 301.4 583.8 301.7 583.1 302 C582.4 302.2 581.7 302.5 581.1 302.7 C580.4 302.9 579.7 303.1 579.1 303.3 C578.5 303.5 577.9 303.6 577.3 303.7 C576.7 303.9 576.1 303.9 575.6 304 C575.1 304.1 574.6 304.1 574.1 304.1 C573.6 304.1 573.2 304.1 572.7 304 C572.3 304 571.9 303.9 571.6 303.8 C571.2 303.7 570.8 303.5 570.7 303.4" fill="none" stroke-width="1.9" />
<path d="M525 330.7 C525.1 330.8 525.4 331 525.6 331.1 C525.7 331.3 525.9 331.5 526 331.7 C526.2 332 526.3 332.3 526.4 332.6 C526.5 332.9 526.6 333.3 526.7 333.7 C526.7 334.1 526.8 334.5 526.8 334.9 C526.8 335.4 526.8 335.9 526.8 336.4 C526.8 337 526.8 337.5 526.7 338.1 C526.7 338.7 526.6 339.3 526.5 339.9 C526.4 340.6 526.3 341.2 526.2 341.9 C526 342.6 525.9 343.3 525.7 344 C525.5 344.7 525.4 345.4 525.2 346.2 C525 346.9 524.7 347.7 524.5 348.4 C524.3 349.2 524 350 523.8 350.8 C523.5 351.5 523.2 352.3 522.9 353.1 C522.6 353.9 522.3 354.7 522 355.4 C521.7 356.2 521.4 357 521.1 357.7 C520.7 358.5 520.4 359.3 520 360 C519.7 360.7 519.3 361.5 519 362.2 C518.6 362.9 518.2 363.6 517.8 364.3 C517.5 364.9 517.1 365.6 516.7 366.2 C516.3 366.9 516 367.5 515.6 368 C515.2 368.6 514.8 369.2 514.5 369.7 C514.1 370.2 513.7 370.7 513.4 371.2 C513 371.6 512.6 372 512.3 372.4 C511.9 372.8 511.6 373.2 511.2 373.5 C510.9 373.8 510.6 374.1 510.2 374.3 C509.9 374.6 509.6 374.8 509.3 374.9 C509 375.1 508.7 375.2 508.5 375.3 C508.2 375.4 507.9 375.4 507.7 375.4 C507.4 375.4 507.2 375.3 507 375.3 C506.8 375.2 506.6 375 506.4 374.9 C506.3 374.7 506.1 374.5 506 374.3 C505.8 374 505.7 373.7 505.6 373.4 C505.5 373.1 505.4 372.7 505.3 372.3 C505.3 371.9 505.2 371.5 505.2 371.1 C505.2 370.6 505.2 370.1 505.2 369.6 C505.2 369 505.2 368.5 505.3 367.9 C505.3 367.3 505.4 366.7 505.5 366.1 C505.6 365.4 505.7 364.8 505.8 364.1 C506 363.4 506.1 362.7 506.3 362 C506.5 361.3 506.6 360.6 506.8 359.8 C507 359.1 507.3 358.3 507.5 357.6 C507.7 356.8 508 356 508.2 355.2 C508.5 354.5 508.8 353.7 509.1 352.9 C509.4 352.1 509.7 351.3 510 350.6 C510.3 349.8 510.6 349 510.9 348.3 C511.3 347.5 511.6 346.7 512 346 C512.3 345.3 512.7 344.5 513 343.8 C513.4 343.1 513.8 342.4 514.2 341.7 C514.5 341.1 514.9 340.4 515.3 339.8 C515.7 339.1 516 338.5 516.4 338 C516.8 337.4 517.2 336.8 517.5 336.3 C517.9 335.8 518.3 335.3 518.6 334.8 C519 334.4 519.4 334 519.7 333.6 C520.1 333.2 520.4 332.8 520.8 332.5 C521.1 332.2 521.4 331.9 521.8 331.7 C522.1 331.4 522.4 331.2 522.7 331.1 C523 330.9 523.3 330.8 523.5 330.7 C523.8 330.6 524.1 330.6 524.3 330.6 C524.6 330.6 524.9 330.7 525 330.7" fill="#fff" stroke-width="1.9" />
<path d="M526.9 335.1 C526.9 335.2 527.1 335.5 527.2 335.8 C527.3 336.1 527.4 336.4 527.5 336.8 C527.5 337.1 527.6 337.5 527.6 338 C527.6 338.4 527.6 338.9 527.6 339.3 C527.6 339.8 527.6 340.4 527.5 340.9 C527.5 341.5 527.4 342.1 527.3 342.7 C527.2 343.3 527.1 343.9 527 344.6 C526.8 345.2 526.7 345.9 526.5 346.6 C526.4 347.3 526.2 348 526 348.7 C525.8 349.4 525.6 350.1 525.3 350.9 C525.1 351.6 524.9 352.4 524.6 353.1 C524.4 353.9 524.1 354.7 523.8 355.4 C523.5 356.2 523.2 356.9 522.9 357.7 C522.6 358.4 522.3 359.2 522 359.9 C521.7 360.7 521.3 361.4 521 362.1 C520.6 362.9 520.3 363.6 519.9 364.3 C519.6 365 519.2 365.6 518.9 366.3 C518.5 367 518.2 367.6 517.8 368.2 C517.4 368.8 517.1 369.4 516.7 370 C516.3 370.5 516 371 515.6 371.5 C515.3 372 514.9 372.5 514.6 372.9 C514.2 373.4 513.9 373.8 513.6 374.1 C513.2 374.5 512.9 374.8 512.6 375.1 C512.3 375.4 512 375.7 511.7 375.9 C511.4 376.1 511.1 376.3 510.8 376.4 C510.5 376.5 510.2 376.7 510 376.7" fill="none" stroke-width="1.9" />
<path d="M496.4 397.1 C496.5 397.1 496.8 397.2 497.1 397.3 C497.3 397.4 497.5 397.6 497.8 397.8 C498 398 498.2 398.3 498.4 398.6 C498.6 398.9 498.8 399.3 499 399.7 C499.2 400.1 499.4 400.5 499.5 401 C499.7 401.5 499.9 402 500 402.6 C500.2 403.2 500.3 403.8 500.4 404.4 C500.5 405.1 500.7 405.7 500.8 406.5 C500.9 407.2 500.9 407.9 501 408.7 C501.1 409.5 501.2 410.3 501.2 411.1 C501.3 411.9 501.3 412.8 501.3 413.6 C501.4 414.5 501.4 415.4 501.4 416.3 C501.4 417.2 501.3 418.1 501.3 419 C501.3 419.9 501.2 420.9 501.2 421.8 C501.1 422.7 501.1 423.7 501 424.6 C500.9 425.5 500.8 426.5 500.7 427.4 C500.6 428.3 500.5 429.3 500.3 430.2 C500.2 431.1 500.1 432 499.9 432.9 C499.8 433.8 499.6 434.6 499.4 435.5 C499.2 436.3 499.1 437.2 498.9 438 C498.7 438.8 498.5 439.6 498.3 440.3 C498 441 497.8 441.8 497.6 442.5 C497.4 443.1 497.2 443.8 496.9 444.4 C496.7 445 496.4 445.6 496.2 446.1 C496 446.7 495.7 447.1 495.4 447.6 C495.2 448 494.9 448.5 494.7 448.8 C494.4 449.2 494.2 449.5 493.9 449.8 C493.7 450 493.4 450.3 493.1 450.4 C492.9 450.6 492.6 450.7 492.4 450.8 C492.1 450.9 491.9 450.9 491.6 450.9 C491.4 450.9 491.2 450.8 490.9 450.7 C490.7 450.6 490.5 450.4 490.2 450.2 C490 450 489.8 449.7 489.6 449.4 C489.4 449.1 489.2 448.7 489 448.3 C488.8 447.9 488.6 447.5 488.5 447 C488.3 446.5 488.1 446 488 445.4 C487.8 444.8 487.7 444.2 487.6 443.6 C487.5 442.9 487.3 442.3 487.2 441.5 C487.1 440.8 487.1 440.1 487 439.3 C486.9 438.5 486.8 437.7 486.8 436.9 C486.7 436.1 486.7 435.2 486.7 434.4 C486.6 433.5 486.6 432.6 486.6 431.7 C486.6 430.8 486.7 429.9 486.7 429 C486.7 428.1 486.8 427.1 486.8 426.2 C486.9 425.3 486.9 424.3 487 423.4 C487.1 422.5 487.2 421.5 487.3 420.6 C487.4 419.7 487.5 418.7 487.7 417.8 C487.8 416.9 487.9 416 488.1 415.1 C488.2 414.2 488.4 413.4 488.6 412.5 C488.8 411.7 488.9 410.8 489.1 410 C489.3 409.2 489.5 408.4 489.7 407.7 C490 407 490.2 406.2 490.4 405.5 C490.6 404.9 490.8 404.2 491.1 403.6 C491.3 403 491.6 402.4 491.8 401.9 C492 401.3 492.3 400.9 492.6 400.4 C492.8 400 493.1 399.5 493.3 399.2 C493.6 398.8 493.8 398.5 494.1 398.2 C494.3 398 494.6 397.7 494.9 397.6 C495.1 397.4 495.4 397.3 495.6 397.2 C495.9 397.1 496.2 397.1 496.4 397.1" fill="#fff" stroke-width="1.9" />
<path d="M498.8 401.4 C498.9 401.5 499.2 401.8 499.4 402.1 C499.6 402.4 499.8 402.7 500 403.1 C500.1 403.4 500.3 403.8 500.5 404.3 C500.6 404.7 500.8 405.2 500.9 405.8 C501 406.3 501.2 406.9 501.3 407.5 C501.4 408.1 501.5 408.8 501.6 409.4 C501.7 410.1 501.8 410.8 501.9 411.6 C501.9 412.3 502 413.1 502 413.9 C502.1 414.7 502.1 415.5 502.1 416.4 C502.2 417.2 502.2 418.1 502.2 418.9 C502.2 419.8 502.1 420.7 502.1 421.6 C502.1 422.5 502 423.4 502 424.3 C501.9 425.2 501.9 426.1 501.8 427 C501.7 428 501.6 428.9 501.5 429.8 C501.4 430.7 501.3 431.6 501.2 432.5 C501 433.4 500.9 434.3 500.7 435.1 C500.6 436 500.4 436.8 500.3 437.6 C500.1 438.5 499.9 439.3 499.7 440 C499.6 440.8 499.4 441.6 499.2 442.3 C499 443 498.8 443.7 498.6 444.4 C498.3 445 498.1 445.6 497.9 446.2 C497.7 446.8 497.5 447.3 497.2 447.8 C497 448.3 496.8 448.8 496.5 449.2 C496.3 449.6 496.1 450 495.8 450.3 C495.6 450.7 495.3 451 495.1 451.2 C494.9 451.4 494.5 451.7 494.4 451.8" fill="none" stroke-width="1.9" />
<path d="M619 279 C620.8 279.2 626.3 279.3 630 280 C633.7 280.7 639.2 282.5 641 283" fill="none" stroke-width="1.9" />
<path d="M686 313 C686.8 314.2 689.5 317.5 691 320 C692.5 322.5 694.3 326.7 695 328" fill="none" stroke-width="1.9" />
<path d="M688 314 C688.8 315.2 691.7 318.8 693 321 C694.3 323.2 695.5 326 696 327" fill="none" stroke-width="1.9" />
<path d="M704 380 C703.8 383.3 703.8 393.2 703 400 C702.2 406.8 699.7 417.5 699 421" fill="none" stroke-width="1.9" />
<path d="M708 394 C707.7 396.7 707 405 706 410 C705 415 702.7 421.7 702 424" fill="none" stroke-width="1.9" />
<path d="M663 478 C661.2 479.7 655.8 485 652 488 C648.2 491 642 494.7 640 496" fill="none" stroke-width="1.9" />
<path d="M667 482 C665 483.7 658.2 489.5 655 492 C651.8 494.5 649.2 496.2 648 497" fill="none" stroke-width="1.9" />
<path d="M638 503 C636.7 503.7 633 505.8 630 507 C627 508.2 621.7 509.5 620 510" fill="none" stroke-width="1.9" />
<path d="M640 511 C638.3 511.7 633.5 513.8 630 515 C626.5 516.2 620.8 517.5 619 518" fill="none" stroke-width="1.9" />
<path d="M537 508 C539.2 508.7 545.3 510.7 550 512 C554.7 513.3 562.5 515.3 565 516" fill="none" stroke-width="1.9" />
<path d="M548 515 C549.3 515.3 553 516.3 556 517 C559 517.7 564.3 518.7 566 519" fill="none" stroke-width="1.9" />
<path d="M495 458 C495.5 459.3 496.8 463.3 498 466 C499.2 468.7 501.3 472.7 502 474" fill="none" stroke-width="1.9" />
<ellipse cx="593.4" cy="397" rx="72" ry="65.5" fill="#fff" stroke-width="2.2" transform="rotate(-62 593.4 397)" />
<path d="M632.1 336.3 C633 337 635.9 339 637.7 340.5 C639.4 342 641.1 343.6 642.7 345.3 C644.3 347 645.8 348.8 647.2 350.7 C648.6 352.5 650 354.5 651.1 356.6 C652.3 358.6 653.4 360.7 654.4 362.9 C655.4 365.1 656.2 367.3 657 369.6 C657.7 371.9 658.4 374.3 658.9 376.6 C659.4 379 659.7 381.4 660 383.9 C660.2 386.3 660.4 388.8 660.4 391.3 C660.4 393.8 660.3 396.3 660 398.7 C659.8 401.2 659.4 403.7 658.9 406.2 C658.4 408.7 657.8 411.1 657.1 413.5 C656.4 416 655.5 418.3 654.6 420.7 C653.6 423 652.5 425.3 651.3 427.6 C650.1 429.8 648.8 432 647.4 434.1 C646.1 436.2 644.6 438.3 643 440.3 C641.4 442.2 639.7 444.1 637.9 445.9 C636.2 447.7 634.3 449.4 632.4 451 C630.5 452.6 628.5 454.1 626.4 455.5 C624.4 456.9 622.3 458.2 620.1 459.4 C617.9 460.5 615.7 461.6 613.5 462.5 C611.2 463.4 608.9 464.3 606.6 464.9 C604.3 465.6 601.9 466.2 599.6 466.6 C597.2 467 594.9 467.3 592.5 467.5 C590.2 467.6 587.8 467.7 585.4 467.6 C583.1 467.5 580.8 467.2 578.5 466.9 C576.2 466.5 573.9 466 571.7 465.4 C569.4 464.8 567.2 464 565.1 463.1 C563 462.3 560.9 461.3 558.8 460.2 C556.8 459 554.9 457.8 553 456.5 C551.1 455.1 549.3 453.7 547.6 452.1 C545.8 450.6 544.2 448.9 542.7 447.1 C541.1 445.4 539 442.5 538.3 441.6" fill="none" stroke-width="5" />
<path d="M549.8 436.1 C549.2 435.3 547.2 433 546.1 431.3 C545 429.7 543.9 428 543 426.2 C542.1 424.4 541.2 422.5 540.5 420.6 C539.7 418.7 539.1 416.8 538.5 414.8 C538 412.8 537.6 410.8 537.2 408.8 C536.9 406.7 536.7 404.6 536.6 402.6 C536.5 400.5 536.5 398.4 536.6 396.3 C536.7 394.2 536.9 392.1 537.2 390 C537.5 388 538 385.9 538.5 383.8 C539 381.8 539.7 379.8 540.4 377.8 C541.2 375.8 542 373.8 542.9 371.9 C543.9 370 544.9 368.2 546 366.4 C547.2 364.6 548.4 362.8 549.7 361.1 C551 359.5 552.4 357.9 553.8 356.3 C555.3 354.8 556.8 353.3 558.4 352 C560 350.6 561.7 349.3 563.4 348.1 C565.1 346.9 566.9 345.8 568.7 344.9 C570.5 343.9 572.4 343 574.3 342.2 C576.2 341.4 578.2 340.7 580.1 340.1 C582.1 339.5 584.1 339.1 586.1 338.7 C588.1 338.4 591.1 338.1 592.1 338" fill="none" stroke-width="1.9" />
<path d="M635.4 430.5 C634.7 431.3 632.8 433.7 631.4 435.2 C630 436.7 628.5 438.2 626.9 439.6 C625.4 440.9 623.8 442.2 622.1 443.4 C620.4 444.6 618.7 445.7 616.9 446.7 C615.1 447.7 613.3 448.6 611.5 449.4 C609.6 450.2 607.7 450.9 605.8 451.5 C603.9 452.1 601.9 452.7 600 453 C598 453.4 596.1 453.7 594.1 453.9 C592.1 454.1 590.1 454.2 588.2 454.1 C586.2 454.1 584.2 454 582.3 453.7 C580.4 453.4 578.4 453.1 576.5 452.6 C574.6 452.2 572.8 451.6 571 450.9 C569.1 450.2 567.3 449.4 565.6 448.6 C563.9 447.7 561.4 446.1 560.6 445.6" fill="none" stroke-width="1.9" />
<path d="M612.9 344.1 C613.7 344.4 616.2 345.2 617.8 345.9 C619.4 346.6 621 347.4 622.5 348.3 C624 349.2 625.4 350.2 626.8 351.2 C628.2 352.3 629.6 353.4 630.8 354.7 C632.1 355.9 633.3 357.2 634.4 358.6 C635.6 359.9 636.6 361.4 637.6 362.9 C638.6 364.4 639.5 366 640.3 367.6 C641.1 369.2 641.8 370.9 642.4 372.6 C643 374.3 643.6 376.1 644 377.9 C644.4 379.7 644.8 381.5 645 383.4 C645.3 385.2 645.5 387.1 645.5 389 C645.6 390.8 645.5 392.7 645.4 394.6 C645.3 396.5 644.8 399.4 644.7 400.3" fill="none" stroke-width="1.9" />
<ellipse cx="591" cy="394" rx="47" ry="40.5" fill="#fff" stroke-width="3.6" transform="rotate(-62 591 394)" />
<path d="M624.2 369.4 C624.5 370 625.3 371.6 625.7 372.8 C626.1 374 626.5 375.2 626.8 376.5 C627.1 377.7 627.4 379 627.5 380.3 C627.7 381.6 627.8 382.9 627.9 384.3 C627.9 385.6 627.9 387 627.9 388.3 C627.8 389.7 627.6 391.1 627.4 392.4 C627.2 393.8 627 395.2 626.7 396.5 C626.3 397.9 625.9 399.3 625.5 400.6 C625.1 402 624.6 403.3 624 404.6 C623.4 405.9 622.8 407.2 622.1 408.5 C621.5 409.8 620.7 411 620 412.2 C619.2 413.4 618.4 414.6 617.5 415.7 C616.6 416.8 615.7 417.9 614.8 418.9 C613.8 420 612.8 420.9 611.8 421.9 C610.8 422.8 609.1 424.1 608.6 424.5" fill="none" stroke-width="1.9" />
<ellipse cx="585" cy="389" rx="26.5" ry="22.5" fill="#fff" stroke-width="3.6" transform="rotate(-62 585 389)" />
<path d="M571 374.6 C571.3 374.3 572.2 373.3 572.8 372.7 C573.4 372.1 574.1 371.5 574.8 371 C575.4 370.4 576.1 369.9 576.8 369.5 C577.6 369 578.3 368.6 579 368.2 C579.8 367.8 580.5 367.5 581.3 367.2 C582.1 366.9 582.8 366.7 583.6 366.5 C584.4 366.3 585.2 366.1 585.9 366 C586.7 365.9 587.5 365.8 588.3 365.8 C589 365.8 589.8 365.8 590.6 365.9 C591.3 366 592.1 366.1 592.8 366.3 C593.5 366.5 594.3 366.7 595 366.9 C595.7 367.2 596.3 367.5 597 367.9 C597.7 368.2 598.3 368.6 598.9 369 C599.5 369.5 600.1 370 600.6 370.5 C601.2 371 601.7 371.5 602.2 372.1 C602.7 372.7 603.2 373.3 603.6 374 C604 374.6 604.4 375.3 604.7 376 C605.1 376.7 605.4 377.4 605.6 378.2 C605.9 379 606.1 379.7 606.3 380.5 C606.5 381.3 606.7 382.6 606.8 383" fill="none" stroke-width="6.6" />
<path d="M601.4 376.3 C601.6 376.6 602.1 377.3 602.4 377.8 C602.8 378.4 603.1 378.9 603.3 379.5 C603.6 380.1 603.8 380.7 604 381.3 C604.2 381.9 604.4 382.6 604.5 383.2 C604.7 383.9 604.8 384.5 604.8 385.2 C604.9 385.9 604.9 386.6 605 387.2 C605 387.9 604.9 388.6 604.9 389.3 C604.8 390 604.7 390.8 604.6 391.5 C604.5 392.2 604.3 392.9 604.1 393.6 C604 394.3 603.7 395 603.5 395.6 C603.2 396.3 603 397 602.7 397.7 C602.4 398.3 602 399 601.7 399.6 C601.3 400.3 600.9 400.9 600.5 401.5 C600.1 402.1 599.6 402.7 599.2 403.2 C598.7 403.8 598.2 404.3 597.7 404.8 C597.2 405.4 596.7 405.8 596.2 406.3 C595.6 406.8 595.1 407.2 594.5 407.6 C593.9 408 593.4 408.4 592.8 408.7 C592.2 409 591.6 409.3 590.9 409.6 C590.3 409.9 589.7 410.1 589.1 410.3 C588.5 410.5 587.8 410.7 587.2 410.8 C586.6 411 586 411.1 585.3 411.1 C584.7 411.2 584.1 411.2 583.5 411.2 C582.9 411.2 582.3 411.1 581.7 411 C581.1 410.9 580.2 410.7 579.9 410.6" fill="none" stroke-width="1.9" />
<path d="M605.2 378.6 C605.3 378.9 605.8 379.9 606 380.6 C606.3 381.3 606.5 382 606.7 382.7 C606.9 383.4 607.1 384.2 607.2 384.9 C607.3 385.7 607.4 386.4 607.4 387.2 C607.5 388 607.5 388.8 607.4 389.6 C607.4 390.3 607.3 391.1 607.2 391.9 C607.1 392.7 607 393.5 606.8 394.3 C606.6 395.1 606.4 395.9 606.1 396.6 C605.9 397.4 605.6 398.2 605.3 398.9 C605 399.7 604.6 400.4 604.2 401.2 C603.8 401.9 603.4 402.6 603 403.3 C602.5 404 602 404.6 601.5 405.3 C601 405.9 600.5 406.5 600 407.1 C599.4 407.7 598.8 408.3 598.2 408.8 C597.6 409.3 597 409.8 596.4 410.3 C595.8 410.8 595.1 411.2 594.4 411.6 C593.8 412 593.1 412.4 592.4 412.7 C591.7 413 591 413.3 590.3 413.5 C589.6 413.8 588.9 414 588.2 414.2 C587.5 414.3 586.4 414.5 586.1 414.5" fill="none" stroke-width="1.9" />
<line x1="574" y1="365" x2="574" y2="383" stroke-width="1.9" />
</g>
<g id="crank">
<ellipse cx="690" cy="1635" rx="98" ry="84" fill="#fff" stroke-width="5.3" transform="rotate(-62 690 1635)" />
<path d="M728.2 1563.2 L728.7 1565.9 L729.8 1567.2 L731.2 1568.2 L732.7 1569 L734.7 1569.1 L737.8 1567.5 L747.6 1557.4 L749.2 1558.8 L750.7 1560.2 L752.2 1561.6 L753.7 1563.1 L755.1 1564.6 L749.9 1573.1 L746.9 1578.7 L746.5 1581.5 L747.1 1583.3 L748 1584.7 L749.1 1586.1 L750.8 1586.9 L754.2 1586.6 L766.1 1580.3 L767.1 1582.2 L768 1584.2 L768.9 1586.2 L769.8 1588.2 L770.6 1590.3 L763.2 1596.6 L758.7 1601 L757.5 1603.6 L757.5 1605.6 L757.9 1607.4 L758.4 1609.1 L759.7 1610.6 L762.8 1611.5 L775.4 1609.8 L775.7 1612.1 L775.9 1614.3 L776.1 1616.6 L776.2 1618.9 L776.3 1621.3 L767.7 1624.7 L762.3 1627.4 L760.3 1629.5 L759.7 1631.4 L759.5 1633.3 L759.4 1635.2 L760.1 1637.2 L762.6 1639.3 L774.4 1642.3 L774 1644.7 L773.5 1647 L772.9 1649.3 L772.3 1651.6 L771.6 1653.9 L762.8 1654.1 L757.1 1654.7 L754.7 1656 L753.5 1657.7 L752.7 1659.5 L752.1 1661.3 L752.1 1663.5 L753.6 1666.5 L763.3 1674 L762.1 1676.1 L760.9 1678.2 L759.7 1680.3 L758.4 1682.3 L757.1 1684.3 L749.1 1681.2 L743.9 1679.6 L741.3 1680 L739.7 1681.2 L738.4 1682.7 L737.3 1684.3 L736.6 1686.4 L737 1689.9 L743.3 1700.9 L741.6 1702.6 L739.8 1704.2 L738.1 1705.7 L736.3 1707.3 L734.4 1708.7 L728.3 1702.7 L724.1 1699.2 L721.7 1698.6 L719.9 1699.2 L718.3 1700.2 L716.7 1701.3 L715.4 1703.1 L714.7 1706.7 L716.9 1719.9 L714.8 1720.9 L712.7 1721.8 L710.7 1722.7 L708.6 1723.5 L706.5 1724.3 L702.9 1716 L700.2 1711 L698.2 1709.5 L696.4 1709.4 L694.7 1709.8 L693 1710.3 L691.2 1711.6 L689.4 1714.9 L687.2 1728.7 L685.1 1728.9 L682.9 1729 L680.8 1729.1 L678.6 1729.1 L676.5 1729.1 L675.9 1719.6 L675.1 1713.6 L673.8 1711.4 L672.2 1710.6 L670.6 1710.3 L668.9 1710.2 L666.9 1710.8 L664.2 1713.4 L657.9 1726.1 L655.9 1725.5 L653.9 1724.8 L652 1724.1 L650.1 1723.3 L648.2 1722.5 L650.6 1713 L651.8 1706.8 L651.3 1704.1 L650.2 1702.8 L648.8 1701.8 L647.3 1701 L645.3 1700.9 L642.2 1702.5 L632.4 1712.6 L630.8 1711.2 L629.3 1709.8 L627.8 1708.4 L626.3 1706.9 L624.9 1705.4 L630.1 1696.9 L633.1 1691.3 L633.5 1688.5 L632.9 1686.7 L632 1685.3 L630.9 1683.9 L629.2 1683.1 L625.8 1683.4 L613.9 1689.7 L612.9 1687.8 L612 1685.8 L611.1 1683.8 L610.2 1681.8 L609.4 1679.7 L616.8 1673.4 L621.3 1669 L622.5 1666.4 L622.5 1664.4 L622.1 1662.6 L621.6 1660.9 L620.3 1659.4 L617.2 1658.5 L604.6 1660.2 L604.3 1657.9 L604.1 1655.7 L603.9 1653.4 L603.8 1651.1 L603.7 1648.7 L612.3 1645.3 L617.7 1642.6 L619.7 1640.5 L620.3 1638.6 L620.5 1636.7 L620.6 1634.8 L619.9 1632.8 L617.4 1630.7 L605.6 1627.7 L606 1625.3 L606.5 1623 L607.1 1620.7 L607.7 1618.4 L608.4 1616.1 L617.2 1615.9 L622.9 1615.3 L625.3 1614 L626.5 1612.3 L627.3 1610.5 L627.9 1608.7 L627.9 1606.5 L626.4 1603.5 L616.7 1596 L617.9 1593.9 L619.1 1591.8 L620.3 1589.7 L621.6 1587.7 L622.9 1585.7 L630.9 1588.8 L636.1 1590.4 L638.7 1590 L640.3 1588.8 L641.6 1587.3 L642.7 1585.7 L643.4 1583.6 L643 1580.1 L636.7 1569.1 L638.4 1567.4 L640.2 1565.8 L641.9 1564.3 L643.7 1562.7 L645.6 1561.3 L651.7 1567.3 L655.9 1570.8 L658.3 1571.4 L660.1 1570.8 L661.7 1569.8 L663.3 1568.7 L664.6 1566.9 L665.3 1563.3 L663.1 1550.1 L665.2 1549.1 L667.3 1548.2 L669.3 1547.3 L671.4 1546.5 L673.5 1545.7 L677.1 1554 L679.8 1559 L681.8 1560.5 L683.6 1560.6 L685.3 1560.2 L687 1559.7 L688.8 1558.4 L690.6 1555.1 L692.8 1541.3 L694.9 1541.1 L697.1 1541 L699.2 1540.9 L701.4 1540.9 L703.5 1540.9 L704.1 1550.4 L704.9 1556.4 L706.2 1558.6 L707.8 1559.4 L709.4 1559.7 L711.1 1559.8 L713.1 1559.2 L715.8 1556.6 L722.1 1543.9 L724.1 1544.5 L726.1 1545.2 L728 1545.9 L729.9 1546.7 L731.8 1547.5 L729.4 1557Z" fill="#fff" stroke-width="3.1" />
<line x1="740.4" y1="1563" x2="729.4" y2="1557" stroke-width="2.6" />
<line x1="758.6" y1="1563.4" x2="747.6" y2="1557.4" stroke-width="2.6" />
<line x1="760.9" y1="1579.1" x2="749.9" y2="1573.1" stroke-width="2.6" />
<line x1="777.1" y1="1586.3" x2="766.1" y2="1580.3" stroke-width="2.6" />
<line x1="774.2" y1="1602.6" x2="763.2" y2="1596.6" stroke-width="2.6" />
<line x1="786.4" y1="1615.8" x2="775.4" y2="1609.8" stroke-width="2.6" />
<line x1="778.7" y1="1630.7" x2="767.7" y2="1624.7" stroke-width="2.6" />
<line x1="785.4" y1="1648.3" x2="774.4" y2="1642.3" stroke-width="2.6" />
<line x1="773.8" y1="1660.1" x2="762.8" y2="1654.1" stroke-width="2.6" />
<line x1="774.3" y1="1680" x2="763.3" y2="1674" stroke-width="2.6" />
<line x1="760.1" y1="1687.2" x2="749.1" y2="1681.2" stroke-width="2.6" />
<line x1="754.3" y1="1706.9" x2="743.3" y2="1700.9" stroke-width="2.6" />
<line x1="739.3" y1="1708.7" x2="728.3" y2="1702.7" stroke-width="2.6" />
<line x1="727.9" y1="1725.9" x2="716.9" y2="1719.9" stroke-width="2.6" />
<line x1="713.9" y1="1722" x2="702.9" y2="1716" stroke-width="2.6" />
<line x1="698.2" y1="1734.7" x2="687.2" y2="1728.7" stroke-width="2.6" />
<line x1="686.9" y1="1725.6" x2="675.9" y2="1719.6" stroke-width="2.6" />
<line x1="668.9" y1="1732.1" x2="657.9" y2="1726.1" stroke-width="2.6" />
<line x1="661.6" y1="1719" x2="650.6" y2="1713" stroke-width="2.6" />
<line x1="643.4" y1="1718.6" x2="632.4" y2="1712.6" stroke-width="2.6" />
<line x1="641.1" y1="1702.9" x2="630.1" y2="1696.9" stroke-width="2.6" />
<line x1="624.9" y1="1695.7" x2="613.9" y2="1689.7" stroke-width="2.6" />
<line x1="627.8" y1="1679.4" x2="616.8" y2="1673.4" stroke-width="2.6" />
<line x1="615.6" y1="1666.2" x2="604.6" y2="1660.2" stroke-width="2.6" />
<line x1="623.3" y1="1651.3" x2="612.3" y2="1645.3" stroke-width="2.6" />
<line x1="616.6" y1="1633.7" x2="605.6" y2="1627.7" stroke-width="2.6" />
<line x1="628.2" y1="1621.9" x2="617.2" y2="1615.9" stroke-width="2.6" />
<line x1="627.7" y1="1602" x2="616.7" y2="1596" stroke-width="2.6" />
<line x1="641.9" y1="1594.8" x2="630.9" y2="1588.8" stroke-width="2.6" />
<line x1="647.7" y1="1575.1" x2="636.7" y2="1569.1" stroke-width="2.6" />
<line x1="662.7" y1="1573.3" x2="651.7" y2="1567.3" stroke-width="2.6" />
<line x1="674.1" y1="1556.1" x2="663.1" y2="1550.1" stroke-width="2.6" />
<line x1="688.1" y1="1560" x2="677.1" y2="1554" stroke-width="2.6" />
<line x1="703.8" y1="1547.3" x2="692.8" y2="1541.3" stroke-width="2.6" />
<line x1="715.1" y1="1556.4" x2="704.1" y2="1550.4" stroke-width="2.6" />
<line x1="733.1" y1="1549.9" x2="722.1" y2="1543.9" stroke-width="2.6" />
<path d="M739.2 1569.2 L739.7 1571.9 L740.8 1573.2 L742.2 1574.2 L743.7 1575 L745.7 1575.1 L748.8 1573.5 L758.6 1563.4 L760.2 1564.8 L761.7 1566.2 L763.2 1567.6 L764.7 1569.1 L766.1 1570.6 L760.9 1579.1 L757.9 1584.7 L757.5 1587.5 L758.1 1589.3 L759 1590.7 L760.1 1592.1 L761.8 1592.9 L765.2 1592.6 L777.1 1586.3 L778.1 1588.2 L779 1590.2 L779.9 1592.2 L780.8 1594.2 L781.6 1596.3 L774.2 1602.6 L769.7 1607 L768.5 1609.6 L768.5 1611.6 L768.9 1613.4 L769.4 1615.1 L770.7 1616.6 L773.8 1617.5 L786.4 1615.8 L786.7 1618.1 L786.9 1620.3 L787.1 1622.6 L787.2 1624.9 L787.3 1627.3 L778.7 1630.7 L773.3 1633.4 L771.3 1635.5 L770.7 1637.4 L770.5 1639.3 L770.4 1641.2 L771.1 1643.2 L773.6 1645.3 L785.4 1648.3 L785 1650.7 L784.5 1653 L783.9 1655.3 L783.3 1657.6 L782.6 1659.9 L773.8 1660.1 L768.1 1660.7 L765.7 1662 L764.5 1663.7 L763.7 1665.5 L763.1 1667.3 L763.1 1669.5 L764.6 1672.5 L774.3 1680 L773.1 1682.1 L771.9 1684.2 L770.7 1686.3 L769.4 1688.3 L768.1 1690.3 L760.1 1687.2 L754.9 1685.6 L752.3 1686 L750.7 1687.2 L749.4 1688.7 L748.3 1690.3 L747.6 1692.4 L748 1695.9 L754.3 1706.9 L752.6 1708.6 L750.8 1710.2 L749.1 1711.7 L747.3 1713.3 L745.4 1714.7 L739.3 1708.7 L735.1 1705.2 L732.7 1704.6 L730.9 1705.2 L729.3 1706.2 L727.7 1707.3 L726.4 1709.1 L725.7 1712.7 L727.9 1725.9 L725.8 1726.9 L723.7 1727.8 L721.7 1728.7 L719.6 1729.5 L717.5 1730.3 L713.9 1722 L711.2 1717 L709.2 1715.5 L707.4 1715.4 L705.7 1715.8 L704 1716.3 L702.2 1717.6 L700.4 1720.9 L698.2 1734.7 L696.1 1734.9 L693.9 1735 L691.8 1735.1 L689.6 1735.1 L687.5 1735.1 L686.9 1725.6 L686.1 1719.6 L684.8 1717.4 L683.2 1716.6 L681.6 1716.3 L679.9 1716.2 L677.9 1716.8 L675.2 1719.4 L668.9 1732.1 L666.9 1731.5 L664.9 1730.8 L663 1730.1 L661.1 1729.3 L659.2 1728.5 L661.6 1719 L662.8 1712.8 L662.3 1710.1 L661.2 1708.8 L659.8 1707.8 L658.3 1707 L656.3 1706.9 L653.2 1708.5 L643.4 1718.6 L641.8 1717.2 L640.3 1715.8 L638.8 1714.4 L637.3 1712.9 L635.9 1711.4 L641.1 1702.9 L644.1 1697.3 L644.5 1694.5 L643.9 1692.7 L643 1691.3 L641.9 1689.9 L640.2 1689.1 L636.8 1689.4 L624.9 1695.7 L623.9 1693.8 L623 1691.8 L622.1 1689.8 L621.2 1687.8 L620.4 1685.7 L627.8 1679.4 L632.3 1675 L633.5 1672.4 L633.5 1670.4 L633.1 1668.6 L632.6 1666.9 L631.3 1665.4 L628.2 1664.5 L615.6 1666.2 L615.3 1663.9 L615.1 1661.7 L614.9 1659.4 L614.8 1657.1 L614.7 1654.7 L623.3 1651.3 L628.7 1648.6 L630.7 1646.5 L631.3 1644.6 L631.5 1642.7 L631.6 1640.8 L630.9 1638.8 L628.4 1636.7 L616.6 1633.7 L617 1631.3 L617.5 1629 L618.1 1626.7 L618.7 1624.4 L619.4 1622.1 L628.2 1621.9 L633.9 1621.3 L636.3 1620 L637.5 1618.3 L638.3 1616.5 L638.9 1614.7 L638.9 1612.5 L637.4 1609.5 L627.7 1602 L628.9 1599.9 L630.1 1597.8 L631.3 1595.7 L632.6 1593.7 L633.9 1591.7 L641.9 1594.8 L647.1 1596.4 L649.7 1596 L651.3 1594.8 L652.6 1593.3 L653.7 1591.7 L654.4 1589.6 L654 1586.1 L647.7 1575.1 L649.4 1573.4 L651.2 1571.8 L652.9 1570.3 L654.7 1568.7 L656.6 1567.3 L662.7 1573.3 L666.9 1576.8 L669.3 1577.4 L671.1 1576.8 L672.7 1575.8 L674.3 1574.7 L675.6 1572.9 L676.3 1569.3 L674.1 1556.1 L676.2 1555.1 L678.3 1554.2 L680.3 1553.3 L682.4 1552.5 L684.5 1551.7 L688.1 1560 L690.8 1565 L692.8 1566.5 L694.6 1566.6 L696.3 1566.2 L698 1565.7 L699.8 1564.4 L701.6 1561.1 L703.8 1547.3 L705.9 1547.1 L708.1 1547 L710.2 1546.9 L712.4 1546.9 L714.5 1546.9 L715.1 1556.4 L715.9 1562.4 L717.2 1564.6 L718.8 1565.4 L720.4 1565.7 L722.1 1565.8 L724.1 1565.2 L726.8 1562.6 L733.1 1549.9 L735.1 1550.5 L737.1 1551.2 L739 1551.9 L740.9 1552.7 L742.8 1553.5 L740.4 1563Z" fill="#fff" stroke-width="3.8" />
<ellipse cx="711" cy="1645" rx="71" ry="62" fill="#fff" stroke-width="2.4" transform="rotate(-62 711 1645)" />
<ellipse cx="718.5" cy="1649" rx="71" ry="63.5" fill="#fff" stroke-width="4.3" transform="rotate(-62 718.5 1649)" />
<path d="M747.7 1701.3 C746.9 1701.9 744.2 1703.7 742.4 1704.7 C740.6 1705.7 738.7 1706.7 736.9 1707.5 C735 1708.3 733.1 1709.1 731.1 1709.7 C729.2 1710.3 727.2 1710.8 725.3 1711.2 C723.3 1711.6 721.3 1711.9 719.4 1712.1 C717.4 1712.3 715.4 1712.4 713.5 1712.3 C711.6 1712.3 709.6 1712.1 707.7 1711.8 C705.8 1711.6 703.9 1711.2 702.1 1710.7 C700.2 1710.2 698.4 1709.6 696.6 1708.9 C694.9 1708.2 693.1 1707.4 691.5 1706.5 C689.8 1705.6 688.2 1704.6 686.6 1703.5 C685.1 1702.4 683.6 1701.2 682.2 1699.9 C680.8 1698.6 679.4 1697.2 678.2 1695.7 C676.9 1694.3 675.7 1692.7 674.6 1691.1 C673.5 1689.5 672.5 1687.8 671.6 1686 C670.7 1684.3 669.8 1682.5 669.1 1680.6 C668.4 1678.7 667.8 1676.8 667.2 1674.8 C666.7 1672.9 666.3 1670.9 665.9 1668.8 C665.6 1666.8 665.4 1663.7 665.2 1662.6" fill="none" stroke-width="1.9" />
<path d="M678.7 1627 C679.3 1626.1 680.8 1623.4 681.9 1621.7 C683 1619.9 684.3 1618.3 685.6 1616.6 C686.8 1615 688.2 1613.5 689.6 1612 C691.1 1610.6 692.6 1609.2 694.1 1607.9 C695.6 1606.6 697.3 1605.4 698.9 1604.2 C700.5 1603.1 702.2 1602.1 704 1601.1 C705.7 1600.2 707.5 1599.3 709.3 1598.6 C711 1597.8 712.9 1597.2 714.7 1596.7 C716.5 1596.1 718.4 1595.7 720.2 1595.4 C722.1 1595.1 723.9 1594.8 725.8 1594.7 C727.6 1594.6 729.4 1594.6 731.3 1594.8 C733.1 1594.9 734.9 1595.1 736.7 1595.4 C738.4 1595.8 740.2 1596.2 741.9 1596.8 C743.6 1597.3 745.2 1598 746.8 1598.7 C748.5 1599.5 750 1600.3 751.5 1601.3 C753 1602.2 754.5 1603.3 755.9 1604.4 C757.2 1605.6 758.6 1606.8 759.8 1608.1 C761 1609.4 762.2 1610.8 763.3 1612.3 C764.4 1613.8 765.4 1615.3 766.3 1616.9 C767.2 1618.6 768.3 1621.1 768.7 1622" fill="none" stroke-width="1.9" />
<path d="M760.5 1622.1 C761 1622.8 762.6 1624.7 763.5 1626.2 C764.4 1627.6 765.2 1629.1 765.9 1630.6 C766.7 1632.2 767.3 1633.8 767.9 1635.4 C768.5 1637.1 769 1638.8 769.4 1640.5 C769.8 1642.2 770.1 1644 770.3 1645.7 C770.5 1647.5 770.6 1649.3 770.6 1651.1 C770.7 1653 770.6 1654.8 770.4 1656.6 C770.3 1658.5 770 1660.3 769.7 1662.1 C769.3 1664 768.9 1665.8 768.4 1667.6 C767.9 1669.4 767.3 1671.2 766.6 1673 C765.9 1674.7 765.1 1676.4 764.3 1678.1 C763.4 1679.8 762.5 1681.5 761.5 1683 C760.4 1684.6 759.4 1686.2 758.2 1687.7 C757.1 1689.2 755.8 1690.6 754.6 1692 C753.3 1693.3 751.9 1694.6 750.5 1695.8 C749.1 1697 746.9 1698.7 746.2 1699.3" fill="none" stroke-width="1.9" />
<ellipse cx="726" cy="1659.5" rx="47" ry="42" fill="#fff" stroke-width="3.8" transform="rotate(-62 726 1659.5)" />
<path d="M720.7 1618.5 C721.4 1618.3 723.5 1617.8 724.9 1617.6 C726.3 1617.3 727.7 1617.2 729.1 1617.1 C730.5 1617 731.9 1617 733.3 1617.1 C734.6 1617.2 736 1617.4 737.4 1617.6 C738.7 1617.8 740.1 1618.2 741.4 1618.6 C742.7 1619 744 1619.4 745.2 1620 C746.5 1620.5 747.7 1621.1 748.8 1621.8 C750 1622.5 751.2 1623.3 752.2 1624.1 C753.3 1624.9 754.4 1625.8 755.4 1626.7 C756.4 1627.7 757.3 1628.7 758.2 1629.8 C759.1 1630.8 759.9 1631.9 760.7 1633.1 C761.4 1634.3 762.1 1635.5 762.8 1636.8 C763.4 1638 764 1639.3 764.5 1640.7 C765 1642 765.4 1643.4 765.8 1644.8 C766.1 1646.2 766.5 1648.3 766.7 1649.1" fill="none" stroke-width="8.4" />
<path d="M762.4 1639.6 C762.7 1640.2 763.6 1642 764.2 1643.2 C764.7 1644.5 765.1 1645.8 765.5 1647.1 C765.9 1648.4 766.2 1649.7 766.5 1651.1 C766.7 1652.5 766.9 1653.9 767 1655.3 C767.1 1656.7 767.2 1658.1 767.2 1659.5 C767.1 1660.9 767 1662.4 766.9 1663.8 C766.7 1665.2 766.5 1666.6 766.2 1668.1 C765.9 1669.5 765.5 1670.9 765.1 1672.3 C764.6 1673.7 764.1 1675.1 763.6 1676.4 C763 1677.7 762.4 1679.1 761.7 1680.4 C761 1681.7 760.2 1682.9 759.4 1684.2 C758.6 1685.4 757.8 1686.6 756.9 1687.7 C755.9 1688.8 755 1689.9 754 1691 C753 1692 751.9 1693 750.8 1694 C749.7 1694.9 748.6 1695.8 747.4 1696.6 C746.3 1697.4 745.1 1698.2 743.8 1698.9 C742.6 1699.5 741.4 1700.2 740.1 1700.7 C738.8 1701.3 737.5 1701.8 736.2 1702.2 C734.9 1702.6 733.6 1702.9 732.3 1703.2 C730.9 1703.5 728.9 1703.7 728.3 1703.8" fill="none" stroke-width="1.9" />
<path d="M766.2 1643.2 C766.4 1643.9 767.1 1646 767.5 1647.5 C767.8 1648.9 768 1650.4 768.2 1651.9 C768.4 1653.4 768.5 1655 768.5 1656.5 C768.6 1658 768.5 1659.6 768.4 1661.1 C768.2 1662.6 768 1664.2 767.7 1665.7 C767.4 1667.2 767.1 1668.8 766.6 1670.3 C766.2 1671.8 765.7 1673.3 765.1 1674.7 C764.5 1676.2 763.9 1677.6 763.2 1679 C762.4 1680.4 761.6 1681.8 760.8 1683.1 C759.9 1684.4 759 1685.7 758 1686.9 C757.1 1688.2 756 1689.4 754.9 1690.5 C753.9 1691.6 752.7 1692.7 751.5 1693.7 C750.4 1694.7 748.5 1696 747.9 1696.5" fill="none" stroke-width="1.9" />
<path d="M708 1622 L708 1614 L719 1609 L722 1618" fill="#fff" stroke-width="3.6" />
<line x1="708" y1="1622" x2="712" y2="1628" stroke-width="3" />
<line x1="688" y1="1655" x2="718" y2="1628" stroke-width="1.9" />
<path d="M686 1658 C688.3 1657 695.7 1655 700 1652 C704.3 1649 710 1642 712 1640" fill="none" stroke-width="1.9" />
</g>
<g id="key15">
<path d="M619 1513 L630.5 1508 L666 1544 L655 1550.5Z" fill="#fff" stroke-width="3.6" />
<path d="M619 1513 L620 1520 L654 1556 L666 1550 L666 1544" fill="none" stroke-width="3.6" />
<line x1="654" y1="1556" x2="655" y2="1550.5" stroke-width="3" />
</g>
<g id="guide5">
<path d="M271 561 L322 536 L358 553 L380 600 L398 632 L450 704 L490 754 L508 770 L514 782 L512 796 L504 808 L505 840 L498 900 L492 964 L496 1020 L505 1100 L511 1190 L510.6 1300 L506.4 1396 L518 1421 L536 1440 L541 1453 L535 1468 L523 1476 L501 1482 L493 1495 L482 1495 L462 1480 L459 1505 L451 1520 L436 1522 L419 1507 L409 1507 L400 1500 L398 1488 L374 1463 L375 1212 L411 1206 L411 1190 L408 1168 L378 1086 L370 1066 L376 1046 L395 1032 L390 984 L384 952 L365 840 L360 814 L352 792 L340 745 L330 720 L318 680 L300 632 L289 612Z" fill="#fff" stroke-width="0.1" stroke="none"/>
<path d="M271 561 L322 536 L358 553" fill="none" stroke-width="4.3" />
<path d="M279 562 L320 543 L349 556" fill="none" stroke-width="1.9" />
<path d="M288 564 L319 549 L343 560 L348 573" fill="none" stroke-width="1.9" />
<path d="M271 561 L294 570 L300 574" fill="none" stroke-width="2.4" />
<path d="M294 570 L296 577 L306 572 L318 571" fill="none" stroke-width="2.4" />
<path d="M271 561 C272.7 565.8 278 581.5 281 590 C284 598.5 285.8 604.5 289 612 C292.2 619.5 295.2 623.7 300 635 C304.8 646.3 313 665.8 318 680 C323 694.2 326.2 708.7 330 720 C333.8 731.3 337.3 736 341 748 C344.7 760 348.8 780.7 352 792 C355.2 803.3 357.8 808 360 816 C362.2 824 362.5 826 365 840 C367.5 854 371.8 881.3 375 900 C378.2 918.7 381.5 937.7 384 952 C386.5 966.3 388.5 976.3 390 986 C391.5 995.7 392.2 1002.3 393 1010 C393.8 1017.7 394.7 1028.3 395 1032" fill="none" stroke-width="4.3" />
<path d="M288 612 L331 633" fill="none" stroke-width="3.6" />
<path d="M289 620 L330 640" fill="none" stroke-width="1.9" />
<path d="M298.1 626 L329 647 L332 634" fill="none" stroke-width="3.6" />
<path d="M329.7 722 L368.2 743" fill="none" stroke-width="3.6" />
<path d="M330.7 730 L367.2 750" fill="none" stroke-width="1.9" />
<path d="M337.8 736 L366.2 757 L369.2 744" fill="none" stroke-width="3.6" />
<path d="M359.5 816 L393.4 837" fill="none" stroke-width="3.6" />
<path d="M360.5 824 L392.4 844" fill="none" stroke-width="1.9" />
<path d="M364.3 830 L391.4 851 L394.4 838" fill="none" stroke-width="3.6" />
<path d="M385.1 963 L417.9 984" fill="none" stroke-width="3.6" />
<path d="M386.1 971 L416.9 991" fill="none" stroke-width="1.9" />
<path d="M389.9 977 L415.9 998 L418.9 985" fill="none" stroke-width="3.6" />
<path d="M298.7 572 C301.3 578.7 308.8 598.7 314.5 612 C320.3 625.3 327.8 638.7 333.2 652 C338.5 665.3 342.3 678.7 346.7 692 C351.1 705.3 355.5 718.7 359.5 732 C363.6 745.3 367.4 758.7 371.2 772 C375.1 785.3 379.2 798.7 382.6 812 C386.1 825.3 389.3 838.7 392 852 C394.7 865.3 396.6 878.7 398.9 892 C401.1 905.3 403.2 918.7 405.4 932 C407.6 945.3 410.3 958.7 412.1 972 C414 985.3 415.4 998.7 416.8 1012 C418.2 1025.3 419.3 1038.7 420.5 1052 C421.8 1065.3 423 1078.7 424.2 1092 C425.3 1105.3 426.3 1118.7 427.4 1132 C428.4 1145.3 429.6 1159.8 430.5 1172 C431.4 1184.2 432.4 1199.5 432.8 1205" fill="none" stroke-width="1.9" />
<path d="M304.4 575 C307.2 581.7 315.2 601.7 321 615 C326.8 628.3 333.9 641.7 339.1 655 C344.4 668.3 348 681.7 352.4 695 C356.8 708.3 361.4 721.7 365.5 735 C369.5 748.3 372.9 761.7 376.6 775 C380.4 788.3 384.5 801.7 388 815 C391.4 828.3 394.6 841.7 397.3 855 C400 868.3 402 881.7 404.2 895 C406.5 908.3 408.5 921.7 410.7 935 C412.9 948.3 415.5 961.7 417.3 975 C419.1 988.3 420.3 1001.7 421.6 1015 C423 1028.3 424.1 1041.7 425.3 1055 C426.5 1068.3 427.8 1081.7 428.9 1095 C430 1108.3 430.9 1121.7 431.9 1135 C433 1148.3 434.2 1163.3 435 1175 C435.8 1186.7 436.6 1200 437 1205" fill="none" stroke-width="3.6" />
<path d="M313.4 560 C316.1 566.7 323.4 586.7 329.4 600 C335.3 613.3 343.6 626.7 349.2 640 C354.8 653.3 358.8 666.7 363.1 680 C367.4 693.3 371 706.7 375.1 720 C379.2 733.3 384.2 746.7 387.9 760 C391.6 773.3 393.9 786.7 397.5 800 C401.1 813.3 406.4 826.7 409.6 840 C412.9 853.3 414.8 866.7 417.2 880 C419.6 893.3 421.7 906.7 423.8 920 C425.8 933.3 427.9 946.7 429.7 960 C431.6 973.3 433.5 986.7 434.9 1000 C436.4 1013.3 437.3 1026.7 438.4 1040 C439.5 1053.3 440.7 1066.7 441.8 1080 C442.8 1093.3 443.8 1106.7 444.8 1120 C445.7 1133.3 446.5 1146.7 447.4 1160 C448.3 1173.3 449.7 1186.7 450.3 1200 C450.9 1213.3 450.9 1226.7 451 1240 C451.2 1253.3 451.3 1266.7 451.3 1280 C451.4 1293.3 451.4 1306.7 451.5 1320 C451.5 1333.3 451.6 1346.7 451.5 1360 C451.5 1373.3 451.5 1386.7 451.4 1400 C451.3 1413.3 451.1 1426.7 450.9 1440 C450.6 1453.3 450.2 1473.3 450 1480" fill="none" stroke-width="1.9" />
<path d="M319.6 556 C322.2 562.7 329.3 582.7 335.3 596 C341.3 609.3 349.8 622.7 355.5 636 C361.2 649.3 365.1 662.7 369.5 676 C373.8 689.3 377.4 702.7 381.6 716 C385.7 729.3 390.6 742.7 394.3 756 C398 769.3 400.1 782.7 403.7 796 C407.4 809.3 412.9 822.7 416.3 836 C419.7 849.3 421.8 862.7 424.3 876 C426.7 889.3 428.8 902.7 430.9 916 C432.9 929.3 434.8 942.7 436.7 956 C438.5 969.3 440.4 982.7 441.9 996 C443.3 1009.3 444.2 1022.7 445.3 1036 C446.4 1049.3 447.6 1062.7 448.6 1076 C449.6 1089.3 450.6 1102.7 451.5 1116 C452.4 1129.3 453.1 1142.7 454 1156 C454.9 1169.3 456.3 1182.7 456.9 1196 C457.5 1209.3 457.6 1222.7 457.8 1236 C458 1249.3 458.1 1262.7 458.2 1276 C458.3 1289.3 458.3 1302.7 458.4 1316 C458.4 1329.3 458.4 1342.7 458.4 1356 C458.4 1369.3 458.4 1382.7 458.3 1396 C458.2 1409.3 458 1422.7 457.7 1436 C457.5 1449.3 457 1468.7 456.8 1476 C456.6 1483.3 456.7 1479.3 456.7 1480" fill="none" stroke-width="3.8" />
<path d="M328.5 556 C331.2 562.7 338.7 582.7 344.8 596 C350.9 609.3 359.6 622.7 365.3 636 C371 649.3 374.8 662.7 379.1 676 C383.4 689.3 387.1 702.7 391.2 716 C395.3 729.3 400 742.7 403.6 756 C407.3 769.3 409.2 782.7 412.9 796 C416.6 809.3 422.2 822.7 425.7 836 C429.2 849.3 431.5 862.7 433.9 876 C436.4 889.3 438.5 902.7 440.5 916 C442.6 929.3 444.3 942.7 446.1 956 C447.8 969.3 449.7 982.7 451 996 C452.4 1009.3 453.3 1022.7 454.4 1036 C455.5 1049.3 456.5 1062.7 457.5 1076 C458.5 1089.3 459.4 1102.7 460.2 1116 C461.1 1129.3 461.7 1142.7 462.6 1156 C463.4 1169.3 464.6 1182.7 465.2 1196 C465.8 1209.3 466 1222.7 466.3 1236 C466.6 1249.3 466.7 1262.7 466.8 1276 C466.9 1289.3 466.9 1302.7 467 1316 C467 1329.3 467.1 1342.7 467.1 1356 C467.1 1369.3 467.1 1382.7 466.9 1396 C466.8 1409.3 466.5 1422.7 466.2 1436 C465.9 1449.3 465.3 1468.3 465.1 1476 C464.9 1483.7 465 1481 464.9 1482" fill="none" stroke-width="1.9" />
<path d="M338.9 553 C341.7 559.7 349.4 579.7 355.8 593 C362.1 606.3 371 619.7 376.8 633 C382.6 646.3 386.3 659.7 390.6 673 C394.9 686.3 398.7 699.7 402.8 713 C406.8 726.3 411.4 739.7 414.9 753 C418.5 766.3 420.6 779.7 424.3 793 C428 806.3 433.5 819.7 437.1 833 C440.7 846.3 443.4 859.7 446 873 C448.5 886.3 450.7 899.7 452.7 913 C454.7 926.3 456.3 939.7 458 953 C459.7 966.3 461.3 979.7 462.7 993 C464 1006.3 464.9 1019.7 465.9 1033 C467 1046.3 467.9 1059.7 468.9 1073 C469.8 1086.3 470.6 1099.7 471.4 1113 C472.2 1126.3 472.8 1139.7 473.6 1153 C474.3 1166.3 475.3 1179.7 475.9 1193 C476.5 1206.3 477 1219.7 477.3 1233 C477.6 1246.3 477.8 1259.7 477.9 1273 C478 1286.3 478.1 1299.7 478.1 1313 C478.2 1326.3 478.3 1339.7 478.3 1353 C478.3 1366.3 478.3 1379.7 478.1 1393 C478 1406.3 477.7 1419.7 477.3 1433 C477 1446.3 476.3 1463.8 476 1473 C475.8 1482.2 475.8 1485.5 475.7 1488" fill="none" stroke-width="1.9" />
<path d="M346.7 553 C349.6 559.7 357.8 579.7 364.3 593 C370.8 606.3 379.8 619.7 385.6 633 C391.5 646.3 395 659.7 399.3 673 C403.6 686.3 407.4 699.7 411.4 713 C415.4 726.3 419.8 739.7 423.3 753 C426.9 766.3 428.9 779.7 432.6 793 C436.3 806.3 441.9 819.7 445.6 833 C449.2 846.3 452 859.7 454.7 873 C457.3 886.3 459.4 899.7 461.4 913 C463.3 926.3 464.9 939.7 466.5 953 C468.1 966.3 469.7 979.7 470.9 993 C472.2 1006.3 473.1 1019.7 474.1 1033 C475.1 1046.3 476 1059.7 476.9 1073 C477.7 1086.3 478.6 1099.7 479.3 1113 C480 1126.3 480.6 1139.7 481.3 1153 C482 1166.3 482.7 1179.7 483.4 1193 C484 1206.3 484.6 1219.7 484.9 1233 C485.3 1246.3 485.5 1259.7 485.6 1273 C485.8 1286.3 485.8 1299.7 485.9 1313 C486 1326.3 486 1339.7 486 1353 C486 1366.3 486.1 1379.7 485.9 1393 C485.7 1406.3 485.4 1419.7 485 1433 C484.6 1446.3 483.8 1463.2 483.5 1473 C483.2 1482.8 483.3 1488.8 483.2 1492" fill="none" stroke-width="1.9" />
<path d="M358 553 C361.1 559.7 369.8 579.7 376.6 593 C383.3 606.3 392.5 619.7 398.4 633 C404.3 646.3 407.5 659.7 411.8 673 C416 686.3 420 699.7 423.9 713 C427.9 726.3 432 739.7 435.5 753 C438.9 766.3 440.9 779.7 444.6 793 C448.3 806.3 454 819.7 457.8 833 C461.6 846.3 464.5 859.7 467.2 873 C469.9 886.3 472 899.7 473.9 913 C475.9 926.3 477.3 939.7 478.8 953 C480.3 966.3 481.7 979.7 482.9 993 C484 1006.3 485 1019.7 485.9 1033 C486.9 1046.3 487.7 1059.7 488.5 1073 C489.3 1086.3 490 1099.7 490.7 1113 C491.3 1126.3 491.8 1139.7 492.4 1153 C493 1166.3 493.5 1179.7 494.1 1193 C494.7 1206.3 495.6 1219.7 496 1233 C496.4 1246.3 496.6 1259.7 496.8 1273 C496.9 1286.3 497 1299.7 497.1 1313 C497.2 1326.3 497.3 1339.7 497.3 1353 C497.3 1366.3 497.3 1379.7 497.1 1393 C496.9 1406.3 496.5 1419.7 496.1 1433 C495.6 1446.3 494.7 1464.8 494.4 1473 C494 1481.2 494.1 1480.5 494 1482" fill="none" stroke-width="2" />
<path d="M358 553 C361.7 560.8 373.3 586.8 380 600 C386.7 613.2 395 626.7 398 632" fill="none" stroke-width="4.3" />
<path d="M398 632 C406.7 644 434.7 683.7 450 704 C465.3 724.3 480.3 743 490 754 C499.7 765 505 767.3 508 770" fill="none" stroke-width="5" />
<path d="M427 706 L449 711 L430 718Z" fill="none" stroke-width="3" />
<path d="M432 730 L460 724 L478 750 L444 758 L432 730" fill="none" stroke-width="3.6" />
<path d="M444 758 L450 776" fill="none" stroke-width="3" />
<path d="M448 762 L482 756" fill="none" stroke-width="1.9" />
<path d="M438 777 L497 769" fill="none" stroke-width="3.8" />
<path d="M508 770 C509.2 772 514.5 777.5 515 782 C515.5 786.5 513.5 793.2 511 797 C508.5 800.8 501.8 803.7 500 805" fill="none" stroke-width="4.3" />
<path d="M500 805 L446 811" fill="none" stroke-width="4.6" />
<path d="M441 783 L473 779 L473 797 L443 801" fill="none" stroke-width="3" />
<path d="M465 780 L470 784 L470 794 L473 797" fill="none" stroke-width="1.9" />
<path d="M443 790 L466 787" fill="none" stroke-width="1.9" />
<ellipse cx="491" cy="787" rx="9.5" ry="8.5" fill="none" stroke-width="4.8" />
<path d="M504 808 C504.2 813.3 506 824.7 505 840 C504 855.3 500.2 879.3 498 900 C495.8 920.7 492.3 944 492 964 C491.7 984 493.8 997.3 496 1020 C498.2 1042.7 502.5 1071.7 505 1100 C507.5 1128.3 510 1156.7 511 1190 C512 1223.3 511.8 1265.7 511 1300 C510.2 1334.3 507.2 1380 506.4 1396" fill="none" stroke-width="4.6" />
<path d="M462 812 C463.3 821.7 468 850 470 870 C472 890 473.3 921.7 474 932" fill="none" stroke-width="1.9" />
<path d="M484 934 L494 932" fill="none" stroke-width="2.4" />
<path d="M474 932 L485 935" fill="none" stroke-width="1.9" />
<path d="M487 948 L495 946" fill="none" stroke-width="2.4" />
<path d="M488 950 L491 970" fill="none" stroke-width="1.9" />
<path d="M422 1046 C428 1052 430 1056 436 1056 L453 1054 L455 1105 L432 1108 C424 1110 418 1112 412 1110 C405 1104 402 1096 402 1086 C402 1074 406 1066 412 1060 C416 1054 420 1050 422 1046Z" fill="#fff" stroke-width="0.1" stroke="none"/>
<path d="M410 1062 C420 1056 432 1056 453 1054" fill="none" stroke-width="3.4" />
<path d="M412 1110 C424 1110 440 1107 455 1105" fill="none" stroke-width="4.1" />
<path d="M424 1058 C410 1066 404 1078 405 1090 C406 1098 408 1104 412 1110" fill="none" stroke-width="2" />
<path d="M395 1032 C388 1035 380 1042 375 1050 C370 1058 369 1068 372 1076 C374 1082 376 1085 378 1087 L412 1110 C404 1100 401 1086 404 1074 C406 1066 412 1060 420 1052 C424 1046 414 1038 405 1033Z" fill="#fff" stroke-width="0.1" stroke="none"/>
<path d="M395 1032 C388 1035 380 1042 375 1050 C370 1058 369 1068 372 1076 C374 1082 376 1085 378 1087" fill="none" stroke-width="5" />
<path d="M378 1087 C390 1096 400 1104 412 1110" fill="none" stroke-width="4.3" />
<path d="M405 1033 C414 1038 420 1042 423 1047 C420 1053 414 1058 409 1063" fill="none" stroke-width="3.6" />
<path d="M396 1033 L405 1033" fill="none" stroke-width="3.6" />
<ellipse cx="424" cy="1086" rx="11" ry="9.5" fill="#fff" stroke-width="5" transform="rotate(-20 424 1086)" />
<path d="M416 1086 C420 1082 428 1082 432 1088" fill="none" stroke-width="3.1" />
<path d="M454 1076 L444 1077 L447 1097 L455 1095" fill="none" stroke-width="3.6" />
<path d="M447 1097 L441 1101" fill="none" stroke-width="2.4" />
<path d="M377 1085 C379.5 1091.8 386.8 1112.2 392 1126 C397.2 1139.8 404.8 1157.3 408 1168 C411.2 1178.7 410.5 1183.7 411 1190 C411.5 1196.3 411 1203.3 411 1206" fill="none" stroke-width="4.6" />
<path d="M388 1094 C390.7 1100 398.7 1117.7 404 1130 C409.3 1142.3 417.3 1161.7 420 1168" fill="none" stroke-width="3.6" />
<path d="M398 1106 L420 1158 L420 1112" fill="none" stroke-width="1.9" />
<path d="M411 1206 L375 1212 L374 1463 L398 1488 L400 1500 L409 1507 L419 1507 L436 1522 L451 1520 L459 1505 L462 1480" fill="none" stroke-width="4.6" />
<path d="M411 1206 L444 1237" fill="none" stroke-width="3.6" />
<path d="M379 1214 L394 1226 L384 1232" fill="none" stroke-width="3" />
<path d="M379 1216 L386 1241 L445 1247" fill="none" stroke-width="3.1" />
<path d="M390 1236 L444 1240" fill="none" stroke-width="2.2" />
<path d="M379 1222 L397 1480" fill="none" stroke-width="2.2" />
<path d="M386 1241 L405 1440 L436 1448" fill="none" stroke-width="2.9" />
<path d="M404 1436 L420 1432 L436 1444" fill="none" stroke-width="1.9" />
<path d="M420.5 1247 L422 1505" fill="none" stroke-width="1.9" />
<path d="M405 1444 L412 1503" fill="none" stroke-width="1.9" />
<path d="M444.6 1237 L440 1513" fill="none" stroke-width="4.1" />
<path d="M449 1245 L446 1510" fill="none" stroke-width="1.9" />
<path d="M506.4 1396 C508.3 1400.2 513.1 1413.7 518 1421 C522.9 1428.3 533 1436.8 536 1440" fill="none" stroke-width="4.3" />
<path d="M536 1440 C536.8 1442 541 1447.7 541 1452 C541 1456.3 538.8 1462.2 536 1466 C533.2 1469.8 526 1473.5 524 1475" fill="none" stroke-width="4.3" />
<path d="M524 1475 L489 1486" fill="none" stroke-width="4.3" />
<path d="M492 1442 L520 1436 L530 1437" fill="none" stroke-width="3" />
<path d="M506 1405 L502 1440" fill="none" stroke-width="3" />
<path d="M490 1452 L504 1449 L504 1472 L490 1475" fill="none" stroke-width="2.9" />
<path d="M490 1470 L500 1467 L500 1453" fill="none" stroke-width="1.9" />
<ellipse cx="519" cy="1454" rx="10" ry="8.5" fill="none" stroke-width="4.8" transform="rotate(-15 519 1454)" />
<path d="M462 1480 C465.3 1482.5 476.8 1492.5 482 1495 C487.2 1497.5 489.8 1497.2 493 1495 C496.2 1492.8 499.7 1484.2 501 1482" fill="none" stroke-width="4.3" />
</g>
<g id="guide13">
<path d="M1072 688 L1056 718 L1040 750 L1026 780 L1012 810 L988 870 L966 930 L950 980 L940 1020 L930 1060 L920 1100 L911 1150 L904 1200 L897 1250 L892 1300 L887 1350 L882 1420 L877 1470 L874.4 1507 L908 1544 L950 1522 L972 1520 L992 1506 L996 1490 L986 1468 L969 1449 L961.7 1419.5 L963.6 1367.5 L967 1337.7 L961.7 1308 L969 1278 L974 1270 L978 1230 L988 1160 L1004 1080 L1020 1014 L1036 1000 L1041 984 L1038 966 L1032 940 L1040 920 L1058 906 L1074 900 L1072 854 L1064 850 L1080 842 L1102 798 L1106 766 L1132 713 L1120 700 L1108 695 L1106 700Z" fill="#fff" stroke-width="0.1" stroke="none"/>
<path d="M1072 688 C1069.3 693 1061.3 707.7 1056 718 C1050.7 728.3 1045 739.7 1040 750 C1035 760.3 1030.7 770 1026 780 C1021.3 790 1018.3 795 1012 810 C1005.7 825 995.7 850 988 870 C980.3 890 972.3 911.7 966 930 C959.7 948.3 954.3 965 950 980 C945.7 995 943.3 1006.7 940 1020 C936.7 1033.3 933.3 1046.7 930 1060 C926.7 1073.3 923.2 1085 920 1100 C916.8 1115 913.7 1133.3 911 1150 C908.3 1166.7 906.3 1183.3 904 1200 C901.7 1216.7 899 1233.3 897 1250 C895 1266.7 893.7 1283.3 892 1300 C890.3 1316.7 888.7 1330 887 1350 C885.3 1370 883.7 1400 882 1420 C880.3 1440 878.3 1455.5 877 1470 C875.7 1484.5 874.8 1500.8 874.4 1507" fill="none" stroke-width="4.8" />
<path d="M1106 700 C1103.7 705 1096.3 720 1092 730 C1087.7 740 1084.3 749.2 1080 760 C1075.7 770.8 1070.7 783.3 1066 795 C1061.3 806.7 1058.3 814.2 1052 830 C1045.7 845.8 1036 869.3 1028 890 C1020 910.7 1010.8 935.7 1004 954 C997.2 972.3 991 989 987 1000 C983 1011 983.3 1010 980 1020 C976.7 1030 971.2 1046.7 967 1060 C962.8 1073.3 959 1085 955 1100 C951 1115 946.5 1133.3 943 1150 C939.5 1166.7 936.7 1183.3 934 1200 C931.3 1216.7 929 1233.3 927 1250 C925 1266.7 923.7 1283.3 922 1300 C920.3 1316.7 918.7 1330 917 1350 C915.3 1370 913.7 1396.7 912 1420 C910.3 1443.3 908.3 1469.7 907 1490 C905.7 1510.3 904.5 1533.3 904 1542" fill="none" stroke-width="3.6" />
<path d="M1111 701 C1108.7 706 1101.3 721 1097 731 C1092.7 741 1089.3 750.2 1085 761 C1080.7 771.8 1075.7 784.3 1071 796 C1066.3 807.7 1063.3 815.2 1057 831 C1050.7 846.8 1041 870.3 1033 891 C1025 911.7 1015.8 936.7 1009 955 C1002.2 973.3 996 990 992 1001 C988 1012 988.3 1011 985 1021 C981.7 1031 976.2 1047.7 972 1061 C967.8 1074.3 964 1086 960 1101 C956 1116 951.5 1134.3 948 1151 C944.5 1167.7 941.7 1184.3 939 1201 C936.3 1217.7 934 1234.3 932 1251 C930 1267.7 928.7 1284.3 927 1301 C925.3 1317.7 923.7 1331 922 1351 C920.3 1371 918.7 1397.7 917 1421 C915.3 1444.3 912.8 1479.3 912 1491" fill="none" stroke-width="1.9" />
<path d="M1072 688 L1106 700" fill="none" stroke-width="4.3" />
<path d="M1106 700 L1108 695 L1120 700 L1130 708 L1132 716" fill="none" stroke-width="4.3" />
<path d="M1132 713 C1130 717.2 1124.3 729.2 1120 738 C1115.7 746.8 1108.7 759.7 1106 766 C1103.3 772.3 1103.8 772.7 1104 776 C1104.2 779.3 1107.3 782.3 1107 786 C1106.7 789.7 1104.5 792.3 1102 798 C1099.5 803.7 1095.7 812.7 1092 820 C1088.3 827.3 1083.3 837 1080 842 C1076.7 847 1074.7 848.7 1072 850 C1069.3 851.3 1065.3 850 1064 850" fill="none" stroke-width="4.3" />
<path d="M1126 716 C1123.3 721.7 1115.3 737.7 1110 750 C1104.7 762.3 1099.7 776.7 1094 790 C1088.3 803.3 1081.7 819.7 1076 830 C1070.3 840.3 1062.7 848.3 1060 852" fill="none" stroke-width="1.9" />
<path d="M1120 707 C1116.3 714.5 1104.7 737.3 1098 752 C1091.3 766.7 1083 787.8 1080 795" fill="none" stroke-width="1.9" />
<path d="M1064 850 L1072 854 L1074 900 L1058 906" fill="none" stroke-width="4.3" />
<path d="M1058 906 C1056 907.3 1049.3 911 1046 914 C1042.7 917 1040.3 919.7 1038 924 C1035.7 928.3 1032.8 935 1032 940 C1031.2 945 1032 949.7 1033 954 C1034 958.3 1036.7 962 1038 966 C1039.3 970 1040.5 976 1041 978" fill="none" stroke-width="4.3" />
<path d="M1064 852 L1060 856 L1056 898 L1042 912" fill="none" stroke-width="2.9" />
<path d="M1066 856 L1066 898" fill="none" stroke-width="1.9" />
<path d="M1058 862 L1040 908" fill="none" stroke-width="2.9" />
<path d="M1041 978 C1041 980 1042.2 985.8 1041 990 C1039.8 994.2 1037.2 999.3 1034 1003 C1030.8 1006.7 1024.7 1009.2 1022 1012 C1019.3 1014.8 1018.7 1018.7 1018 1020" fill="none" stroke-width="4.3" />
<ellipse cx="1025" cy="985" rx="7" ry="9" fill="none" stroke-width="3.1" transform="rotate(20 1025 985)" />
<path d="M1020 992 C1021 992.7 1024.2 996.3 1026 996 C1027.8 995.7 1030.2 991 1031 990" fill="none" stroke-width="1.9" />
<path d="M1060 852 C1056.7 860 1047.3 882 1040 900 C1032.7 918 1022.7 943.3 1016 960 C1009.3 976.7 1002.7 993.3 1000 1000" fill="none" stroke-width="1.9" />
<path d="M1036 926 C1033.3 932.7 1024.3 953.3 1020 966 C1015.7 978.7 1013.7 988 1010 1002 C1006.3 1016 1001.3 1036.3 998 1050 C994.7 1063.7 991.3 1078.3 990 1084" fill="none" stroke-width="1.9" />
<path d="M1001 958 L1016 962" fill="none" stroke-width="2.6" />
<path d="M1003 958 L984 1012 L997 1016 L1001 1004" fill="none" stroke-width="2.9" />
<path d="M1018 1020 C1017 1024 1014.3 1034 1012 1044 C1009.7 1054 1006.7 1067.3 1004 1080 C1001.3 1092.7 998.7 1106.7 996 1120 C993.3 1133.3 990.3 1146.7 988 1160 C985.7 1173.3 983.7 1188.3 982 1200 C980.3 1211.7 979.2 1219.7 978 1230 C976.8 1240.3 975.5 1256.7 975 1262" fill="none" stroke-width="4.6" />
<path d="M975 1262 C974.2 1265 971.8 1275 970 1280 C968.2 1285 965.7 1286.7 964 1292 C962.3 1297.3 960.2 1306 960 1312 C959.8 1318 961.8 1323.3 963 1328 C964.2 1332.7 966.8 1333.3 967 1340 C967.2 1346.7 964.9 1354.8 964 1368 C963.1 1381.2 961.7 1407.8 961.7 1419.5 C961.7 1431.2 962.6 1432.9 964 1438 C965.4 1443.1 966.7 1445.3 970 1450 C973.3 1454.7 981.7 1463.3 984 1466" fill="none" stroke-width="4.6" />
<path d="M1001 1015 L1006 1016 L996.8 1058 L991.8 1057 L1001 1015" fill="none" stroke-width="2" />
<path d="M988.8 1065 L995.8 1067 L995.8 1071" fill="none" stroke-width="2.4" />
<path d="M988.3 1073 L993.3 1074 L977.9 1150 L972.9 1149 L988.3 1073" fill="none" stroke-width="2" />
<path d="M969.9 1157 L976.9 1159 L976.9 1163" fill="none" stroke-width="2.4" />
<path d="M970.7 1161 L975.7 1162 L965.2 1238 L960.2 1237 L970.7 1161" fill="none" stroke-width="2" />
<path d="M957.2 1245 L964.2 1247 L964.2 1251" fill="none" stroke-width="2.4" />
<path d="M989 1020 C986.8 1026.7 980.2 1046.7 976 1060 C971.8 1073.3 967.6 1086.7 964 1100 C960.4 1113.3 957.1 1126.7 954.2 1140 C951.2 1153.3 948.7 1166.7 946.3 1180 C943.9 1193.3 941 1213.3 940 1220" fill="none" stroke-width="1.9" />
<path d="M958 1250 C959 1251 963 1252.3 964 1256 C965 1259.7 965 1266.7 964 1272 C963 1277.3 959.7 1284 958 1288 C956.3 1292 954.7 1294.7 954 1296" fill="none" stroke-width="2.2" />
<path d="M954 1296 C953.3 1299.3 950.3 1309.7 950 1316 C949.7 1322.3 952.3 1328 952 1334 C951.7 1340 948.7 1349 948 1352" fill="none" stroke-width="1.9" />
<path d="M944 1352 L956 1348 L958 1356 L942 1362" fill="none" stroke-width="2.2" />
<path d="M946 1362 C946.7 1368.3 948.3 1387 950 1400 C951.7 1413 954 1429.7 956 1440 C958 1450.3 961 1458.3 962 1462" fill="none" stroke-width="1.9" />
<path d="M940 1368 C940.7 1375 942.3 1396.3 944 1410 C945.7 1423.7 949 1443.3 950 1450" fill="none" stroke-width="1.9" />
<path d="M874.4 1507 L908 1544 L950 1522" fill="none" stroke-width="4.6" />
<path d="M904 1542 L908 1544" fill="none" stroke-width="2.4" />
<path d="M935 1500 L944 1512 L952 1520" fill="none" stroke-width="1.9" />
<path d="M984 1466 C985.7 1468 992 1473.3 994 1478 C996 1482.7 996.7 1489 996 1494 C995.3 1499 993.3 1504 990 1508 C986.7 1512 981 1516 976 1518 C971 1520 964.3 1519.3 960 1520 C955.7 1520.7 951.7 1521.7 950 1522" fill="none" stroke-width="4.6" />
<path d="M962 1470 C960.3 1471.7 954.5 1476 952 1480 C949.5 1484 947.3 1489.3 947 1494 C946.7 1498.7 948.2 1504.3 950 1508 C951.8 1511.7 956.7 1514.7 958 1516" fill="none" stroke-width="2.4" />
<ellipse cx="972" cy="1495" rx="13.5" ry="11.5" fill="none" stroke-width="3.8" transform="rotate(-35 972 1495)" />
<path d="M966.2 1502.4 C966.1 1502.3 965.9 1502 965.8 1501.8 C965.7 1501.5 965.6 1501.3 965.5 1501 C965.4 1500.8 965.3 1500.5 965.3 1500.2 C965.2 1500 965.2 1499.7 965.1 1499.4 C965.1 1499.1 965.1 1498.9 965.1 1498.6 C965.1 1498.3 965.1 1498 965.2 1497.7 C965.2 1497.4 965.3 1497.1 965.4 1496.8 C965.4 1496.5 965.5 1496.2 965.6 1496 C965.7 1495.7 965.9 1495.4 966 1495.1 C966.2 1494.8 966.3 1494.5 966.5 1494.3 C966.6 1494 966.8 1493.7 967 1493.4 C967.2 1493.2 967.4 1492.9 967.6 1492.7 C967.9 1492.4 968.1 1492.2 968.3 1492 C968.6 1491.7 968.8 1491.5 969.1 1491.3 C969.4 1491.1 969.6 1490.9 969.9 1490.7 C970.2 1490.5 970.5 1490.3 970.8 1490.2 C971.1 1490 971.4 1489.9 971.7 1489.7 C972 1489.6 972.3 1489.5 972.6 1489.4 C972.9 1489.3 973.2 1489.2 973.6 1489.1 C973.9 1489 974.2 1488.9 974.5 1488.9 C974.8 1488.8 975.1 1488.8 975.5 1488.8 C975.8 1488.8 976.1 1488.8 976.4 1488.8 C976.7 1488.8 977 1488.8 977.3 1488.9 C977.6 1488.9 977.9 1489 978.1 1489.1 C978.4 1489.1 978.7 1489.2 979 1489.3 C979.2 1489.4 979.5 1489.6 979.7 1489.7 C980 1489.8 980.2 1490 980.4 1490.1 C980.6 1490.3 980.8 1490.5 981 1490.7 C981.2 1490.9 981.4 1491.1 981.6 1491.3 C981.7 1491.5 981.9 1491.7 982 1491.9 C982.2 1492.1 982.3 1492.4 982.4 1492.6 C982.5 1492.9 982.6 1493.1 982.7 1493.4 C982.7 1493.7 982.8 1493.9 982.8 1494.2 C982.9 1494.5 982.9 1494.8 982.9 1495 C982.9 1495.3 982.9 1495.6 982.9 1495.9 C982.8 1496.2 982.7 1496.6 982.7 1496.8" fill="none" stroke-width="2.2" />
</g>
<g id="oring12">
<ellipse cx="1208" cy="857" rx="31" ry="49" fill="#fff" stroke-width="5" transform="rotate(6 1208 857)" />
<ellipse cx="1208" cy="857" rx="25.5" ry="41.5" fill="none" stroke-width="1.9" transform="rotate(6 1208 857)" />
<ellipse cx="1208" cy="858" rx="20.5" ry="34.5" fill="none" stroke-width="3.6" transform="rotate(6 1208 858)" />
</g>
<g id="bolts">
<g>
<ellipse cx="253" cy="205.5" rx="32.4" ry="34.9" fill="#fff" stroke-width="5.5" />
<ellipse cx="256" cy="206" rx="33.5" ry="35.5" fill="#fff" stroke-width="2.2" />
<ellipse cx="261" cy="206.5" rx="35.3" ry="36" fill="#fff" stroke-width="5.5" />
<path d="M249.4 236.9 C248.9 236.7 247.4 236.1 246.4 235.6 C245.4 235.1 244.4 234.5 243.5 233.9 C242.6 233.3 241.7 232.6 240.8 231.9 C240 231.2 239.1 230.5 238.4 229.7 C237.6 228.9 236.8 228 236.1 227.1 C235.4 226.3 234.8 225.3 234.2 224.4 C233.6 223.4 233 222.4 232.5 221.4 C232 220.4 231.6 219.3 231.2 218.3 C230.8 217.2 230.4 216.1 230.1 215 C229.8 213.9 229.6 212.8 229.4 211.6 C229.3 210.5 229.1 209.4 229.1 208.2 C229 207.1 229 205.9 229.1 204.8 C229.1 203.6 229.3 202.5 229.4 201.4 C229.6 200.2 229.8 199.1 230.1 198 C230.4 196.9 230.8 195.8 231.2 194.7 C231.6 193.7 232 192.6 232.5 191.6 C233 190.6 233.6 189.6 234.2 188.6 C234.8 187.7 235.4 186.7 236.1 185.9 C236.8 185 237.6 184.1 238.4 183.3 C239.1 182.5 240 181.8 240.8 181.1 C241.7 180.4 242.6 179.7 243.5 179.1 C244.4 178.5 245.4 177.9 246.4 177.4 C247.4 176.9 248.9 176.3 249.4 176.1" fill="none" stroke-width="2" />
<ellipse cx="265.1" cy="210.2" rx="12.4" ry="18.5" fill="#fff" stroke-width="3.1" transform="rotate(27.8 265.1 210.2)" />
<path d="M256.5 226.5 L347.4 274.4 L364.6 241.6 L273.7 193.8Z" fill="#fff" stroke-width="0.1" stroke="none"/>
<line x1="256.5" y1="226.5" x2="347.4" y2="274.4" stroke-width="3.8" />
<line x1="273.7" y1="193.8" x2="364.6" y2="241.6" stroke-width="3.8" />
<path d="M293.6 247.2 C293.4 247.2 293 247 292.8 246.9 C292.6 246.8 292.3 246.6 292.1 246.4 C291.9 246.2 291.8 245.9 291.6 245.7 C291.4 245.4 291.3 245.1 291.2 244.8 C291 244.4 290.9 244.1 290.9 243.7 C290.8 243.3 290.7 242.9 290.7 242.5 C290.7 242 290.6 241.6 290.6 241.1 C290.7 240.6 290.7 240.1 290.7 239.6 C290.8 239.1 290.9 238.5 290.9 238 C291 237.4 291.2 236.8 291.3 236.2 C291.4 235.7 291.6 235.1 291.8 234.4 C291.9 233.8 292.1 233.2 292.3 232.6 C292.5 232 292.8 231.3 293 230.7 C293.3 230.1 293.5 229.4 293.8 228.8 C294.1 228.2 294.4 227.6 294.7 226.9 C295 226.3 295.4 225.7 295.7 225.1 C296 224.5 296.4 223.9 296.7 223.3 C297.1 222.7 297.5 222.1 297.9 221.5 C298.2 221 298.6 220.4 299 219.9 C299.4 219.4 299.8 218.9 300.2 218.4 C300.6 217.9 301 217.4 301.4 217 C301.8 216.5 302.2 216.1 302.6 215.7 C303.1 215.3 303.5 215 303.9 214.6 C304.3 214.3 304.7 214 305.1 213.7 C305.5 213.4 305.8 213.2 306.2 213 C306.6 212.7 307 212.6 307.3 212.4 C307.7 212.3 308 212.1 308.4 212.1 C308.7 212 309.1 211.9 309.4 211.9 C309.7 211.9 310 211.9 310.3 211.9 C310.6 212 310.8 212.1 311.1 212.2 C311.3 212.3 311.7 212.6 311.8 212.6" fill="none" stroke-width="2.6" />
<path d="M299 250.1 C298.9 250 298.5 249.9 298.2 249.7 C298 249.6 297.8 249.4 297.6 249.2 C297.4 249 297.2 248.8 297 248.5 C296.9 248.2 296.7 247.9 296.6 247.6 C296.5 247.3 296.4 246.9 296.3 246.5 C296.2 246.2 296.1 245.8 296.1 245.3 C296.1 244.9 296.1 244.4 296.1 243.9 C296.1 243.5 296.1 243 296.1 242.4 C296.2 241.9 296.3 241.4 296.4 240.8 C296.5 240.3 296.6 239.7 296.7 239.1 C296.8 238.5 297 237.9 297.2 237.3 C297.3 236.7 297.5 236.1 297.8 235.4 C298 234.8 298.2 234.2 298.4 233.6 C298.7 232.9 299 232.3 299.2 231.7 C299.5 231 299.8 230.4 300.1 229.8 C300.4 229.2 300.8 228.5 301.1 227.9 C301.5 227.3 301.8 226.7 302.2 226.1 C302.5 225.5 302.9 225 303.3 224.4 C303.7 223.8 304 223.3 304.4 222.8 C304.8 222.2 305.2 221.7 305.6 221.2 C306 220.7 306.4 220.3 306.8 219.8 C307.2 219.4 307.7 219 308.1 218.6 C308.5 218.2 308.9 217.8 309.3 217.5 C309.7 217.1 310.1 216.8 310.5 216.6 C310.9 216.3 311.3 216 311.6 215.8 C312 215.6 312.4 215.4 312.7 215.3 C313.1 215.1 313.5 215 313.8 214.9 C314.1 214.8 314.5 214.8 314.8 214.7 C315.1 214.7 315.4 214.7 315.7 214.8 C316 214.8 316.2 214.9 316.5 215 C316.7 215.2 317.1 215.4 317.2 215.5" fill="none" stroke-width="2.6" />
<path d="M304.4 252.9 C304.3 252.9 303.9 252.7 303.6 252.6 C303.4 252.5 303.2 252.3 303 252.1 C302.8 251.9 302.6 251.6 302.4 251.4 C302.3 251.1 302.1 250.8 302 250.5 C301.9 250.1 301.8 249.8 301.7 249.4 C301.6 249 301.6 248.6 301.5 248.2 C301.5 247.7 301.5 247.3 301.5 246.8 C301.5 246.3 301.5 245.8 301.6 245.3 C301.6 244.8 301.7 244.2 301.8 243.7 C301.9 243.1 302 242.5 302.1 241.9 C302.3 241.4 302.4 240.8 302.6 240.1 C302.8 239.5 303 238.9 303.2 238.3 C303.4 237.7 303.6 237 303.9 236.4 C304.1 235.8 304.4 235.1 304.7 234.5 C304.9 233.9 305.2 233.3 305.6 232.6 C305.9 232 306.2 231.4 306.5 230.8 C306.9 230.2 307.2 229.6 307.6 229 C307.9 228.4 308.3 227.8 308.7 227.2 C309.1 226.7 309.5 226.1 309.8 225.6 C310.2 225.1 310.6 224.6 311 224.1 C311.4 223.6 311.8 223.1 312.3 222.7 C312.7 222.2 313.1 221.8 313.5 221.4 C313.9 221 314.3 220.7 314.7 220.3 C315.1 220 315.5 219.7 315.9 219.4 C316.3 219.1 316.7 218.9 317 218.7 C317.4 218.4 317.8 218.3 318.2 218.1 C318.5 218 318.9 217.8 319.2 217.8 C319.6 217.7 319.9 217.6 320.2 217.6 C320.5 217.6 320.8 217.6 321.1 217.6 C321.4 217.7 321.7 217.8 321.9 217.9 C322.2 218 322.5 218.3 322.6 218.3" fill="none" stroke-width="2.6" />
<path d="M309.8 255.8 C309.7 255.7 309.3 255.6 309.1 255.4 C308.8 255.3 308.6 255.1 308.4 254.9 C308.2 254.7 308 254.5 307.8 254.2 C307.7 253.9 307.5 253.6 307.4 253.3 C307.3 253 307.2 252.6 307.1 252.2 C307 251.9 307 251.5 306.9 251 C306.9 250.6 306.9 250.1 306.9 249.6 C306.9 249.2 306.9 248.7 307 248.1 C307 247.6 307.1 247.1 307.2 246.5 C307.3 246 307.4 245.4 307.5 244.8 C307.7 244.2 307.8 243.6 308 243 C308.2 242.4 308.4 241.8 308.6 241.1 C308.8 240.5 309 239.9 309.3 239.3 C309.5 238.6 309.8 238 310.1 237.4 C310.4 236.7 310.7 236.1 311 235.5 C311.3 234.9 311.6 234.2 311.9 233.6 C312.3 233 312.6 232.4 313 231.8 C313.4 231.2 313.7 230.7 314.1 230.1 C314.5 229.5 314.9 229 315.3 228.5 C315.7 227.9 316.1 227.4 316.5 226.9 C316.9 226.4 317.3 226 317.7 225.5 C318.1 225.1 318.5 224.7 318.9 224.3 C319.3 223.9 319.7 223.5 320.1 223.2 C320.5 222.8 320.9 222.5 321.3 222.3 C321.7 222 322.1 221.7 322.5 221.5 C322.8 221.3 323.2 221.1 323.6 221 C323.9 220.8 324.3 220.7 324.6 220.6 C325 220.5 325.3 220.5 325.6 220.4 C325.9 220.4 326.2 220.4 326.5 220.5 C326.8 220.5 327.1 220.6 327.3 220.7 C327.6 220.9 327.9 221.1 328 221.2" fill="none" stroke-width="2.6" />
<path d="M315.2 258.6 C315.1 258.6 314.7 258.4 314.5 258.3 C314.2 258.2 314 258 313.8 257.8 C313.6 257.6 313.4 257.3 313.3 257.1 C313.1 256.8 313 256.5 312.8 256.2 C312.7 255.8 312.6 255.5 312.5 255.1 C312.4 254.7 312.4 254.3 312.4 253.9 C312.3 253.4 312.3 253 312.3 252.5 C312.3 252 312.3 251.5 312.4 251 C312.4 250.5 312.5 249.9 312.6 249.4 C312.7 248.8 312.8 248.2 312.9 247.6 C313.1 247.1 313.2 246.5 313.4 245.8 C313.6 245.2 313.8 244.6 314 244 C314.2 243.4 314.4 242.7 314.7 242.1 C314.9 241.5 315.2 240.8 315.5 240.2 C315.8 239.6 316.1 239 316.4 238.3 C316.7 237.7 317 237.1 317.4 236.5 C317.7 235.9 318 235.3 318.4 234.7 C318.8 234.1 319.1 233.5 319.5 232.9 C319.9 232.4 320.3 231.8 320.7 231.3 C321.1 230.8 321.5 230.3 321.9 229.8 C322.3 229.3 322.7 228.8 323.1 228.4 C323.5 227.9 323.9 227.5 324.3 227.1 C324.7 226.7 325.1 226.4 325.5 226 C325.9 225.7 326.3 225.4 326.7 225.1 C327.1 224.8 327.5 224.6 327.9 224.4 C328.3 224.1 328.6 224 329 223.8 C329.4 223.7 329.7 223.5 330 223.5 C330.4 223.4 330.7 223.3 331 223.3 C331.3 223.3 331.6 223.3 331.9 223.3 C332.2 223.4 332.5 223.5 332.7 223.6 C333 223.7 333.3 224 333.4 224" fill="none" stroke-width="2.6" />
<path d="M320.7 261.5 C320.5 261.4 320.1 261.3 319.9 261.1 C319.6 261 319.4 260.8 319.2 260.6 C319 260.4 318.8 260.2 318.7 259.9 C318.5 259.6 318.4 259.3 318.2 259 C318.1 258.7 318 258.3 317.9 257.9 C317.9 257.6 317.8 257.2 317.8 256.7 C317.7 256.3 317.7 255.8 317.7 255.3 C317.7 254.9 317.8 254.4 317.8 253.8 C317.9 253.3 317.9 252.8 318 252.2 C318.1 251.7 318.2 251.1 318.4 250.5 C318.5 249.9 318.7 249.3 318.8 248.7 C319 248.1 319.2 247.5 319.4 246.8 C319.6 246.2 319.9 245.6 320.1 245 C320.4 244.3 320.6 243.7 320.9 243.1 C321.2 242.4 321.5 241.8 321.8 241.2 C322.1 240.6 322.4 239.9 322.8 239.3 C323.1 238.7 323.5 238.1 323.8 237.5 C324.2 236.9 324.6 236.4 324.9 235.8 C325.3 235.2 325.7 234.7 326.1 234.2 C326.5 233.6 326.9 233.1 327.3 232.6 C327.7 232.1 328.1 231.7 328.5 231.2 C328.9 230.8 329.3 230.4 329.7 230 C330.1 229.6 330.5 229.2 330.9 228.9 C331.3 228.5 331.7 228.2 332.1 228 C332.5 227.7 332.9 227.4 333.3 227.2 C333.7 227 334 226.8 334.4 226.7 C334.8 226.5 335.1 226.4 335.5 226.3 C335.8 226.2 336.1 226.2 336.4 226.1 C336.8 226.1 337.1 226.1 337.3 226.2 C337.6 226.2 337.9 226.3 338.1 226.4 C338.4 226.6 338.7 226.8 338.8 226.9" fill="none" stroke-width="2.6" />
<path d="M326.1 264.3 C325.9 264.3 325.5 264.1 325.3 264 C325.1 263.9 324.8 263.7 324.6 263.5 C324.4 263.3 324.3 263 324.1 262.8 C323.9 262.5 323.8 262.2 323.7 261.9 C323.5 261.5 323.4 261.2 323.4 260.8 C323.3 260.4 323.2 260 323.2 259.6 C323.1 259.1 323.1 258.7 323.1 258.2 C323.1 257.7 323.2 257.2 323.2 256.7 C323.3 256.2 323.3 255.6 323.4 255.1 C323.5 254.5 323.6 253.9 323.8 253.3 C323.9 252.8 324.1 252.2 324.2 251.5 C324.4 250.9 324.6 250.3 324.8 249.7 C325 249.1 325.3 248.4 325.5 247.8 C325.8 247.2 326 246.5 326.3 245.9 C326.6 245.3 326.9 244.7 327.2 244 C327.5 243.4 327.9 242.8 328.2 242.2 C328.5 241.6 328.9 241 329.2 240.4 C329.6 239.8 330 239.2 330.3 238.6 C330.7 238.1 331.1 237.5 331.5 237 C331.9 236.5 332.3 236 332.7 235.5 C333.1 235 333.5 234.5 333.9 234.1 C334.3 233.6 334.7 233.2 335.1 232.8 C335.5 232.4 336 232.1 336.4 231.7 C336.8 231.4 337.2 231.1 337.5 230.8 C337.9 230.5 338.3 230.3 338.7 230.1 C339.1 229.8 339.5 229.7 339.8 229.5 C340.2 229.4 340.5 229.2 340.9 229.2 C341.2 229.1 341.5 229 341.9 229 C342.2 229 342.5 229 342.8 229 C343 229.1 343.3 229.2 343.6 229.3 C343.8 229.4 344.1 229.7 344.3 229.7" fill="none" stroke-width="2.6" />
<path d="M331.5 267.2 C331.4 267.1 331 267 330.7 266.8 C330.5 266.7 330.3 266.5 330.1 266.3 C329.9 266.1 329.7 265.9 329.5 265.6 C329.3 265.3 329.2 265 329.1 264.7 C329 264.4 328.9 264 328.8 263.6 C328.7 263.3 328.6 262.9 328.6 262.4 C328.6 262 328.5 261.5 328.6 261 C328.6 260.6 328.6 260.1 328.6 259.5 C328.7 259 328.8 258.5 328.9 257.9 C328.9 257.4 329.1 256.8 329.2 256.2 C329.3 255.6 329.5 255 329.7 254.4 C329.8 253.8 330 253.2 330.2 252.5 C330.5 251.9 330.7 251.3 330.9 250.7 C331.2 250 331.5 249.4 331.7 248.8 C332 248.1 332.3 247.5 332.6 246.9 C332.9 246.3 333.3 245.6 333.6 245 C333.9 244.4 334.3 243.8 334.7 243.2 C335 242.6 335.4 242.1 335.8 241.5 C336.1 240.9 336.5 240.4 336.9 239.9 C337.3 239.3 337.7 238.8 338.1 238.3 C338.5 237.8 338.9 237.4 339.3 236.9 C339.7 236.5 340.1 236.1 340.6 235.7 C341 235.3 341.4 234.9 341.8 234.6 C342.2 234.2 342.6 233.9 343 233.7 C343.4 233.4 343.7 233.1 344.1 232.9 C344.5 232.7 344.9 232.5 345.2 232.4 C345.6 232.2 346 232.1 346.3 232 C346.6 231.9 347 231.9 347.3 231.8 C347.6 231.8 347.9 231.8 348.2 231.9 C348.5 231.9 348.7 232 349 232.1 C349.2 232.3 349.6 232.5 349.7 232.6" fill="none" stroke-width="2.6" />
<path d="M336.9 270 C336.8 270 336.4 269.8 336.1 269.7 C335.9 269.6 335.7 269.4 335.5 269.2 C335.3 269 335.1 268.7 334.9 268.5 C334.8 268.2 334.6 267.9 334.5 267.6 C334.4 267.2 334.3 266.9 334.2 266.5 C334.1 266.1 334 265.7 334 265.3 C334 264.8 334 264.4 334 263.9 C334 263.4 334 262.9 334.1 262.4 C334.1 261.9 334.2 261.3 334.3 260.8 C334.4 260.2 334.5 259.6 334.6 259 C334.7 258.5 334.9 257.9 335.1 257.2 C335.2 256.6 335.4 256 335.7 255.4 C335.9 254.8 336.1 254.1 336.4 253.5 C336.6 252.9 336.9 252.2 337.1 251.6 C337.4 251 337.7 250.4 338 249.7 C338.4 249.1 338.7 248.5 339 247.9 C339.4 247.3 339.7 246.7 340.1 246.1 C340.4 245.5 340.8 244.9 341.2 244.3 C341.6 243.8 341.9 243.2 342.3 242.7 C342.7 242.2 343.1 241.7 343.5 241.2 C343.9 240.7 344.3 240.2 344.7 239.8 C345.2 239.3 345.6 238.9 346 238.5 C346.4 238.1 346.8 237.8 347.2 237.4 C347.6 237.1 348 236.8 348.4 236.5 C348.8 236.2 349.2 236 349.5 235.8 C349.9 235.5 350.3 235.4 350.7 235.2 C351 235.1 351.4 234.9 351.7 234.9 C352 234.8 352.4 234.7 352.7 234.7 C353 234.7 353.3 234.7 353.6 234.7 C353.9 234.8 354.1 234.9 354.4 235 C354.6 235.1 355 235.4 355.1 235.4" fill="none" stroke-width="2.6" />
<path d="M342.3 272.9 C342.2 272.8 341.8 272.7 341.5 272.5 C341.3 272.4 341.1 272.2 340.9 272 C340.7 271.8 340.5 271.6 340.3 271.3 C340.2 271 340 270.7 339.9 270.4 C339.8 270.1 339.7 269.7 339.6 269.3 C339.5 269 339.5 268.6 339.4 268.1 C339.4 267.7 339.4 267.2 339.4 266.7 C339.4 266.3 339.4 265.8 339.5 265.2 C339.5 264.7 339.6 264.2 339.7 263.6 C339.8 263.1 339.9 262.5 340 261.9 C340.2 261.3 340.3 260.7 340.5 260.1 C340.7 259.5 340.9 258.9 341.1 258.2 C341.3 257.6 341.5 257 341.8 256.4 C342 255.7 342.3 255.1 342.6 254.5 C342.8 253.8 343.1 253.2 343.5 252.6 C343.8 252 344.1 251.3 344.4 250.7 C344.8 250.1 345.1 249.5 345.5 248.9 C345.8 248.3 346.2 247.8 346.6 247.2 C347 246.6 347.4 246.1 347.8 245.6 C348.1 245 348.5 244.5 348.9 244 C349.3 243.5 349.8 243.1 350.2 242.6 C350.6 242.2 351 241.8 351.4 241.4 C351.8 241 352.2 240.6 352.6 240.3 C353 239.9 353.4 239.6 353.8 239.4 C354.2 239.1 354.6 238.8 355 238.6 C355.3 238.4 355.7 238.2 356.1 238.1 C356.4 237.9 356.8 237.8 357.1 237.7 C357.5 237.6 357.8 237.6 358.1 237.5 C358.4 237.5 358.7 237.5 359 237.6 C359.3 237.6 359.6 237.7 359.8 237.8 C360.1 238 360.4 238.2 360.5 238.3" fill="none" stroke-width="2.6" />
<path d="M347.7 275.7 C347.6 275.7 347.2 275.5 347 275.4 C346.7 275.3 346.5 275.1 346.3 274.9 C346.1 274.7 345.9 274.4 345.7 274.2 C345.6 273.9 345.4 273.6 345.3 273.3 C345.2 272.9 345.1 272.6 345 272.2 C344.9 271.8 344.9 271.4 344.8 271 C344.8 270.5 344.8 270.1 344.8 269.6 C344.8 269.1 344.8 268.6 344.9 268.1 C344.9 267.6 345 267 345.1 266.5 C345.2 265.9 345.3 265.3 345.4 264.7 C345.6 264.2 345.7 263.6 345.9 262.9 C346.1 262.3 346.3 261.7 346.5 261.1 C346.7 260.5 346.9 259.8 347.2 259.2 C347.4 258.6 347.7 257.9 348 257.3 C348.3 256.7 348.6 256.1 348.9 255.4 C349.2 254.8 349.5 254.2 349.8 253.6 C350.2 253 350.5 252.4 350.9 251.8 C351.3 251.2 351.6 250.6 352 250 C352.4 249.5 352.8 248.9 353.2 248.4 C353.6 247.9 354 247.4 354.4 246.9 C354.8 246.4 355.2 245.9 355.6 245.5 C356 245 356.4 244.6 356.8 244.2 C357.2 243.8 357.6 243.5 358 243.1 C358.4 242.8 358.8 242.5 359.2 242.2 C359.6 241.9 360 241.7 360.4 241.5 C360.7 241.2 361.1 241.1 361.5 240.9 C361.8 240.8 362.2 240.6 362.5 240.6 C362.9 240.5 363.2 240.4 363.5 240.4 C363.8 240.4 364.1 240.4 364.4 240.4 C364.7 240.5 365 240.6 365.2 240.7 C365.5 240.8 365.8 241.1 365.9 241.1" fill="none" stroke-width="2.6" />
<ellipse cx="356" cy="258" rx="13.2" ry="18.5" fill="#fff" stroke-width="3.6" transform="rotate(27.8 356 258)" />
</g>
<g>
<path d="M156.6 525.6 L139.2 541 L117.7 532.8 L113.8 509.2 L131.2 493.8 L152.7 502Z" fill="#fff" stroke-width="4.1" />
<line x1="156.6" y1="525.6" x2="163" y2="530.4" stroke-width="2.4" />
<line x1="139.2" y1="541" x2="145.6" y2="545.8" stroke-width="2.4" />
<line x1="117.7" y1="532.8" x2="124.1" y2="537.6" stroke-width="2.4" />
<line x1="113.8" y1="509.2" x2="120.2" y2="514" stroke-width="2.4" />
<line x1="131.2" y1="493.8" x2="137.6" y2="498.6" stroke-width="2.4" />
<line x1="152.7" y1="502" x2="159.1" y2="506.8" stroke-width="2.4" />
<path d="M163 530.4 L145.6 545.8 L124.1 537.6 L120.2 514 L137.6 498.6 L159.1 506.8Z" fill="#fff" stroke-width="3.8" />
<ellipse cx="142.4" cy="522.8" rx="19.2" ry="20.2" fill="none" stroke-width="2.4" />
<ellipse cx="143.2" cy="523.4" rx="14.9" ry="16.3" fill="#fff" stroke-width="2.9" />
<ellipse cx="142.4" cy="522.8" rx="8.1" ry="12" fill="#fff" stroke-width="3.1" transform="rotate(36.7 142.4 522.8)" />
<path d="M135.2 532.4 L195.8 577.6 L210.2 558.4 L149.6 513.2Z" fill="#fff" stroke-width="0.1" stroke="none"/>
<line x1="135.2" y1="532.4" x2="195.8" y2="577.6" stroke-width="3.8" />
<line x1="149.6" y1="513.2" x2="210.2" y2="558.4" stroke-width="3.8" />
<path d="M163.3 554.2 C163.2 554.1 163 554 162.8 553.9 C162.7 553.8 162.6 553.6 162.4 553.5 C162.3 553.3 162.2 553.2 162.2 553 C162.1 552.8 162 552.6 162 552.4 C161.9 552.1 161.9 551.9 161.9 551.6 C161.9 551.4 161.9 551.1 161.9 550.8 C161.9 550.6 162 550.3 162 549.9 C162.1 549.6 162.1 549.3 162.2 549 C162.3 548.7 162.4 548.3 162.5 548 C162.6 547.6 162.8 547.3 162.9 546.9 C163.1 546.5 163.2 546.2 163.4 545.8 C163.6 545.4 163.8 545.1 164 544.7 C164.2 544.3 164.4 543.9 164.6 543.5 C164.8 543.2 165.1 542.8 165.3 542.4 C165.5 542 165.8 541.7 166.1 541.3 C166.3 540.9 166.6 540.6 166.9 540.2 C167.2 539.8 167.4 539.5 167.7 539.1 C168 538.8 168.3 538.5 168.6 538.2 C168.9 537.8 169.2 537.5 169.5 537.2 C169.8 536.9 170.1 536.6 170.4 536.4 C170.7 536.1 171.1 535.8 171.4 535.6 C171.7 535.3 172 535.1 172.3 534.9 C172.6 534.7 172.9 534.5 173.2 534.3 C173.5 534.2 173.7 534 174 533.9 C174.3 533.7 174.6 533.6 174.8 533.5 C175.1 533.4 175.4 533.3 175.6 533.3 C175.9 533.2 176.1 533.2 176.3 533.1 C176.5 533.1 176.8 533.1 177 533.1 C177.2 533.2 177.4 533.2 177.5 533.3 C177.7 533.3 177.9 533.4 178 533.5 C178.2 533.6 178.4 533.8 178.4 533.9" fill="none" stroke-width="2.6" />
<path d="M167.9 557.6 C167.8 557.5 167.5 557.4 167.4 557.3 C167.3 557.2 167.1 557.1 167 556.9 C166.9 556.8 166.8 556.6 166.8 556.4 C166.7 556.2 166.6 556 166.6 555.8 C166.5 555.6 166.5 555.3 166.5 555.1 C166.5 554.8 166.5 554.5 166.5 554.3 C166.5 554 166.6 553.7 166.6 553.4 C166.7 553.1 166.7 552.7 166.8 552.4 C166.9 552.1 167 551.7 167.1 551.4 C167.2 551 167.4 550.7 167.5 550.3 C167.7 550 167.8 549.6 168 549.2 C168.2 548.9 168.3 548.5 168.5 548.1 C168.7 547.7 169 547.3 169.2 547 C169.4 546.6 169.6 546.2 169.9 545.8 C170.1 545.5 170.4 545.1 170.6 544.7 C170.9 544.3 171.2 544 171.5 543.6 C171.7 543.3 172 542.9 172.3 542.6 C172.6 542.2 172.9 541.9 173.2 541.6 C173.5 541.3 173.8 540.9 174.1 540.6 C174.4 540.3 174.7 540.1 175 539.8 C175.3 539.5 175.6 539.3 176 539 C176.3 538.8 176.6 538.5 176.9 538.3 C177.2 538.1 177.5 537.9 177.8 537.8 C178 537.6 178.3 537.4 178.6 537.3 C178.9 537.1 179.2 537 179.4 536.9 C179.7 536.8 180 536.7 180.2 536.7 C180.4 536.6 180.7 536.6 180.9 536.6 C181.1 536.5 181.4 536.5 181.6 536.6 C181.8 536.6 181.9 536.6 182.1 536.7 C182.3 536.7 182.5 536.8 182.6 536.9 C182.8 537 183 537.2 183 537.3" fill="none" stroke-width="2.6" />
<path d="M172.5 561 C172.4 561 172.1 560.9 172 560.7 C171.9 560.6 171.7 560.5 171.6 560.3 C171.5 560.2 171.4 560 171.3 559.8 C171.3 559.6 171.2 559.4 171.2 559.2 C171.1 559 171.1 558.7 171.1 558.5 C171.1 558.2 171.1 558 171.1 557.7 C171.1 557.4 171.1 557.1 171.2 556.8 C171.2 556.5 171.3 556.2 171.4 555.8 C171.5 555.5 171.6 555.2 171.7 554.8 C171.8 554.5 172 554.1 172.1 553.8 C172.2 553.4 172.4 553 172.6 552.7 C172.8 552.3 172.9 551.9 173.1 551.5 C173.3 551.1 173.6 550.8 173.8 550.4 C174 550 174.2 549.6 174.5 549.3 C174.7 548.9 175 548.5 175.2 548.1 C175.5 547.8 175.8 547.4 176.1 547 C176.3 546.7 176.6 546.3 176.9 546 C177.2 545.7 177.5 545.3 177.8 545 C178.1 544.7 178.4 544.4 178.7 544.1 C179 543.8 179.3 543.5 179.6 543.2 C179.9 542.9 180.2 542.7 180.5 542.4 C180.8 542.2 181.2 542 181.5 541.8 C181.8 541.5 182 541.4 182.3 541.2 C182.6 541 182.9 540.8 183.2 540.7 C183.5 540.6 183.8 540.4 184 540.3 C184.3 540.2 184.5 540.2 184.8 540.1 C185 540 185.3 540 185.5 540 C185.7 540 185.9 540 186.1 540 C186.3 540 186.5 540 186.7 540.1 C186.9 540.2 187.1 540.2 187.2 540.3 C187.4 540.4 187.5 540.6 187.6 540.7" fill="none" stroke-width="2.6" />
<path d="M177 564.4 C177 564.4 176.7 564.3 176.6 564.2 C176.4 564 176.3 563.9 176.2 563.8 C176.1 563.6 176 563.4 175.9 563.2 C175.9 563.1 175.8 562.9 175.8 562.6 C175.7 562.4 175.7 562.2 175.7 561.9 C175.7 561.7 175.7 561.4 175.7 561.1 C175.7 560.8 175.7 560.5 175.8 560.2 C175.8 559.9 175.9 559.6 176 559.3 C176.1 558.9 176.2 558.6 176.3 558.2 C176.4 557.9 176.5 557.5 176.7 557.2 C176.8 556.8 177 556.4 177.2 556.1 C177.3 555.7 177.5 555.3 177.7 555 C177.9 554.6 178.1 554.2 178.4 553.8 C178.6 553.4 178.8 553.1 179.1 552.7 C179.3 552.3 179.6 551.9 179.8 551.6 C180.1 551.2 180.4 550.8 180.6 550.5 C180.9 550.1 181.2 549.8 181.5 549.4 C181.8 549.1 182.1 548.7 182.4 548.4 C182.7 548.1 183 547.8 183.3 547.5 C183.6 547.2 183.9 546.9 184.2 546.6 C184.5 546.4 184.8 546.1 185.1 545.9 C185.4 545.6 185.7 545.4 186 545.2 C186.3 545 186.6 544.8 186.9 544.6 C187.2 544.4 187.5 544.3 187.8 544.1 C188.1 544 188.3 543.9 188.6 543.8 C188.9 543.7 189.1 543.6 189.4 543.5 C189.6 543.5 189.9 543.4 190.1 543.4 C190.3 543.4 190.5 543.4 190.7 543.4 C190.9 543.4 191.1 543.5 191.3 543.5 C191.5 543.6 191.6 543.7 191.8 543.8 C191.9 543.9 192.1 544.1 192.2 544.1" fill="none" stroke-width="2.6" />
<path d="M181.6 567.9 C181.6 567.8 181.3 567.7 181.2 567.6 C181 567.5 180.9 567.3 180.8 567.2 C180.7 567 180.6 566.9 180.5 566.7 C180.4 566.5 180.4 566.3 180.3 566.1 C180.3 565.8 180.3 565.6 180.3 565.3 C180.2 565.1 180.2 564.8 180.3 564.5 C180.3 564.2 180.3 564 180.4 563.6 C180.4 563.3 180.5 563 180.6 562.7 C180.7 562.4 180.8 562 180.9 561.7 C181 561.3 181.1 561 181.3 560.6 C181.4 560.2 181.6 559.9 181.8 559.5 C181.9 559.1 182.1 558.8 182.3 558.4 C182.5 558 182.7 557.6 183 557.2 C183.2 556.9 183.4 556.5 183.7 556.1 C183.9 555.7 184.2 555.4 184.4 555 C184.7 554.6 185 554.3 185.2 553.9 C185.5 553.5 185.8 553.2 186.1 552.8 C186.4 552.5 186.7 552.2 187 551.9 C187.3 551.5 187.6 551.2 187.9 550.9 C188.2 550.6 188.5 550.3 188.8 550.1 C189.1 549.8 189.4 549.5 189.7 549.3 C190 549 190.3 548.8 190.6 548.6 C190.9 548.4 191.2 548.2 191.5 548 C191.8 547.9 192.1 547.7 192.4 547.6 C192.7 547.4 192.9 547.3 193.2 547.2 C193.5 547.1 193.7 547 194 547 C194.2 546.9 194.5 546.9 194.7 546.8 C194.9 546.8 195.1 546.8 195.3 546.8 C195.5 546.9 195.7 546.9 195.9 547 C196.1 547 196.2 547.1 196.4 547.2 C196.5 547.3 196.7 547.5 196.8 547.6" fill="none" stroke-width="2.6" />
<path d="M186.2 571.3 C186.1 571.2 185.9 571.1 185.8 571 C185.6 570.9 185.5 570.8 185.4 570.6 C185.3 570.5 185.2 570.3 185.1 570.1 C185 569.9 185 569.7 184.9 569.5 C184.9 569.3 184.9 569 184.8 568.8 C184.8 568.5 184.8 568.2 184.9 568 C184.9 567.7 184.9 567.4 185 567.1 C185 566.8 185.1 566.4 185.2 566.1 C185.3 565.8 185.4 565.4 185.5 565.1 C185.6 564.7 185.7 564.4 185.9 564 C186 563.7 186.2 563.3 186.3 562.9 C186.5 562.6 186.7 562.2 186.9 561.8 C187.1 561.4 187.3 561 187.5 560.7 C187.8 560.3 188 559.9 188.2 559.5 C188.5 559.2 188.7 558.8 189 558.4 C189.3 558 189.5 557.7 189.8 557.3 C190.1 557 190.4 556.6 190.7 556.3 C191 555.9 191.3 555.6 191.6 555.3 C191.9 555 192.2 554.6 192.5 554.3 C192.8 554 193.1 553.8 193.4 553.5 C193.7 553.2 194 553 194.3 552.7 C194.6 552.5 194.9 552.2 195.2 552 C195.5 551.8 195.8 551.6 196.1 551.5 C196.4 551.3 196.7 551.1 197 551 C197.2 550.8 197.5 550.7 197.8 550.6 C198.1 550.5 198.3 550.4 198.6 550.4 C198.8 550.3 199 550.3 199.3 550.3 C199.5 550.2 199.7 550.2 199.9 550.3 C200.1 550.3 200.3 550.3 200.5 550.4 C200.7 550.4 200.8 550.5 201 550.6 C201.1 550.7 201.3 550.9 201.4 551" fill="none" stroke-width="2.6" />
<path d="M190.8 574.7 C190.7 574.7 190.5 574.5 190.4 574.4 C190.2 574.3 190.1 574.2 190 574 C189.9 573.9 189.8 573.7 189.7 573.5 C189.6 573.3 189.6 573.1 189.5 572.9 C189.5 572.7 189.4 572.4 189.4 572.2 C189.4 571.9 189.4 571.7 189.4 571.4 C189.5 571.1 189.5 570.8 189.6 570.5 C189.6 570.2 189.7 569.9 189.8 569.5 C189.8 569.2 189.9 568.9 190.1 568.5 C190.2 568.2 190.3 567.8 190.5 567.5 C190.6 567.1 190.8 566.7 190.9 566.3 C191.1 566 191.3 565.6 191.5 565.2 C191.7 564.8 191.9 564.5 192.1 564.1 C192.4 563.7 192.6 563.3 192.8 563 C193.1 562.6 193.3 562.2 193.6 561.8 C193.9 561.5 194.1 561.1 194.4 560.7 C194.7 560.4 195 560 195.3 559.7 C195.6 559.4 195.9 559 196.2 558.7 C196.5 558.4 196.8 558.1 197.1 557.8 C197.4 557.5 197.7 557.2 198 556.9 C198.3 556.6 198.6 556.4 198.9 556.1 C199.2 555.9 199.5 555.7 199.8 555.5 C200.1 555.2 200.4 555 200.7 554.9 C201 554.7 201.3 554.5 201.6 554.4 C201.8 554.3 202.1 554.1 202.4 554 C202.6 553.9 202.9 553.9 203.1 553.8 C203.4 553.7 203.6 553.7 203.9 553.7 C204.1 553.7 204.3 553.7 204.5 553.7 C204.7 553.7 204.9 553.7 205.1 553.8 C205.3 553.9 205.4 553.9 205.6 554 C205.7 554.1 205.9 554.3 206 554.4" fill="none" stroke-width="2.6" />
<path d="M195.4 578.1 C195.3 578.1 195.1 578 194.9 577.9 C194.8 577.7 194.7 577.6 194.6 577.5 C194.5 577.3 194.4 577.1 194.3 576.9 C194.2 576.8 194.2 576.5 194.1 576.3 C194.1 576.1 194 575.9 194 575.6 C194 575.4 194 575.1 194 574.8 C194.1 574.5 194.1 574.2 194.1 573.9 C194.2 573.6 194.3 573.3 194.4 573 C194.4 572.6 194.5 572.3 194.7 571.9 C194.8 571.6 194.9 571.2 195 570.9 C195.2 570.5 195.4 570.1 195.5 569.8 C195.7 569.4 195.9 569 196.1 568.6 C196.3 568.3 196.5 567.9 196.7 567.5 C196.9 567.1 197.2 566.8 197.4 566.4 C197.7 566 197.9 565.6 198.2 565.3 C198.5 564.9 198.7 564.5 199 564.2 C199.3 563.8 199.6 563.5 199.9 563.1 C200.1 562.8 200.4 562.4 200.7 562.1 C201 561.8 201.3 561.5 201.7 561.2 C202 560.9 202.3 560.6 202.6 560.3 C202.9 560.1 203.2 559.8 203.5 559.6 C203.8 559.3 204.1 559.1 204.4 558.9 C204.7 558.7 205 558.5 205.3 558.3 C205.6 558.1 205.9 558 206.1 557.8 C206.4 557.7 206.7 557.6 207 557.5 C207.2 557.4 207.5 557.3 207.7 557.2 C208 557.2 208.2 557.1 208.4 557.1 C208.7 557.1 208.9 557.1 209.1 557.1 C209.3 557.1 209.5 557.2 209.7 557.2 C209.8 557.3 210 557.4 210.2 557.5 C210.3 557.6 210.5 557.8 210.6 557.8" fill="none" stroke-width="2.6" />
<ellipse cx="203" cy="568" rx="6.4" ry="9" fill="#fff" stroke-width="3.6" transform="rotate(36.7 203 568)" />
</g>
<g>
<path d="M247.7 1108.5 L230.2 1123.9 L208.8 1115.7 L204.8 1092.1 L222.3 1076.7 L243.7 1084.9Z" fill="#fff" stroke-width="4.1" />
<line x1="247.7" y1="1108.5" x2="254" y2="1113.4" stroke-width="2.4" />
<line x1="230.2" y1="1123.9" x2="236.5" y2="1128.9" stroke-width="2.4" />
<line x1="208.8" y1="1115.7" x2="215.1" y2="1120.7" stroke-width="2.4" />
<line x1="204.8" y1="1092.1" x2="211.2" y2="1097" stroke-width="2.4" />
<line x1="222.3" y1="1076.7" x2="228.6" y2="1081.6" stroke-width="2.4" />
<line x1="243.7" y1="1084.9" x2="250" y2="1089.8" stroke-width="2.4" />
<path d="M254 1113.4 L236.5 1128.9 L215.1 1120.7 L211.2 1097 L228.6 1081.6 L250 1089.8Z" fill="#fff" stroke-width="3.8" />
<ellipse cx="233.4" cy="1105.8" rx="19.2" ry="20.2" fill="none" stroke-width="2.4" />
<ellipse cx="234.2" cy="1106.5" rx="14.9" ry="16.3" fill="#fff" stroke-width="2.9" />
<ellipse cx="233.4" cy="1105.8" rx="8.1" ry="12" fill="#fff" stroke-width="3.1" transform="rotate(38 233.4 1105.8)" />
<path d="M226 1115.3 L287.6 1163.5 L302.4 1144.5 L240.8 1096.4Z" fill="#fff" stroke-width="0.1" stroke="none"/>
<line x1="226" y1="1115.3" x2="287.6" y2="1163.5" stroke-width="3.8" />
<line x1="240.8" y1="1096.4" x2="302.4" y2="1144.5" stroke-width="3.8" />
<path d="M254.4 1138.4 C254.3 1138.3 254.1 1138.2 253.9 1138.1 C253.8 1137.9 253.7 1137.8 253.6 1137.7 C253.5 1137.5 253.4 1137.3 253.3 1137.1 C253.2 1136.9 253.2 1136.7 253.1 1136.5 C253.1 1136.3 253.1 1136.1 253.1 1135.8 C253.1 1135.5 253.1 1135.3 253.1 1135 C253.1 1134.7 253.2 1134.4 253.2 1134.1 C253.3 1133.8 253.4 1133.5 253.5 1133.2 C253.6 1132.8 253.7 1132.5 253.8 1132.1 C253.9 1131.8 254 1131.4 254.2 1131.1 C254.4 1130.7 254.5 1130.4 254.7 1130 C254.9 1129.6 255.1 1129.3 255.3 1128.9 C255.5 1128.5 255.7 1128.1 256 1127.8 C256.2 1127.4 256.4 1127 256.7 1126.6 C256.9 1126.3 257.2 1125.9 257.5 1125.5 C257.7 1125.2 258 1124.8 258.3 1124.5 C258.6 1124.1 258.9 1123.8 259.2 1123.4 C259.5 1123.1 259.8 1122.8 260.1 1122.5 C260.4 1122.1 260.7 1121.8 261 1121.5 C261.3 1121.3 261.6 1121 262 1120.7 C262.3 1120.4 262.6 1120.2 262.9 1120 C263.2 1119.7 263.5 1119.5 263.8 1119.3 C264.1 1119.1 264.4 1118.9 264.7 1118.7 C265 1118.6 265.3 1118.4 265.6 1118.3 C265.9 1118.2 266.2 1118 266.4 1117.9 C266.7 1117.9 266.9 1117.8 267.2 1117.7 C267.4 1117.7 267.7 1117.6 267.9 1117.6 C268.1 1117.6 268.3 1117.6 268.6 1117.6 C268.8 1117.7 268.9 1117.7 269.1 1117.8 C269.3 1117.8 269.5 1117.9 269.6 1118 C269.7 1118.1 269.9 1118.3 270 1118.4" fill="none" stroke-width="2.6" />
<path d="M259.1 1142 C259 1142 258.7 1141.8 258.6 1141.7 C258.5 1141.6 258.3 1141.5 258.2 1141.3 C258.1 1141.1 258 1141 258 1140.8 C257.9 1140.6 257.8 1140.4 257.8 1140.2 C257.8 1139.9 257.7 1139.7 257.7 1139.4 C257.7 1139.2 257.7 1138.9 257.8 1138.6 C257.8 1138.4 257.8 1138.1 257.9 1137.7 C258 1137.4 258 1137.1 258.1 1136.8 C258.2 1136.5 258.3 1136.1 258.4 1135.8 C258.6 1135.4 258.7 1135.1 258.9 1134.7 C259 1134.4 259.2 1134 259.4 1133.6 C259.6 1133.3 259.7 1132.9 260 1132.5 C260.2 1132.2 260.4 1131.8 260.6 1131.4 C260.8 1131 261.1 1130.7 261.3 1130.3 C261.6 1129.9 261.9 1129.5 262.1 1129.2 C262.4 1128.8 262.7 1128.5 263 1128.1 C263.3 1127.8 263.5 1127.4 263.8 1127.1 C264.1 1126.7 264.4 1126.4 264.8 1126.1 C265.1 1125.8 265.4 1125.5 265.7 1125.2 C266 1124.9 266.3 1124.6 266.6 1124.4 C266.9 1124.1 267.2 1123.8 267.6 1123.6 C267.9 1123.4 268.2 1123.1 268.5 1122.9 C268.8 1122.7 269.1 1122.6 269.4 1122.4 C269.7 1122.2 270 1122.1 270.3 1121.9 C270.5 1121.8 270.8 1121.7 271.1 1121.6 C271.3 1121.5 271.6 1121.4 271.9 1121.4 C272.1 1121.3 272.3 1121.3 272.6 1121.3 C272.8 1121.2 273 1121.3 273.2 1121.3 C273.4 1121.3 273.6 1121.3 273.8 1121.4 C274 1121.5 274.1 1121.6 274.3 1121.7 C274.4 1121.8 274.6 1122 274.7 1122" fill="none" stroke-width="2.6" />
<path d="M263.7 1145.6 C263.6 1145.6 263.4 1145.5 263.3 1145.3 C263.1 1145.2 263 1145.1 262.9 1144.9 C262.8 1144.8 262.7 1144.6 262.6 1144.4 C262.6 1144.2 262.5 1144 262.5 1143.8 C262.4 1143.6 262.4 1143.3 262.4 1143.1 C262.4 1142.8 262.4 1142.6 262.4 1142.3 C262.5 1142 262.5 1141.7 262.6 1141.4 C262.6 1141.1 262.7 1140.8 262.8 1140.4 C262.9 1140.1 263 1139.8 263.1 1139.4 C263.2 1139.1 263.4 1138.7 263.5 1138.4 C263.7 1138 263.8 1137.6 264 1137.3 C264.2 1136.9 264.4 1136.5 264.6 1136.2 C264.8 1135.8 265 1135.4 265.3 1135 C265.5 1134.7 265.8 1134.3 266 1133.9 C266.3 1133.6 266.5 1133.2 266.8 1132.8 C267.1 1132.5 267.3 1132.1 267.6 1131.8 C267.9 1131.4 268.2 1131.1 268.5 1130.7 C268.8 1130.4 269.1 1130.1 269.4 1129.7 C269.7 1129.4 270 1129.1 270.3 1128.8 C270.7 1128.5 271 1128.3 271.3 1128 C271.6 1127.7 271.9 1127.5 272.2 1127.2 C272.5 1127 272.8 1126.8 273.1 1126.6 C273.4 1126.4 273.8 1126.2 274 1126 C274.3 1125.9 274.6 1125.7 274.9 1125.6 C275.2 1125.4 275.5 1125.3 275.7 1125.2 C276 1125.1 276.3 1125.1 276.5 1125 C276.8 1125 277 1124.9 277.2 1124.9 C277.5 1124.9 277.7 1124.9 277.9 1124.9 C278.1 1124.9 278.3 1125 278.4 1125.1 C278.6 1125.1 278.8 1125.2 278.9 1125.3 C279.1 1125.4 279.3 1125.6 279.3 1125.7" fill="none" stroke-width="2.6" />
<path d="M268.4 1149.3 C268.3 1149.2 268.1 1149.1 267.9 1149 C267.8 1148.9 267.7 1148.7 267.6 1148.6 C267.5 1148.4 267.4 1148.3 267.3 1148.1 C267.2 1147.9 267.2 1147.7 267.1 1147.4 C267.1 1147.2 267.1 1147 267.1 1146.7 C267.1 1146.5 267.1 1146.2 267.1 1145.9 C267.1 1145.6 267.2 1145.3 267.2 1145 C267.3 1144.7 267.4 1144.4 267.4 1144.1 C267.5 1143.8 267.7 1143.4 267.8 1143.1 C267.9 1142.7 268 1142.4 268.2 1142 C268.3 1141.7 268.5 1141.3 268.7 1140.9 C268.9 1140.6 269.1 1140.2 269.3 1139.8 C269.5 1139.4 269.7 1139.1 269.9 1138.7 C270.2 1138.3 270.4 1137.9 270.7 1137.6 C270.9 1137.2 271.2 1136.8 271.5 1136.5 C271.7 1136.1 272 1135.7 272.3 1135.4 C272.6 1135 272.9 1134.7 273.2 1134.4 C273.5 1134 273.8 1133.7 274.1 1133.4 C274.4 1133.1 274.7 1132.8 275 1132.5 C275.3 1132.2 275.6 1131.9 275.9 1131.6 C276.3 1131.4 276.6 1131.1 276.9 1130.9 C277.2 1130.7 277.5 1130.4 277.8 1130.2 C278.1 1130 278.4 1129.8 278.7 1129.7 C279 1129.5 279.3 1129.3 279.6 1129.2 C279.9 1129.1 280.1 1129 280.4 1128.9 C280.7 1128.8 280.9 1128.7 281.2 1128.7 C281.4 1128.6 281.7 1128.6 281.9 1128.5 C282.1 1128.5 282.3 1128.5 282.5 1128.6 C282.7 1128.6 282.9 1128.6 283.1 1128.7 C283.3 1128.8 283.4 1128.8 283.6 1128.9 C283.7 1129.1 283.9 1129.3 284 1129.3" fill="none" stroke-width="2.6" />
<path d="M273 1152.9 C273 1152.9 272.7 1152.8 272.6 1152.6 C272.5 1152.5 272.3 1152.4 272.2 1152.2 C272.1 1152.1 272 1151.9 272 1151.7 C271.9 1151.5 271.8 1151.3 271.8 1151.1 C271.8 1150.9 271.7 1150.6 271.7 1150.4 C271.7 1150.1 271.7 1149.8 271.8 1149.6 C271.8 1149.3 271.8 1149 271.9 1148.7 C271.9 1148.4 272 1148.1 272.1 1147.7 C272.2 1147.4 272.3 1147.1 272.4 1146.7 C272.6 1146.4 272.7 1146 272.9 1145.7 C273 1145.3 273.2 1144.9 273.4 1144.6 C273.5 1144.2 273.7 1143.8 273.9 1143.5 C274.2 1143.1 274.4 1142.7 274.6 1142.3 C274.8 1142 275.1 1141.6 275.3 1141.2 C275.6 1140.8 275.8 1140.5 276.1 1140.1 C276.4 1139.7 276.7 1139.4 277 1139 C277.2 1138.7 277.5 1138.3 277.8 1138 C278.1 1137.7 278.4 1137.3 278.7 1137 C279 1136.7 279.4 1136.4 279.7 1136.1 C280 1135.8 280.3 1135.5 280.6 1135.3 C280.9 1135 281.2 1134.8 281.5 1134.5 C281.9 1134.3 282.2 1134.1 282.5 1133.9 C282.8 1133.7 283.1 1133.5 283.4 1133.3 C283.7 1133.1 284 1133 284.2 1132.9 C284.5 1132.7 284.8 1132.6 285.1 1132.5 C285.3 1132.4 285.6 1132.3 285.8 1132.3 C286.1 1132.2 286.3 1132.2 286.6 1132.2 C286.8 1132.2 287 1132.2 287.2 1132.2 C287.4 1132.2 287.6 1132.3 287.8 1132.3 C287.9 1132.4 288.1 1132.5 288.3 1132.6 C288.4 1132.7 288.6 1132.9 288.7 1133" fill="none" stroke-width="2.6" />
<path d="M277.7 1156.6 C277.6 1156.5 277.4 1156.4 277.3 1156.3 C277.1 1156.2 277 1156 276.9 1155.9 C276.8 1155.7 276.7 1155.5 276.6 1155.4 C276.6 1155.2 276.5 1155 276.5 1154.7 C276.4 1154.5 276.4 1154.3 276.4 1154 C276.4 1153.8 276.4 1153.5 276.4 1153.2 C276.4 1152.9 276.5 1152.6 276.5 1152.3 C276.6 1152 276.7 1151.7 276.8 1151.4 C276.9 1151 277 1150.7 277.1 1150.4 C277.2 1150 277.4 1149.7 277.5 1149.3 C277.7 1148.9 277.8 1148.6 278 1148.2 C278.2 1147.8 278.4 1147.5 278.6 1147.1 C278.8 1146.7 279 1146.3 279.3 1146 C279.5 1145.6 279.7 1145.2 280 1144.9 C280.2 1144.5 280.5 1144.1 280.8 1143.8 C281.1 1143.4 281.3 1143 281.6 1142.7 C281.9 1142.3 282.2 1142 282.5 1141.7 C282.8 1141.3 283.1 1141 283.4 1140.7 C283.7 1140.4 284 1140.1 284.3 1139.8 C284.6 1139.5 285 1139.2 285.3 1138.9 C285.6 1138.7 285.9 1138.4 286.2 1138.2 C286.5 1137.9 286.8 1137.7 287.1 1137.5 C287.4 1137.3 287.7 1137.1 288 1137 C288.3 1136.8 288.6 1136.6 288.9 1136.5 C289.2 1136.4 289.5 1136.3 289.7 1136.2 C290 1136.1 290.3 1136 290.5 1135.9 C290.8 1135.9 291 1135.8 291.2 1135.8 C291.4 1135.8 291.7 1135.8 291.9 1135.8 C292.1 1135.9 292.3 1135.9 292.4 1136 C292.6 1136 292.8 1136.1 292.9 1136.2 C293.1 1136.3 293.2 1136.5 293.3 1136.6" fill="none" stroke-width="2.6" />
<path d="M282.4 1160.2 C282.3 1160.2 282.1 1160 281.9 1159.9 C281.8 1159.8 281.7 1159.7 281.6 1159.5 C281.5 1159.4 281.4 1159.2 281.3 1159 C281.2 1158.8 281.2 1158.6 281.1 1158.4 C281.1 1158.1 281.1 1157.9 281.1 1157.7 C281 1157.4 281.1 1157.1 281.1 1156.8 C281.1 1156.6 281.2 1156.3 281.2 1156 C281.3 1155.7 281.3 1155.3 281.4 1155 C281.5 1154.7 281.6 1154.3 281.8 1154 C281.9 1153.7 282 1153.3 282.2 1152.9 C282.3 1152.6 282.5 1152.2 282.7 1151.9 C282.9 1151.5 283.1 1151.1 283.3 1150.7 C283.5 1150.4 283.7 1150 283.9 1149.6 C284.2 1149.2 284.4 1148.9 284.7 1148.5 C284.9 1148.1 285.2 1147.8 285.4 1147.4 C285.7 1147 286 1146.7 286.3 1146.3 C286.6 1146 286.9 1145.6 287.2 1145.3 C287.5 1145 287.8 1144.6 288.1 1144.3 C288.4 1144 288.7 1143.7 289 1143.4 C289.3 1143.1 289.6 1142.8 289.9 1142.6 C290.2 1142.3 290.6 1142.1 290.9 1141.8 C291.2 1141.6 291.5 1141.4 291.8 1141.2 C292.1 1141 292.4 1140.8 292.7 1140.6 C293 1140.4 293.3 1140.3 293.6 1140.1 C293.9 1140 294.1 1139.9 294.4 1139.8 C294.7 1139.7 294.9 1139.6 295.2 1139.6 C295.4 1139.5 295.7 1139.5 295.9 1139.5 C296.1 1139.5 296.3 1139.5 296.5 1139.5 C296.7 1139.5 296.9 1139.6 297.1 1139.6 C297.3 1139.7 297.4 1139.8 297.6 1139.9 C297.7 1140 297.9 1140.2 298 1140.2" fill="none" stroke-width="2.6" />
<path d="M287 1163.9 C287 1163.8 286.7 1163.7 286.6 1163.6 C286.4 1163.4 286.3 1163.3 286.2 1163.2 C286.1 1163 286 1162.8 286 1162.6 C285.9 1162.4 285.8 1162.2 285.8 1162 C285.7 1161.8 285.7 1161.6 285.7 1161.3 C285.7 1161 285.7 1160.8 285.7 1160.5 C285.8 1160.2 285.8 1159.9 285.9 1159.6 C285.9 1159.3 286 1159 286.1 1158.7 C286.2 1158.3 286.3 1158 286.4 1157.6 C286.5 1157.3 286.7 1156.9 286.8 1156.6 C287 1156.2 287.2 1155.9 287.3 1155.5 C287.5 1155.1 287.7 1154.8 287.9 1154.4 C288.1 1154 288.4 1153.6 288.6 1153.3 C288.8 1152.9 289.1 1152.5 289.3 1152.1 C289.6 1151.8 289.8 1151.4 290.1 1151 C290.4 1150.7 290.7 1150.3 290.9 1150 C291.2 1149.6 291.5 1149.3 291.8 1148.9 C292.1 1148.6 292.4 1148.3 292.7 1148 C293 1147.6 293.3 1147.3 293.7 1147 C294 1146.8 294.3 1146.5 294.6 1146.2 C294.9 1145.9 295.2 1145.7 295.5 1145.5 C295.8 1145.2 296.2 1145 296.5 1144.8 C296.8 1144.6 297.1 1144.4 297.4 1144.2 C297.7 1144.1 297.9 1143.9 298.2 1143.8 C298.5 1143.7 298.8 1143.5 299.1 1143.4 C299.3 1143.4 299.6 1143.3 299.8 1143.2 C300.1 1143.2 300.3 1143.1 300.5 1143.1 C300.8 1143.1 301 1143.1 301.2 1143.1 C301.4 1143.2 301.6 1143.2 301.8 1143.3 C301.9 1143.3 302.1 1143.4 302.2 1143.5 C302.4 1143.6 302.6 1143.8 302.6 1143.9" fill="none" stroke-width="2.6" />
<ellipse cx="295" cy="1154" rx="6.4" ry="9" fill="#fff" stroke-width="3.6" transform="rotate(38 295 1154)" />
</g>
<g>
<path d="M509.2 1772 L491.7 1787.4 L470.3 1779.2 L466.3 1755.5 L483.8 1740.1 L505.2 1748.3Z" fill="#fff" stroke-width="4.1" />
<line x1="509.2" y1="1772" x2="514.8" y2="1777.6" stroke-width="2.4" />
<line x1="491.7" y1="1787.4" x2="497.4" y2="1793" stroke-width="2.4" />
<line x1="470.3" y1="1779.2" x2="475.9" y2="1784.8" stroke-width="2.4" />
<line x1="466.3" y1="1755.5" x2="472" y2="1761.2" stroke-width="2.4" />
<line x1="483.8" y1="1740.1" x2="489.5" y2="1745.8" stroke-width="2.4" />
<line x1="505.2" y1="1748.3" x2="510.9" y2="1754" stroke-width="2.4" />
<path d="M514.8 1777.6 L497.4 1793 L475.9 1784.8 L472 1761.2 L489.5 1745.8 L510.9 1754Z" fill="#fff" stroke-width="3.8" />
<ellipse cx="494.1" cy="1770.1" rx="19.2" ry="20.2" fill="none" stroke-width="2.4" />
<ellipse cx="494.8" cy="1770.8" rx="14.9" ry="16.3" fill="#fff" stroke-width="2.9" />
<ellipse cx="493.7" cy="1769.7" rx="6.4" ry="9.5" fill="#fff" stroke-width="3.1" transform="rotate(45 493.7 1769.7)" />
<path d="M487 1776.4 L524.3 1813.7 L537.7 1800.3 L500.4 1763Z" fill="#fff" stroke-width="0.1" stroke="none"/>
<line x1="487" y1="1776.4" x2="524.3" y2="1813.7" stroke-width="3.8" />
<line x1="500.4" y1="1763" x2="537.7" y2="1800.3" stroke-width="3.8" />
<path d="M499.7 1789.9 C499.6 1789.8 499.4 1789.7 499.3 1789.6 C499.3 1789.5 499.2 1789.4 499.1 1789.2 C499 1789.1 499 1789 498.9 1788.8 C498.9 1788.6 498.9 1788.5 498.9 1788.3 C498.9 1788.1 498.9 1787.9 498.9 1787.7 C498.9 1787.5 498.9 1787.3 499 1787.1 C499 1786.9 499.1 1786.6 499.2 1786.4 C499.2 1786.2 499.3 1785.9 499.4 1785.7 C499.5 1785.4 499.7 1785.2 499.8 1784.9 C499.9 1784.7 500.1 1784.4 500.2 1784.1 C500.4 1783.9 500.5 1783.6 500.7 1783.3 C500.9 1783 501.1 1782.8 501.3 1782.5 C501.5 1782.2 501.7 1782 501.9 1781.7 C502.1 1781.4 502.4 1781.1 502.6 1780.9 C502.8 1780.6 503.1 1780.3 503.3 1780.1 C503.6 1779.8 503.8 1779.6 504.1 1779.3 C504.3 1779.1 504.6 1778.8 504.9 1778.6 C505.1 1778.4 505.4 1778.1 505.7 1777.9 C506 1777.7 506.2 1777.5 506.5 1777.3 C506.8 1777.1 507 1776.9 507.3 1776.7 C507.6 1776.5 507.9 1776.4 508.1 1776.2 C508.4 1776.1 508.7 1775.9 508.9 1775.8 C509.2 1775.7 509.4 1775.5 509.7 1775.4 C509.9 1775.3 510.2 1775.2 510.4 1775.2 C510.6 1775.1 510.9 1775 511.1 1775 C511.3 1774.9 511.5 1774.9 511.7 1774.9 C511.9 1774.9 512.1 1774.9 512.3 1774.9 C512.5 1774.9 512.6 1774.9 512.8 1774.9 C513 1775 513.1 1775 513.2 1775.1 C513.4 1775.2 513.5 1775.3 513.6 1775.3 C513.7 1775.4 513.8 1775.6 513.9 1775.7" fill="none" stroke-width="2.6" />
<path d="M503.8 1794 C503.7 1793.9 503.5 1793.8 503.4 1793.7 C503.3 1793.6 503.3 1793.5 503.2 1793.3 C503.1 1793.2 503.1 1793 503 1792.9 C503 1792.7 503 1792.6 503 1792.4 C503 1792.2 503 1792 503 1791.8 C503 1791.6 503 1791.4 503.1 1791.2 C503.1 1791 503.2 1790.7 503.3 1790.5 C503.3 1790.3 503.4 1790 503.5 1789.8 C503.6 1789.5 503.8 1789.3 503.9 1789 C504 1788.8 504.2 1788.5 504.3 1788.2 C504.5 1788 504.6 1787.7 504.8 1787.4 C505 1787.1 505.2 1786.9 505.4 1786.6 C505.6 1786.3 505.8 1786 506 1785.8 C506.2 1785.5 506.5 1785.2 506.7 1785 C506.9 1784.7 507.2 1784.4 507.4 1784.2 C507.7 1783.9 507.9 1783.7 508.2 1783.4 C508.4 1783.2 508.7 1782.9 509 1782.7 C509.2 1782.5 509.5 1782.2 509.8 1782 C510 1781.8 510.3 1781.6 510.6 1781.4 C510.9 1781.2 511.1 1781 511.4 1780.8 C511.7 1780.6 512 1780.5 512.2 1780.3 C512.5 1780.2 512.8 1780 513 1779.9 C513.3 1779.8 513.5 1779.6 513.8 1779.5 C514 1779.4 514.3 1779.3 514.5 1779.3 C514.7 1779.2 515 1779.1 515.2 1779.1 C515.4 1779 515.6 1779 515.8 1779 C516 1779 516.2 1779 516.4 1779 C516.6 1779 516.7 1779 516.9 1779 C517 1779.1 517.2 1779.1 517.3 1779.2 C517.5 1779.3 517.6 1779.3 517.7 1779.4 C517.8 1779.5 517.9 1779.7 518 1779.8" fill="none" stroke-width="2.6" />
<path d="M507.9 1798.1 C507.8 1798 507.6 1797.9 507.5 1797.8 C507.4 1797.7 507.4 1797.6 507.3 1797.4 C507.2 1797.3 507.2 1797.1 507.1 1797 C507.1 1796.8 507.1 1796.7 507.1 1796.5 C507 1796.3 507.1 1796.1 507.1 1795.9 C507.1 1795.7 507.1 1795.5 507.2 1795.3 C507.2 1795.1 507.3 1794.8 507.4 1794.6 C507.4 1794.4 507.5 1794.1 507.6 1793.9 C507.7 1793.6 507.9 1793.4 508 1793.1 C508.1 1792.8 508.3 1792.6 508.4 1792.3 C508.6 1792 508.7 1791.8 508.9 1791.5 C509.1 1791.2 509.3 1791 509.5 1790.7 C509.7 1790.4 509.9 1790.1 510.1 1789.9 C510.3 1789.6 510.6 1789.3 510.8 1789.1 C511 1788.8 511.3 1788.5 511.5 1788.3 C511.8 1788 512 1787.8 512.3 1787.5 C512.5 1787.3 512.8 1787 513.1 1786.8 C513.3 1786.6 513.6 1786.3 513.9 1786.1 C514.1 1785.9 514.4 1785.7 514.7 1785.5 C515 1785.3 515.2 1785.1 515.5 1784.9 C515.8 1784.7 516 1784.6 516.3 1784.4 C516.6 1784.3 516.8 1784.1 517.1 1784 C517.4 1783.9 517.6 1783.7 517.9 1783.6 C518.1 1783.5 518.4 1783.4 518.6 1783.4 C518.8 1783.3 519.1 1783.2 519.3 1783.2 C519.5 1783.1 519.7 1783.1 519.9 1783.1 C520.1 1783.1 520.3 1783 520.5 1783.1 C520.7 1783.1 520.8 1783.1 521 1783.1 C521.1 1783.2 521.3 1783.2 521.4 1783.3 C521.6 1783.4 521.7 1783.4 521.8 1783.5 C521.9 1783.6 522 1783.8 522.1 1783.9" fill="none" stroke-width="2.6" />
<path d="M512 1802.1 C511.9 1802.1 511.7 1802 511.6 1801.9 C511.5 1801.8 511.5 1801.6 511.4 1801.5 C511.3 1801.4 511.3 1801.2 511.2 1801.1 C511.2 1800.9 511.2 1800.8 511.2 1800.6 C511.1 1800.4 511.1 1800.2 511.2 1800 C511.2 1799.8 511.2 1799.6 511.3 1799.4 C511.3 1799.2 511.4 1798.9 511.5 1798.7 C511.5 1798.5 511.6 1798.2 511.7 1798 C511.8 1797.7 511.9 1797.5 512.1 1797.2 C512.2 1796.9 512.4 1796.7 512.5 1796.4 C512.7 1796.1 512.8 1795.9 513 1795.6 C513.2 1795.3 513.4 1795.1 513.6 1794.8 C513.8 1794.5 514 1794.2 514.2 1794 C514.4 1793.7 514.6 1793.4 514.9 1793.2 C515.1 1792.9 515.4 1792.6 515.6 1792.4 C515.9 1792.1 516.1 1791.9 516.4 1791.6 C516.6 1791.4 516.9 1791.1 517.2 1790.9 C517.4 1790.6 517.7 1790.4 518 1790.2 C518.2 1790 518.5 1789.8 518.8 1789.6 C519.1 1789.4 519.3 1789.2 519.6 1789 C519.9 1788.8 520.1 1788.7 520.4 1788.5 C520.7 1788.4 520.9 1788.2 521.2 1788.1 C521.5 1787.9 521.7 1787.8 522 1787.7 C522.2 1787.6 522.5 1787.5 522.7 1787.5 C522.9 1787.4 523.2 1787.3 523.4 1787.3 C523.6 1787.2 523.8 1787.2 524 1787.2 C524.2 1787.1 524.4 1787.1 524.6 1787.2 C524.8 1787.2 524.9 1787.2 525.1 1787.2 C525.2 1787.3 525.4 1787.3 525.5 1787.4 C525.6 1787.5 525.8 1787.5 525.9 1787.6 C526 1787.7 526.1 1787.9 526.1 1788" fill="none" stroke-width="2.6" />
<path d="M516.1 1806.2 C516 1806.2 515.8 1806.1 515.7 1806 C515.6 1805.9 515.5 1805.7 515.5 1805.6 C515.4 1805.5 515.4 1805.3 515.3 1805.2 C515.3 1805 515.3 1804.8 515.2 1804.7 C515.2 1804.5 515.2 1804.3 515.3 1804.1 C515.3 1803.9 515.3 1803.7 515.4 1803.5 C515.4 1803.3 515.5 1803 515.5 1802.8 C515.6 1802.6 515.7 1802.3 515.8 1802.1 C515.9 1801.8 516 1801.6 516.2 1801.3 C516.3 1801 516.4 1800.8 516.6 1800.5 C516.8 1800.2 516.9 1800 517.1 1799.7 C517.3 1799.4 517.5 1799.2 517.7 1798.9 C517.9 1798.6 518.1 1798.3 518.3 1798.1 C518.5 1797.8 518.7 1797.5 519 1797.3 C519.2 1797 519.5 1796.7 519.7 1796.5 C520 1796.2 520.2 1796 520.5 1795.7 C520.7 1795.5 521 1795.2 521.3 1795 C521.5 1794.7 521.8 1794.5 522.1 1794.3 C522.3 1794.1 522.6 1793.9 522.9 1793.7 C523.2 1793.5 523.4 1793.3 523.7 1793.1 C524 1792.9 524.2 1792.8 524.5 1792.6 C524.8 1792.4 525 1792.3 525.3 1792.2 C525.6 1792 525.8 1791.9 526.1 1791.8 C526.3 1791.7 526.6 1791.6 526.8 1791.5 C527 1791.5 527.3 1791.4 527.5 1791.4 C527.7 1791.3 527.9 1791.3 528.1 1791.3 C528.3 1791.2 528.5 1791.2 528.7 1791.2 C528.8 1791.3 529 1791.3 529.2 1791.3 C529.3 1791.4 529.5 1791.4 529.6 1791.5 C529.7 1791.5 529.9 1791.6 530 1791.7 C530.1 1791.8 530.2 1792 530.2 1792.1" fill="none" stroke-width="2.6" />
<path d="M520.1 1810.3 C520.1 1810.3 519.9 1810.2 519.8 1810.1 C519.7 1810 519.6 1809.8 519.6 1809.7 C519.5 1809.6 519.5 1809.4 519.4 1809.3 C519.4 1809.1 519.4 1808.9 519.3 1808.8 C519.3 1808.6 519.3 1808.4 519.4 1808.2 C519.4 1808 519.4 1807.8 519.5 1807.6 C519.5 1807.3 519.6 1807.1 519.6 1806.9 C519.7 1806.6 519.8 1806.4 519.9 1806.2 C520 1805.9 520.1 1805.7 520.3 1805.4 C520.4 1805.1 520.5 1804.9 520.7 1804.6 C520.9 1804.3 521 1804.1 521.2 1803.8 C521.4 1803.5 521.6 1803.2 521.8 1803 C522 1802.7 522.2 1802.4 522.4 1802.2 C522.6 1801.9 522.8 1801.6 523.1 1801.3 C523.3 1801.1 523.6 1800.8 523.8 1800.6 C524 1800.3 524.3 1800 524.6 1799.8 C524.8 1799.6 525.1 1799.3 525.3 1799.1 C525.6 1798.8 525.9 1798.6 526.2 1798.4 C526.4 1798.2 526.7 1798 527 1797.8 C527.2 1797.6 527.5 1797.4 527.8 1797.2 C528.1 1797 528.3 1796.9 528.6 1796.7 C528.9 1796.5 529.1 1796.4 529.4 1796.3 C529.7 1796.1 529.9 1796 530.2 1795.9 C530.4 1795.8 530.6 1795.7 530.9 1795.6 C531.1 1795.6 531.3 1795.5 531.6 1795.5 C531.8 1795.4 532 1795.4 532.2 1795.4 C532.4 1795.3 532.6 1795.3 532.8 1795.3 C532.9 1795.4 533.1 1795.4 533.3 1795.4 C533.4 1795.5 533.6 1795.5 533.7 1795.6 C533.8 1795.6 534 1795.7 534.1 1795.8 C534.2 1795.9 534.3 1796.1 534.3 1796.1" fill="none" stroke-width="2.6" />
<path d="M524.2 1814.4 C524.2 1814.4 524 1814.3 523.9 1814.2 C523.8 1814 523.7 1813.9 523.7 1813.8 C523.6 1813.7 523.6 1813.5 523.5 1813.4 C523.5 1813.2 523.4 1813 523.4 1812.9 C523.4 1812.7 523.4 1812.5 523.5 1812.3 C523.5 1812.1 523.5 1811.9 523.6 1811.7 C523.6 1811.4 523.7 1811.2 523.7 1811 C523.8 1810.7 523.9 1810.5 524 1810.2 C524.1 1810 524.2 1809.7 524.4 1809.5 C524.5 1809.2 524.6 1809 524.8 1808.7 C524.9 1808.4 525.1 1808.2 525.3 1807.9 C525.5 1807.6 525.7 1807.3 525.9 1807.1 C526.1 1806.8 526.3 1806.5 526.5 1806.3 C526.7 1806 526.9 1805.7 527.2 1805.4 C527.4 1805.2 527.6 1804.9 527.9 1804.7 C528.1 1804.4 528.4 1804.1 528.7 1803.9 C528.9 1803.6 529.2 1803.4 529.4 1803.2 C529.7 1802.9 530 1802.7 530.3 1802.5 C530.5 1802.3 530.8 1802.1 531.1 1801.9 C531.3 1801.7 531.6 1801.5 531.9 1801.3 C532.2 1801.1 532.4 1800.9 532.7 1800.8 C533 1800.6 533.2 1800.5 533.5 1800.4 C533.7 1800.2 534 1800.1 534.2 1800 C534.5 1799.9 534.7 1799.8 535 1799.7 C535.2 1799.7 535.4 1799.6 535.7 1799.6 C535.9 1799.5 536.1 1799.5 536.3 1799.5 C536.5 1799.4 536.7 1799.4 536.9 1799.4 C537 1799.4 537.2 1799.5 537.4 1799.5 C537.5 1799.6 537.7 1799.6 537.8 1799.7 C537.9 1799.7 538 1799.8 538.2 1799.9 C538.3 1800 538.4 1800.2 538.4 1800.2" fill="none" stroke-width="2.6" />
<ellipse cx="531" cy="1807" rx="5.7" ry="8" fill="#fff" stroke-width="3.6" transform="rotate(45 531 1807)" />
</g>
</g>
<g id="tensioner">
<path d="M1252.5 826 C1262 828 1282 838 1291 846 C1291 858 1286 872 1279 881 C1273 884 1267 884 1262 882 C1252 874 1246 858 1247.5 848 C1248 838 1250 830 1252.5 826Z" fill="#fff" stroke-width="4.1" />
<path d="M1252.5 826 C1258 836 1276 846 1290 851" fill="none" stroke-width="2.4" />
<line x1="1262" y1="855" x2="1278" y2="852" stroke-width="2.4" />
<path d="M1300 810 L1352 801.5 L1410 791.5 L1421 860 L1352 872 L1304 880Z" fill="#fff" stroke-width="0.1" stroke="none"/>
<line x1="1300" y1="810" x2="1410" y2="791.5" stroke-width="4.1" />
<line x1="1304" y1="880" x2="1421" y2="860" stroke-width="4.1" />
<ellipse cx="1301" cy="845.5" rx="15" ry="35" fill="#fff" stroke-width="4.1" transform="rotate(-8 1301 845.5)" />
<path d="M1296 838 L1303 822 L1322 818" fill="none" stroke-width="3.1" />
<path d="M1296 838 L1300 858 L1310 856 L1312 840" fill="none" stroke-width="2.9" />
<path d="M1304 836 L1314 838 L1316 828 L1332 826 L1318 866" fill="none" stroke-width="3.1" />
<path d="M1316 836 L1328 830 L1320 860" fill="none" stroke-width="2.2" />
<ellipse cx="1321" cy="834" rx="2.5" ry="2.5" fill="none" stroke-width="2.2" />
<path d="M1300 858 L1304 868" fill="none" stroke-width="2.4" />
<path d="M1319.4 809.6 C1319.7 809.7 1320.4 809.9 1320.9 810.2 C1321.4 810.5 1321.9 810.8 1322.3 811.2 C1322.8 811.6 1323.3 812.1 1323.8 812.6 C1324.3 813.1 1324.8 813.7 1325.2 814.4 C1325.7 815 1326.2 815.7 1326.6 816.4 C1327.1 817.2 1327.6 818 1328 818.8 C1328.4 819.7 1328.9 820.6 1329.3 821.5 C1329.7 822.4 1330.1 823.4 1330.5 824.4 C1330.9 825.5 1331.2 826.5 1331.6 827.6 C1331.9 828.7 1332.3 829.8 1332.6 830.9 C1332.9 832.1 1333.2 833.2 1333.4 834.4 C1333.7 835.6 1334 836.8 1334.2 838 C1334.4 839.2 1334.6 840.4 1334.8 841.7 C1335 842.9 1335.1 844.1 1335.3 845.3 C1335.4 846.6 1335.5 847.8 1335.6 849 C1335.7 850.2 1335.7 851.4 1335.7 852.6 C1335.8 853.8 1335.8 855 1335.7 856.1 C1335.7 857.3 1335.7 858.4 1335.6 859.5 C1335.5 860.6 1335.4 861.7 1335.3 862.7 C1335.2 863.8 1335 864.8 1334.8 865.7 C1334.7 866.7 1334.5 867.6 1334.3 868.5 C1334 869.3 1333.8 870.2 1333.5 870.9 C1333.3 871.7 1332.8 872.7 1332.7 873.1" fill="none" stroke-width="2.4" />
<path d="M1348.3 800.3 C1348.5 800.4 1349 800.4 1349.4 800.5 C1349.7 800.6 1350.1 800.8 1350.5 801.1 C1350.9 801.4 1351.3 801.7 1351.7 802.1 C1352 802.5 1352.4 803 1352.8 803.5 C1353.2 804 1353.6 804.6 1354 805.2 C1354.4 805.9 1354.8 806.6 1355.2 807.3 C1355.6 808.1 1355.9 808.9 1356.3 809.7 C1356.7 810.6 1357.1 811.5 1357.4 812.5 C1357.8 813.4 1358.1 814.4 1358.5 815.5 C1358.8 816.5 1359.1 817.6 1359.5 818.7 C1359.8 819.8 1360.1 820.9 1360.4 822.1 C1360.7 823.3 1361 824.5 1361.2 825.7 C1361.5 826.9 1361.7 828.2 1362 829.4 C1362.2 830.7 1362.4 831.9 1362.6 833.2 C1362.8 834.5 1363 835.7 1363.2 837 C1363.3 838.3 1363.5 839.6 1363.6 840.8 C1363.7 842.1 1363.8 843.4 1363.9 844.6 C1364 845.9 1364 847.1 1364.1 848.3 C1364.1 849.5 1364.1 850.7 1364.1 851.8 C1364.1 853 1364.1 854.1 1364.1 855.2 C1364 856.3 1364 857.4 1363.9 858.4 C1363.8 859.4 1363.7 860.4 1363.6 861.3 C1363.4 862.2 1363.3 863.1 1363.1 864 C1363 864.8 1362.8 865.6 1362.6 866.3 C1362.4 867 1362.2 867.7 1361.9 868.3 C1361.7 868.9 1361.5 869.5 1361.2 869.9 C1360.9 870.4 1360.6 870.9 1360.3 871.2 C1360.1 871.6 1359.7 871.9 1359.4 872.1 C1359.1 872.3 1358.6 872.5 1358.4 872.6" fill="none" stroke-width="2.4" />
<path d="M1353.5 799.4 C1353.7 799.5 1354.2 799.5 1354.6 799.6 C1354.9 799.7 1355.3 799.9 1355.7 800.2 C1356.1 800.5 1356.5 800.8 1356.9 801.2 C1357.2 801.6 1357.6 802.1 1358 802.6 C1358.4 803.1 1358.8 803.7 1359.2 804.3 C1359.6 805 1360 805.7 1360.4 806.4 C1360.8 807.2 1361.1 808 1361.5 808.8 C1361.9 809.7 1362.3 810.6 1362.6 811.6 C1363 812.5 1363.3 813.5 1363.7 814.6 C1364 815.6 1364.3 816.7 1364.7 817.8 C1365 818.9 1365.3 820 1365.6 821.2 C1365.9 822.4 1366.2 823.6 1366.4 824.8 C1366.7 826 1366.9 827.3 1367.2 828.5 C1367.4 829.8 1367.6 831 1367.8 832.3 C1368 833.6 1368.2 834.8 1368.4 836.1 C1368.5 837.4 1368.7 838.7 1368.8 839.9 C1368.9 841.2 1369 842.5 1369.1 843.7 C1369.2 845 1369.2 846.2 1369.3 847.4 C1369.3 848.6 1369.3 849.8 1369.3 850.9 C1369.3 852.1 1369.3 853.2 1369.3 854.3 C1369.2 855.4 1369.2 856.5 1369.1 857.5 C1369 858.5 1368.9 859.5 1368.8 860.4 C1368.6 861.3 1368.5 862.2 1368.3 863.1 C1368.2 863.9 1368 864.7 1367.8 865.4 C1367.6 866.1 1367.4 866.8 1367.1 867.4 C1366.9 868 1366.7 868.6 1366.4 869 C1366.1 869.5 1365.8 870 1365.5 870.3 C1365.3 870.7 1364.9 871 1364.6 871.2 C1364.3 871.4 1363.8 871.6 1363.6 871.7" fill="none" stroke-width="2.4" />
<path d="M1358.7 798.5 C1358.9 798.6 1359.4 798.6 1359.8 798.7 C1360.1 798.8 1360.5 799 1360.9 799.3 C1361.3 799.6 1361.7 799.9 1362.1 800.3 C1362.4 800.7 1362.8 801.2 1363.2 801.7 C1363.6 802.2 1364 802.8 1364.4 803.4 C1364.8 804.1 1365.2 804.8 1365.6 805.5 C1366 806.3 1366.3 807.1 1366.7 807.9 C1367.1 808.8 1367.5 809.7 1367.8 810.7 C1368.2 811.6 1368.5 812.6 1368.9 813.7 C1369.2 814.7 1369.5 815.8 1369.9 816.9 C1370.2 818 1370.5 819.1 1370.8 820.3 C1371.1 821.5 1371.4 822.7 1371.6 823.9 C1371.9 825.1 1372.1 826.4 1372.4 827.6 C1372.6 828.9 1372.8 830.1 1373 831.4 C1373.2 832.7 1373.4 833.9 1373.6 835.2 C1373.7 836.5 1373.9 837.8 1374 839 C1374.1 840.3 1374.2 841.6 1374.3 842.8 C1374.4 844.1 1374.4 845.3 1374.5 846.5 C1374.5 847.7 1374.5 848.9 1374.5 850 C1374.5 851.2 1374.5 852.3 1374.5 853.4 C1374.4 854.5 1374.4 855.6 1374.3 856.6 C1374.2 857.6 1374.1 858.6 1374 859.5 C1373.8 860.4 1373.7 861.3 1373.5 862.2 C1373.4 863 1373.2 863.8 1373 864.5 C1372.8 865.2 1372.6 865.9 1372.3 866.5 C1372.1 867.1 1371.9 867.7 1371.6 868.1 C1371.3 868.6 1371 869.1 1370.7 869.4 C1370.5 869.8 1370.1 870.1 1369.8 870.3 C1369.5 870.5 1369 870.7 1368.8 870.8" fill="none" stroke-width="2.4" />
<path d="M1363.9 797.6 C1364.1 797.7 1364.6 797.7 1365 797.8 C1365.3 797.9 1365.7 798.1 1366.1 798.4 C1366.5 798.7 1366.9 799 1367.3 799.4 C1367.6 799.8 1368 800.3 1368.4 800.8 C1368.8 801.3 1369.2 801.9 1369.6 802.5 C1370 803.2 1370.4 803.9 1370.8 804.6 C1371.2 805.4 1371.5 806.2 1371.9 807 C1372.3 807.9 1372.7 808.8 1373 809.8 C1373.4 810.7 1373.7 811.7 1374.1 812.8 C1374.4 813.8 1374.7 814.9 1375.1 816 C1375.4 817.1 1375.7 818.2 1376 819.4 C1376.3 820.6 1376.6 821.8 1376.8 823 C1377.1 824.2 1377.3 825.5 1377.6 826.7 C1377.8 828 1378 829.2 1378.2 830.5 C1378.4 831.8 1378.6 833 1378.8 834.3 C1378.9 835.6 1379.1 836.9 1379.2 838.1 C1379.3 839.4 1379.4 840.7 1379.5 841.9 C1379.6 843.2 1379.6 844.4 1379.7 845.6 C1379.7 846.8 1379.7 848 1379.7 849.1 C1379.7 850.3 1379.7 851.4 1379.7 852.5 C1379.6 853.6 1379.6 854.7 1379.5 855.7 C1379.4 856.7 1379.3 857.7 1379.2 858.6 C1379 859.5 1378.9 860.4 1378.7 861.3 C1378.6 862.1 1378.4 862.9 1378.2 863.6 C1378 864.3 1377.8 865 1377.5 865.6 C1377.3 866.2 1377.1 866.8 1376.8 867.2 C1376.5 867.7 1376.2 868.2 1375.9 868.5 C1375.7 868.9 1375.3 869.2 1375 869.4 C1374.7 869.6 1374.2 869.8 1374 869.9" fill="none" stroke-width="2.4" />
<path d="M1369.1 796.7 C1369.3 796.8 1369.8 796.8 1370.2 796.9 C1370.5 797 1370.9 797.2 1371.3 797.5 C1371.7 797.8 1372.1 798.1 1372.5 798.5 C1372.8 798.9 1373.2 799.4 1373.6 799.9 C1374 800.4 1374.4 801 1374.8 801.6 C1375.2 802.3 1375.6 803 1376 803.7 C1376.4 804.5 1376.7 805.3 1377.1 806.1 C1377.5 807 1377.9 807.9 1378.2 808.9 C1378.6 809.8 1378.9 810.8 1379.3 811.9 C1379.6 812.9 1379.9 814 1380.3 815.1 C1380.6 816.2 1380.9 817.3 1381.2 818.5 C1381.5 819.7 1381.8 820.9 1382 822.1 C1382.3 823.3 1382.5 824.6 1382.8 825.8 C1383 827.1 1383.2 828.3 1383.4 829.6 C1383.6 830.9 1383.8 832.1 1384 833.4 C1384.1 834.7 1384.3 836 1384.4 837.2 C1384.5 838.5 1384.6 839.8 1384.7 841 C1384.8 842.3 1384.8 843.5 1384.9 844.7 C1384.9 845.9 1384.9 847.1 1384.9 848.2 C1384.9 849.4 1384.9 850.5 1384.9 851.6 C1384.8 852.7 1384.8 853.8 1384.7 854.8 C1384.6 855.8 1384.5 856.8 1384.4 857.7 C1384.2 858.6 1384.1 859.5 1383.9 860.4 C1383.8 861.2 1383.6 862 1383.4 862.7 C1383.2 863.4 1383 864.1 1382.7 864.7 C1382.5 865.3 1382.3 865.9 1382 866.3 C1381.7 866.8 1381.4 867.3 1381.1 867.6 C1380.9 868 1380.5 868.3 1380.2 868.5 C1379.9 868.7 1379.4 868.9 1379.2 869" fill="none" stroke-width="2.4" />
<path d="M1374.3 795.8 C1374.5 795.9 1375 795.9 1375.4 796 C1375.7 796.1 1376.1 796.3 1376.5 796.6 C1376.9 796.9 1377.3 797.2 1377.7 797.6 C1378 798 1378.4 798.5 1378.8 799 C1379.2 799.5 1379.6 800.1 1380 800.7 C1380.4 801.4 1380.8 802.1 1381.2 802.8 C1381.6 803.6 1381.9 804.4 1382.3 805.2 C1382.7 806.1 1383.1 807 1383.4 808 C1383.8 808.9 1384.1 809.9 1384.5 811 C1384.8 812 1385.1 813.1 1385.5 814.2 C1385.8 815.3 1386.1 816.4 1386.4 817.6 C1386.7 818.8 1387 820 1387.2 821.2 C1387.5 822.4 1387.7 823.7 1388 824.9 C1388.2 826.2 1388.4 827.4 1388.6 828.7 C1388.8 830 1389 831.2 1389.2 832.5 C1389.3 833.8 1389.5 835.1 1389.6 836.3 C1389.7 837.6 1389.8 838.9 1389.9 840.1 C1390 841.4 1390 842.6 1390.1 843.8 C1390.1 845 1390.1 846.2 1390.1 847.3 C1390.1 848.5 1390.1 849.6 1390.1 850.7 C1390 851.8 1390 852.9 1389.9 853.9 C1389.8 854.9 1389.7 855.9 1389.6 856.8 C1389.4 857.7 1389.3 858.6 1389.1 859.5 C1389 860.3 1388.8 861.1 1388.6 861.8 C1388.4 862.5 1388.2 863.2 1387.9 863.8 C1387.7 864.4 1387.5 865 1387.2 865.4 C1386.9 865.9 1386.6 866.4 1386.3 866.7 C1386.1 867.1 1385.7 867.4 1385.4 867.6 C1385.1 867.8 1384.6 868 1384.4 868.1" fill="none" stroke-width="2.4" />
<path d="M1379.5 794.9 C1379.7 795 1380.2 795 1380.6 795.1 C1380.9 795.2 1381.3 795.4 1381.7 795.7 C1382.1 796 1382.5 796.3 1382.9 796.7 C1383.2 797.1 1383.6 797.6 1384 798.1 C1384.4 798.6 1384.8 799.2 1385.2 799.8 C1385.6 800.5 1386 801.2 1386.4 801.9 C1386.8 802.7 1387.1 803.5 1387.5 804.3 C1387.9 805.2 1388.3 806.1 1388.6 807.1 C1389 808 1389.3 809 1389.7 810.1 C1390 811.1 1390.3 812.2 1390.7 813.3 C1391 814.4 1391.3 815.5 1391.6 816.7 C1391.9 817.9 1392.2 819.1 1392.4 820.3 C1392.7 821.5 1392.9 822.8 1393.2 824 C1393.4 825.3 1393.6 826.5 1393.8 827.8 C1394 829.1 1394.2 830.3 1394.4 831.6 C1394.5 832.9 1394.7 834.2 1394.8 835.4 C1394.9 836.7 1395 838 1395.1 839.2 C1395.2 840.5 1395.2 841.7 1395.3 842.9 C1395.3 844.1 1395.3 845.3 1395.3 846.4 C1395.3 847.6 1395.3 848.7 1395.3 849.8 C1395.2 850.9 1395.2 852 1395.1 853 C1395 854 1394.9 855 1394.8 855.9 C1394.6 856.8 1394.5 857.7 1394.3 858.6 C1394.2 859.4 1394 860.2 1393.8 860.9 C1393.6 861.6 1393.4 862.3 1393.1 862.9 C1392.9 863.5 1392.7 864.1 1392.4 864.5 C1392.1 865 1391.8 865.5 1391.5 865.8 C1391.3 866.2 1390.9 866.5 1390.6 866.7 C1390.3 866.9 1389.8 867.1 1389.6 867.2" fill="none" stroke-width="2.4" />
<path d="M1384.7 794 C1384.9 794.1 1385.4 794.1 1385.8 794.2 C1386.1 794.3 1386.5 794.5 1386.9 794.8 C1387.3 795.1 1387.7 795.4 1388.1 795.8 C1388.4 796.2 1388.8 796.7 1389.2 797.2 C1389.6 797.7 1390 798.3 1390.4 798.9 C1390.8 799.6 1391.2 800.3 1391.6 801 C1392 801.8 1392.3 802.6 1392.7 803.4 C1393.1 804.3 1393.5 805.2 1393.8 806.2 C1394.2 807.1 1394.5 808.1 1394.9 809.2 C1395.2 810.2 1395.5 811.3 1395.9 812.4 C1396.2 813.5 1396.5 814.6 1396.8 815.8 C1397.1 817 1397.4 818.2 1397.6 819.4 C1397.9 820.6 1398.1 821.9 1398.4 823.1 C1398.6 824.4 1398.8 825.6 1399 826.9 C1399.2 828.2 1399.4 829.4 1399.6 830.7 C1399.7 832 1399.9 833.3 1400 834.5 C1400.1 835.8 1400.2 837.1 1400.3 838.3 C1400.4 839.6 1400.4 840.8 1400.5 842 C1400.5 843.2 1400.5 844.4 1400.5 845.5 C1400.5 846.7 1400.5 847.8 1400.5 848.9 C1400.4 850 1400.4 851.1 1400.3 852.1 C1400.2 853.1 1400.1 854.1 1400 855 C1399.8 855.9 1399.7 856.8 1399.5 857.7 C1399.4 858.5 1399.2 859.3 1399 860 C1398.8 860.7 1398.6 861.4 1398.3 862 C1398.1 862.6 1397.9 863.2 1397.6 863.6 C1397.3 864.1 1397 864.6 1396.7 864.9 C1396.5 865.3 1396.1 865.6 1395.8 865.8 C1395.5 866 1395 866.2 1394.8 866.3" fill="none" stroke-width="2.4" />
<path d="M1389.9 793.1 C1390.1 793.2 1390.6 793.2 1391 793.3 C1391.3 793.4 1391.7 793.6 1392.1 793.9 C1392.5 794.2 1392.9 794.5 1393.3 794.9 C1393.6 795.3 1394 795.8 1394.4 796.3 C1394.8 796.8 1395.2 797.4 1395.6 798 C1396 798.7 1396.4 799.4 1396.8 800.1 C1397.2 800.9 1397.5 801.7 1397.9 802.5 C1398.3 803.4 1398.7 804.3 1399 805.3 C1399.4 806.2 1399.7 807.2 1400.1 808.3 C1400.4 809.3 1400.7 810.4 1401.1 811.5 C1401.4 812.6 1401.7 813.7 1402 814.9 C1402.3 816.1 1402.6 817.3 1402.8 818.5 C1403.1 819.7 1403.3 821 1403.6 822.2 C1403.8 823.5 1404 824.7 1404.2 826 C1404.4 827.3 1404.6 828.5 1404.8 829.8 C1404.9 831.1 1405.1 832.4 1405.2 833.6 C1405.3 834.9 1405.4 836.2 1405.5 837.4 C1405.6 838.7 1405.6 839.9 1405.7 841.1 C1405.7 842.3 1405.7 843.5 1405.7 844.6 C1405.7 845.8 1405.7 846.9 1405.7 848 C1405.6 849.1 1405.6 850.2 1405.5 851.2 C1405.4 852.2 1405.3 853.2 1405.2 854.1 C1405 855 1404.9 855.9 1404.7 856.8 C1404.6 857.6 1404.4 858.4 1404.2 859.1 C1404 859.8 1403.8 860.5 1403.5 861.1 C1403.3 861.7 1403.1 862.3 1402.8 862.7 C1402.5 863.2 1402.2 863.7 1401.9 864 C1401.7 864.4 1401.3 864.7 1401 864.9 C1400.7 865.1 1400.2 865.3 1400 865.4" fill="none" stroke-width="2.4" />
<path d="M1396.3 792.8 C1396.5 792.9 1397 792.9 1397.4 793 C1397.7 793.1 1398.1 793.3 1398.5 793.6 C1398.9 793.9 1399.3 794.2 1399.7 794.6 C1400 795 1400.4 795.5 1400.8 796 C1401.2 796.5 1401.6 797.1 1402 797.7 C1402.4 798.4 1402.8 799.1 1403.2 799.8 C1403.6 800.6 1403.9 801.4 1404.3 802.2 C1404.7 803.1 1405.1 804 1405.4 805 C1405.8 805.9 1406.1 806.9 1406.5 808 C1406.8 809 1407.1 810.1 1407.5 811.2 C1407.8 812.3 1408.1 813.4 1408.4 814.6 C1408.7 815.8 1409 817 1409.2 818.2 C1409.5 819.4 1409.7 820.7 1410 821.9 C1410.2 823.2 1410.4 824.4 1410.6 825.7 C1410.8 827 1411 828.2 1411.2 829.5 C1411.3 830.8 1411.5 832.1 1411.6 833.3 C1411.7 834.6 1411.8 835.9 1411.9 837.1 C1412 838.4 1412 839.6 1412.1 840.8 C1412.1 842 1412.1 843.2 1412.1 844.3 C1412.1 845.5 1412.1 846.6 1412.1 847.7 C1412 848.8 1412 849.9 1411.9 850.9 C1411.8 851.9 1411.7 852.9 1411.6 853.8 C1411.4 854.7 1411.3 855.6 1411.1 856.5 C1411 857.3 1410.8 858.1 1410.6 858.8 C1410.4 859.5 1410.2 860.2 1409.9 860.8 C1409.7 861.4 1409.5 862 1409.2 862.4 C1408.9 862.9 1408.6 863.4 1408.3 863.7 C1408.1 864.1 1407.7 864.4 1407.4 864.6 C1407.1 864.8 1406.6 865 1406.4 865.1" fill="none" stroke-width="3.1" />
<ellipse cx="1455" cy="818" rx="22" ry="52" fill="#fff" stroke-width="4.3" transform="rotate(-8 1455 818)" />
<path d="M1428 772 L1455 766 L1462 870 L1435 875Z" fill="#fff" stroke-width="0.1" stroke="none"/>
<line x1="1424" y1="772.5" x2="1451" y2="766.5" stroke-width="4.3" />
<line x1="1438" y1="875" x2="1464" y2="869.5" stroke-width="4.3" />
<ellipse cx="1430" cy="823.5" rx="22" ry="52" fill="#fff" stroke-width="4.3" transform="rotate(-8 1430 823.5)" />
<ellipse cx="1431" cy="824" rx="16" ry="44" fill="none" stroke-width="2.2" transform="rotate(-8 1431 824)" />
<path d="M1442.2 773.5 C1442.6 773.8 1443.7 774.6 1444.5 775.3 C1445.2 776 1445.9 776.8 1446.7 777.6 C1447.4 778.5 1448.1 779.4 1448.8 780.4 C1449.5 781.4 1450.2 782.5 1450.9 783.6 C1451.5 784.8 1452.2 786 1452.8 787.3 C1453.5 788.6 1454.1 790 1454.7 791.4 C1455.3 792.8 1455.8 794.2 1456.4 795.7 C1456.9 797.3 1457.4 798.8 1457.9 800.4 C1458.4 802 1458.9 803.7 1459.3 805.3 C1459.7 807 1460.1 808.7 1460.5 810.4 C1460.8 812.1 1461.1 813.8 1461.4 815.6 C1461.7 817.3 1461.9 819.1 1462.1 820.8 C1462.4 822.6 1462.5 824.4 1462.7 826.1 C1462.8 827.9 1462.9 829.6 1462.9 831.3 C1463 833 1463 834.7 1463 836.4 C1463 838.1 1462.9 839.7 1462.8 841.3 C1462.7 842.9 1462.5 844.5 1462.4 846 C1462.2 847.5 1462 849 1461.7 850.4 C1461.4 851.8 1461.1 853.2 1460.8 854.5 C1460.5 855.8 1460.1 857 1459.7 858.2 C1459.3 859.3 1458.9 860.4 1458.4 861.4 C1458 862.4 1457.5 863.4 1457 864.2 C1456.4 865.1 1455.6 866.2 1455.3 866.6" fill="none" stroke-width="1.9" />
<path d="M1455.4 780.3 C1455.8 780.9 1456.8 782.6 1457.5 783.8 C1458.2 785.1 1458.9 786.4 1459.5 787.8 C1460.2 789.2 1460.8 790.7 1461.4 792.2 C1462 793.7 1462.6 795.3 1463.1 796.9 C1463.7 798.5 1464.2 800.2 1464.6 801.9 C1465.1 803.6 1465.6 805.4 1466 807.1 C1466.4 808.9 1466.7 810.7 1467.1 812.5 C1467.4 814.3 1467.7 816.2 1467.9 818 C1468.2 819.8 1468.4 821.7 1468.5 823.5 C1468.7 825.3 1468.8 827.2 1468.9 829 C1469 830.8 1469 833.4 1469 834.3" fill="none" stroke-width="1.9" />
<path d="M1452 772 L1456 800 L1453 828" fill="none" stroke-width="1.9" />
<ellipse cx="1418" cy="826" rx="11" ry="34" fill="#fff" stroke-width="2.4" transform="rotate(-8 1418 826)" />
<path d="M1409 791.5 L1418 792 L1424 800" fill="none" stroke-width="2.4" />
<path d="M1462 776 L1486 771 L1496 858 L1470 863Z" fill="#fff" stroke-width="0.1" stroke="none"/>
<line x1="1460" y1="776" x2="1486" y2="771" stroke-width="4.3" />
<line x1="1468" y1="863" x2="1494" y2="858.5" stroke-width="4.3" />
<ellipse cx="1489" cy="815" rx="21" ry="44.5" fill="#fff" stroke-width="4.6" transform="rotate(-8 1489 815)" />
<ellipse cx="1610" cy="795" rx="15" ry="21" fill="#fff" stroke-width="4.1" />
<ellipse cx="1610" cy="795" rx="8.5" ry="14.5" fill="none" stroke-width="2.9" />
<ellipse cx="1690" cy="786" rx="24" ry="30" fill="none" stroke-width="3.6" transform="rotate(-10 1690 786)" stroke-dasharray="5 3.5"/>
<ellipse cx="1663" cy="792" rx="16" ry="21" fill="none" stroke-width="3.1" transform="rotate(-10 1663 792)" stroke-dasharray="5 3.5"/>
<path d="M1664 772 L1690 768 L1700 790 L1690 806 L1668 812" fill="none" stroke-width="3.1" stroke-dasharray="5 3.5"/>
<path d="M1678.6 770.2 C1678.8 770.3 1679.4 770.4 1679.7 770.5 C1680.1 770.6 1680.5 770.8 1680.8 770.9 C1681.2 771.1 1681.6 771.3 1681.9 771.6 C1682.3 771.8 1682.7 772.1 1683 772.4 C1683.4 772.7 1683.7 773.1 1684.1 773.4 C1684.4 773.8 1684.7 774.2 1685.1 774.6 C1685.4 775 1685.7 775.5 1686 776 C1686.3 776.4 1686.6 776.9 1686.9 777.4 C1687.1 778 1687.4 778.5 1687.7 779 C1687.9 779.6 1688.1 780.2 1688.4 780.7 C1688.6 781.3 1688.8 781.9 1689 782.5 C1689.1 783.1 1689.3 783.8 1689.5 784.4 C1689.6 785 1689.7 785.6 1689.8 786.3 C1690 786.9 1690.1 787.5 1690.1 788.2 C1690.2 788.8 1690.3 789.4 1690.3 790.1 C1690.3 790.7 1690.3 791.3 1690.3 792 C1690.3 792.6 1690.3 793.2 1690.3 793.8 C1690.2 794.4 1690.1 795 1690.1 795.6 C1690 796.2 1689.9 796.7 1689.8 797.3 C1689.6 797.8 1689.5 798.3 1689.3 798.8 C1689.2 799.3 1689 799.8 1688.8 800.3 C1688.6 800.8 1688.4 801.2 1688.2 801.6 C1687.9 802 1687.7 802.4 1687.4 802.8 C1687.2 803.1 1686.9 803.4 1686.6 803.7 C1686.3 804 1686 804.3 1685.7 804.5 C1685.4 804.8 1684.9 805.1 1684.8 805.2" fill="none" stroke-width="2.9" stroke-dasharray="5 3.5"/>
</g>
<g id="bracket7">
<path d="M569 1844 L561 1858 L560 1872 L565 1885 L575 1893 L595 1894 L607 1886 L618 1873 L636 1849 L638 1836 L650 1829 L669.5 1825 L684 1840 L702 1848 L721.5 1851 L740 1849 L758.6 1843.7 L778 1832 L795.8 1817.7 L812 1800 L825.5 1784 L836.6 1777 L850 1774 L862.6 1773 L870 1788 L877 1797 L885 1803 L896 1808 L907 1808.5 L921 1804 L933 1795.5 L941 1786 L944.4 1777 L943 1766 L937 1758 L927 1753 L914.6 1752.7 L900 1756 L893 1745 L884.9 1738 L862 1734 L840.3 1732.3 L818 1738 L795.8 1747 L782 1762 L769.8 1777 L755 1790 L740 1799 L722 1805 L703 1808.5 L688 1808 L673 1804.8 L656 1797 L639.7 1788 L615 1792 L591.5 1797.3 L580 1808 L572.9 1817.8 L574 1827 L576.6 1836Z" fill="#fff" stroke-width="4.6" />
<path d="M598 1806 C605 1804.3 629.7 1796 640 1796 C650.3 1796 652 1802.7 660 1806 C668 1809.3 677.7 1814.7 688 1816 C698.3 1817.3 711.3 1816.3 722 1814 C732.7 1811.7 743 1806.7 752 1802 C761 1797.3 768.3 1793 776 1786 C783.7 1779 790.7 1766.3 798 1760 C805.3 1753.7 812.7 1751 820 1748 C827.3 1745 834.3 1742.7 842 1742 C849.7 1741.3 859 1743 866 1744 C873 1745 881 1747.3 884 1748" fill="none" stroke-width="2.2" />
<path d="M612 1812 C616.3 1811.3 629.7 1807.3 638 1808 C646.3 1808.7 653.3 1813.3 662 1816 C670.7 1818.7 679.7 1823 690 1824 C700.3 1825 713 1824.3 724 1822 C735 1819.7 746.3 1815 756 1810 C765.7 1805 774 1799 782 1792 C790 1785 797 1774 804 1768 C811 1762 817 1758.7 824 1756 C831 1753.3 839.7 1752.3 846 1752 C852.3 1751.7 859.3 1753.7 862 1754" fill="none" stroke-width="2.9" />
<path d="M694 1836 C698.7 1836.7 712.3 1840.3 722 1840 C731.7 1839.7 742 1838 752 1834 C762 1830 773 1823 782 1816 C791 1809 798.7 1799.7 806 1792 C813.3 1784.3 819.3 1774.7 826 1770 C832.7 1765.3 840 1765 846 1764 C852 1763 859.3 1764 862 1764" fill="none" stroke-width="2.4" />
<path d="M690 1828 C695.3 1828.7 712 1832.3 722 1832 C732 1831.7 740.7 1829.7 750 1826 C759.3 1822.3 769.7 1816.7 778 1810 C786.3 1803.3 793 1793.3 800 1786 C807 1778.7 813 1770.7 820 1766 C827 1761.3 835.3 1759.3 842 1758 C848.7 1756.7 857 1758 860 1758" fill="none" stroke-width="1.9" />
<path d="M592 1820 L598 1806" fill="none" stroke-width="2.4" />
<path d="M596 1836 L592 1820 L604 1812 L612 1812 L616 1832 L608 1846 L604 1838" fill="none" stroke-width="3.1" />
<path d="M604 1838 L600 1822 L606 1818" fill="none" stroke-width="1.9" />
<path d="M616 1832 L636 1826" fill="none" stroke-width="2.6" />
<path d="M577 1838 C578.2 1837.3 581.8 1833.3 584 1834 C586.2 1834.7 589 1840.7 590 1842" fill="none" stroke-width="2.4" />
<path d="M569 1852 C568.5 1854.7 565.5 1862.7 566 1868 C566.5 1873.3 571 1881.3 572 1884" fill="none" stroke-width="2.2" />
<path d="M578 1844 C577 1846.3 572.8 1853.3 572 1858 C571.2 1862.7 572.8 1869.7 573 1872" fill="none" stroke-width="1.9" />
<ellipse cx="588" cy="1869" rx="12" ry="11" fill="none" stroke-width="4.8" transform="rotate(-20 588 1869)" />
<path d="M584.7 1876.7 C584.6 1876.6 584.3 1876.3 584.1 1876.2 C583.9 1876 583.7 1875.8 583.6 1875.6 C583.4 1875.4 583.3 1875.2 583.1 1875 C583 1874.8 582.9 1874.6 582.8 1874.4 C582.7 1874.2 582.6 1873.9 582.5 1873.7 C582.4 1873.5 582.3 1873.2 582.3 1873 C582.2 1872.8 582.2 1872.5 582.1 1872.3 C582.1 1872 582.1 1871.8 582.1 1871.5 C582.1 1871.3 582.1 1871 582.2 1870.8 C582.2 1870.5 582.2 1870.3 582.3 1870 C582.4 1869.8 582.4 1869.5 582.5 1869.3 C582.6 1869 582.7 1868.8 582.8 1868.6 C583 1868.3 583.1 1868.1 583.2 1867.9 C583.4 1867.6 583.5 1867.4 583.7 1867.2 C583.9 1867 584.1 1866.8 584.2 1866.6 C584.4 1866.4 584.6 1866.2 584.8 1866 C585.1 1865.8 585.3 1865.7 585.5 1865.5 C585.7 1865.4 586 1865.2 586.2 1865.1 C586.5 1864.9 586.7 1864.8 587 1864.7 C587.2 1864.6 587.5 1864.5 587.7 1864.4 C588 1864.3 588.3 1864.2 588.6 1864.1 C588.8 1864.1 589.1 1864 589.4 1864 C589.7 1863.9 589.9 1863.9 590.2 1863.9 C590.5 1863.9 590.8 1863.9 591 1863.9 C591.3 1863.9 591.6 1863.9 591.9 1864 C592.1 1864 592.4 1864 592.7 1864.1 C592.9 1864.2 593.2 1864.3 593.4 1864.3 C593.7 1864.4 593.9 1864.5 594.2 1864.6 C594.4 1864.8 594.6 1864.9 594.8 1865 C595.1 1865.2 595.3 1865.3 595.5 1865.5 C595.7 1865.6 595.9 1865.8 596 1866 C596.2 1866.1 596.4 1866.3 596.5 1866.5 C596.7 1866.7 596.8 1866.9 597 1867.1 C597.1 1867.3 597.2 1867.6 597.3 1867.8 C597.4 1868 597.5 1868.2 597.6 1868.5 C597.7 1868.7 597.7 1869 597.8 1869.2 C597.8 1869.4 597.9 1869.7 597.9 1869.9 C597.9 1870.2 597.9 1870.6 597.9 1870.7" fill="none" stroke-width="2.2" />
<path d="M862 1754 L866 1768 L880 1764 L892 1752" fill="none" stroke-width="2.9" />
<path d="M870 1760 L878 1774 L884 1764" fill="none" stroke-width="2.2" />
<path d="M884 1748 C886 1749 892.7 1752 896 1754 C899.3 1756 902.7 1759 904 1760" fill="none" stroke-width="1.9" />
<ellipse cx="917" cy="1780" rx="13" ry="10" fill="none" stroke-width="4.3" transform="rotate(-30 917 1780)" />
<path d="M910.9 1786.4 C910.8 1786.3 910.6 1786.1 910.4 1785.9 C910.3 1785.7 910.2 1785.5 910.1 1785.3 C910 1785.1 909.9 1784.9 909.8 1784.7 C909.7 1784.4 909.7 1784.2 909.6 1784 C909.6 1783.7 909.6 1783.5 909.6 1783.3 C909.6 1783 909.6 1782.8 909.6 1782.5 C909.6 1782.3 909.6 1782 909.7 1781.8 C909.7 1781.5 909.8 1781.3 909.9 1781 C910 1780.8 910.1 1780.5 910.2 1780.3 C910.3 1780 910.4 1779.8 910.5 1779.5 C910.7 1779.3 910.8 1779 911 1778.8 C911.2 1778.5 911.3 1778.3 911.5 1778.1 C911.7 1777.8 911.9 1777.6 912.1 1777.4 C912.4 1777.2 912.6 1777 912.8 1776.8 C913 1776.5 913.3 1776.4 913.5 1776.2 C913.8 1776 914.1 1775.8 914.3 1775.6 C914.6 1775.5 914.9 1775.3 915.1 1775.2 C915.4 1775 915.7 1774.9 916 1774.7 C916.3 1774.6 916.6 1774.5 916.9 1774.4 C917.2 1774.3 917.5 1774.2 917.8 1774.1 C918.1 1774.1 918.4 1774 918.7 1773.9 C919 1773.9 919.3 1773.9 919.5 1773.8 C919.8 1773.8 920.1 1773.8 920.4 1773.8 C920.7 1773.8 921 1773.8 921.2 1773.8 C921.5 1773.9 921.8 1773.9 922.1 1774 C922.3 1774 922.6 1774.1 922.8 1774.2 C923.1 1774.3 923.3 1774.4 923.5 1774.5 C923.7 1774.6 924 1774.7 924.2 1774.8 C924.4 1774.9 924.6 1775.1 924.7 1775.2 C924.9 1775.4 925.1 1775.6 925.2 1775.7 C925.4 1775.9 925.5 1776.1 925.7 1776.3 C925.8 1776.5 925.9 1776.7 926 1776.9 C926.1 1777.1 926.2 1777.3 926.2 1777.5 C926.3 1777.7 926.3 1778 926.4 1778.2 C926.4 1778.4 926.4 1778.7 926.4 1778.9 C926.4 1779.2 926.4 1779.4 926.4 1779.7 C926.4 1779.9 926.3 1780.2 926.3 1780.4 C926.2 1780.7 926.1 1781 926.1 1781.2" fill="none" stroke-width="2.2" />
</g>
<g id="guide4">
<path d="M506 103.5 L530 104 L576 106.5 L621 105 L636 110 L703 111 L710 106 L742 106.5 L750 111 L822 112 L826 108 L855.5 105 L953.6 105 L975 112 L989 121.5 L987 130 L983 135 L950 142 L915 150 L885 139 L880 131 L852 130 L848 137 L847 154 L638.6 154 L630 149.7 L600 147.5 L563 145 L537.5 138 L520 130 L505 121.5Z" fill="#fff" stroke-width="4.6" />
<path d="M506 103.5 L512 110 L520 110 L523 124 L537 124 L537.5 138" fill="none" stroke-width="2.9" />
<path d="M520 110 L560 112" fill="none" stroke-width="2.2" />
<path d="M535 116 L560 114 L563 118" fill="none" stroke-width="2.6" />
<path d="M537 124 L568 123 L568 144" fill="none" stroke-width="2.9" />
<path d="M568 123 L594 122 L596 130 L630 141 L632 149" fill="none" stroke-width="2.9" />
<path d="M596 130 L598 136 L628 145" fill="none" stroke-width="1.9" />
<path d="M621 105 L641.6 115.5 L653.4 133 L730 133 L740 136" fill="none" stroke-width="3.6" />
<path d="M703 111 L728 130 L740 136 L744 128 L724 111" fill="none" stroke-width="3.1" />
<path d="M710 106 L735 126" fill="none" stroke-width="1.9" />
<path d="M750 111 L766 118 L776 133 L847 133" fill="none" stroke-width="3.6" />
<path d="M826 108 L848 124 L852 130" fill="none" stroke-width="2.9" />
<path d="M832 108 L853 122" fill="none" stroke-width="1.9" />
<path d="M838 107 L858 120" fill="none" stroke-width="1.9" />
<path d="M640 142 L846 142" fill="none" stroke-width="2.2" />
<path d="M660 146.5 L740 146.5" fill="none" stroke-width="2.9" />
<path d="M790 147 L846 147" fill="none" stroke-width="2.9" />
<path d="M847 133 L847 154" fill="none" stroke-width="3.1" />
<path d="M847 133 L858 128 L880 131" fill="none" stroke-width="2.4" />
<path d="M885 139 L880 131 L884 127 L905 127" fill="none" stroke-width="2.6" />
<path d="M905 127 L915 131 L983 126" fill="none" stroke-width="2.4" />
<rect x="896" y="112" width="60" height="10" rx="5" ry="5" fill="none" stroke-width="3.4" transform="rotate(-0.5 926 117)"/>
<path d="M902 118.5 L950 118" fill="none" stroke-width="1.9" />
</g>
<g id="chain-front">
<path d="M612.4 222.9 L635.4 217.9 A11.2 11.2 0 0 0 630.6 196.1 L607.6 201.1 A11.2 11.2 0 0 0 612.4 222.9Z" fill="#fff" stroke-width="3.6" />
<path d="M611.8 220.1 L634.8 215.1 A8.3 8.3 0 0 0 631.2 198.9 L608.2 203.9 A8.3 8.3 0 0 0 611.8 220.1Z" fill="none" stroke-width="1.9" />
<circle cx="610" cy="212" r="4.7" fill="none" stroke-width="2" stroke-dasharray="24 5.5" transform="rotate(0 610 212)"/>
<circle cx="633" cy="207" r="4.7" fill="none" stroke-width="2" stroke-dasharray="24 5.5" transform="rotate(140 633 207)"/>
<path d="M659.5 219.2 L683.5 218.2 A11.2 11.2 0 0 0 682.5 195.8 L658.5 196.8 A11.2 11.2 0 0 0 659.5 219.2Z" fill="#fff" stroke-width="3.6" />
<path d="M659.3 216.3 L683.3 215.3 A8.3 8.3 0 0 0 682.7 198.7 L658.7 199.7 A8.3 8.3 0 0 0 659.3 216.3Z" fill="none" stroke-width="1.9" />
<circle cx="659" cy="208" r="4.7" fill="none" stroke-width="2" stroke-dasharray="24 5.5" transform="rotate(106 659 208)"/>
<circle cx="683" cy="207" r="4.7" fill="none" stroke-width="2" stroke-dasharray="24 5.5" transform="rotate(246 683 207)"/>
<path d="M708 217.2 L731 217.2 A11.2 11.2 0 0 0 731 194.8 L708 194.8 A11.2 11.2 0 0 0 708 217.2Z" fill="#fff" stroke-width="3.6" />
<path d="M708 214.3 L731 214.3 A8.3 8.3 0 0 0 731 197.7 L708 197.7 A8.3 8.3 0 0 0 708 214.3Z" fill="none" stroke-width="1.9" />
<circle cx="708" cy="206" r="4.7" fill="none" stroke-width="2" stroke-dasharray="24 5.5" transform="rotate(212 708 206)"/>
<circle cx="731" cy="206" r="4.7" fill="none" stroke-width="2" stroke-dasharray="24 5.5" transform="rotate(352 731 206)"/>
<path d="M754 216.2 L778 216.2 A11.2 11.2 0 0 0 778 193.8 L754 193.8 A11.2 11.2 0 0 0 754 216.2Z" fill="#fff" stroke-width="3.6" />
<path d="M754 213.3 L778 213.3 A8.3 8.3 0 0 0 778 196.7 L754 196.7 A8.3 8.3 0 0 0 754 213.3Z" fill="none" stroke-width="1.9" />
<circle cx="754" cy="205" r="4.7" fill="none" stroke-width="2" stroke-dasharray="24 5.5" transform="rotate(318 754 205)"/>
<circle cx="778" cy="205" r="4.7" fill="none" stroke-width="2" stroke-dasharray="24 5.5" transform="rotate(98 778 205)"/>
<path d="M801 215.2 L825 215.2 A11.2 11.2 0 0 0 825 192.8 L801 192.8 A11.2 11.2 0 0 0 801 215.2Z" fill="#fff" stroke-width="3.6" />
<path d="M801 212.3 L825 212.3 A8.3 8.3 0 0 0 825 195.7 L801 195.7 A8.3 8.3 0 0 0 801 212.3Z" fill="none" stroke-width="1.9" />
<circle cx="801" cy="204" r="4.7" fill="none" stroke-width="2" stroke-dasharray="24 5.5" transform="rotate(64 801 204)"/>
<circle cx="825" cy="204" r="4.7" fill="none" stroke-width="2" stroke-dasharray="24 5.5" transform="rotate(204 825 204)"/>
<path d="M849 214.2 L872 214.2 A11.2 11.2 0 0 0 872 191.8 L849 191.8 A11.2 11.2 0 0 0 849 214.2Z" fill="#fff" stroke-width="3.6" />
<path d="M849 211.3 L872 211.3 A8.3 8.3 0 0 0 872 194.7 L849 194.7 A8.3 8.3 0 0 0 849 211.3Z" fill="none" stroke-width="1.9" />
<circle cx="849" cy="203" r="4.7" fill="none" stroke-width="2" stroke-dasharray="24 5.5" transform="rotate(170 849 203)"/>
<circle cx="872" cy="203" r="4.7" fill="none" stroke-width="2" stroke-dasharray="24 5.5" transform="rotate(310 872 203)"/>
<path d="M897 213.2 L920 213.2 A11.2 11.2 0 0 0 920 190.8 L897 190.8 A11.2 11.2 0 0 0 897 213.2Z" fill="#fff" stroke-width="3.6" />
<path d="M897 210.3 L920 210.3 A8.3 8.3 0 0 0 920 193.7 L897 193.7 A8.3 8.3 0 0 0 897 210.3Z" fill="none" stroke-width="1.9" />
<circle cx="897" cy="202" r="4.7" fill="none" stroke-width="2" stroke-dasharray="24 5.5" transform="rotate(276 897 202)"/>
<circle cx="920" cy="202" r="4.7" fill="none" stroke-width="2" stroke-dasharray="24 5.5" transform="rotate(56 920 202)"/>
<path d="M944.5 212.2 L967.5 211.2 A11.2 11.2 0 0 0 966.5 188.8 L943.5 189.8 A11.2 11.2 0 0 0 944.5 212.2Z" fill="#fff" stroke-width="3.6" />
<path d="M944.4 209.3 L967.4 208.3 A8.3 8.3 0 0 0 966.6 191.7 L943.6 192.7 A8.3 8.3 0 0 0 944.4 209.3Z" fill="none" stroke-width="1.9" />
<circle cx="944" cy="201" r="4.7" fill="none" stroke-width="2" stroke-dasharray="24 5.5" transform="rotate(22 944 201)"/>
<circle cx="967" cy="200" r="4.7" fill="none" stroke-width="2" stroke-dasharray="24 5.5" transform="rotate(162 967 200)"/>
<path d="M993 211.2 L1016 211.2 A11.2 11.2 0 0 0 1016 188.8 L993 188.8 A11.2 11.2 0 0 0 993 211.2Z" fill="#fff" stroke-width="3.6" />
<path d="M993 208.3 L1016 208.3 A8.3 8.3 0 0 0 1016 191.7 L993 191.7 A8.3 8.3 0 0 0 993 208.3Z" fill="none" stroke-width="1.9" />
<circle cx="993" cy="200" r="4.7" fill="none" stroke-width="2" stroke-dasharray="24 5.5" transform="rotate(128 993 200)"/>
<circle cx="1016" cy="200" r="4.7" fill="none" stroke-width="2" stroke-dasharray="24 5.5" transform="rotate(268 1016 200)"/>
<path d="M1038.9 214.1 L1059.9 216.1 A11.2 11.2 0 0 0 1062.1 193.9 L1041.1 191.9 A11.2 11.2 0 0 0 1038.9 214.1Z" fill="#fff" stroke-width="3.6" />
<path d="M1039.2 211.3 L1060.2 213.3 A8.3 8.3 0 0 0 1061.8 196.7 L1040.8 194.7 A8.3 8.3 0 0 0 1039.2 211.3Z" fill="none" stroke-width="1.9" />
<circle cx="1040" cy="203" r="4.7" fill="none" stroke-width="2" stroke-dasharray="24 5.5" transform="rotate(234 1040 203)"/>
<circle cx="1061" cy="205" r="4.7" fill="none" stroke-width="2" stroke-dasharray="24 5.5" transform="rotate(14 1061 205)"/>
<path d="M1078.5 219.2 L1096.5 227.2 A11.2 11.2 0 0 0 1105.5 206.8 L1087.5 198.8 A11.2 11.2 0 0 0 1078.5 219.2Z" fill="#fff" stroke-width="3.6" />
<path d="M1079.6 216.6 L1097.6 224.6 A8.3 8.3 0 0 0 1104.4 209.4 L1086.4 201.4 A8.3 8.3 0 0 0 1079.6 216.6Z" fill="none" stroke-width="1.9" />
<circle cx="1083" cy="209" r="4.7" fill="none" stroke-width="2" stroke-dasharray="24 5.5" transform="rotate(340 1083 209)"/>
<circle cx="1101" cy="217" r="4.7" fill="none" stroke-width="2" stroke-dasharray="24 5.5" transform="rotate(120 1101 217)"/>
<path d="M1110.7 241.5 L1125.7 254.5 A11.2 11.2 0 0 0 1140.3 237.5 L1125.3 224.5 A11.2 11.2 0 0 0 1110.7 241.5Z" fill="#fff" stroke-width="3.6" />
<path d="M1112.6 239.3 L1127.6 252.3 A8.3 8.3 0 0 0 1138.4 239.7 L1123.4 226.7 A8.3 8.3 0 0 0 1112.6 239.3Z" fill="none" stroke-width="1.9" />
<circle cx="1118" cy="233" r="4.7" fill="none" stroke-width="2" stroke-dasharray="24 5.5" transform="rotate(86 1118 233)"/>
<circle cx="1133" cy="246" r="4.7" fill="none" stroke-width="2" stroke-dasharray="24 5.5" transform="rotate(226 1133 246)"/>
<path d="M1138 270 L1148 290 A11.2 11.2 0 0 0 1168 280 L1158 260 A11.2 11.2 0 0 0 1138 270Z" fill="#fff" stroke-width="3.6" />
<path d="M1140.6 268.7 L1150.6 288.7 A8.3 8.3 0 0 0 1165.4 281.3 L1155.4 261.3 A8.3 8.3 0 0 0 1140.6 268.7Z" fill="none" stroke-width="1.9" />
<circle cx="1148" cy="265" r="4.7" fill="none" stroke-width="2" stroke-dasharray="24 5.5" transform="rotate(192 1148 265)"/>
<circle cx="1158" cy="285" r="4.7" fill="none" stroke-width="2" stroke-dasharray="24 5.5" transform="rotate(332 1158 285)"/>
<path d="M1155.1 310.6 L1160.1 331.6 A11.2 11.2 0 0 0 1181.9 326.4 L1176.9 305.4 A11.2 11.2 0 0 0 1155.1 310.6Z" fill="#fff" stroke-width="3.6" />
<path d="M1157.9 309.9 L1162.9 330.9 A8.3 8.3 0 0 0 1179.1 327.1 L1174.1 306.1 A8.3 8.3 0 0 0 1157.9 309.9Z" fill="none" stroke-width="1.9" />
<circle cx="1166" cy="308" r="4.7" fill="none" stroke-width="2" stroke-dasharray="24 5.5" transform="rotate(298 1166 308)"/>
<circle cx="1171" cy="329" r="4.7" fill="none" stroke-width="2" stroke-dasharray="24 5.5" transform="rotate(78 1171 329)"/>
<path d="M1161.8 358.7 L1162.8 375.7 A11.2 11.2 0 0 0 1185.2 374.3 L1184.2 357.3 A11.2 11.2 0 0 0 1161.8 358.7Z" fill="#fff" stroke-width="3.6" />
<path d="M1164.7 358.5 L1165.7 375.5 A8.3 8.3 0 0 0 1182.3 374.5 L1181.3 357.5 A8.3 8.3 0 0 0 1164.7 358.5Z" fill="none" stroke-width="1.9" />
<circle cx="1173" cy="358" r="4.7" fill="none" stroke-width="2" stroke-dasharray="24 5.5" transform="rotate(44 1173 358)"/>
<circle cx="1174" cy="375" r="4.7" fill="none" stroke-width="2" stroke-dasharray="24 5.5" transform="rotate(184 1174 375)"/>
<path d="M1161.1 399.6 L1156.1 422.6 A11.2 11.2 0 0 0 1177.9 427.4 L1182.9 404.4 A11.2 11.2 0 0 0 1161.1 399.6Z" fill="#fff" stroke-width="3.6" />
<path d="M1163.9 400.2 L1158.9 423.2 A8.3 8.3 0 0 0 1175.1 426.8 L1180.1 403.8 A8.3 8.3 0 0 0 1163.9 400.2Z" fill="none" stroke-width="1.9" />
<circle cx="1172" cy="402" r="4.7" fill="none" stroke-width="2" stroke-dasharray="24 5.5" transform="rotate(150 1172 402)"/>
<circle cx="1167" cy="425" r="4.7" fill="none" stroke-width="2" stroke-dasharray="24 5.5" transform="rotate(290 1167 425)"/>
<path d="M1150.8 445.5 L1138.8 472.5 A11.2 11.2 0 0 0 1159.2 481.5 L1171.2 454.5 A11.2 11.2 0 0 0 1150.8 445.5Z" fill="#fff" stroke-width="3.6" />
<path d="M1153.4 446.6 L1141.4 473.6 A8.3 8.3 0 0 0 1156.6 480.4 L1168.6 453.4 A8.3 8.3 0 0 0 1153.4 446.6Z" fill="none" stroke-width="1.9" />
<circle cx="1161" cy="450" r="4.7" fill="none" stroke-width="2" stroke-dasharray="24 5.5" transform="rotate(256 1161 450)"/>
<circle cx="1149" cy="477" r="4.7" fill="none" stroke-width="2" stroke-dasharray="24 5.5" transform="rotate(36 1149 477)"/>
<path d="M1128.4 492.8 L1112.4 511.8 A11.2 11.2 0 0 0 1129.6 526.2 L1145.6 507.2 A11.2 11.2 0 0 0 1128.4 492.8Z" fill="#fff" stroke-width="3.6" />
<path d="M1130.7 494.7 L1114.7 513.7 A8.3 8.3 0 0 0 1127.3 524.3 L1143.3 505.3 A8.3 8.3 0 0 0 1130.7 494.7Z" fill="none" stroke-width="1.9" />
<circle cx="1137" cy="500" r="4.7" fill="none" stroke-width="2" stroke-dasharray="24 5.5" transform="rotate(2 1137 500)"/>
<circle cx="1121" cy="519" r="4.7" fill="none" stroke-width="2" stroke-dasharray="24 5.5" transform="rotate(142 1121 519)"/>
<path d="M1098.7 528.5 L1080.7 548.5 A11.2 11.2 0 0 0 1097.3 563.5 L1115.3 543.5 A11.2 11.2 0 0 0 1098.7 528.5Z" fill="#fff" stroke-width="3.6" />
<path d="M1100.8 530.4 L1082.8 550.4 A8.3 8.3 0 0 0 1095.2 561.6 L1113.2 541.6 A8.3 8.3 0 0 0 1100.8 530.4Z" fill="none" stroke-width="1.9" />
<circle cx="1107" cy="536" r="4.7" fill="none" stroke-width="2" stroke-dasharray="24 5.5" transform="rotate(108 1107 536)"/>
<circle cx="1089" cy="556" r="4.7" fill="none" stroke-width="2" stroke-dasharray="24 5.5" transform="rotate(248 1089 556)"/>
<path d="M1064.7 568.7 L1049.7 590.7 A11.2 11.2 0 0 0 1068.3 603.3 L1083.3 581.3 A11.2 11.2 0 0 0 1064.7 568.7Z" fill="#fff" stroke-width="3.6" />
<path d="M1067.1 570.3 L1052.1 592.3 A8.3 8.3 0 0 0 1065.9 601.7 L1080.9 579.7 A8.3 8.3 0 0 0 1067.1 570.3Z" fill="none" stroke-width="1.9" />
<circle cx="1074" cy="575" r="4.7" fill="none" stroke-width="2" stroke-dasharray="24 5.5" transform="rotate(214 1074 575)"/>
<circle cx="1059" cy="597" r="4.7" fill="none" stroke-width="2" stroke-dasharray="24 5.5" transform="rotate(354 1059 597)"/>
<path d="M1035.5 612.1 L1020.5 636.1 A11.2 11.2 0 0 0 1039.5 647.9 L1054.5 623.9 A11.2 11.2 0 0 0 1035.5 612.1Z" fill="#fff" stroke-width="3.6" />
<path d="M1038 613.6 L1023 637.6 A8.3 8.3 0 0 0 1037 646.4 L1052 622.4 A8.3 8.3 0 0 0 1038 613.6Z" fill="none" stroke-width="1.9" />
<circle cx="1045" cy="618" r="4.7" fill="none" stroke-width="2" stroke-dasharray="24 5.5" transform="rotate(320 1045 618)"/>
<circle cx="1030" cy="642" r="4.7" fill="none" stroke-width="2" stroke-dasharray="24 5.5" transform="rotate(100 1030 642)"/>
<path d="M1007.2 658.5 L994.2 681.5 A11.2 11.2 0 0 0 1013.8 692.5 L1026.8 669.5 A11.2 11.2 0 0 0 1007.2 658.5Z" fill="#fff" stroke-width="3.6" />
<path d="M1009.8 659.9 L996.8 682.9 A8.3 8.3 0 0 0 1011.2 691.1 L1024.2 668.1 A8.3 8.3 0 0 0 1009.8 659.9Z" fill="none" stroke-width="1.9" />
<circle cx="1017" cy="664" r="4.7" fill="none" stroke-width="2" stroke-dasharray="24 5.5" transform="rotate(66 1017 664)"/>
<circle cx="1004" cy="687" r="4.7" fill="none" stroke-width="2" stroke-dasharray="24 5.5" transform="rotate(206 1004 687)"/>
<path d="M982.4 704.3 L969.4 726.3 A11.2 11.2 0 0 0 988.6 737.7 L1001.6 715.7 A11.2 11.2 0 0 0 982.4 704.3Z" fill="#fff" stroke-width="3.6" />
<path d="M984.9 705.8 L971.9 727.8 A8.3 8.3 0 0 0 986.1 736.2 L999.1 714.2 A8.3 8.3 0 0 0 984.9 705.8Z" fill="none" stroke-width="1.9" />
<circle cx="992" cy="710" r="4.7" fill="none" stroke-width="2" stroke-dasharray="24 5.5" transform="rotate(172 992 710)"/>
<circle cx="979" cy="732" r="4.7" fill="none" stroke-width="2" stroke-dasharray="24 5.5" transform="rotate(312 979 732)"/>
<path d="M957.9 750.2 L946.9 773.2 A11.2 11.2 0 0 0 967.1 782.8 L978.1 759.8 A11.2 11.2 0 0 0 957.9 750.2Z" fill="#fff" stroke-width="3.6" />
<path d="M960.5 751.4 L949.5 774.4 A8.3 8.3 0 0 0 964.5 781.6 L975.5 758.6 A8.3 8.3 0 0 0 960.5 751.4Z" fill="none" stroke-width="1.9" />
<circle cx="968" cy="755" r="4.7" fill="none" stroke-width="2" stroke-dasharray="24 5.5" transform="rotate(278 968 755)"/>
<circle cx="957" cy="778" r="4.7" fill="none" stroke-width="2" stroke-dasharray="24 5.5" transform="rotate(58 957 778)"/>
<path d="M936.7 799.7 L928.7 818.7 A11.2 11.2 0 0 0 949.3 827.3 L957.3 808.3 A11.2 11.2 0 0 0 936.7 799.7Z" fill="#fff" stroke-width="3.6" />
<path d="M939.4 800.8 L931.4 819.8 A8.3 8.3 0 0 0 946.6 826.2 L954.6 807.2 A8.3 8.3 0 0 0 939.4 800.8Z" fill="none" stroke-width="1.9" />
<circle cx="947" cy="804" r="4.7" fill="none" stroke-width="2" stroke-dasharray="24 5.5" transform="rotate(24 947 804)"/>
<circle cx="939" cy="823" r="4.7" fill="none" stroke-width="2" stroke-dasharray="24 5.5" transform="rotate(164 939 823)"/>
<path d="M919.5 842 L911.5 863 A11.2 11.2 0 0 0 932.5 871 L940.5 850 A11.2 11.2 0 0 0 919.5 842Z" fill="#fff" stroke-width="3.6" />
<path d="M922.2 843 L914.2 864 A8.3 8.3 0 0 0 929.8 870 L937.8 849 A8.3 8.3 0 0 0 922.2 843Z" fill="none" stroke-width="1.9" />
<circle cx="930" cy="846" r="4.7" fill="none" stroke-width="2" stroke-dasharray="24 5.5" transform="rotate(130 930 846)"/>
<circle cx="922" cy="867" r="4.7" fill="none" stroke-width="2" stroke-dasharray="24 5.5" transform="rotate(270 922 867)"/>
<path d="M903.5 886 L895.5 907 A11.2 11.2 0 0 0 916.5 915 L924.5 894 A11.2 11.2 0 0 0 903.5 886Z" fill="#fff" stroke-width="3.6" />
<path d="M906.2 887 L898.2 908 A8.3 8.3 0 0 0 913.8 914 L921.8 893 A8.3 8.3 0 0 0 906.2 887Z" fill="none" stroke-width="1.9" />
<circle cx="914" cy="890" r="4.7" fill="none" stroke-width="2" stroke-dasharray="24 5.5" transform="rotate(236 914 890)"/>
<circle cx="906" cy="911" r="4.7" fill="none" stroke-width="2" stroke-dasharray="24 5.5" transform="rotate(16 906 911)"/>
<path d="M888.3 932.6 L881.3 954.6 A11.2 11.2 0 0 0 902.7 961.4 L909.7 939.4 A11.2 11.2 0 0 0 888.3 932.6Z" fill="#fff" stroke-width="3.6" />
<path d="M891.1 933.5 L884.1 955.5 A8.3 8.3 0 0 0 899.9 960.5 L906.9 938.5 A8.3 8.3 0 0 0 891.1 933.5Z" fill="none" stroke-width="1.9" />
<circle cx="899" cy="936" r="4.7" fill="none" stroke-width="2" stroke-dasharray="24 5.5" transform="rotate(342 899 936)"/>
<circle cx="892" cy="958" r="4.7" fill="none" stroke-width="2" stroke-dasharray="24 5.5" transform="rotate(122 892 958)"/>
<path d="M875.2 980.1 L869.2 1002.1 A11.2 11.2 0 0 0 890.8 1007.9 L896.8 985.9 A11.2 11.2 0 0 0 875.2 980.1Z" fill="#fff" stroke-width="3.6" />
<path d="M878 980.8 L872 1002.8 A8.3 8.3 0 0 0 888 1007.2 L894 985.2 A8.3 8.3 0 0 0 878 980.8Z" fill="none" stroke-width="1.9" />
<circle cx="886" cy="983" r="4.7" fill="none" stroke-width="2" stroke-dasharray="24 5.5" transform="rotate(88 886 983)"/>
<circle cx="880" cy="1005" r="4.7" fill="none" stroke-width="2" stroke-dasharray="24 5.5" transform="rotate(228 880 1005)"/>
<path d="M863.2 1027.2 L857.2 1050.2 A11.2 11.2 0 0 0 878.8 1055.8 L884.8 1032.8 A11.2 11.2 0 0 0 863.2 1027.2Z" fill="#fff" stroke-width="3.6" />
<path d="M866 1027.9 L860 1050.9 A8.3 8.3 0 0 0 876 1055.1 L882 1032.1 A8.3 8.3 0 0 0 866 1027.9Z" fill="none" stroke-width="1.9" />
<circle cx="874" cy="1030" r="4.7" fill="none" stroke-width="2" stroke-dasharray="24 5.5" transform="rotate(194 874 1030)"/>
<circle cx="868" cy="1053" r="4.7" fill="none" stroke-width="2" stroke-dasharray="24 5.5" transform="rotate(334 868 1053)"/>
<path d="M853 1074.7 L848 1098.7 A11.2 11.2 0 0 0 870 1103.3 L875 1079.3 A11.2 11.2 0 0 0 853 1074.7Z" fill="#fff" stroke-width="3.6" />
<path d="M855.9 1075.3 L850.9 1099.3 A8.3 8.3 0 0 0 867.1 1102.7 L872.1 1078.7 A8.3 8.3 0 0 0 855.9 1075.3Z" fill="none" stroke-width="1.9" />
<circle cx="864" cy="1077" r="4.7" fill="none" stroke-width="2" stroke-dasharray="24 5.5" transform="rotate(300 864 1077)"/>
<circle cx="859" cy="1101" r="4.7" fill="none" stroke-width="2" stroke-dasharray="24 5.5" transform="rotate(80 859 1101)"/>
<path d="M845.1 1123.6 L840.1 1146.6 A11.2 11.2 0 0 0 861.9 1151.4 L866.9 1128.4 A11.2 11.2 0 0 0 845.1 1123.6Z" fill="#fff" stroke-width="3.6" />
<path d="M847.9 1124.2 L842.9 1147.2 A8.3 8.3 0 0 0 859.1 1150.8 L864.1 1127.8 A8.3 8.3 0 0 0 847.9 1124.2Z" fill="none" stroke-width="1.9" />
<circle cx="856" cy="1126" r="4.7" fill="none" stroke-width="2" stroke-dasharray="24 5.5" transform="rotate(46 856 1126)"/>
<circle cx="851" cy="1149" r="4.7" fill="none" stroke-width="2" stroke-dasharray="24 5.5" transform="rotate(186 851 1149)"/>
<path d="M838 1172 L834 1194 A11.2 11.2 0 0 0 856 1198 L860 1176 A11.2 11.2 0 0 0 838 1172Z" fill="#fff" stroke-width="3.6" />
<path d="M840.8 1172.5 L836.8 1194.5 A8.3 8.3 0 0 0 853.2 1197.5 L857.2 1175.5 A8.3 8.3 0 0 0 840.8 1172.5Z" fill="none" stroke-width="1.9" />
<circle cx="849" cy="1174" r="4.7" fill="none" stroke-width="2" stroke-dasharray="24 5.5" transform="rotate(152 849 1174)"/>
<circle cx="845" cy="1196" r="4.7" fill="none" stroke-width="2" stroke-dasharray="24 5.5" transform="rotate(292 845 1196)"/>
<path d="M832 1219.2 L828 1243.2 A11.2 11.2 0 0 0 850 1246.8 L854 1222.8 A11.2 11.2 0 0 0 832 1219.2Z" fill="#fff" stroke-width="3.6" />
<path d="M834.8 1219.6 L830.8 1243.6 A8.3 8.3 0 0 0 847.2 1246.4 L851.2 1222.4 A8.3 8.3 0 0 0 834.8 1219.6Z" fill="none" stroke-width="1.9" />
<circle cx="843" cy="1221" r="4.7" fill="none" stroke-width="2" stroke-dasharray="24 5.5" transform="rotate(258 843 1221)"/>
<circle cx="839" cy="1245" r="4.7" fill="none" stroke-width="2" stroke-dasharray="24 5.5" transform="rotate(38 839 1245)"/>
<path d="M825.9 1267.5 L822.9 1289.5 A11.2 11.2 0 0 0 845.1 1292.5 L848.1 1270.5 A11.2 11.2 0 0 0 825.9 1267.5Z" fill="#fff" stroke-width="3.6" />
<path d="M828.8 1267.9 L825.8 1289.9 A8.3 8.3 0 0 0 842.2 1292.1 L845.2 1270.1 A8.3 8.3 0 0 0 828.8 1267.9Z" fill="none" stroke-width="1.9" />
<circle cx="837" cy="1269" r="4.7" fill="none" stroke-width="2" stroke-dasharray="24 5.5" transform="rotate(4 837 1269)"/>
<circle cx="834" cy="1291" r="4.7" fill="none" stroke-width="2" stroke-dasharray="24 5.5" transform="rotate(144 834 1291)"/>
<path d="M820.9 1315.5 L817.9 1337.5 A11.2 11.2 0 0 0 840.1 1340.5 L843.1 1318.5 A11.2 11.2 0 0 0 820.9 1315.5Z" fill="#fff" stroke-width="3.6" />
<path d="M823.8 1315.9 L820.8 1337.9 A8.3 8.3 0 0 0 837.2 1340.1 L840.2 1318.1 A8.3 8.3 0 0 0 823.8 1315.9Z" fill="none" stroke-width="1.9" />
<circle cx="832" cy="1317" r="4.7" fill="none" stroke-width="2" stroke-dasharray="24 5.5" transform="rotate(110 832 1317)"/>
<circle cx="829" cy="1339" r="4.7" fill="none" stroke-width="2" stroke-dasharray="24 5.5" transform="rotate(250 829 1339)"/>
<path d="M816.9 1364.5 L813.9 1386.5 A11.2 11.2 0 0 0 836.1 1389.5 L839.1 1367.5 A11.2 11.2 0 0 0 816.9 1364.5Z" fill="#fff" stroke-width="3.6" />
<path d="M819.8 1364.9 L816.8 1386.9 A8.3 8.3 0 0 0 833.2 1389.1 L836.2 1367.1 A8.3 8.3 0 0 0 819.8 1364.9Z" fill="none" stroke-width="1.9" />
<circle cx="828" cy="1366" r="4.7" fill="none" stroke-width="2" stroke-dasharray="24 5.5" transform="rotate(216 828 1366)"/>
<circle cx="825" cy="1388" r="4.7" fill="none" stroke-width="2" stroke-dasharray="24 5.5" transform="rotate(356 825 1388)"/>
<path d="M813.8 1412 L811.8 1435 A11.2 11.2 0 0 0 834.2 1437 L836.2 1414 A11.2 11.2 0 0 0 813.8 1412Z" fill="#fff" stroke-width="3.6" />
<path d="M816.7 1412.3 L814.7 1435.3 A8.3 8.3 0 0 0 831.3 1436.7 L833.3 1413.7 A8.3 8.3 0 0 0 816.7 1412.3Z" fill="none" stroke-width="1.9" />
<circle cx="825" cy="1413" r="4.7" fill="none" stroke-width="2" stroke-dasharray="24 5.5" transform="rotate(322 825 1413)"/>
<circle cx="823" cy="1436" r="4.7" fill="none" stroke-width="2" stroke-dasharray="24 5.5" transform="rotate(102 823 1436)"/>
<path d="M809.8 1457 L807.8 1479 A11.2 11.2 0 0 0 830.2 1481 L832.2 1459 A11.2 11.2 0 0 0 809.8 1457Z" fill="#fff" stroke-width="3.6" />
<path d="M812.7 1457.2 L810.7 1479.2 A8.3 8.3 0 0 0 827.3 1480.8 L829.3 1458.8 A8.3 8.3 0 0 0 812.7 1457.2Z" fill="none" stroke-width="1.9" />
<circle cx="821" cy="1458" r="4.7" fill="none" stroke-width="2" stroke-dasharray="24 5.5" transform="rotate(68 821 1458)"/>
<circle cx="819" cy="1480" r="4.7" fill="none" stroke-width="2" stroke-dasharray="24 5.5" transform="rotate(208 819 1480)"/>
<path d="M806.9 1503.6 L803.9 1526.6 A11.2 11.2 0 0 0 826.1 1529.4 L829.1 1506.4 A11.2 11.2 0 0 0 806.9 1503.6Z" fill="#fff" stroke-width="3.6" />
<path d="M809.8 1503.9 L806.8 1526.9 A8.3 8.3 0 0 0 823.2 1529.1 L826.2 1506.1 A8.3 8.3 0 0 0 809.8 1503.9Z" fill="none" stroke-width="1.9" />
<circle cx="818" cy="1505" r="4.7" fill="none" stroke-width="2" stroke-dasharray="24 5.5" transform="rotate(174 818 1505)"/>
<circle cx="815" cy="1528" r="4.7" fill="none" stroke-width="2" stroke-dasharray="24 5.5" transform="rotate(314 815 1528)"/>
<path d="M802.9 1550.3 L799.9 1570.3 A11.2 11.2 0 0 0 822.1 1573.7 L825.1 1553.7 A11.2 11.2 0 0 0 802.9 1550.3Z" fill="#fff" stroke-width="3.6" />
<path d="M805.8 1550.8 L802.8 1570.8 A8.3 8.3 0 0 0 819.2 1573.2 L822.2 1553.2 A8.3 8.3 0 0 0 805.8 1550.8Z" fill="none" stroke-width="1.9" />
<circle cx="814" cy="1552" r="4.7" fill="none" stroke-width="2" stroke-dasharray="24 5.5" transform="rotate(280 814 1552)"/>
<circle cx="811" cy="1572" r="4.7" fill="none" stroke-width="2" stroke-dasharray="24 5.5" transform="rotate(60 811 1572)"/>
<path d="M800 1594.9 L797 1610.9 A11.2 11.2 0 0 0 819 1615.1 L822 1599.1 A11.2 11.2 0 0 0 800 1594.9Z" fill="#fff" stroke-width="3.6" />
<path d="M802.8 1595.5 L799.8 1611.5 A8.3 8.3 0 0 0 816.2 1614.5 L819.2 1598.5 A8.3 8.3 0 0 0 802.8 1595.5Z" fill="none" stroke-width="1.9" />
<circle cx="811" cy="1597" r="4.7" fill="none" stroke-width="2" stroke-dasharray="24 5.5" transform="rotate(26 811 1597)"/>
<circle cx="808" cy="1613" r="4.7" fill="none" stroke-width="2" stroke-dasharray="24 5.5" transform="rotate(166 808 1613)"/>
<path d="M791.5 1636 L783.5 1657 A11.2 11.2 0 0 0 804.5 1665 L812.5 1644 A11.2 11.2 0 0 0 791.5 1636Z" fill="#fff" stroke-width="3.6" />
<path d="M794.2 1637 L786.2 1658 A8.3 8.3 0 0 0 801.8 1664 L809.8 1643 A8.3 8.3 0 0 0 794.2 1637Z" fill="none" stroke-width="1.9" />
<circle cx="802" cy="1640" r="4.7" fill="none" stroke-width="2" stroke-dasharray="24 5.5" transform="rotate(132 802 1640)"/>
<circle cx="794" cy="1661" r="4.7" fill="none" stroke-width="2" stroke-dasharray="24 5.5" transform="rotate(272 794 1661)"/>
<path d="M772.3 1675 L755.3 1696 A11.2 11.2 0 0 0 772.7 1710 L789.7 1689 A11.2 11.2 0 0 0 772.3 1675Z" fill="#fff" stroke-width="3.6" />
<path d="M774.5 1676.8 L757.5 1697.8 A8.3 8.3 0 0 0 770.5 1708.2 L787.5 1687.2 A8.3 8.3 0 0 0 774.5 1676.8Z" fill="none" stroke-width="1.9" />
<circle cx="781" cy="1682" r="4.7" fill="none" stroke-width="2" stroke-dasharray="24 5.5" transform="rotate(238 781 1682)"/>
<circle cx="764" cy="1703" r="4.7" fill="none" stroke-width="2" stroke-dasharray="24 5.5" transform="rotate(18 764 1703)"/>
<path d="M738.7 1708.7 L719.7 1716.7 A11.2 11.2 0 0 0 728.3 1737.3 L747.3 1729.3 A11.2 11.2 0 0 0 738.7 1708.7Z" fill="#fff" stroke-width="3.6" />
<path d="M739.8 1711.4 L720.8 1719.4 A8.3 8.3 0 0 0 727.2 1734.6 L746.2 1726.6 A8.3 8.3 0 0 0 739.8 1711.4Z" fill="none" stroke-width="1.9" />
<circle cx="743" cy="1719" r="4.7" fill="none" stroke-width="2" stroke-dasharray="24 5.5" transform="rotate(344 743 1719)"/>
<circle cx="724" cy="1727" r="4.7" fill="none" stroke-width="2" stroke-dasharray="24 5.5" transform="rotate(124 724 1727)"/>
<path d="M699 1724.8 L676 1726.8 A11.2 11.2 0 0 0 678 1749.2 L701 1747.2 A11.2 11.2 0 0 0 699 1724.8Z" fill="#fff" stroke-width="3.6" />
<path d="M699.3 1727.7 L676.3 1729.7 A8.3 8.3 0 0 0 677.7 1746.3 L700.7 1744.3 A8.3 8.3 0 0 0 699.3 1727.7Z" fill="none" stroke-width="1.9" />
<circle cx="700" cy="1736" r="4.7" fill="none" stroke-width="2" stroke-dasharray="24 5.5" transform="rotate(90 700 1736)"/>
<circle cx="677" cy="1738" r="4.7" fill="none" stroke-width="2" stroke-dasharray="24 5.5" transform="rotate(230 677 1738)"/>
<path d="M655.5 1722.4 L634.5 1715.4 A11.2 11.2 0 0 0 627.5 1736.6 L648.5 1743.6 A11.2 11.2 0 0 0 655.5 1722.4Z" fill="#fff" stroke-width="3.6" />
<path d="M654.6 1725.1 L633.6 1718.1 A8.3 8.3 0 0 0 628.4 1733.9 L649.4 1740.9 A8.3 8.3 0 0 0 654.6 1725.1Z" fill="none" stroke-width="1.9" />
<circle cx="652" cy="1733" r="4.7" fill="none" stroke-width="2" stroke-dasharray="24 5.5" transform="rotate(196 652 1733)"/>
<circle cx="631" cy="1726" r="4.7" fill="none" stroke-width="2" stroke-dasharray="24 5.5" transform="rotate(336 631 1726)"/>
<path d="M622.1 1705.2 L614.1 1688.2 A11.2 11.2 0 0 0 593.9 1697.8 L601.9 1714.8 A11.2 11.2 0 0 0 622.1 1705.2Z" fill="#fff" stroke-width="3.6" />
<path d="M619.5 1706.5 L611.5 1689.5 A8.3 8.3 0 0 0 596.5 1696.5 L604.5 1713.5 A8.3 8.3 0 0 0 619.5 1706.5Z" fill="none" stroke-width="1.9" />
<circle cx="612" cy="1710" r="4.7" fill="none" stroke-width="2" stroke-dasharray="24 5.5" transform="rotate(302 612 1710)"/>
<circle cx="604" cy="1693" r="4.7" fill="none" stroke-width="2" stroke-dasharray="24 5.5" transform="rotate(82 604 1693)"/>
<path d="M605.2 1669.4 L606.2 1643.4 A11.2 11.2 0 0 0 583.8 1642.6 L582.8 1668.6 A11.2 11.2 0 0 0 605.2 1669.4Z" fill="#fff" stroke-width="3.6" />
<path d="M602.3 1669.3 L603.3 1643.3 A8.3 8.3 0 0 0 586.7 1642.7 L585.7 1668.7 A8.3 8.3 0 0 0 602.3 1669.3Z" fill="none" stroke-width="1.9" />
<circle cx="594" cy="1669" r="4.7" fill="none" stroke-width="2" stroke-dasharray="24 5.5" transform="rotate(48 594 1669)"/>
<circle cx="595" cy="1643" r="4.7" fill="none" stroke-width="2" stroke-dasharray="24 5.5" transform="rotate(188 595 1643)"/>
<path d="M607.2 1621.9 L609.2 1596.9 A11.2 11.2 0 0 0 586.8 1595.1 L584.8 1620.1 A11.2 11.2 0 0 0 607.2 1621.9Z" fill="#fff" stroke-width="3.6" />
<path d="M604.3 1621.7 L606.3 1596.7 A8.3 8.3 0 0 0 589.7 1595.3 L587.7 1620.3 A8.3 8.3 0 0 0 604.3 1621.7Z" fill="none" stroke-width="1.9" />
<circle cx="596" cy="1621" r="4.7" fill="none" stroke-width="2" stroke-dasharray="24 5.5" transform="rotate(154 596 1621)"/>
<circle cx="598" cy="1596" r="4.7" fill="none" stroke-width="2" stroke-dasharray="24 5.5" transform="rotate(294 598 1596)"/>
<path d="M610.2 1572 L612.2 1549 A11.2 11.2 0 0 0 589.8 1547 L587.8 1570 A11.2 11.2 0 0 0 610.2 1572Z" fill="#fff" stroke-width="3.6" />
<path d="M607.3 1571.7 L609.3 1548.7 A8.3 8.3 0 0 0 592.7 1547.3 L590.7 1570.3 A8.3 8.3 0 0 0 607.3 1571.7Z" fill="none" stroke-width="1.9" />
<circle cx="599" cy="1571" r="4.7" fill="none" stroke-width="2" stroke-dasharray="24 5.5" transform="rotate(260 599 1571)"/>
<circle cx="601" cy="1548" r="4.7" fill="none" stroke-width="2" stroke-dasharray="24 5.5" transform="rotate(40 601 1548)"/>
<path d="M612.1 1525.4 L615.1 1502.4 A11.2 11.2 0 0 0 592.9 1499.6 L589.9 1522.6 A11.2 11.2 0 0 0 612.1 1525.4Z" fill="#fff" stroke-width="3.6" />
<path d="M609.2 1525.1 L612.2 1502.1 A8.3 8.3 0 0 0 595.8 1499.9 L592.8 1522.9 A8.3 8.3 0 0 0 609.2 1525.1Z" fill="none" stroke-width="1.9" />
<circle cx="601" cy="1524" r="4.7" fill="none" stroke-width="2" stroke-dasharray="24 5.5" transform="rotate(6 601 1524)"/>
<circle cx="604" cy="1501" r="4.7" fill="none" stroke-width="2" stroke-dasharray="24 5.5" transform="rotate(146 604 1501)"/>
<path d="M615 1478 L619 1456 A11.2 11.2 0 0 0 597 1452 L593 1474 A11.2 11.2 0 0 0 615 1478Z" fill="#fff" stroke-width="3.6" />
<path d="M612.2 1477.5 L616.2 1455.5 A8.3 8.3 0 0 0 599.8 1452.5 L595.8 1474.5 A8.3 8.3 0 0 0 612.2 1477.5Z" fill="none" stroke-width="1.9" />
<circle cx="604" cy="1476" r="4.7" fill="none" stroke-width="2" stroke-dasharray="24 5.5" transform="rotate(112 604 1476)"/>
<circle cx="608" cy="1454" r="4.7" fill="none" stroke-width="2" stroke-dasharray="24 5.5" transform="rotate(252 608 1454)"/>
<path d="M619.2 1429.5 L620.2 1406.5 A11.2 11.2 0 0 0 597.8 1405.5 L596.8 1428.5 A11.2 11.2 0 0 0 619.2 1429.5Z" fill="#fff" stroke-width="3.6" />
<path d="M616.3 1429.4 L617.3 1406.4 A8.3 8.3 0 0 0 600.7 1405.6 L599.7 1428.6 A8.3 8.3 0 0 0 616.3 1429.4Z" fill="none" stroke-width="1.9" />
<circle cx="608" cy="1429" r="4.7" fill="none" stroke-width="2" stroke-dasharray="24 5.5" transform="rotate(218 608 1429)"/>
<circle cx="609" cy="1406" r="4.7" fill="none" stroke-width="2" stroke-dasharray="24 5.5" transform="rotate(358 609 1406)"/>
<path d="M620.2 1382.9 L622.2 1358.9 A11.2 11.2 0 0 0 599.8 1357.1 L597.8 1381.1 A11.2 11.2 0 0 0 620.2 1382.9Z" fill="#fff" stroke-width="3.6" />
<path d="M617.3 1382.7 L619.3 1358.7 A8.3 8.3 0 0 0 602.7 1357.3 L600.7 1381.3 A8.3 8.3 0 0 0 617.3 1382.7Z" fill="none" stroke-width="1.9" />
<circle cx="609" cy="1382" r="4.7" fill="none" stroke-width="2" stroke-dasharray="24 5.5" transform="rotate(324 609 1382)"/>
<circle cx="611" cy="1358" r="4.7" fill="none" stroke-width="2" stroke-dasharray="24 5.5" transform="rotate(104 611 1358)"/>
<path d="M621.2 1334 L623.2 1311 A11.2 11.2 0 0 0 600.8 1309 L598.8 1332 A11.2 11.2 0 0 0 621.2 1334Z" fill="#fff" stroke-width="3.6" />
<path d="M618.3 1333.7 L620.3 1310.7 A8.3 8.3 0 0 0 603.7 1309.3 L601.7 1332.3 A8.3 8.3 0 0 0 618.3 1333.7Z" fill="none" stroke-width="1.9" />
<circle cx="610" cy="1333" r="4.7" fill="none" stroke-width="2" stroke-dasharray="24 5.5" transform="rotate(70 610 1333)"/>
<circle cx="612" cy="1310" r="4.7" fill="none" stroke-width="2" stroke-dasharray="24 5.5" transform="rotate(210 612 1310)"/>
<path d="M623.2 1287.5 L624.2 1264.5 A11.2 11.2 0 0 0 601.8 1263.5 L600.8 1286.5 A11.2 11.2 0 0 0 623.2 1287.5Z" fill="#fff" stroke-width="3.6" />
<path d="M620.3 1287.4 L621.3 1264.4 A8.3 8.3 0 0 0 604.7 1263.6 L603.7 1286.6 A8.3 8.3 0 0 0 620.3 1287.4Z" fill="none" stroke-width="1.9" />
<circle cx="612" cy="1287" r="4.7" fill="none" stroke-width="2" stroke-dasharray="24 5.5" transform="rotate(176 612 1287)"/>
<circle cx="613" cy="1264" r="4.7" fill="none" stroke-width="2" stroke-dasharray="24 5.5" transform="rotate(316 613 1264)"/>
<path d="M624.2 1242.9 L626.2 1216.9 A11.2 11.2 0 0 0 603.8 1215.1 L601.8 1241.1 A11.2 11.2 0 0 0 624.2 1242.9Z" fill="#fff" stroke-width="3.6" />
<path d="M621.3 1242.6 L623.3 1216.6 A8.3 8.3 0 0 0 606.7 1215.4 L604.7 1241.4 A8.3 8.3 0 0 0 621.3 1242.6Z" fill="none" stroke-width="1.9" />
<circle cx="613" cy="1242" r="4.7" fill="none" stroke-width="2" stroke-dasharray="24 5.5" transform="rotate(282 613 1242)"/>
<circle cx="615" cy="1216" r="4.7" fill="none" stroke-width="2" stroke-dasharray="24 5.5" transform="rotate(62 615 1216)"/>
<path d="M626.2 1193 L626.2 1171 A11.2 11.2 0 0 0 603.8 1171 L603.8 1193 A11.2 11.2 0 0 0 626.2 1193Z" fill="#fff" stroke-width="3.6" />
<path d="M623.3 1193 L623.3 1171 A8.3 8.3 0 0 0 606.7 1171 L606.7 1193 A8.3 8.3 0 0 0 623.3 1193Z" fill="none" stroke-width="1.9" />
<circle cx="615" cy="1193" r="4.7" fill="none" stroke-width="2" stroke-dasharray="24 5.5" transform="rotate(28 615 1193)"/>
<circle cx="615" cy="1171" r="4.7" fill="none" stroke-width="2" stroke-dasharray="24 5.5" transform="rotate(168 615 1171)"/>
<path d="M622.2 1145 L622.2 1122 A11.2 11.2 0 0 0 599.8 1122 L599.8 1145 A11.2 11.2 0 0 0 622.2 1145Z" fill="#fff" stroke-width="3.6" />
<path d="M619.3 1145 L619.3 1122 A8.3 8.3 0 0 0 602.7 1122 L602.7 1145 A8.3 8.3 0 0 0 619.3 1145Z" fill="none" stroke-width="1.9" />
<circle cx="611" cy="1145" r="4.7" fill="none" stroke-width="2" stroke-dasharray="24 5.5" transform="rotate(134 611 1145)"/>
<circle cx="611" cy="1122" r="4.7" fill="none" stroke-width="2" stroke-dasharray="24 5.5" transform="rotate(274 611 1122)"/>
<path d="M621.2 1095.4 L620.2 1075.4 A11.2 11.2 0 0 0 597.8 1076.6 L598.8 1096.6 A11.2 11.2 0 0 0 621.2 1095.4Z" fill="#fff" stroke-width="3.6" />
<path d="M618.3 1095.6 L617.3 1075.6 A8.3 8.3 0 0 0 600.7 1076.4 L601.7 1096.4 A8.3 8.3 0 0 0 618.3 1095.6Z" fill="none" stroke-width="1.9" />
<circle cx="610" cy="1096" r="4.7" fill="none" stroke-width="2" stroke-dasharray="24 5.5" transform="rotate(240 610 1096)"/>
<circle cx="609" cy="1076" r="4.7" fill="none" stroke-width="2" stroke-dasharray="24 5.5" transform="rotate(20 609 1076)"/>
<path d="M617.2 1051.5 L616.2 1029.5 A11.2 11.2 0 0 0 593.8 1030.5 L594.8 1052.5 A11.2 11.2 0 0 0 617.2 1051.5Z" fill="#fff" stroke-width="3.6" />
<path d="M614.3 1051.6 L613.3 1029.6 A8.3 8.3 0 0 0 596.7 1030.4 L597.7 1052.4 A8.3 8.3 0 0 0 614.3 1051.6Z" fill="none" stroke-width="1.9" />
<circle cx="606" cy="1052" r="4.7" fill="none" stroke-width="2" stroke-dasharray="24 5.5" transform="rotate(346 606 1052)"/>
<circle cx="605" cy="1030" r="4.7" fill="none" stroke-width="2" stroke-dasharray="24 5.5" transform="rotate(126 605 1030)"/>
<path d="M612.1 1002.9 L610.1 982.9 A11.2 11.2 0 0 0 587.9 985.1 L589.9 1005.1 A11.2 11.2 0 0 0 612.1 1002.9Z" fill="#fff" stroke-width="3.6" />
<path d="M609.3 1003.2 L607.3 983.2 A8.3 8.3 0 0 0 590.7 984.8 L592.7 1004.8 A8.3 8.3 0 0 0 609.3 1003.2Z" fill="none" stroke-width="1.9" />
<circle cx="601" cy="1004" r="4.7" fill="none" stroke-width="2" stroke-dasharray="24 5.5" transform="rotate(92 601 1004)"/>
<circle cx="599" cy="984" r="4.7" fill="none" stroke-width="2" stroke-dasharray="24 5.5" transform="rotate(232 599 984)"/>
<path d="M606.1 960.9 L604.1 939.9 A11.2 11.2 0 0 0 581.9 942.1 L583.9 963.1 A11.2 11.2 0 0 0 606.1 960.9Z" fill="#fff" stroke-width="3.6" />
<path d="M603.3 961.2 L601.3 940.2 A8.3 8.3 0 0 0 584.7 941.8 L586.7 962.8 A8.3 8.3 0 0 0 603.3 961.2Z" fill="none" stroke-width="1.9" />
<circle cx="595" cy="962" r="4.7" fill="none" stroke-width="2" stroke-dasharray="24 5.5" transform="rotate(198 595 962)"/>
<circle cx="593" cy="941" r="4.7" fill="none" stroke-width="2" stroke-dasharray="24 5.5" transform="rotate(338 593 941)"/>
<path d="M599 915.9 L595 894.9 A11.2 11.2 0 0 0 573 899.1 L577 920.1 A11.2 11.2 0 0 0 599 915.9Z" fill="#fff" stroke-width="3.6" />
<path d="M596.2 916.4 L592.2 895.4 A8.3 8.3 0 0 0 575.8 898.6 L579.8 919.6 A8.3 8.3 0 0 0 596.2 916.4Z" fill="none" stroke-width="1.9" />
<circle cx="588" cy="918" r="4.7" fill="none" stroke-width="2" stroke-dasharray="24 5.5" transform="rotate(304 588 918)"/>
<circle cx="584" cy="897" r="4.7" fill="none" stroke-width="2" stroke-dasharray="24 5.5" transform="rotate(84 584 897)"/>
<path d="M590.1 872.4 L587.1 851.4 A11.2 11.2 0 0 0 564.9 854.6 L567.9 875.6 A11.2 11.2 0 0 0 590.1 872.4Z" fill="#fff" stroke-width="3.6" />
<path d="M587.2 872.8 L584.2 851.8 A8.3 8.3 0 0 0 567.8 854.2 L570.8 875.2 A8.3 8.3 0 0 0 587.2 872.8Z" fill="none" stroke-width="1.9" />
<circle cx="579" cy="874" r="4.7" fill="none" stroke-width="2" stroke-dasharray="24 5.5" transform="rotate(50 579 874)"/>
<circle cx="576" cy="853" r="4.7" fill="none" stroke-width="2" stroke-dasharray="24 5.5" transform="rotate(190 576 853)"/>
<path d="M579 826.7 L575 807.7 A11.2 11.2 0 0 0 553 812.3 L557 831.3 A11.2 11.2 0 0 0 579 826.7Z" fill="#fff" stroke-width="3.6" />
<path d="M576.1 827.3 L572.1 808.3 A8.3 8.3 0 0 0 555.9 811.7 L559.9 830.7 A8.3 8.3 0 0 0 576.1 827.3Z" fill="none" stroke-width="1.9" />
<circle cx="568" cy="829" r="4.7" fill="none" stroke-width="2" stroke-dasharray="24 5.5" transform="rotate(156 568 829)"/>
<circle cx="564" cy="810" r="4.7" fill="none" stroke-width="2" stroke-dasharray="24 5.5" transform="rotate(296 564 810)"/>
<path d="M568.5 784 L560.5 763 A11.2 11.2 0 0 0 539.5 771 L547.5 792 A11.2 11.2 0 0 0 568.5 784Z" fill="#fff" stroke-width="3.6" />
<path d="M565.8 785 L557.8 764 A8.3 8.3 0 0 0 542.2 770 L550.2 791 A8.3 8.3 0 0 0 565.8 785Z" fill="none" stroke-width="1.9" />
<circle cx="558" cy="788" r="4.7" fill="none" stroke-width="2" stroke-dasharray="24 5.5" transform="rotate(262 558 788)"/>
<circle cx="550" cy="767" r="4.7" fill="none" stroke-width="2" stroke-dasharray="24 5.5" transform="rotate(42 550 767)"/>
<path d="M553.6 742.3 L546.6 722.3 A11.2 11.2 0 0 0 525.4 729.7 L532.4 749.7 A11.2 11.2 0 0 0 553.6 742.3Z" fill="#fff" stroke-width="3.6" />
<path d="M550.8 743.3 L543.8 723.3 A8.3 8.3 0 0 0 528.2 728.7 L535.2 748.7 A8.3 8.3 0 0 0 550.8 743.3Z" fill="none" stroke-width="1.9" />
<circle cx="543" cy="746" r="4.7" fill="none" stroke-width="2" stroke-dasharray="24 5.5" transform="rotate(8 543 746)"/>
<circle cx="536" cy="726" r="4.7" fill="none" stroke-width="2" stroke-dasharray="24 5.5" transform="rotate(148 536 726)"/>
<path d="M539.5 702.1 L532.5 683.1 A11.2 11.2 0 0 0 511.5 690.9 L518.5 709.9 A11.2 11.2 0 0 0 539.5 702.1Z" fill="#fff" stroke-width="3.6" />
<path d="M536.8 703.1 L529.8 684.1 A8.3 8.3 0 0 0 514.2 689.9 L521.2 708.9 A8.3 8.3 0 0 0 536.8 703.1Z" fill="none" stroke-width="1.9" />
<circle cx="529" cy="706" r="4.7" fill="none" stroke-width="2" stroke-dasharray="24 5.5" transform="rotate(114 529 706)"/>
<circle cx="522" cy="687" r="4.7" fill="none" stroke-width="2" stroke-dasharray="24 5.5" transform="rotate(254 522 687)"/>
<path d="M524.3 663.7 L516.3 644.7 A11.2 11.2 0 0 0 495.7 653.3 L503.7 672.3 A11.2 11.2 0 0 0 524.3 663.7Z" fill="#fff" stroke-width="3.6" />
<path d="M521.6 664.8 L513.6 645.8 A8.3 8.3 0 0 0 498.4 652.2 L506.4 671.2 A8.3 8.3 0 0 0 521.6 664.8Z" fill="none" stroke-width="1.9" />
<circle cx="514" cy="668" r="4.7" fill="none" stroke-width="2" stroke-dasharray="24 5.5" transform="rotate(220 514 668)"/>
<circle cx="506" cy="649" r="4.7" fill="none" stroke-width="2" stroke-dasharray="24 5.5" transform="rotate(0 506 649)"/>
<path d="M507.2 623.4 L498.2 603.4 A11.2 11.2 0 0 0 477.8 612.6 L486.8 632.6 A11.2 11.2 0 0 0 507.2 623.4Z" fill="#fff" stroke-width="3.6" />
<path d="M504.6 624.6 L495.6 604.6 A8.3 8.3 0 0 0 480.4 611.4 L489.4 631.4 A8.3 8.3 0 0 0 504.6 624.6Z" fill="none" stroke-width="1.9" />
<circle cx="497" cy="628" r="4.7" fill="none" stroke-width="2" stroke-dasharray="24 5.5" transform="rotate(326 497 628)"/>
<circle cx="488" cy="608" r="4.7" fill="none" stroke-width="2" stroke-dasharray="24 5.5" transform="rotate(106 488 608)"/>
<path d="M488.2 583.4 L479.2 563.4 A11.2 11.2 0 0 0 458.8 572.6 L467.8 592.6 A11.2 11.2 0 0 0 488.2 583.4Z" fill="#fff" stroke-width="3.6" />
<path d="M485.6 584.6 L476.6 564.6 A8.3 8.3 0 0 0 461.4 571.4 L470.4 591.4 A8.3 8.3 0 0 0 485.6 584.6Z" fill="none" stroke-width="1.9" />
<circle cx="478" cy="588" r="4.7" fill="none" stroke-width="2" stroke-dasharray="24 5.5" transform="rotate(72 478 588)"/>
<circle cx="469" cy="568" r="4.7" fill="none" stroke-width="2" stroke-dasharray="24 5.5" transform="rotate(212 469 568)"/>
<path d="M465.9 542.8 L455.9 523.8 A11.2 11.2 0 0 0 436.1 534.2 L446.1 553.2 A11.2 11.2 0 0 0 465.9 542.8Z" fill="#fff" stroke-width="3.6" />
<path d="M463.3 544.1 L453.3 525.1 A8.3 8.3 0 0 0 438.7 532.9 L448.7 551.9 A8.3 8.3 0 0 0 463.3 544.1Z" fill="none" stroke-width="1.9" />
<circle cx="456" cy="548" r="4.7" fill="none" stroke-width="2" stroke-dasharray="24 5.5" transform="rotate(178 456 548)"/>
<circle cx="446" cy="529" r="4.7" fill="none" stroke-width="2" stroke-dasharray="24 5.5" transform="rotate(318 446 529)"/>
<path d="M446.9 505.5 L441.9 483.5 A11.2 11.2 0 0 0 420.1 488.5 L425.1 510.5 A11.2 11.2 0 0 0 446.9 505.5Z" fill="#fff" stroke-width="3.6" />
<path d="M444.1 506.2 L439.1 484.2 A8.3 8.3 0 0 0 422.9 487.8 L427.9 509.8 A8.3 8.3 0 0 0 444.1 506.2Z" fill="none" stroke-width="1.9" />
<circle cx="436" cy="508" r="4.7" fill="none" stroke-width="2" stroke-dasharray="24 5.5" transform="rotate(284 436 508)"/>
<circle cx="431" cy="486" r="4.7" fill="none" stroke-width="2" stroke-dasharray="24 5.5" transform="rotate(64 431 486)"/>
<path d="M438.2 464 L438.2 439 A11.2 11.2 0 0 0 415.8 439 L415.8 464 A11.2 11.2 0 0 0 438.2 464Z" fill="#fff" stroke-width="3.6" />
<path d="M435.3 464 L435.3 439 A8.3 8.3 0 0 0 418.7 439 L418.7 464 A8.3 8.3 0 0 0 435.3 464Z" fill="none" stroke-width="1.9" />
<circle cx="427" cy="464" r="4.7" fill="none" stroke-width="2" stroke-dasharray="24 5.5" transform="rotate(30 427 464)"/>
<circle cx="427" cy="439" r="4.7" fill="none" stroke-width="2" stroke-dasharray="24 5.5" transform="rotate(170 427 439)"/>
<path d="M440 419.3 L445 395.3 A11.2 11.2 0 0 0 423 390.7 L418 414.7 A11.2 11.2 0 0 0 440 419.3Z" fill="#fff" stroke-width="3.6" />
<path d="M437.1 418.7 L442.1 394.7 A8.3 8.3 0 0 0 425.9 391.3 L420.9 415.3 A8.3 8.3 0 0 0 437.1 418.7Z" fill="none" stroke-width="1.9" />
<circle cx="429" cy="417" r="4.7" fill="none" stroke-width="2" stroke-dasharray="24 5.5" transform="rotate(136 429 417)"/>
<circle cx="434" cy="393" r="4.7" fill="none" stroke-width="2" stroke-dasharray="24 5.5" transform="rotate(276 434 393)"/>
<path d="M451.3 372.5 L462.3 347.5 A11.2 11.2 0 0 0 441.7 338.5 L430.7 363.5 A11.2 11.2 0 0 0 451.3 372.5Z" fill="#fff" stroke-width="3.6" />
<path d="M448.6 371.3 L459.6 346.3 A8.3 8.3 0 0 0 444.4 339.7 L433.4 364.7 A8.3 8.3 0 0 0 448.6 371.3Z" fill="none" stroke-width="1.9" />
<circle cx="441" cy="368" r="4.7" fill="none" stroke-width="2" stroke-dasharray="24 5.5" transform="rotate(242 441 368)"/>
<circle cx="452" cy="343" r="4.7" fill="none" stroke-width="2" stroke-dasharray="24 5.5" transform="rotate(22 452 343)"/>
<path d="M472.7 330.1 L485.7 314.1 A11.2 11.2 0 0 0 468.3 299.9 L455.3 315.9 A11.2 11.2 0 0 0 472.7 330.1Z" fill="#fff" stroke-width="3.6" />
<path d="M470.4 328.2 L483.4 312.2 A8.3 8.3 0 0 0 470.6 301.8 L457.6 317.8 A8.3 8.3 0 0 0 470.4 328.2Z" fill="none" stroke-width="1.9" />
<circle cx="464" cy="323" r="4.7" fill="none" stroke-width="2" stroke-dasharray="24 5.5" transform="rotate(348 464 323)"/>
<circle cx="477" cy="307" r="4.7" fill="none" stroke-width="2" stroke-dasharray="24 5.5" transform="rotate(128 477 307)"/>
<path d="M500.8 295 L519.8 271 A11.2 11.2 0 0 0 502.2 257 L483.2 281 A11.2 11.2 0 0 0 500.8 295Z" fill="#fff" stroke-width="3.6" />
<path d="M498.5 293.2 L517.5 269.2 A8.3 8.3 0 0 0 504.5 258.8 L485.5 282.8 A8.3 8.3 0 0 0 498.5 293.2Z" fill="none" stroke-width="1.9" />
<circle cx="492" cy="288" r="4.7" fill="none" stroke-width="2" stroke-dasharray="24 5.5" transform="rotate(94 492 288)"/>
<circle cx="511" cy="264" r="4.7" fill="none" stroke-width="2" stroke-dasharray="24 5.5" transform="rotate(234 511 264)"/>
<path d="M535.6 258.1 L553.6 245.1 A11.2 11.2 0 0 0 540.4 226.9 L522.4 239.9 A11.2 11.2 0 0 0 535.6 258.1Z" fill="#fff" stroke-width="3.6" />
<path d="M533.9 255.7 L551.9 242.7 A8.3 8.3 0 0 0 542.1 229.3 L524.1 242.3 A8.3 8.3 0 0 0 533.9 255.7Z" fill="none" stroke-width="1.9" />
<circle cx="529" cy="249" r="4.7" fill="none" stroke-width="2" stroke-dasharray="24 5.5" transform="rotate(200 529 249)"/>
<circle cx="547" cy="236" r="4.7" fill="none" stroke-width="2" stroke-dasharray="24 5.5" transform="rotate(340 547 236)"/>
<path d="M571.6 237.2 L591.6 228.2 A11.2 11.2 0 0 0 582.4 207.8 L562.4 216.8 A11.2 11.2 0 0 0 571.6 237.2Z" fill="#fff" stroke-width="3.6" />
<path d="M570.4 234.6 L590.4 225.6 A8.3 8.3 0 0 0 583.6 210.4 L563.6 219.4 A8.3 8.3 0 0 0 570.4 234.6Z" fill="none" stroke-width="1.9" />
<circle cx="567" cy="227" r="4.7" fill="none" stroke-width="2" stroke-dasharray="24 5.5" transform="rotate(306 567 227)"/>
<circle cx="587" cy="218" r="4.7" fill="none" stroke-width="2" stroke-dasharray="24 5.5" transform="rotate(86 587 218)"/>
</g>
<line x1="573.7" y1="382.9" x2="613" y2="407.7" stroke-width="3.4" />
<g id="leaders" stroke-linecap="butt">
<line x1="732" y1="86" x2="730.7" y2="106.6" stroke-width="3.8" />
<line x1="249.4" y1="242.6" x2="244.8" y2="304" stroke-width="3.8" />
<line x1="354" y1="256.5" x2="430.7" y2="302.8" stroke-width="3.8" />
<line x1="59" y1="521.4" x2="115" y2="519.7" stroke-width="3.8" />
<line x1="205.7" y1="568.6" x2="301.7" y2="643.7" stroke-width="3.8" />
<line x1="279.4" y1="792.8" x2="351.4" y2="792.8" stroke-width="3.8" />
<line x1="161" y1="1102" x2="205.7" y2="1102" stroke-width="3.8" />
<line x1="301.7" y1="1157.7" x2="354.5" y2="1203.5" stroke-width="3.8" />
<line x1="357.6" y1="1312.5" x2="373" y2="1328" stroke-width="3.8" />
<line x1="700" y1="548" x2="695.5" y2="620" stroke-width="3.8" />
<line x1="590" y1="850" x2="650" y2="856" stroke-width="3.8" />
<line x1="491" y1="787" x2="522" y2="814" stroke-width="3.8" />
<line x1="1215" y1="752" x2="1211" y2="808" stroke-width="3.8" />
<line x1="1081" y1="878" x2="1263" y2="848" stroke-width="3.8" />
<line x1="1424" y1="726" x2="1420.8" y2="772.6" stroke-width="3.8" />
<line x1="1513.4" y1="810.3" x2="1643.7" y2="789.7" stroke-width="3.8" />
<line x1="1609.4" y1="815.4" x2="1608.7" y2="846" stroke-width="3.8" />
<line x1="982" y1="1203" x2="1053" y2="1210" stroke-width="3.8" />
<line x1="655" y1="1482" x2="651" y2="1528" stroke-width="3.8" />
<line x1="758" y1="1485" x2="755" y2="1558" stroke-width="3.8" />
<line x1="519" y1="1454" x2="572" y2="1526" stroke-width="3.8" />
<line x1="615" y1="1564" x2="632" y2="1580" stroke-width="3.8" />
<line x1="698" y1="1638" x2="802" y2="1729" stroke-width="3.8" />
<line x1="410" y1="1766.4" x2="469" y2="1771.6" stroke-width="3.8" />
<line x1="534" y1="1814" x2="568" y2="1847" stroke-width="3.8" />
<line x1="586" y1="1866" x2="623" y2="1903" stroke-width="3.8" />
<line x1="892.4" y1="1806.6" x2="888.6" y2="1855" stroke-width="3.8" />
<line x1="357.6" y1="1207" x2="357.6" y2="1313" stroke-width="5.5" stroke-dasharray="10.5 5"/>
</g>
<g id="labels" fill="#000" stroke="#000" stroke-width="1.6" stroke-linejoin="miter" font-family="'Liberation Sans', Arial, Helvetica, sans-serif">
<text x="710.5" y="74" font-size="78" text-anchor="start" >4</text>
<text x="217" y="372.5" font-size="78" text-anchor="start" >2</text>
<text x="11" y="547.5" font-size="78" text-anchor="start" >6</text>
<text x="231" y="825" font-size="78" text-anchor="start" >5</text>
<text x="113" y="1131.5" font-size="78" text-anchor="start" >6</text>
<text x="677" y="683.5" font-size="78" text-anchor="start" >1</text>
<text x="653" y="882.5" font-size="78" text-anchor="start" >3</text>
<text x="1176.5" y="743" font-size="78" text-anchor="start" textLength="79" lengthAdjust="spacingAndGlyphs">12</text>
<text x="1407" y="719" font-size="78" text-anchor="start" >9</text>
<text x="1565.5" y="907.5" font-size="78" text-anchor="start" textLength="79" lengthAdjust="spacingAndGlyphs">10</text>
<text x="1063.5" y="1237.5" font-size="78" text-anchor="start" textLength="79" lengthAdjust="spacingAndGlyphs">13</text>
<text x="623.5" y="1474" font-size="78" text-anchor="start" textLength="79" lengthAdjust="spacingAndGlyphs">15</text>
<text x="707.5" y="1474" font-size="78" text-anchor="start" textLength="79" lengthAdjust="spacingAndGlyphs">14</text>
<text x="361" y="1799.5" font-size="78" text-anchor="start" >8</text>
<text x="867" y="1917.5" font-size="78" text-anchor="start" >7</text>
<text x="1332" y="1934" font-size="65.5" text-anchor="start" stroke-width="1.2" textLength="404" lengthAdjust="spacingAndGlyphs">F4776 CAC93</text>
</g>
</svg>
</body>
</html>
